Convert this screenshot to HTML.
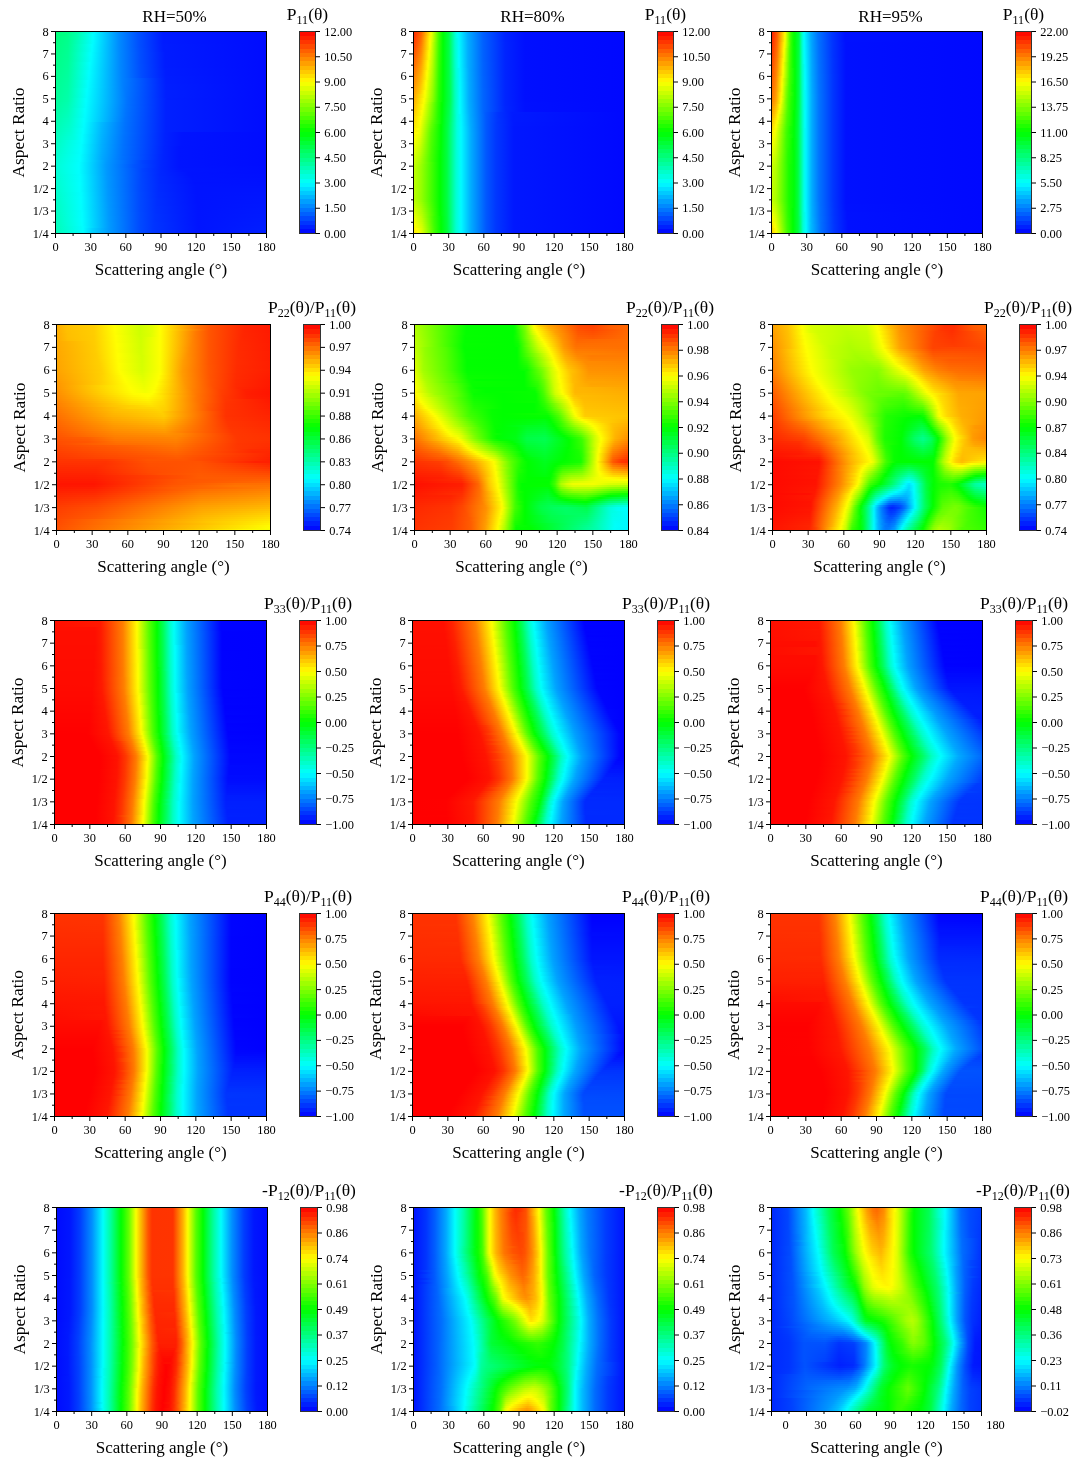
<!DOCTYPE html>
<html><head><meta charset="utf-8"><title>Scattering matrix contour plots</title>
<style>
html,body{margin:0;padding:0;background:#fff;}
body{width:1080px;height:1467px;position:relative;overflow:hidden;}
.hm{position:absolute;overflow:hidden;}
.hm i{display:block;}
.cb{position:absolute;}
svg{position:absolute;left:0;top:0;}
text{font-family:"Liberation Serif","DejaVu Serif",serif;fill:#000;}
line{stroke:#000;stroke-width:1;}
.fr{fill:none;stroke:#000;stroke-width:1;}
.cf{fill:none;stroke:#333;stroke-width:1;}
</style></head><body>
<div class="hm" style="left:56px;top:32px;width:210px;height:201px"><i style="height:2px;background:linear-gradient(90deg,#00ff7b 0px,#00ff8a 12px,#00ffad 22px,#00fbff 38px,#008bff 63px,#0051ff 82px,#001aff 107px,#000cff 210px)"></i><i style="height:2px;background:linear-gradient(90deg,#00ff7c 0px,#00ff82 9px,#00ffa7 20px,#0ff 37px,#008bff 63px,#0051ff 82px,#001aff 107px,#000cff 210px)"></i><i style="height:2px;background:linear-gradient(90deg,#00ff7d 0px,#00ff8c 12px,#00ffb0 22px,#00feff 37px,#008bff 63px,#0051ff 82px,#001bff 107px,#000cff 210px)"></i><i style="height:2px;background:linear-gradient(90deg,#00ff7e 0px,#00ff8d 12px,#00ffb1 22px,#00feff 37px,#008bff 63px,#0051ff 82px,#001bff 107px,#000cff 210px)"></i><i style="height:2px;background:linear-gradient(90deg,#00ff7f 0px,#00ff8e 12px,#00fdff 37px,#008bff 63px,#004fff 83px,#001bff 107px,#000cff 210px)"></i><i style="height:2px;background:linear-gradient(90deg,#00ff7f 0px,#00ff8f 12px,#00fcff 37px,#008bff 63px,#004fff 83px,#001bff 107px,#000cff 210px)"></i><i style="height:2px;background:linear-gradient(90deg,#00ff80 0px,#00ff90 12px,#0ff 36px,#008bff 63px,#004fff 83px,#001cff 107px,#000cff 210px)"></i><i style="height:2px;background:linear-gradient(90deg,#00ff81 0px,#00ff91 12px,#00feff 36px,#008bff 63px,#004fff 83px,#001cff 107px,#000cff 210px)"></i><i style="height:2px;background:linear-gradient(90deg,#00ff82 0px,#00ff92 12px,#00fdff 36px,#008bff 63px,#0050ff 83px,#001cff 107px,#000cff 210px)"></i><i style="height:2px;background:linear-gradient(90deg,#00ff83 0px,#00ff93 12px,#00fdff 36px,#008bff 63px,#0050ff 83px,#001bff 108px,#000cff 210px)"></i><i style="height:2px;background:linear-gradient(90deg,#00ff84 0px,#00ff94 12px,#00fffe 35px,#08f 64px,#004eff 84px,#001bff 109px,#000cff 210px)"></i><i style="height:2px;background:linear-gradient(90deg,#00ff85 0px,#00ff95 12px,#0ff 35px,#08f 64px,#004eff 84px,#001bff 109px,#000cff 210px)"></i><i style="height:2px;background:linear-gradient(90deg,#00ff86 0px,#00ff95 12px,#00feff 35px,#08f 64px,#004eff 84px,#001bff 109px,#000cff 210px)"></i><i style="height:2px;background:linear-gradient(90deg,#00ff87 0px,#00ff96 12px,#00fdff 35px,#08f 64px,#004eff 84px,#001bff 109px,#000cff 210px)"></i><i style="height:2px;background:linear-gradient(90deg,#0f8 0px,#00ff97 12px,#00fcff 35px,#08f 64px,#004eff 84px,#001cff 109px,#000cff 210px)"></i><i style="height:2px;background:linear-gradient(90deg,#00ff89 0px,#00ff98 12px,#0ff 34px,#08f 64px,#004eff 84px,#001cff 109px,#000cff 210px)"></i><i style="height:2px;background:linear-gradient(90deg,#00ff89 0px,#0f9 12px,#00feff 34px,#08f 64px,#004fff 84px,#001cff 109px,#000cff 210px)"></i><i style="height:2px;background:linear-gradient(90deg,#00ff8a 0px,#00ff9a 12px,#00fdff 34px,#08f 64px,#004fff 84px,#001cff 109px,#000cff 210px)"></i><i style="height:2px;background:linear-gradient(90deg,#00ff8b 0px,#00ff9b 12px,#00fcff 34px,#08f 64px,#004fff 84px,#001dff 109px,#000cff 210px)"></i><i style="height:2px;background:linear-gradient(90deg,#00ff8c 0px,#00ff9c 12px,#00fffe 33px,#0085ff 65px,#004dff 85px,#001cff 110px,#000cff 210px)"></i><i style="height:2px;background:linear-gradient(90deg,#00ff8d 0px,#00ff9d 12px,#0ff 33px,#0085ff 65px,#004dff 85px,#001cff 110px,#000cff 210px)"></i><i style="height:2px;background:linear-gradient(90deg,#00ff8e 0px,#00ff9e 12px,#00feff 33px,#0085ff 65px,#004bff 86px,#001cff 110px,#000cff 210px)"></i><i style="height:2px;background:linear-gradient(90deg,#00ff8f 0px,#00ff9f 12px,#00fdff 33px,#0082ff 66px,#004bff 86px,#001dff 110px,#000cff 210px)"></i><i style="height:2px;background:linear-gradient(90deg,#00ff90 0px,#00ffa0 12px,#00fcff 33px,#0082ff 66px,#001dff 110px,#000cff 210px)"></i><i style="height:2px;background:linear-gradient(90deg,#00ff91 0px,#00ffa1 12px,#0ff 32px,#0082ff 66px,#001dff 110px,#000cff 210px)"></i><i style="height:2px;background:linear-gradient(90deg,#00ff92 0px,#00ffa2 12px,#00feff 32px,#007fff 67px,#001dff 110px,#000cff 210px)"></i><i style="height:2px;background:linear-gradient(90deg,#00ff93 0px,#00ffa3 12px,#00fdff 32px,#007fff 67px,#001eff 110px,#000cff 210px)"></i><i style="height:2px;background:linear-gradient(90deg,#00ff94 0px,#00ffa4 12px,#00fdff 32px,#007cff 68px,#001eff 110px,#000cff 210px)"></i><i style="height:2px;background:linear-gradient(90deg,#00ff94 0px,#00ffa5 12px,#00fffe 31px,#007cff 68px,#001eff 110px,#000cff 210px)"></i><i style="height:2px;background:linear-gradient(90deg,#00ff95 0px,#00ffa6 12px,#0ff 31px,#007aff 69px,#001fff 110px,#000cff 210px)"></i><i style="height:2px;background:linear-gradient(90deg,#00ff96 0px,#00ffa7 12px,#00feff 31px,#07f 70px,#001fff 110px,#000cff 210px)"></i><i style="height:2px;background:linear-gradient(90deg,#00ff97 0px,#00ffa8 12px,#00fdff 31px,#07f 70px,#001fff 110px,#000cff 210px)"></i><i style="height:2px;background:linear-gradient(90deg,#00ff98 0px,#00ffa9 12px,#00fcff 31px,#0074ff 71px,#001fff 110px,#000cff 210px)"></i><i style="height:2px;background:linear-gradient(90deg,#0f9 0px,#0fa 12px,#00fffe 30px,#0071ff 72px,#001eff 111px,#000cff 210px)"></i><i style="height:2px;background:linear-gradient(90deg,#00ff9b 0px,#00ffac 12px,#0ff 30px,#0073ff 71px,#0020ff 110px,#000cff 210px)"></i><i style="height:2px;background:linear-gradient(90deg,#00ff9d 0px,#00ffaf 12px,#00feff 30px,#0073ff 71px,#0020ff 110px,#000cff 210px)"></i><i style="height:2px;background:linear-gradient(90deg,#00ff9e 0px,#00ffb1 12px,#00fdff 30px,#0072ff 71px,#0020ff 110px,#000cff 210px)"></i><i style="height:2px;background:linear-gradient(90deg,#00ffa0 0px,#00ffb3 12px,#00fcff 30px,#0075ff 70px,#0020ff 110px,#000cff 210px)"></i><i style="height:2px;background:linear-gradient(90deg,#00ffa2 0px,#00ffb5 12px,#00fffe 29px,#0074ff 70px,#0020ff 110px,#000cff 210px)"></i><i style="height:2px;background:linear-gradient(90deg,#00ffa4 0px,#00ffb7 12px,#0ff 29px,#0074ff 70px,#0020ff 110px,#000cff 210px)"></i><i style="height:2px;background:linear-gradient(90deg,#00ffa6 0px,#00ffb9 12px,#00feff 29px,#0073ff 70px,#0020ff 110px,#000cff 210px)"></i><i style="height:2px;background:linear-gradient(90deg,#00ffa8 0px,#0fb 12px,#00fdff 29px,#0073ff 70px,#0020ff 110px,#000cff 210px)"></i><i style="height:2px;background:linear-gradient(90deg,#00ffa9 0px,#00ffbd 12px,#00fcff 29px,#0072ff 70px,#0020ff 110px,#000cff 210px)"></i><i style="height:2px;background:linear-gradient(90deg,#00ffab 0px,#00ffc2 13px,#00fffe 28px,#0074ff 69px,#0020ff 110px,#000cff 210px)"></i><i style="height:2px;background:linear-gradient(90deg,#00ffad 0px,#00ffc4 13px,#0ff 28px,#0074ff 69px,#0020ff 110px,#000cff 210px)"></i><i style="height:2px;background:linear-gradient(90deg,#00ffaf 0px,#00ffc6 13px,#00feff 28px,#0bf 45px,#0073ff 69px,#0020ff 110px,#000cff 210px)"></i><i style="height:2px;background:linear-gradient(90deg,#00ffb1 0px,#00ffc8 13px,#00fdff 28px,#00b7ff 46px,#0073ff 69px,#0020ff 110px,#000cff 210px)"></i><i style="height:2px;background:linear-gradient(90deg,#00ffb3 0px,#00ffca 13px,#00fcff 28px,#00b6ff 46px,#0072ff 69px,#0020ff 110px,#000cff 210px)"></i><i style="height:2px;background:linear-gradient(90deg,#00ffb4 0px,#00ffcf 14px,#00fffe 27px,#00b5ff 46px,#0072ff 69px,#0020ff 110px,#000cff 210px)"></i><i style="height:2px;background:linear-gradient(90deg,#00ffb6 0px,#00ffd0 14px,#0ff 27px,#00b5ff 46px,#0071ff 69px,#0020ff 110px,#000cff 210px)"></i><i style="height:2px;background:linear-gradient(90deg,#00ffb8 0px,#00ffd5 15px,#00feff 27px,#00b4ff 46px,#0074ff 68px,#0021ff 109px,#0014ff 126px,#000cff 210px)"></i><i style="height:2px;background:linear-gradient(90deg,#00ffba 0px,#00ffd7 15px,#00fffd 26px,#00b3ff 46px,#0073ff 68px,#0021ff 109px,#0014ff 126px,#000cff 210px)"></i><i style="height:2px;background:linear-gradient(90deg,#00ffbc 0px,#00ffe0 18px,#00fffe 26px,#00b2ff 46px,#0072ff 68px,#0021ff 109px,#0014ff 126px,#000cff 210px)"></i><i style="height:2px;background:linear-gradient(90deg,#00ffbe 0px,#00ffe1 18px,#0ff 26px,#00b1ff 46px,#0072ff 68px,#0021ff 109px,#0014ff 126px,#000cff 210px)"></i><i style="height:2px;background:linear-gradient(90deg,#00ffbf 0px,#0ff 26px,#00b0ff 46px,#0071ff 68px,#0021ff 109px,#0014ff 126px,#000cff 210px)"></i><i style="height:2px;background:linear-gradient(90deg,#00ffc1 0px,#00feff 26px,#00afff 46px,#0071ff 68px,#0021ff 109px,#0014ff 126px,#000cff 210px)"></i><i style="height:2px;background:linear-gradient(90deg,#00ffc3 0px,#00fffd 25px,#00aeff 46px,#0070ff 68px,#0021ff 109px,#0014ff 126px,#000cff 210px)"></i><i style="height:2px;background:linear-gradient(90deg,#00ffc5 0px,#00fffe 25px,#00aeff 46px,#0073ff 67px,#02f 108px,#0014ff 123px,#000cff 210px)"></i><i style="height:2px;background:linear-gradient(90deg,#00ffc7 0px,#0ff 25px,#00adff 46px,#0072ff 67px,#02f 108px,#0014ff 123px,#000cff 210px)"></i><i style="height:2px;background:linear-gradient(90deg,#00ffc8 0px,#00feff 25px,#00acff 46px,#0071ff 67px,#02f 108px,#0014ff 123px,#000cff 210px)"></i><i style="height:2px;background:linear-gradient(90deg,#00ffca 0px,#00fdff 25px,#00abff 46px,#0071ff 67px,#02f 108px,#0014ff 123px,#000cff 210px)"></i><i style="height:2px;background:linear-gradient(90deg,#0fc 0px,#00fffd 24px,#0af 46px,#0070ff 67px,#0023ff 107px,#0014ff 123px,#000cff 210px)"></i><i style="height:2px;background:linear-gradient(90deg,#00ffce 0px,#00fffe 24px,#00a9ff 46px,#0073ff 66px,#0023ff 107px,#0014ff 123px,#000cff 210px)"></i><i style="height:2px;background:linear-gradient(90deg,#00ffd0 0px,#0ff 24px,#00a8ff 46px,#0072ff 66px,#0023ff 107px,#0014ff 123px,#000cff 210px)"></i><i style="height:2px;background:linear-gradient(90deg,#00ffd2 0px,#00feff 24px,#09f 51px,#0042ff 87px,#0024ff 106px,#0014ff 123px,#000cff 210px)"></i><i style="height:2px;background:linear-gradient(90deg,#00ffd3 0px,#00fffe 23px,#0098ff 51px,#0042ff 87px,#0024ff 106px,#0014ff 123px,#000cff 210px)"></i><i style="height:2px;background:linear-gradient(90deg,#00ffd5 0px,#0ff 23px,#009aff 50px,#0054ff 78px,#0025ff 105px,#0014ff 123px,#000cff 210px)"></i><i style="height:2px;background:linear-gradient(90deg,#00ffd6 0px,#0ff 23px,#009aff 50px,#0054ff 78px,#0025ff 105px,#0014ff 123px,#000dff 210px)"></i><i style="height:2px;background:linear-gradient(90deg,#00ffd5 0px,#0ff 23px,#0097ff 51px,#0041ff 87px,#0025ff 105px,#0015ff 123px,#000dff 210px)"></i><i style="height:2px;background:linear-gradient(90deg,#00ffd4 0px,#00fffe 23px,#0098ff 51px,#0041ff 87px,#0026ff 105px,#0014ff 127px,#000eff 210px)"></i><i style="height:2px;background:linear-gradient(90deg,#00ffd3 0px,#00fffe 23px,#0098ff 51px,#04f 86px,#0026ff 105px,#0013ff 132px,#000eff 210px)"></i><i style="height:2px;background:linear-gradient(90deg,#00ffd2 0px,#00fdff 24px,#0098ff 51px,#04f 86px,#0027ff 104px,#0013ff 133px,#000fff 210px)"></i><i style="height:2px;background:linear-gradient(90deg,#00ffd1 0px,#00feff 24px,#09f 51px,#04f 86px,#0028ff 104px,#0013ff 135px,#000fff 210px)"></i><i style="height:2px;background:linear-gradient(90deg,#00ffd0 0px,#00feff 24px,#09f 51px,#0046ff 85px,#0028ff 104px,#0013ff 137px,#0010ff 210px)"></i><i style="height:2px;background:linear-gradient(90deg,#00ffcf 0px,#00feff 24px,#0097ff 52px,#04f 86px,#0028ff 104px,#0013ff 138px,#0010ff 210px)"></i><i style="height:2px;background:linear-gradient(90deg,#00ffce 0px,#0ff 24px,#0097ff 52px,#04f 86px,#0028ff 104px,#0012ff 139px,#01f 210px)"></i><i style="height:2px;background:linear-gradient(90deg,#00ffce 0px,#0ff 24px,#0097ff 52px,#0046ff 85px,#002aff 103px,#0013ff 139px,#01f 210px)"></i><i style="height:2px;background:linear-gradient(90deg,#00ffcd 0px,#00fffe 24px,#0097ff 52px,#0046ff 85px,#002aff 103px,#0013ff 140px,#0012ff 210px)"></i><i style="height:2px;background:linear-gradient(90deg,#0fc 0px,#00fffe 24px,#0098ff 52px,#0046ff 85px,#002aff 103px,#0013ff 140px,#0013ff 210px)"></i><i style="height:2px;background:linear-gradient(90deg,#00ffcb 0px,#00fffe 24px,#0098ff 52px,#0046ff 85px,#002aff 103px,#0013ff 140px,#0013ff 210px)"></i><i style="height:2px;background:linear-gradient(90deg,#00ffca 0px,#00fdff 25px,#0098ff 52px,#0047ff 85px,#002cff 102px,#0013ff 140px,#0014ff 210px)"></i><i style="height:2px;background:linear-gradient(90deg,#00ffc9 0px,#00fdff 25px,#0098ff 52px,#0047ff 85px,#002cff 102px,#0013ff 141px,#0014ff 210px)"></i><i style="height:2px;background:linear-gradient(90deg,#00ffc8 0px,#00feff 25px,#09f 52px,#0047ff 85px,#002cff 102px,#0013ff 141px,#0015ff 210px)"></i><i style="height:2px;background:linear-gradient(90deg,#00ffc7 0px,#00feff 25px,#09f 52px,#0047ff 85px,#002dff 102px,#0013ff 141px,#0015ff 210px)"></i><i style="height:2px;background:linear-gradient(90deg,#00ffc6 0px,#0ff 25px,#09f 52px,#0049ff 84px,#002eff 101px,#0013ff 141px,#0016ff 210px)"></i><i style="height:2px;background:linear-gradient(90deg,#00ffc5 0px,#0ff 25px,#009aff 52px,#0049ff 84px,#002eff 101px,#0013ff 141px,#0016ff 210px)"></i><i style="height:2px;background:linear-gradient(90deg,#00ffc4 0px,#00fffe 25px,#0097ff 53px,#0049ff 84px,#002eff 101px,#0013ff 142px,#0017ff 210px)"></i><i style="height:2px;background:linear-gradient(90deg,#00ffc3 0px,#00fffe 25px,#0097ff 53px,#0049ff 84px,#0030ff 100px,#0013ff 142px,#0017ff 210px)"></i><i style="height:2px;background:linear-gradient(90deg,#00ffc3 0px,#00fffe 25px,#0098ff 53px,#0049ff 84px,#0030ff 100px,#0013ff 142px,#0018ff 210px)"></i><i style="height:2px;background:linear-gradient(90deg,#00ffc2 0px,#00fdff 26px,#0098ff 53px,#0049ff 84px,#0030ff 100px,#0014ff 142px,#0019ff 210px)"></i><i style="height:2px;background:linear-gradient(90deg,#00ffc1 0px,#00feff 26px,#0098ff 53px,#004aff 84px,#0030ff 100px,#0014ff 142px,#0019ff 210px)"></i><i style="height:2px;background:linear-gradient(90deg,#00ffc0 0px,#00feff 26px,#0098ff 53px,#004aff 84px,#0032ff 99px,#0014ff 142px,#001aff 210px)"></i><i style="height:2px;background:linear-gradient(90deg,#00ffbf 0px,#00feff 26px,#09f 53px,#004aff 84px,#0032ff 99px,#0014ff 142px,#001aff 210px)"></i><i style="height:2px;background:linear-gradient(90deg,#00ffbe 0px,#0ff 26px,#09f 53px,#004aff 84px,#0032ff 99px,#0014ff 142px,#001bff 210px)"></i><i style="height:2px;background:linear-gradient(90deg,#00ffbd 0px,#0ff 26px,#09f 53px,#004aff 84px,#0032ff 99px,#0014ff 142px,#001bff 210px)"></i><i style="height:2px;background:linear-gradient(90deg,#00ffbc 0px,#00fffe 26px,#009aff 53px,#004aff 84px,#0034ff 98px,#0014ff 142px,#001cff 210px)"></i><i style="height:2px;background:linear-gradient(90deg,#0fb 0px,#00fffe 26px,#009aff 53px,#004aff 84px,#0034ff 98px,#0014ff 142px,#001cff 210px)"></i><i style="height:2px;background:linear-gradient(90deg,#00ffba 0px,#00fdff 27px,#009aff 53px,#004aff 84px,#0034ff 98px,#0014ff 143px,#001dff 210px)"></i><i style="height:2px;background:linear-gradient(90deg,#00ffb9 0px,#00fdff 27px,#00d2ff 36px,#009aff 53px,#004aff 84px,#0034ff 98px,#0014ff 143px,#001eff 210px)"></i><i style="height:2px;background:linear-gradient(90deg,#00ffb9 0px,#00feff 27px,#00d2ff 36px,#009bff 53px,#004dff 83px,#0036ff 97px,#0015ff 143px,#001eff 210px)"></i><i style="height:1px;background:linear-gradient(90deg,#00ffb8 0px,#00feff 27px,#00d2ff 36px,#009bff 53px,#004dff 83px,#0036ff 97px,#0015ff 143px,#001eff 210px)"></i></div>
<div class="cb" style="left:300px;top:32px;width:15px;height:201px;background:linear-gradient(180deg,#ff0b00 0%,#ff0b00 2.1%,#ff2000 2.1%,#ff2000 4.2%,#ff3500 4.2%,#ff3500 6.2%,#ff4a00 6.2%,#ff4a00 8.3%,#ff6000 8.3%,#ff6000 10.4%,#ff7500 10.4%,#ff7500 12.5%,#ff8a00 12.5%,#ff8a00 14.6%,#ff9f00 14.6%,#ff9f00 16.7%,#ffb500 16.7%,#ffb500 18.8%,#ffca00 18.8%,#ffca00 20.8%,#ffdf00 20.8%,#ffdf00 22.9%,#fff400 22.9%,#fff400 25%,#f4ff00 25%,#f4ff00 27.1%,#dfff00 27.1%,#dfff00 29.2%,#caff00 29.2%,#caff00 31.2%,#b5ff00 31.2%,#b5ff00 33.3%,#9fff00 33.3%,#9fff00 35.4%,#8aff00 35.4%,#8aff00 37.5%,#75ff00 37.5%,#75ff00 39.6%,#60ff00 39.6%,#60ff00 41.7%,#4aff00 41.7%,#4aff00 43.8%,#35ff00 43.8%,#35ff00 45.8%,#20ff00 45.8%,#20ff00 47.9%,#0bff00 47.9%,#0bff00 50%,#00ff0b 50%,#00ff0b 52.1%,#00ff20 52.1%,#00ff20 54.2%,#00ff35 54.2%,#00ff35 56.2%,#00ff4a 56.2%,#00ff4a 58.3%,#00ff60 58.3%,#00ff60 60.4%,#00ff75 60.4%,#00ff75 62.5%,#00ff8a 62.5%,#00ff8a 64.6%,#00ff9f 64.6%,#00ff9f 66.7%,#00ffb5 66.7%,#00ffb5 68.8%,#00ffca 68.8%,#00ffca 70.8%,#00ffdf 70.8%,#00ffdf 72.9%,#00fff4 72.9%,#00fff4 75%,#00f4ff 75%,#00f4ff 77.1%,#00dfff 77.1%,#00dfff 79.2%,#00caff 79.2%,#00caff 81.2%,#00b5ff 81.2%,#00b5ff 83.3%,#009fff 83.3%,#009fff 85.4%,#008aff 85.4%,#008aff 87.5%,#0075ff 87.5%,#0075ff 89.6%,#0060ff 89.6%,#0060ff 91.7%,#004aff 91.7%,#004aff 93.8%,#0035ff 93.8%,#0035ff 95.8%,#0020ff 95.8%,#0020ff 97.9%,#000bff 97.9%,#000bff 100%)"></div>
<div class="hm" style="left:414px;top:32px;width:210px;height:201px"><i style="height:2px;background:linear-gradient(90deg,#ff2b00 0px,#ff6100 7px,#fbff00 17px,#40ff00 25px,#00ff03 29px,#00ff47 35px,#00ffd2 41px,#00fff2 43px,#00f7ff 45px,#00abff 54px,#0060ff 69px,#0023ff 91px,#000fff 111px,#0008ff 210px)"></i><i style="height:2px;background:linear-gradient(90deg,#ff2f00 0px,#ff6500 7px,#f9ff00 17px,#3fff00 25px,#00ff03 29px,#00ff47 35px,#00ffd1 41px,#00fff2 43px,#00f8ff 45px,#00acff 54px,#0060ff 69px,#0023ff 91px,#000fff 111px,#0008ff 210px)"></i><i style="height:2px;background:linear-gradient(90deg,#f30 0px,#ff6900 7px,#fff600 16px,#e2ff00 18px,#3eff00 25px,#00ff03 29px,#00ff47 35px,#00ffd0 41px,#00fff1 43px,#00f8ff 45px,#00acff 54px,#0060ff 69px,#0023ff 91px,#000fff 111px,#0008ff 210px)"></i><i style="height:2px;background:linear-gradient(90deg,#ff3700 0px,#ff6d00 7px,#fff900 16px,#dfff00 18px,#3dff00 25px,#00ff03 29px,#00ff47 35px,#00ffd0 41px,#00f9ff 45px,#00acff 54px,#0061ff 69px,#0023ff 91px,#000fff 111px,#0008ff 210px)"></i><i style="height:2px;background:linear-gradient(90deg,#ff3b00 0px,#ff7100 7px,#fffc00 16px,#c7ff00 19px,#3cff00 25px,#00ff03 29px,#00ff47 35px,#00ffcf 41px,#00f9ff 45px,#00acff 54px,#0061ff 69px,#0023ff 91px,#000fff 111px,#0008ff 210px)"></i><i style="height:2px;background:linear-gradient(90deg,#ff3f00 0px,#ff7400 7px,#fffe00 16px,#3cff00 25px,#00ff03 29px,#00ff47 35px,#00ffce 41px,#00faff 45px,#00adff 54px,#0061ff 69px,#0024ff 91px,#000fff 111px,#0008ff 210px)"></i><i style="height:2px;background:linear-gradient(90deg,#ff4300 0px,#ff7800 7px,#fdff00 16px,#3bff00 25px,#00ff04 29px,#00ff46 35px,#00ffcd 41px,#00faff 45px,#00adff 54px,#0061ff 69px,#0024ff 91px,#000fff 111px,#0008ff 210px)"></i><i style="height:2px;background:linear-gradient(90deg,#ff4600 0px,#ff7c00 7px,#faff00 16px,#3aff00 25px,#00ff04 29px,#00ff46 35px,#00ffcd 41px,#00fbff 45px,#00adff 54px,#0061ff 69px,#0024ff 91px,#000fff 111px,#0008ff 210px)"></i><i style="height:2px;background:linear-gradient(90deg,#ff4a00 0px,#ff8000 7px,#f7ff00 16px,#39ff00 25px,#00ff04 29px,#00ff46 35px,#0fc 41px,#00fbff 45px,#00adff 54px,#0061ff 69px,#0024ff 91px,#000fff 111px,#0008ff 210px)"></i><i style="height:2px;background:linear-gradient(90deg,#ff4e00 0px,#ff8400 7px,#fffa00 15px,#d1ff00 18px,#38ff00 25px,#00ff04 29px,#00ff46 35px,#00ffcb 41px,#00fcff 45px,#00aeff 54px,#0062ff 69px,#0024ff 91px,#000fff 111px,#0008ff 210px)"></i><i style="height:2px;background:linear-gradient(90deg,#ff5200 0px,#ff8700 7px,#fffd00 15px,#baff00 19px,#37ff00 25px,#00ff04 29px,#00ff46 35px,#00ffcb 41px,#00fcff 45px,#00aeff 54px,#0062ff 69px,#0024ff 91px,#000fff 111px,#0008ff 210px)"></i><i style="height:2px;background:linear-gradient(90deg,#ff5600 0px,#ff8b00 7px,#feff00 15px,#b8ff00 19px,#36ff00 25px,#00ff04 29px,#00ff46 35px,#00ffca 41px,#00fdff 45px,#00aeff 54px,#0062ff 69px,#0024ff 91px,#000fff 111px,#0008ff 210px)"></i><i style="height:2px;background:linear-gradient(90deg,#ff5a00 0px,#ff8f00 7px,#fbff00 15px,#b6ff00 19px,#35ff00 25px,#00ff04 29px,#00ff46 35px,#00ffc9 41px,#00fdff 45px,#00aeff 54px,#0062ff 69px,#0024ff 91px,#000fff 111px,#0008ff 210px)"></i><i style="height:2px;background:linear-gradient(90deg,#ff5e00 0px,#ff9300 7px,#f8ff00 15px,#b4ff00 19px,#34ff00 25px,#00ff04 29px,#00ff45 35px,#00ffc9 41px,#00feff 45px,#00aeff 54px,#0062ff 69px,#0024ff 91px,#000fff 111px,#0008ff 210px)"></i><i style="height:2px;background:linear-gradient(90deg,#ff6200 0px,#ff9700 7px,#fffa00 14px,#c4ff00 18px,#3f0 25px,#00ff05 29px,#00ff45 35px,#00ffc8 41px,#00feff 45px,#00afff 54px,#0062ff 69px,#0024ff 91px,#000fff 111px,#0008ff 210px)"></i><i style="height:2px;background:linear-gradient(90deg,#f60 0px,#ff9a00 7px,#fffd00 14px,#c2ff00 18px,#3f0 25px,#00ff05 29px,#00ff45 35px,#00ffc7 41px,#0ff 45px,#00afff 54px,#0063ff 69px,#0024ff 91px,#000fff 111px,#0008ff 210px)"></i><i style="height:2px;background:linear-gradient(90deg,#ff6a00 0px,#ff9e00 7px,#feff00 14px,#adff00 19px,#32ff00 25px,#00ff05 29px,#00ff45 35px,#00ffc6 41px,#00fffe 45px,#00afff 54px,#0063ff 69px,#0024ff 91px,#000fff 111px,#0008ff 210px)"></i><i style="height:2px;background:linear-gradient(90deg,#ff6e00 0px,#ffa200 7px,#fbff00 14px,#abff00 19px,#31ff00 25px,#00ff05 29px,#00ff45 35px,#00ffc6 41px,#00fffe 45px,#00afff 54px,#0063ff 69px,#0024ff 91px,#000fff 111px,#0008ff 210px)"></i><i style="height:2px;background:linear-gradient(90deg,#ff7200 0px,#ffa600 7px,#f8ff00 14px,#a8ff00 19px,#30ff00 25px,#00ff05 29px,#00ff45 35px,#00ffd6 42px,#00f7ff 46px,#00a9ff 55px,#0063ff 69px,#0024ff 91px,#000fff 111px,#0008ff 210px)"></i><i style="height:2px;background:linear-gradient(90deg,#ff7600 0px,#fa0 7px,#fffb00 13px,#b8ff00 18px,#2fff00 25px,#00ff05 29px,#00ff45 35px,#00ffd6 42px,#00f7ff 46px,#00a9ff 55px,#0063ff 69px,#0024ff 91px,#000fff 111px,#0008ff 210px)"></i><i style="height:2px;background:linear-gradient(90deg,#ff7a00 0px,#ffad00 7px,#fffe00 13px,#b6ff00 18px,#2eff00 25px,#00ff05 29px,#0f4 35px,#00ffd5 42px,#00f8ff 46px,#0af 55px,#0063ff 69px,#0024ff 91px,#000fff 111px,#0008ff 210px)"></i><i style="height:2px;background:linear-gradient(90deg,#ff7e00 0px,#ffb100 7px,#fdff00 13px,#a2ff00 19px,#2dff00 25px,#00ff05 29px,#0f4 35px,#00ffd4 42px,#00f8ff 46px,#0af 55px,#0063ff 69px,#0024ff 91px,#000fff 111px,#0008ff 210px)"></i><i style="height:2px;background:linear-gradient(90deg,#ff8200 0px,#ffb500 7px,#faff00 13px,#a0ff00 19px,#2cff00 25px,#00ff06 29px,#0f4 35px,#00ffd3 42px,#00f8ff 46px,#0af 55px,#0064ff 69px,#0024ff 91px,#000fff 111px,#0008ff 210px)"></i><i style="height:2px;background:linear-gradient(90deg,#ff8600 0px,#ffaf00 6px,#f7ff00 13px,#9dff00 19px,#2bff00 25px,#00ff06 29px,#0f4 35px,#00ffd3 42px,#00f9ff 46px,#0af 55px,#0064ff 69px,#0024ff 91px,#000fff 111px,#0008ff 210px)"></i><i style="height:2px;background:linear-gradient(90deg,#ff8a00 0px,#ffbc00 7px,#fffb00 12px,#acff00 18px,#2aff00 25px,#00ff06 29px,#00ff52 36px,#00ffc1 41px,#00f9ff 46px,#0af 55px,#0064ff 69px,#0025ff 91px,#000fff 111px,#0008ff 210px)"></i><i style="height:2px;background:linear-gradient(90deg,#ff8e00 0px,#ffc000 7px,#fffe00 12px,#9f0 19px,#2aff00 25px,#00ff06 29px,#00ff52 36px,#00ffc0 41px,#00faff 46px,#00abff 55px,#0064ff 69px,#0025ff 91px,#000fff 111px,#0008ff 210px)"></i><i style="height:2px;background:linear-gradient(90deg,#ff9200 0px,#fb0 6px,#fdff00 12px,#97ff00 19px,#29ff00 25px,#00ff06 29px,#00ff52 36px,#00ffbf 41px,#00faff 46px,#00abff 55px,#0064ff 69px,#0025ff 91px,#000fff 111px,#0008ff 210px)"></i><i style="height:2px;background:linear-gradient(90deg,#ff9600 0px,#ffbf00 6px,#faff00 12px,#94ff00 19px,#28ff00 25px,#00ff06 29px,#00ff51 36px,#00ffbf 41px,#00fbff 46px,#00abff 55px,#0064ff 69px,#0025ff 91px,#000fff 111px,#0008ff 210px)"></i><i style="height:2px;background:linear-gradient(90deg,#ff9a00 0px,#ffc300 6px,#f7ff00 12px,#92ff00 19px,#27ff00 25px,#00ff06 29px,#00ff51 36px,#00ffbe 41px,#00fbff 46px,#00abff 55px,#0065ff 69px,#0025ff 91px,#000fff 111px,#0008ff 210px)"></i><i style="height:2px;background:linear-gradient(90deg,#ff9e00 0px,#ffc700 6px,#fffd00 11px,#90ff00 19px,#26ff00 25px,#00ff07 29px,#00ff51 36px,#00ffbd 41px,#00fbff 46px,#00acff 55px,#0065ff 69px,#0025ff 91px,#000fff 111px,#0008ff 210px)"></i><i style="height:2px;background:linear-gradient(90deg,#ffa200 0px,#ffcb00 6px,#feff00 11px,#8eff00 19px,#25ff00 25px,#00ff07 29px,#00ff50 36px,#00ffbd 41px,#00fcff 46px,#00acff 55px,#0065ff 69px,#0025ff 91px,#000fff 111px,#0008ff 210px)"></i><i style="height:2px;background:linear-gradient(90deg,#ffa500 0px,#fbff00 11px,#8cff00 19px,#24ff00 25px,#00ff07 29px,#00ff50 36px,#00ffbc 41px,#00fcff 46px,#00acff 55px,#0065ff 69px,#0025ff 91px,#000fff 111px,#0008ff 210px)"></i><i style="height:2px;background:linear-gradient(90deg,#ffa900 0px,#f8ff00 11px,#89ff00 19px,#23ff00 25px,#00ff07 29px,#00ff50 36px,#0fb 41px,#00fdff 46px,#00acff 55px,#0065ff 69px,#0025ff 91px,#000fff 111px,#0008ff 210px)"></i><i style="height:2px;background:linear-gradient(90deg,#ffad00 0px,#fffc00 10px,#87ff00 19px,#2f0 25px,#00ff07 29px,#00ff4f 36px,#0fb 41px,#00fdff 46px,#00acff 55px,#0065ff 69px,#0025ff 91px,#000fff 111px,#0008ff 210px)"></i><i style="height:2px;background:linear-gradient(90deg,#ffb200 0px,#fdff00 10px,#83ff00 19px,#2fff00 24px,#00ff08 29px,#00ff51 36px,#0fb 41px,#00feff 46px,#00adff 55px,#06f 69px,#0025ff 91px,#000fff 111px,#0008ff 210px)"></i><i style="height:2px;background:linear-gradient(90deg,#ffb600 0px,#f9ff00 10px,#2dff00 24px,#01ff00 28px,#00ff53 36px,#0fb 41px,#00feff 46px,#00aeff 55px,#06f 69px,#0025ff 91px,#0010ff 111px,#0008ff 210px)"></i><i style="height:2px;background:linear-gradient(90deg,#ffba00 0px,#fffe00 9px,#2cff00 24px,#0f0 28px,#0f5 36px,#00ffbc 41px,#00feff 46px,#00afff 55px,#06f 69px,#0025ff 91px,#0010ff 111px,#0008ff 210px)"></i><i style="height:2px;background:linear-gradient(90deg,#ffbe00 0px,#fcff00 9px,#2aff00 24px,#00ff01 28px,#00ff57 36px,#00ffbc 41px,#0ff 46px,#00afff 55px,#06f 69px,#0026ff 91px,#0010ff 111px,#0008ff 210px)"></i><i style="height:2px;background:linear-gradient(90deg,#ffc300 0px,#f8ff00 9px,#29ff00 24px,#00ff02 28px,#00ff59 36px,#00ffbd 41px,#0ff 46px,#00b0ff 55px,#06f 69px,#0026ff 91px,#0010ff 111px,#0008ff 210px)"></i><i style="height:2px;background:linear-gradient(90deg,#ffc700 0px,#ff0 8px,#28ff00 24px,#00ff03 28px,#00ff4d 35px,#00ffce 42px,#00fffe 46px,#00b1ff 55px,#0061ff 70px,#0024ff 92px,#0010ff 111px,#0008ff 210px)"></i><i style="height:2px;background:linear-gradient(90deg,#ffcb00 0px,#fbff00 8px,#26ff00 24px,#00ff03 28px,#00ff4e 35px,#00ffce 42px,#00fffe 46px,#00b2ff 55px,#005cff 71px,#03f 84px,#001bff 98px,#0008ff 210px)"></i><i style="height:2px;background:linear-gradient(90deg,#ffd000 0px,#f7ff00 8px,#25ff00 24px,#00ff04 28px,#00ff50 35px,#0fd 43px,#00f7ff 47px,#00acff 56px,#0058ff 72px,#03f 84px,#001aff 99px,#0008ff 210px)"></i><i style="height:2px;background:linear-gradient(90deg,#ffd400 0px,#fdff00 7px,#24ff00 24px,#00ff05 28px,#00ff52 35px,#0fd 43px,#00f8ff 47px,#00adff 56px,#0058ff 72px,#03f 84px,#001aff 99px,#0008ff 210px)"></i><i style="height:2px;background:linear-gradient(90deg,#ffd800 0px,#f9ff00 7px,#2eff00 23px,#00ff06 28px,#00ff54 35px,#0fd 43px,#00f8ff 47px,#00aeff 56px,#0058ff 72px,#0036ff 83px,#001aff 99px,#0008ff 210px)"></i><i style="height:2px;background:linear-gradient(90deg,#ffdc00 0px,#ff0 6px,#6f0 18px,#00ff07 28px,#0f5 35px,#0fd 43px,#00f9ff 47px,#00aeff 56px,#0058ff 72px,#0036ff 83px,#0019ff 99px,#0008ff 210px)"></i><i style="height:2px;background:linear-gradient(90deg,#ffe100 0px,#fcff00 6px,#61ff00 18px,#00ff08 28px,#00ff49 34px,#00ffde 43px,#00faff 47px,#00afff 56px,#0058ff 72px,#0035ff 83px,#0018ff 100px,#0008ff 210px)"></i><i style="height:2px;background:linear-gradient(90deg,#ffe500 0px,#f8ff00 6px,#68ff00 17px,#01ff00 27px,#00ff4a 34px,#00ffde 43px,#00faff 47px,#00b0ff 56px,#0058ff 72px,#0038ff 82px,#0018ff 100px,#0008ff 210px)"></i><i style="height:2px;background:linear-gradient(90deg,#ffe900 0px,#f4ff00 6px,#64ff00 17px,#0f0 27px,#00ff4c 34px,#00ffde 43px,#00fbff 47px,#0af 57px,#0058ff 72px,#0038ff 82px,#0017ff 100px,#0008ff 210px)"></i><i style="height:2px;background:linear-gradient(90deg,#ffed00 0px,#ff0 4px,#f1ff00 6px,#5fff00 17px,#00ff01 27px,#00ff4d 34px,#00ffde 43px,#00fbff 47px,#00abff 57px,#0058ff 72px,#0038ff 82px,#0017ff 100px,#0008ff 210px)"></i><i style="height:2px;background:linear-gradient(90deg,#fff200 0px,#edff00 6px,#5bff00 17px,#00ff02 27px,#00ff41 33px,#00ffde 43px,#00fcff 47px,#00abff 57px,#0058ff 72px,#0037ff 82px,#0017ff 100px,#0008ff 210px)"></i><i style="height:2px;background:linear-gradient(90deg,#fff600 0px,#fdff00 3px,#e9ff00 6px,#57ff00 17px,#00ff03 27px,#00ff41 33px,#00ffdf 43px,#00fcff 47px,#00acff 57px,#0058ff 72px,#0037ff 82px,#0017ff 100px,#0008ff 210px)"></i><i style="height:2px;background:linear-gradient(90deg,#fffa00 0px,#e5ff00 6px,#56ff00 17px,#00ff03 27px,#00ff41 33px,#00ffdf 43px,#00fcff 47px,#00acff 57px,#0058ff 72px,#0037ff 82px,#0017ff 100px,#0008ff 210px)"></i><i style="height:2px;background:linear-gradient(90deg,#fffe00 0px,#e1ff00 6px,#54ff00 17px,#00ff03 27px,#00ff41 33px,#00ffdf 43px,#00fcff 47px,#00acff 57px,#0058ff 72px,#0037ff 82px,#0017ff 100px,#0008ff 210px)"></i><i style="height:2px;background:linear-gradient(90deg,#fbff00 0px,#dcff00 6px,#53ff00 17px,#00ff04 27px,#00ff41 33px,#00ffdf 43px,#00fcff 47px,#00acff 57px,#0058ff 72px,#0037ff 82px,#0017ff 100px,#0008ff 210px)"></i><i style="height:2px;background:linear-gradient(90deg,#f7ff00 0px,#d8ff00 6px,#52ff00 17px,#00ff04 27px,#00ff41 33px,#00ffdf 43px,#00fcff 47px,#00acff 57px,#0058ff 72px,#0037ff 82px,#0017ff 100px,#0008ff 210px)"></i><i style="height:2px;background:linear-gradient(90deg,#f3ff00 0px,#d4ff00 6px,#50ff00 17px,#00ff05 27px,#00ff41 33px,#00ffdf 43px,#00fcff 47px,#00acff 57px,#0058ff 72px,#0037ff 82px,#0017ff 100px,#0008ff 210px)"></i><i style="height:2px;background:linear-gradient(90deg,#efff00 0px,#cfff00 6px,#4fff00 17px,#00ff05 27px,#00ff41 33px,#00ffdf 43px,#00fcff 47px,#00acff 57px,#0058ff 72px,#0037ff 82px,#0017ff 100px,#0008ff 210px)"></i><i style="height:2px;background:linear-gradient(90deg,#eaff00 0px,#cbff00 6px,#4f0 18px,#00ff05 27px,#00ff41 33px,#00ffdf 43px,#00fcff 47px,#00acff 57px,#0058ff 72px,#0037ff 82px,#0017ff 100px,#0008ff 210px)"></i><i style="height:2px;background:linear-gradient(90deg,#e6ff00 0px,#c7ff00 6px,#43ff00 18px,#00ff06 27px,#00ff41 33px,#00ffdf 43px,#00fcff 47px,#00acff 57px,#0058ff 72px,#0037ff 82px,#0017ff 100px,#0008ff 210px)"></i><i style="height:2px;background:linear-gradient(90deg,#e2ff00 0px,#c2ff00 6px,#4bff00 17px,#02ff00 26px,#00ff41 33px,#00ffd1 42px,#00fcff 47px,#00acff 57px,#0058ff 72px,#0037ff 82px,#0017ff 100px,#0008ff 210px)"></i><i style="height:2px;background:linear-gradient(90deg,#deff00 0px,#beff00 6px,#4aff00 17px,#02ff00 26px,#00ff41 33px,#00ffd1 42px,#00fcff 47px,#00acff 57px,#0058ff 72px,#0037ff 82px,#0017ff 100px,#0008ff 210px)"></i><i style="height:2px;background:linear-gradient(90deg,#d9ff00 0px,#baff00 6px,#48ff00 17px,#01ff00 26px,#00ff41 33px,#00ffd1 42px,#00fcff 47px,#00acff 57px,#0058ff 72px,#0037ff 82px,#0017ff 100px,#0008ff 210px)"></i><i style="height:2px;background:linear-gradient(90deg,#d5ff00 0px,#b5ff00 6px,#47ff00 17px,#01ff00 26px,#00ff41 33px,#00ffd1 42px,#00fcff 47px,#00acff 57px,#0058ff 72px,#0037ff 82px,#0017ff 100px,#0008ff 210px)"></i><i style="height:2px;background:linear-gradient(90deg,#d1ff00 0px,#b1ff00 6px,#46ff00 17px,#0f0 26px,#00ff41 33px,#00ffd1 42px,#00fcff 47px,#00acff 57px,#0058ff 72px,#0037ff 82px,#0017ff 100px,#0008ff 210px)"></i><i style="height:2px;background:linear-gradient(90deg,#cf0 0px,#adff00 6px,#45ff00 17px,#0f0 26px,#00ff41 33px,#00ffd1 42px,#00fcff 47px,#00acff 57px,#0058ff 72px,#0037ff 82px,#0017ff 100px,#0008ff 210px)"></i><i style="height:2px;background:linear-gradient(90deg,#c8ff00 0px,#a9ff00 6px,#00ff01 26px,#00ff41 33px,#00ffd1 42px,#00fcff 47px,#00acff 57px,#0058ff 72px,#0037ff 82px,#0017ff 100px,#0008ff 210px)"></i><i style="height:2px;background:linear-gradient(90deg,#c4ff00 0px,#a4ff00 6px,#00ff01 26px,#00ff41 33px,#00ffd1 42px,#00fcff 47px,#00acff 57px,#0058ff 72px,#0037ff 82px,#0017ff 100px,#0008ff 210px)"></i><i style="height:2px;background:linear-gradient(90deg,#c1ff00 0px,#9bff00 7px,#00ff01 26px,#00ff41 33px,#00ffd1 42px,#00fcff 47px,#00acff 57px,#0058ff 72px,#0037ff 82px,#0017ff 100px,#0008ff 210px)"></i><i style="height:2px;background:linear-gradient(90deg,#c1ff00 0px,#9aff00 7px,#00ff01 26px,#00ff41 33px,#00ffd1 42px,#00fcff 47px,#00acff 57px,#0058ff 72px,#0037ff 82px,#0017ff 100px,#0008ff 210px)"></i><i style="height:4px;background:linear-gradient(90deg,#c0ff00 0px,#9aff00 7px,#00ff01 26px,#00ff41 33px,#00ffd1 42px,#00fcff 47px,#00acff 57px,#0058ff 72px,#0037ff 82px,#0017ff 100px,#0008ff 210px)"></i><i style="height:2px;background:linear-gradient(90deg,#bfff00 0px,#9aff00 7px,#00ff01 26px,#00ff41 33px,#00ffd1 42px,#00fcff 47px,#00acff 57px,#0058ff 72px,#0037ff 82px,#0017ff 100px,#0008ff 210px)"></i><i style="height:4px;background:linear-gradient(90deg,#beff00 0px,#9f0 7px,#00ff01 26px,#00ff41 33px,#00ffd1 42px,#00fcff 47px,#00acff 57px,#0058ff 72px,#0037ff 82px,#0017ff 100px,#0008ff 210px)"></i><i style="height:4px;background:linear-gradient(90deg,#bdff00 0px,#9f0 7px,#00ff01 26px,#00ff41 33px,#00ffd1 42px,#00fcff 47px,#00acff 57px,#0058ff 72px,#0037ff 82px,#0017ff 100px,#0008ff 210px)"></i><i style="height:2px;background:linear-gradient(90deg,#bcff00 0px,#98ff00 7px,#00ff01 26px,#00ff41 33px,#00ffd1 42px,#00fcff 47px,#00acff 57px,#0058ff 72px,#0037ff 82px,#0017ff 100px,#0008ff 210px)"></i><i style="height:4px;background:linear-gradient(90deg,#bf0 0px,#98ff00 7px,#00ff01 26px,#00ff41 33px,#00ffd1 42px,#00fcff 47px,#00acff 57px,#0058ff 72px,#0037ff 82px,#0017ff 100px,#0008ff 210px)"></i><i style="height:2px;background:linear-gradient(90deg,#baff00 0px,#98ff00 7px,#00ff01 26px,#00ff41 33px,#00ffd1 42px,#00fcff 47px,#00acff 57px,#0058ff 72px,#0037ff 82px,#0017ff 100px,#0008ff 210px)"></i><i style="height:2px;background:linear-gradient(90deg,#baff00 0px,#97ff00 7px,#00ff01 26px,#00ff41 33px,#00ffd1 42px,#00fcff 47px,#00acff 57px,#0058ff 72px,#0037ff 82px,#0017ff 100px,#0008ff 210px)"></i><i style="height:2px;background:linear-gradient(90deg,#b9ff00 0px,#97ff00 7px,#00ff01 26px,#00ff41 33px,#00ffd1 42px,#00fcff 47px,#00acff 57px,#0058ff 72px,#0037ff 82px,#0017ff 100px,#0008ff 210px)"></i><i style="height:4px;background:linear-gradient(90deg,#b8ff00 0px,#97ff00 7px,#00ff01 26px,#00ff41 33px,#00ffd1 42px,#00fcff 47px,#00acff 57px,#0058ff 72px,#0037ff 82px,#0017ff 100px,#0008ff 210px)"></i><i style="height:2px;background:linear-gradient(90deg,#bcff00 0px,#9aff00 7px,#00ff01 26px,#00ff41 33px,#00ffd1 42px,#00fcff 47px,#00acff 57px,#0058ff 72px,#0037ff 82px,#0017ff 100px,#0008ff 210px)"></i><i style="height:2px;background:linear-gradient(90deg,#c1ff00 0px,#a0ff00 7px,#00ff01 26px,#00ff40 33px,#00ffd1 42px,#00fcff 47px,#00acff 57px,#0058ff 72px,#0037ff 82px,#0017ff 100px,#0008ff 210px)"></i><i style="height:2px;background:linear-gradient(90deg,#c7ff00 0px,#a5ff00 7px,#0f0 26px,#00ff40 33px,#00ffd1 42px,#00fcff 47px,#00acff 57px,#0058ff 72px,#0037ff 82px,#0017ff 100px,#0008ff 210px)"></i><i style="height:2px;background:linear-gradient(90deg,#cf0 0px,#af0 7px,#0f0 26px,#00ff3f 33px,#00ffd1 42px,#00fcff 47px,#00acff 57px,#0058ff 72px,#0037ff 82px,#0017ff 100px,#0008ff 210px)"></i><i style="height:2px;background:linear-gradient(90deg,#d2ff00 0px,#afff00 7px,#01ff00 26px,#00ff3e 33px,#00ffd1 42px,#00fcff 47px,#00acff 57px,#0058ff 72px,#0037ff 82px,#0017ff 100px,#0008ff 210px)"></i><i style="height:2px;background:linear-gradient(90deg,#d7ff00 0px,#b4ff00 7px,#01ff00 26px,#00ff3e 33px,#00ffd1 42px,#00fcff 47px,#00acff 57px,#0058ff 72px,#0037ff 82px,#0017ff 100px,#0008ff 210px)"></i><i style="height:2px;background:linear-gradient(90deg,#df0 0px,#b0ff00 8px,#02ff00 26px,#00ff3d 33px,#00ffd1 42px,#00fcff 47px,#00acff 57px,#0058ff 72px,#0037ff 82px,#0017ff 100px,#0008ff 210px)"></i><i style="height:2px;background:linear-gradient(90deg,#e2ff00 0px,#b5ff00 8px,#02ff00 26px,#00ff3d 33px,#00ffd2 42px,#00fcff 47px,#00acff 57px,#0058ff 72px,#0037ff 82px,#0017ff 100px,#0008ff 210px)"></i><i style="height:2px;background:linear-gradient(90deg,#e8ff00 0px,#c3ff00 7px,#39ff00 20px,#00ff05 27px,#00ff3c 33px,#00ffd2 42px,#00fcff 47px,#00acff 57px,#0058ff 72px,#0037ff 82px,#0017ff 100px,#0008ff 210px)"></i><i style="height:2px;background:linear-gradient(90deg,#edff00 0px,#bfff00 8px,#3bff00 20px,#00ff05 27px,#00ff3b 33px,#00ffd2 42px,#00fcff 47px,#00acff 57px,#0058ff 72px,#0037ff 82px,#0017ff 100px,#0008ff 210px)"></i><i style="height:2px;background:linear-gradient(90deg,#f3ff00 0px,#c4ff00 8px,#3dff00 20px,#00ff04 27px,#00ff3b 33px,#00ffd2 42px,#00fcff 47px,#00acff 57px,#0058ff 72px,#0037ff 82px,#0017ff 100px,#0008ff 210px)"></i><i style="height:2px;background:linear-gradient(90deg,#f8ff00 0px,#c9ff00 8px,#3eff00 20px,#00ff04 27px,#00ff3a 33px,#00ffd2 42px,#00fcff 47px,#00acff 57px,#0058ff 72px,#0037ff 82px,#0017ff 100px,#0008ff 210px)"></i><i style="height:2px;background:linear-gradient(90deg,#fdff00 0px,#ceff00 8px,#40ff00 20px,#00ff03 27px,#00ff3a 33px,#00ffd2 42px,#00fcff 47px,#00acff 57px,#0058ff 72px,#0037ff 82px,#0017ff 100px,#0008ff 210px)"></i><i style="height:2px;background:linear-gradient(90deg,#fffb00 0px,#d3ff00 8px,#42ff00 20px,#00ff03 27px,#00ff39 33px,#00ffd2 42px,#00fcff 47px,#00acff 57px,#0058ff 72px,#0037ff 82px,#0017ff 100px,#0008ff 210px)"></i><i style="height:2px;background:linear-gradient(90deg,#fff600 0px,#fcff00 3px,#d8ff00 8px,#38ff00 21px,#00ff02 27px,#00ff38 33px,#00ffd2 42px,#00fcff 47px,#00acff 57px,#0058ff 72px,#0037ff 82px,#0017ff 100px,#0008ff 210px)"></i><i style="height:2px;background:linear-gradient(90deg,#fff000 0px,#fcff00 4px,#e6ff00 7px,#39ff00 21px,#00ff02 27px,#00ff38 33px,#00ffd2 42px,#00fcff 47px,#00acff 57px,#0058ff 72px,#0037ff 82px,#0017ff 100px,#0008ff 210px)"></i><i style="height:1px;background:linear-gradient(90deg,#ffec00 0px,#fffe00 4px,#eaff00 7px,#3aff00 21px,#00ff01 27px,#00ff37 33px,#00ffd2 42px,#00fcff 47px,#00acff 57px,#0058ff 72px,#0037ff 82px,#0017ff 100px,#0008ff 210px)"></i></div>
<div class="cb" style="left:658px;top:32px;width:15px;height:201px;background:linear-gradient(180deg,#ff0b00 0%,#ff0b00 2.1%,#ff2000 2.1%,#ff2000 4.2%,#ff3500 4.2%,#ff3500 6.2%,#ff4a00 6.2%,#ff4a00 8.3%,#ff6000 8.3%,#ff6000 10.4%,#ff7500 10.4%,#ff7500 12.5%,#ff8a00 12.5%,#ff8a00 14.6%,#ff9f00 14.6%,#ff9f00 16.7%,#ffb500 16.7%,#ffb500 18.8%,#ffca00 18.8%,#ffca00 20.8%,#ffdf00 20.8%,#ffdf00 22.9%,#fff400 22.9%,#fff400 25%,#f4ff00 25%,#f4ff00 27.1%,#dfff00 27.1%,#dfff00 29.2%,#caff00 29.2%,#caff00 31.2%,#b5ff00 31.2%,#b5ff00 33.3%,#9fff00 33.3%,#9fff00 35.4%,#8aff00 35.4%,#8aff00 37.5%,#75ff00 37.5%,#75ff00 39.6%,#60ff00 39.6%,#60ff00 41.7%,#4aff00 41.7%,#4aff00 43.8%,#35ff00 43.8%,#35ff00 45.8%,#20ff00 45.8%,#20ff00 47.9%,#0bff00 47.9%,#0bff00 50%,#00ff0b 50%,#00ff0b 52.1%,#00ff20 52.1%,#00ff20 54.2%,#00ff35 54.2%,#00ff35 56.2%,#00ff4a 56.2%,#00ff4a 58.3%,#00ff60 58.3%,#00ff60 60.4%,#00ff75 60.4%,#00ff75 62.5%,#00ff8a 62.5%,#00ff8a 64.6%,#00ff9f 64.6%,#00ff9f 66.7%,#00ffb5 66.7%,#00ffb5 68.8%,#00ffca 68.8%,#00ffca 70.8%,#00ffdf 70.8%,#00ffdf 72.9%,#00fff4 72.9%,#00fff4 75%,#00f4ff 75%,#00f4ff 77.1%,#00dfff 77.1%,#00dfff 79.2%,#00caff 79.2%,#00caff 81.2%,#00b5ff 81.2%,#00b5ff 83.3%,#009fff 83.3%,#009fff 85.4%,#008aff 85.4%,#008aff 87.5%,#0075ff 87.5%,#0075ff 89.6%,#0060ff 89.6%,#0060ff 91.7%,#004aff 91.7%,#004aff 93.8%,#0035ff 93.8%,#0035ff 95.8%,#0020ff 95.8%,#0020ff 97.9%,#000bff 97.9%,#000bff 100%)"></div>
<div class="hm" style="left:772px;top:32px;width:210px;height:201px"><i style="height:2px;background:linear-gradient(90deg,#ff2000 0px,#ff5800 5px,#fffb00 13px,#35ff00 19px,#03ff00 22px,#00ff0b 23px,#00ff42 27px,#00ffa6 29px,#00fffe 32px,#0af 39px,#0074ff 46px,#0036ff 60px,#01f 73px,#0008ff 210px)"></i><i style="height:2px;background:linear-gradient(90deg,#ff2300 0px,#ff5b00 5px,#fffe00 13px,#4eff00 18px,#12ff00 21px,#00ff0b 23px,#00ff42 27px,#00ffca 30px,#00fffd 32px,#00f1ff 33px,#0af 39px,#0074ff 46px,#0036ff 60px,#01f 73px,#0008ff 210px)"></i><i style="height:2px;background:linear-gradient(90deg,#ff2500 0px,#ff5d00 5px,#fcff00 13px,#4dff00 18px,#1f0 21px,#00ff0b 23px,#00ff42 27px,#00ffca 30px,#00fffd 32px,#00f1ff 33px,#00abff 39px,#0074ff 46px,#0036ff 60px,#01f 73px,#0008ff 210px)"></i><i style="height:2px;background:linear-gradient(90deg,#ff2800 0px,#ff6000 5px,#f9ff00 13px,#4cff00 18px,#1f0 21px,#00ff0a 23px,#00ff43 27px,#00ffc9 30px,#00fffc 32px,#00f2ff 33px,#00abff 39px,#0075ff 46px,#0036ff 60px,#01f 73px,#0008ff 210px)"></i><i style="height:2px;background:linear-gradient(90deg,#ff2b00 0px,#ff6300 5px,#f6ff00 13px,#4bff00 18px,#1f0 21px,#00ff0a 23px,#00ff43 27px,#00ffc8 30px,#00fffb 32px,#00f2ff 33px,#00abff 39px,#0075ff 46px,#0036ff 60px,#01f 73px,#0008ff 210px)"></i><i style="height:2px;background:linear-gradient(90deg,#ff2e00 0px,#ff6500 5px,#fff200 12px,#f2ff00 13px,#3f0 19px,#03ff00 22px,#00ff0a 23px,#00ff43 27px,#00ffc8 30px,#00fffb 32px,#00f3ff 33px,#00a2ff 40px,#006fff 47px,#03f 61px,#0010ff 74px,#0008ff 210px)"></i><i style="height:2px;background:linear-gradient(90deg,#ff3000 0px,#ff6800 5px,#fff500 12px,#efff00 13px,#32ff00 19px,#03ff00 22px,#00ff0a 23px,#0f4 27px,#00ffc7 30px,#00fffa 32px,#00f4ff 33px,#00a2ff 40px,#0070ff 47px,#03f 61px,#0010ff 74px,#0008ff 210px)"></i><i style="height:2px;background:linear-gradient(90deg,#f30 0px,#ff6b00 5px,#fff800 12px,#ecff00 13px,#49ff00 18px,#1f0 21px,#00ff0a 23px,#0f4 27px,#00ffc6 30px,#00fff9 32px,#00f4ff 33px,#00a3ff 40px,#0070ff 47px,#03f 61px,#0010ff 74px,#0008ff 210px)"></i><i style="height:2px;background:linear-gradient(90deg,#ff3600 0px,#ff6d00 5px,#fffb00 12px,#48ff00 18px,#1f0 21px,#00ff0a 23px,#0f4 27px,#00ffc5 30px,#00fff8 32px,#00f5ff 33px,#00a3ff 40px,#0070ff 47px,#03f 61px,#0010ff 74px,#0008ff 210px)"></i><i style="height:2px;background:linear-gradient(90deg,#ff3900 0px,#ff7000 5px,#ff0 12px,#47ff00 18px,#1f0 21px,#00ff0a 23px,#0f4 27px,#00ffc5 30px,#00fff8 32px,#00f5ff 33px,#00a3ff 40px,#0070ff 47px,#03f 61px,#0010ff 74px,#0008ff 210px)"></i><i style="height:2px;background:linear-gradient(90deg,#ff3b00 0px,#ff7300 5px,#fcff00 12px,#46ff00 18px,#1f0 21px,#00ff09 23px,#00ff45 27px,#00ffc4 30px,#00fff7 32px,#00f6ff 33px,#00a4ff 40px,#0070ff 47px,#03f 61px,#0010ff 74px,#0008ff 210px)"></i><i style="height:2px;background:linear-gradient(90deg,#ff3e00 0px,#ff7500 5px,#f9ff00 12px,#45ff00 18px,#1f0 21px,#00ff09 23px,#00ff45 27px,#00ffc3 30px,#00fff6 32px,#00f6ff 33px,#00a4ff 40px,#0071ff 47px,#03f 61px,#0010ff 74px,#0008ff 210px)"></i><i style="height:2px;background:linear-gradient(90deg,#ff4100 0px,#ff7800 5px,#f6ff00 12px,#4f0 18px,#1f0 21px,#00ff09 23px,#00ff45 27px,#00ffc3 30px,#00fff6 32px,#00f7ff 33px,#00a4ff 40px,#0071ff 47px,#03f 61px,#0010ff 74px,#0008ff 210px)"></i><i style="height:2px;background:linear-gradient(90deg,#f40 0px,#ff7b00 5px,#fff300 11px,#f3ff00 12px,#4f0 18px,#1f0 21px,#00ff09 23px,#00ff46 27px,#00ffc2 30px,#00fff5 32px,#00f8ff 33px,#00a5ff 40px,#0071ff 47px,#0034ff 61px,#0010ff 74px,#0008ff 210px)"></i><i style="height:2px;background:linear-gradient(90deg,#ff4600 0px,#ff7d00 5px,#fff500 11px,#f0ff00 12px,#43ff00 18px,#1f0 21px,#00ff09 23px,#00ff46 27px,#00ffc1 30px,#00fff4 32px,#00f8ff 33px,#00a5ff 40px,#0071ff 47px,#0034ff 61px,#0010ff 74px,#0008ff 210px)"></i><i style="height:2px;background:linear-gradient(90deg,#ff4900 0px,#ff8000 5px,#fff800 11px,#42ff00 18px,#1f0 21px,#00ff09 23px,#00ff46 27px,#00ffc1 30px,#00fff4 32px,#00f9ff 33px,#00a5ff 40px,#0071ff 47px,#0034ff 61px,#0010ff 74px,#0008ff 210px)"></i><i style="height:2px;background:linear-gradient(90deg,#ff4c00 0px,#ff8300 5px,#fffb00 11px,#41ff00 18px,#1f0 21px,#00ff08 23px,#00ff47 27px,#00ffc0 30px,#00f9ff 33px,#00a6ff 40px,#0072ff 47px,#0034ff 61px,#0010ff 74px,#0008ff 210px)"></i><i style="height:2px;background:linear-gradient(90deg,#ff4f00 0px,#ff8500 5px,#fffe00 11px,#40ff00 18px,#10ff00 21px,#00ff08 23px,#00ff47 27px,#00ffbf 30px,#00faff 33px,#00a6ff 40px,#0072ff 47px,#0034ff 61px,#0010ff 74px,#0008ff 210px)"></i><i style="height:2px;background:linear-gradient(90deg,#ff5100 0px,#f80 5px,#fdff00 11px,#3fff00 18px,#00ff08 23px,#00ff47 27px,#00ffbf 30px,#00fbff 33px,#00a6ff 40px,#0072ff 47px,#0034ff 61px,#0010ff 74px,#0008ff 210px)"></i><i style="height:2px;background:linear-gradient(90deg,#ff5400 0px,#ff8b00 5px,#fbff00 11px,#3eff00 18px,#00ff08 23px,#00ff47 27px,#00ffbe 30px,#00fbff 33px,#00a7ff 40px,#0072ff 47px,#0034ff 61px,#0010ff 74px,#0008ff 210px)"></i><i style="height:2px;background:linear-gradient(90deg,#ff5700 0px,#ff7e00 4px,#f8ff00 11px,#3dff00 18px,#00ff08 23px,#00ff48 27px,#00ffbd 30px,#00fcff 33px,#00a7ff 40px,#0072ff 47px,#0034ff 61px,#0010ff 74px,#0008ff 210px)"></i><i style="height:2px;background:linear-gradient(90deg,#ff5a00 0px,#ff8000 4px,#f5ff00 11px,#3dff00 18px,#00ff08 23px,#00ff48 27px,#00ffbd 30px,#00fcff 33px,#00a7ff 40px,#0073ff 47px,#0035ff 61px,#0010ff 74px,#0008ff 210px)"></i><i style="height:2px;background:linear-gradient(90deg,#ff5c00 0px,#ff8300 4px,#fff500 10px,#f2ff00 11px,#3cff00 18px,#00ff08 23px,#00ff48 27px,#00ffbc 30px,#00fdff 33px,#00a8ff 40px,#0073ff 47px,#0035ff 61px,#0010ff 74px,#0008ff 210px)"></i><i style="height:2px;background:linear-gradient(90deg,#ff5f00 0px,#ff8600 4px,#fff800 10px,#3bff00 18px,#00ff07 23px,#00ff49 27px,#0fb 30px,#00fdff 33px,#00a8ff 40px,#0073ff 47px,#0035ff 61px,#0010ff 74px,#0008ff 210px)"></i><i style="height:2px;background:linear-gradient(90deg,#ff6200 0px,#f80 4px,#fffa00 10px,#3aff00 18px,#00ff07 23px,#00ff49 27px,#0fb 30px,#00feff 33px,#00a8ff 40px,#0073ff 47px,#0035ff 61px,#0010ff 74px,#0008ff 210px)"></i><i style="height:2px;background:linear-gradient(90deg,#ff6400 0px,#ff8b00 4px,#fffd00 10px,#39ff00 18px,#00ff07 23px,#00ff49 27px,#00ffba 30px,#0ff 33px,#00a9ff 40px,#0073ff 47px,#0035ff 61px,#0010ff 74px,#0008ff 210px)"></i><i style="height:2px;background:linear-gradient(90deg,#ff6700 0px,#ff8d00 4px,#feff00 10px,#4cff00 17px,#1bff00 20px,#00ff07 23px,#00ff4a 27px,#00ffb9 30px,#0ff 33px,#00a9ff 40px,#0074ff 47px,#0035ff 61px,#0010ff 74px,#0008ff 210px)"></i><i style="height:2px;background:linear-gradient(90deg,#ff6a00 0px,#ff9000 4px,#fcff00 10px,#8dff00 14px,#4aff00 17px,#1bff00 20px,#00ff07 23px,#00ff4a 27px,#00ffb9 30px,#00fffe 33px,#00a9ff 40px,#0074ff 47px,#0035ff 61px,#0010ff 74px,#0008ff 210px)"></i><i style="height:2px;background:linear-gradient(90deg,#ff6d00 0px,#ff9300 4px,#f9ff00 10px,#8aff00 14px,#49ff00 17px,#1bff00 20px,#00ff07 23px,#00ff4a 27px,#00ffb8 30px,#00fffe 33px,#0af 40px,#0074ff 47px,#0035ff 61px,#0010ff 74px,#0008ff 210px)"></i><i style="height:2px;background:linear-gradient(90deg,#ff6f00 0px,#ff9500 4px,#f6ff00 10px,#87ff00 14px,#47ff00 17px,#1aff00 20px,#00ff06 23px,#00ff4a 27px,#00ffb7 30px,#00ffea 32px,#00f1ff 34px,#0af 40px,#0074ff 47px,#0036ff 61px,#0010ff 74px,#0008ff 210px)"></i><i style="height:2px;background:linear-gradient(90deg,#ff7200 0px,#ff9800 4px,#fff500 9px,#f4ff00 10px,#84ff00 14px,#46ff00 17px,#00ff06 23px,#00ff4b 27px,#00ffb7 30px,#00ffe9 32px,#00f2ff 34px,#0af 40px,#0074ff 47px,#0036ff 61px,#0010ff 74px,#0008ff 210px)"></i><i style="height:2px;background:linear-gradient(90deg,#ff7500 0px,#ff9a00 4px,#fff800 9px,#d9ff00 11px,#81ff00 14px,#4f0 17px,#00ff06 23px,#00ff4b 27px,#00ffb6 30px,#00ffe9 32px,#00f2ff 34px,#00abff 40px,#0075ff 47px,#0036ff 61px,#0010ff 74px,#0008ff 210px)"></i><i style="height:2px;background:linear-gradient(90deg,#ff7800 0px,#ff9d00 4px,#fffa00 9px,#5f0 16px,#25ff00 19px,#00ff06 23px,#00ff4b 27px,#00ffb5 30px,#00ffe8 32px,#00f3ff 34px,#00abff 40px,#0075ff 47px,#0036ff 61px,#0010ff 74px,#0008ff 210px)"></i><i style="height:2px;background:linear-gradient(90deg,#ff7a00 0px,#ffa000 4px,#fffd00 9px,#d3ff00 11px,#7aff00 14px,#52ff00 16px,#24ff00 19px,#00ff06 23px,#00ff4c 27px,#00ffb5 30px,#00ffe7 32px,#00f3ff 34px,#00abff 40px,#0075ff 47px,#0036ff 61px,#0010ff 74px,#0008ff 210px)"></i><i style="height:2px;background:linear-gradient(90deg,#ff8100 0px,#ffa700 4px,#fbff00 9px,#7f0 14px,#50ff00 16px,#23ff00 19px,#00ff06 23px,#00ff4c 27px,#00ffb5 30px,#00ffe7 32px,#00f3ff 34px,#00abff 40px,#0075ff 47px,#0036ff 61px,#0010ff 74px,#0008ff 210px)"></i><i style="height:2px;background:linear-gradient(90deg,#f80 0px,#ffae00 4px,#f4ff00 9px,#74ff00 14px,#4eff00 16px,#2f0 19px,#00ff07 23px,#00ff4d 27px,#00ffb5 30px,#00ffe7 32px,#00f3ff 34px,#00abff 40px,#0075ff 47px,#0036ff 61px,#0010ff 74px,#0008ff 210px)"></i><i style="height:2px;background:linear-gradient(90deg,#ff8e00 0px,#ffb500 4px,#fffd00 8px,#4cff00 16px,#21ff00 19px,#00ff08 23px,#00ff4d 27px,#00ffb4 30px,#00ffe7 32px,#00f3ff 34px,#00abff 40px,#0075ff 47px,#0036ff 61px,#0010ff 74px,#0008ff 210px)"></i><i style="height:2px;background:linear-gradient(90deg,#ff9500 0px,#ffbc00 4px,#fbff00 8px,#4aff00 16px,#20ff00 19px,#00ff08 23px,#00ff4e 27px,#00ffb4 30px,#00ffe7 32px,#00f3ff 34px,#00abff 40px,#0075ff 47px,#0036ff 61px,#0010ff 74px,#0008ff 210px)"></i><i style="height:2px;background:linear-gradient(90deg,#ff9c00 0px,#ffb600 3px,#f4ff00 8px,#48ff00 16px,#1fff00 19px,#00ff09 23px,#00ff4f 27px,#00ffb4 30px,#00ffe7 32px,#00f3ff 34px,#00abff 40px,#0075ff 47px,#0036ff 61px,#0010ff 74px,#0008ff 210px)"></i><i style="height:2px;background:linear-gradient(90deg,#ffa300 0px,#ffca00 4px,#fffe00 7px,#56ff00 15px,#01ff00 22px,#00ff39 26px,#00ffcf 31px,#00fffb 33px,#00f3ff 34px,#00abff 40px,#0075ff 47px,#0036ff 61px,#0010ff 74px,#0008ff 210px)"></i><i style="height:2px;background:linear-gradient(90deg,#ffa900 0px,#ffc400 3px,#f9ff00 7px,#53ff00 15px,#0f0 22px,#00ff3a 26px,#00ffcf 31px,#00fffb 33px,#00f3ff 34px,#00abff 40px,#0075ff 47px,#0036ff 61px,#0010ff 74px,#0008ff 210px)"></i><i style="height:2px;background:linear-gradient(90deg,#ffb000 0px,#ffcb00 3px,#fffa00 6px,#51ff00 15px,#0f0 22px,#00ff3a 26px,#00ffcf 31px,#00fffb 33px,#00f3ff 34px,#00abff 40px,#0075ff 47px,#0036ff 61px,#0010ff 74px,#0008ff 210px)"></i><i style="height:2px;background:linear-gradient(90deg,#ffb700 0px,#ffd100 3px,#fdff00 6px,#4eff00 15px,#00ff01 22px,#00ff3b 26px,#00ffcf 31px,#00fffb 33px,#00f3ff 34px,#00abff 40px,#0075ff 47px,#0036ff 61px,#0010ff 74px,#0008ff 210px)"></i><i style="height:2px;background:linear-gradient(90deg,#ffbd00 0px,#f7ff00 6px,#4cff00 15px,#00ff02 22px,#00ff3c 26px,#00ffcf 31px,#00fffb 33px,#00f3ff 34px,#00abff 40px,#0075ff 47px,#0036ff 61px,#0010ff 74px,#0008ff 210px)"></i><i style="height:2px;background:linear-gradient(90deg,#ffc400 0px,#fffd00 5px,#49ff00 15px,#00ff02 22px,#00ff3c 26px,#00ffcf 31px,#00fffb 33px,#00f3ff 34px,#00abff 40px,#0075ff 47px,#0036ff 61px,#0010ff 74px,#0008ff 210px)"></i><i style="height:2px;background:linear-gradient(90deg,#ffcb00 0px,#faff00 5px,#46ff00 15px,#00ff03 22px,#00ff3d 26px,#00ffcf 31px,#00fffb 33px,#00f3ff 34px,#00abff 40px,#0075ff 47px,#0036ff 61px,#0010ff 74px,#0008ff 210px)"></i><i style="height:2px;background:linear-gradient(90deg,#ffd100 0px,#fffb00 4px,#4f0 15px,#00ff04 22px,#00ff3d 26px,#00ffcf 31px,#00fffb 33px,#00f3ff 34px,#00abff 40px,#0075ff 47px,#0036ff 61px,#0010ff 74px,#0008ff 210px)"></i><i style="height:2px;background:linear-gradient(90deg,#ffd800 0px,#fcff00 4px,#4fff00 14px,#1eff00 18px,#00ff05 22px,#00ff3e 26px,#00ffcf 31px,#00fffb 33px,#00f3ff 34px,#00abff 40px,#0075ff 47px,#0036ff 61px,#0010ff 74px,#0008ff 210px)"></i><i style="height:2px;background:linear-gradient(90deg,#ffdf00 0px,#f5ff00 4px,#4cff00 14px,#1cff00 18px,#00ff05 22px,#00ff3f 26px,#00ffe7 32px,#00f3ff 34px,#00abff 40px,#0075ff 47px,#0036ff 61px,#0010ff 74px,#0008ff 210px)"></i><i style="height:2px;background:linear-gradient(90deg,#ffe600 0px,#fcff00 3px,#49ff00 14px,#1bff00 18px,#00ff06 22px,#00ff3f 26px,#00ffe7 32px,#00f3ff 34px,#00abff 40px,#0075ff 47px,#0036ff 61px,#0010ff 74px,#0008ff 210px)"></i><i style="height:2px;background:linear-gradient(90deg,#ffec00 0px,#f6ff00 3px,#46ff00 14px,#1aff00 18px,#00ff07 22px,#00ff40 26px,#00ffe7 32px,#00f3ff 34px,#00abff 40px,#0075ff 47px,#0036ff 61px,#0010ff 74px,#0008ff 210px)"></i><i style="height:2px;background:linear-gradient(90deg,#fff000 0px,#f3ff00 3px,#39ff00 15px,#00ff07 22px,#00ff40 26px,#00ffe7 32px,#00f3ff 34px,#00abff 40px,#0075ff 47px,#0036ff 61px,#0010ff 74px,#0008ff 210px)"></i><i style="height:2px;background:linear-gradient(90deg,#fff400 0px,#efff00 3px,#38ff00 15px,#00ff07 22px,#00ff40 26px,#00ffe7 32px,#00f3ff 34px,#00abff 40px,#0075ff 47px,#0036ff 61px,#0010ff 74px,#0008ff 210px)"></i><i style="height:2px;background:linear-gradient(90deg,#fff800 0px,#dfff00 4px,#43ff00 14px,#01ff00 21px,#00ff1d 24px,#00ff40 26px,#00ffe7 32px,#00f3ff 34px,#00abff 40px,#0075ff 47px,#0036ff 61px,#0010ff 74px,#0008ff 210px)"></i><i style="height:2px;background:linear-gradient(90deg,#fffd00 0px,#dbff00 4px,#42ff00 14px,#01ff00 21px,#00ff1d 24px,#00ff40 26px,#00ffe7 32px,#00f3ff 34px,#00abff 40px,#0075ff 47px,#0036ff 61px,#0010ff 74px,#0008ff 210px)"></i><i style="height:2px;background:linear-gradient(90deg,#fdff00 0px,#d8ff00 4px,#42ff00 14px,#01ff00 21px,#00ff1d 24px,#00ff40 26px,#00ffe7 32px,#00f3ff 34px,#00abff 40px,#0075ff 47px,#0036ff 61px,#0010ff 74px,#0008ff 210px)"></i><i style="height:2px;background:linear-gradient(90deg,#f9ff00 0px,#d5ff00 4px,#41ff00 14px,#0f0 21px,#00ff1d 24px,#00ff40 26px,#00ffe7 32px,#00f3ff 34px,#00abff 40px,#0075ff 47px,#0036ff 61px,#0010ff 74px,#0008ff 210px)"></i><i style="height:2px;background:linear-gradient(90deg,#f4ff00 0px,#d2ff00 4px,#40ff00 14px,#0f0 21px,#00ff1d 24px,#00ff40 26px,#00ffe7 32px,#00f3ff 34px,#00abff 40px,#0075ff 47px,#0036ff 61px,#0010ff 74px,#0008ff 210px)"></i><i style="height:2px;background:linear-gradient(90deg,#f0ff00 0px,#cfff00 4px,#3f0 15px,#0f0 21px,#00ff1d 24px,#00ff40 26px,#00ffe7 32px,#00f3ff 34px,#00abff 40px,#0075ff 47px,#0036ff 61px,#0010ff 74px,#0008ff 210px)"></i><i style="height:2px;background:linear-gradient(90deg,#ecff00 0px,#cbff00 4px,#28ff00 16px,#00ff08 22px,#00ff40 26px,#00ffe7 32px,#00f3ff 34px,#00abff 40px,#0075ff 47px,#0036ff 61px,#0010ff 74px,#0008ff 210px)"></i><i style="height:2px;background:linear-gradient(90deg,#e8ff00 0px,#c8ff00 4px,#27ff00 16px,#00ff08 22px,#00ff40 26px,#00ffe7 32px,#00f3ff 34px,#00abff 40px,#0075ff 47px,#0036ff 61px,#0010ff 74px,#0008ff 210px)"></i><i style="height:2px;background:linear-gradient(90deg,#e3ff00 0px,#c5ff00 4px,#26ff00 16px,#00ff08 22px,#00ff40 26px,#00ffe7 32px,#00f3ff 34px,#00abff 40px,#0075ff 47px,#0036ff 61px,#0010ff 74px,#0008ff 210px)"></i><i style="height:2px;background:linear-gradient(90deg,#dfff00 0px,#c2ff00 4px,#25ff00 16px,#00ff08 22px,#00ff40 26px,#00ffe7 32px,#00f3ff 34px,#00abff 40px,#0075ff 47px,#0036ff 61px,#0010ff 74px,#0008ff 210px)"></i><i style="height:2px;background:linear-gradient(90deg,#dbff00 0px,#beff00 4px,#25ff00 16px,#00ff08 22px,#00ff3f 26px,#00ffe7 32px,#00f3ff 34px,#00abff 40px,#0075ff 47px,#0036ff 61px,#0010ff 74px,#0008ff 210px)"></i><i style="height:2px;background:linear-gradient(90deg,#d7ff00 0px,#bf0 4px,#24ff00 16px,#00ff08 22px,#00ff3f 26px,#00ffe7 32px,#00f3ff 34px,#00abff 40px,#0075ff 47px,#0036ff 61px,#0010ff 74px,#0008ff 210px)"></i><i style="height:2px;background:linear-gradient(90deg,#d2ff00 0px,#b8ff00 4px,#23ff00 16px,#00ff09 22px,#00ff3f 26px,#00ffe7 32px,#00f3ff 34px,#00abff 40px,#0075ff 47px,#0036ff 61px,#0010ff 74px,#0008ff 210px)"></i><i style="height:2px;background:linear-gradient(90deg,#ceff00 0px,#b5ff00 4px,#19ff00 17px,#00ff09 22px,#00ff3f 26px,#00ffe7 32px,#00f3ff 34px,#00abff 40px,#0075ff 47px,#0036ff 61px,#0010ff 74px,#0008ff 210px)"></i><i style="height:2px;background:linear-gradient(90deg,#cf0 0px,#b3ff00 4px,#19ff00 17px,#00ff09 22px,#00ff3f 26px,#00ffe7 32px,#00f3ff 34px,#00abff 40px,#0075ff 47px,#0036ff 61px,#0010ff 74px,#0008ff 210px)"></i><i style="height:2px;background:linear-gradient(90deg,#cbff00 0px,#b2ff00 4px,#19ff00 17px,#00ff09 22px,#00ff3f 26px,#00ffe7 32px,#00f3ff 34px,#00abff 40px,#0075ff 47px,#0036ff 61px,#0010ff 74px,#0008ff 210px)"></i><i style="height:2px;background:linear-gradient(90deg,#caff00 0px,#b2ff00 4px,#19ff00 17px,#00ff09 22px,#00ff3f 26px,#00ffe7 32px,#00f3ff 34px,#00abff 40px,#0075ff 47px,#0036ff 61px,#0010ff 74px,#0008ff 210px)"></i><i style="height:2px;background:linear-gradient(90deg,#caff00 0px,#b1ff00 4px,#19ff00 17px,#00ff09 22px,#00ff3f 26px,#00ffe7 32px,#00f3ff 34px,#00abff 40px,#0075ff 47px,#0036ff 61px,#0010ff 74px,#0008ff 210px)"></i><i style="height:4px;background:linear-gradient(90deg,#c9ff00 0px,#b0ff00 4px,#19ff00 17px,#00ff09 22px,#00ff3f 26px,#00ffe7 32px,#00f3ff 34px,#00abff 40px,#0075ff 47px,#0036ff 61px,#0010ff 74px,#0008ff 210px)"></i><i style="height:2px;background:linear-gradient(90deg,#c8ff00 0px,#afff00 4px,#19ff00 17px,#00ff09 22px,#00ff3f 26px,#00ffe7 32px,#00f3ff 34px,#00abff 40px,#0075ff 47px,#0036ff 61px,#0010ff 74px,#0008ff 210px)"></i><i style="height:2px;background:linear-gradient(90deg,#c7ff00 0px,#afff00 4px,#19ff00 17px,#00ff09 22px,#00ff3f 26px,#00ffe7 32px,#00f3ff 34px,#00abff 40px,#0075ff 47px,#0036ff 61px,#0010ff 74px,#0008ff 210px)"></i><i style="height:2px;background:linear-gradient(90deg,#c7ff00 0px,#aeff00 4px,#19ff00 17px,#00ff09 22px,#00ff3f 26px,#00ffe7 32px,#00f3ff 34px,#00abff 40px,#0075ff 47px,#0036ff 61px,#0010ff 74px,#0008ff 210px)"></i><i style="height:4px;background:linear-gradient(90deg,#c6ff00 0px,#adff00 4px,#19ff00 17px,#00ff09 22px,#00ff3f 26px,#00ffe7 32px,#00f3ff 34px,#00abff 40px,#0075ff 47px,#0036ff 61px,#0010ff 74px,#0008ff 210px)"></i><i style="height:2px;background:linear-gradient(90deg,#c5ff00 0px,#acff00 4px,#19ff00 17px,#00ff09 22px,#00ff3f 26px,#00ffe7 32px,#00f3ff 34px,#00abff 40px,#0075ff 47px,#0036ff 61px,#0010ff 74px,#0008ff 210px)"></i><i style="height:2px;background:linear-gradient(90deg,#c4ff00 0px,#acff00 4px,#19ff00 17px,#00ff09 22px,#00ff3f 26px,#00ffe7 32px,#00f3ff 34px,#00abff 40px,#0075ff 47px,#0036ff 61px,#0010ff 74px,#0008ff 210px)"></i><i style="height:2px;background:linear-gradient(90deg,#c4ff00 0px,#abff00 4px,#19ff00 17px,#00ff09 22px,#00ff3f 26px,#00ffe7 32px,#00f3ff 34px,#00abff 40px,#0075ff 47px,#0036ff 61px,#0010ff 74px,#0008ff 210px)"></i><i style="height:4px;background:linear-gradient(90deg,#c3ff00 0px,#af0 4px,#19ff00 17px,#00ff09 22px,#00ff3f 26px,#00ffe7 32px,#00f3ff 34px,#00abff 40px,#0075ff 47px,#0036ff 61px,#0010ff 74px,#0008ff 210px)"></i><i style="height:2px;background:linear-gradient(90deg,#c2ff00 0px,#a9ff00 4px,#19ff00 17px,#00ff09 22px,#00ff3f 26px,#00ffe7 32px,#00f3ff 34px,#00abff 40px,#0075ff 47px,#0036ff 61px,#0010ff 74px,#0008ff 210px)"></i><i style="height:2px;background:linear-gradient(90deg,#c7ff00 0px,#adff00 4px,#1aff00 17px,#00ff09 22px,#00ff3f 26px,#00ffcf 31px,#00fffb 33px,#00f4ff 34px,#00acff 40px,#0075ff 47px,#0036ff 61px,#0010ff 74px,#0008ff 210px)"></i><i style="height:2px;background:linear-gradient(90deg,#ceff00 0px,#b2ff00 4px,#1bff00 17px,#00ff09 22px,#00ff3f 26px,#00ffd0 31px,#00fffa 33px,#00f4ff 34px,#00acff 40px,#0070ff 48px,#03f 62px,#0010ff 74px,#0008ff 210px)"></i><i style="height:2px;background:linear-gradient(90deg,#d4ff00 0px,#b8ff00 4px,#1cff00 17px,#00ff09 22px,#00ff3e 26px,#00ffd0 31px,#00fffa 33px,#00f5ff 34px,#00acff 40px,#0070ff 48px,#03f 62px,#01f 74px,#0008ff 210px)"></i><i style="height:2px;background:linear-gradient(90deg,#dbff00 0px,#bdff00 4px,#1dff00 17px,#00ff09 22px,#00ff3e 26px,#00ffd0 31px,#00fff9 33px,#00f5ff 34px,#00adff 40px,#0071ff 48px,#03f 62px,#01f 74px,#0008ff 210px)"></i><i style="height:2px;background:linear-gradient(90deg,#e2ff00 0px,#c2ff00 4px,#28ff00 16px,#00ff01 21px,#00ff3e 26px,#00ffd1 31px,#00fff9 33px,#00f6ff 34px,#00adff 40px,#0071ff 48px,#0034ff 62px,#01f 74px,#0008ff 210px)"></i><i style="height:2px;background:linear-gradient(90deg,#e8ff00 0px,#c7ff00 4px,#2aff00 16px,#00ff01 21px,#00ff3d 26px,#00ffd1 31px,#00fff9 33px,#00f6ff 34px,#00aeff 40px,#0072ff 48px,#0034ff 62px,#0010ff 75px,#0008ff 210px)"></i><i style="height:2px;background:linear-gradient(90deg,#efff00 0px,#cdff00 4px,#2bff00 16px,#00ff01 21px,#00ff3d 26px,#00ffd1 31px,#00f7ff 34px,#00aeff 40px,#0072ff 48px,#0034ff 62px,#01f 75px,#0008ff 210px)"></i><i style="height:2px;background:linear-gradient(90deg,#f6ff00 0px,#d2ff00 4px,#2cff00 16px,#00ff01 21px,#00ff3c 26px,#00ffd1 31px,#00f8ff 34px,#00aeff 40px,#0072ff 48px,#0034ff 62px,#01f 75px,#0008ff 210px)"></i><i style="height:2px;background:linear-gradient(90deg,#fcff00 0px,#d7ff00 4px,#2dff00 16px,#00ff01 21px,#00ff3c 26px,#00ff6e 28px,#00ffd2 31px,#00f8ff 34px,#00afff 40px,#0073ff 48px,#0035ff 62px,#01f 75px,#0008ff 210px)"></i><i style="height:2px;background:linear-gradient(90deg,#fffb00 0px,#df0 4px,#3bff00 15px,#00ff01 21px,#00ff3c 26px,#00ff6e 28px,#00ffd2 31px,#00f9ff 34px,#00b9ff 39px,#0073ff 48px,#0035ff 62px,#01f 75px,#0008ff 210px)"></i><i style="height:2px;background:linear-gradient(90deg,#fff400 0px,#e2ff00 4px,#3dff00 15px,#00ff01 21px,#00ff3b 26px,#00ff6d 28px,#00ffd2 31px,#00f9ff 34px,#00b9ff 39px,#0074ff 48px,#0035ff 62px,#0010ff 76px,#0008ff 210px)"></i><i style="height:2px;background:linear-gradient(90deg,#ffed00 0px,#f4ff00 3px,#3eff00 15px,#00ff01 21px,#00ff3b 26px,#00ff6d 28px,#00ffd3 31px,#00faff 34px,#00b0ff 40px,#006eff 49px,#0035ff 62px,#0010ff 76px,#0008ff 210px)"></i><i style="height:2px;background:linear-gradient(90deg,#ffe700 0px,#f9ff00 3px,#40ff00 15px,#0f0 21px,#00ff3a 26px,#00ff6c 28px,#00ffd3 31px,#00faff 34px,#00baff 39px,#006fff 49px,#0036ff 62px,#0010ff 76px,#0008ff 210px)"></i><i style="height:2px;background:linear-gradient(90deg,#ffe000 0px,#ff0 3px,#41ff00 15px,#0f0 21px,#00ff3a 26px,#00ff6b 28px,#00ffd3 31px,#00fbff 34px,#00baff 39px,#006fff 49px,#0036ff 62px,#0010ff 76px,#0008ff 210px)"></i><i style="height:2px;background:linear-gradient(90deg,#ffd900 0px,#f7ff00 4px,#42ff00 15px,#0f0 21px,#00ff39 26px,#00ff8a 29px,#00ffd3 31px,#00fcff 34px,#00baff 39px,#006fff 49px,#0036ff 62px,#0010ff 76px,#0008ff 210px)"></i><i style="height:2px;background:linear-gradient(90deg,#ffd300 0px,#fcff00 4px,#4f0 15px,#0f0 21px,#00ff39 26px,#00ff89 29px,#00ffd4 31px,#00fcff 34px,#0bf 39px,#0070ff 49px,#0036ff 62px,#0010ff 76px,#0008ff 210px)"></i><i style="height:1px;background:linear-gradient(90deg,#ffce00 0px,#fffe00 4px,#45ff00 15px,#0f0 21px,#00ff39 26px,#0f8 29px,#00ffd4 31px,#00fdff 34px,#0bf 39px,#0070ff 49px,#0036ff 62px,#0010ff 76px,#0008ff 210px)"></i></div>
<div class="cb" style="left:1016px;top:32px;width:15px;height:201px;background:linear-gradient(180deg,#ff0b00 0%,#ff0b00 2.1%,#ff2000 2.1%,#ff2000 4.2%,#ff3500 4.2%,#ff3500 6.2%,#ff4a00 6.2%,#ff4a00 8.3%,#ff6000 8.3%,#ff6000 10.4%,#ff7500 10.4%,#ff7500 12.5%,#ff8a00 12.5%,#ff8a00 14.6%,#ff9f00 14.6%,#ff9f00 16.7%,#ffb500 16.7%,#ffb500 18.8%,#ffca00 18.8%,#ffca00 20.8%,#ffdf00 20.8%,#ffdf00 22.9%,#fff400 22.9%,#fff400 25%,#f4ff00 25%,#f4ff00 27.1%,#dfff00 27.1%,#dfff00 29.2%,#caff00 29.2%,#caff00 31.2%,#b5ff00 31.2%,#b5ff00 33.3%,#9fff00 33.3%,#9fff00 35.4%,#8aff00 35.4%,#8aff00 37.5%,#75ff00 37.5%,#75ff00 39.6%,#60ff00 39.6%,#60ff00 41.7%,#4aff00 41.7%,#4aff00 43.8%,#35ff00 43.8%,#35ff00 45.8%,#20ff00 45.8%,#20ff00 47.9%,#0bff00 47.9%,#0bff00 50%,#00ff0b 50%,#00ff0b 52.1%,#00ff20 52.1%,#00ff20 54.2%,#00ff35 54.2%,#00ff35 56.2%,#00ff4a 56.2%,#00ff4a 58.3%,#00ff60 58.3%,#00ff60 60.4%,#00ff75 60.4%,#00ff75 62.5%,#00ff8a 62.5%,#00ff8a 64.6%,#00ff9f 64.6%,#00ff9f 66.7%,#00ffb5 66.7%,#00ffb5 68.8%,#00ffca 68.8%,#00ffca 70.8%,#00ffdf 70.8%,#00ffdf 72.9%,#00fff4 72.9%,#00fff4 75%,#00f4ff 75%,#00f4ff 77.1%,#00dfff 77.1%,#00dfff 79.2%,#00caff 79.2%,#00caff 81.2%,#00b5ff 81.2%,#00b5ff 83.3%,#009fff 83.3%,#009fff 85.4%,#008aff 85.4%,#008aff 87.5%,#0075ff 87.5%,#0075ff 89.6%,#0060ff 89.6%,#0060ff 91.7%,#004aff 91.7%,#004aff 93.8%,#0035ff 93.8%,#0035ff 95.8%,#0020ff 95.8%,#0020ff 97.9%,#000bff 97.9%,#000bff 100%)"></div>
<div class="hm" style="left:57px;top:325px;width:213px;height:205px"><i style="height:2px;background:linear-gradient(90deg,#ffad00 0px,#ffc100 10px,#ffce00 37px,#fffe00 57px,#cf0 83px,#e1ff00 95px,#ff0 103px,#f70 140px,#ff5300 153px,#ff2400 188px,#ff1a00 213px)"></i><i style="height:2px;background:linear-gradient(90deg,#ffad00 0px,#ffc000 10px,#ffcd00 37px,#ff0 58px,#cdff00 83px,#e2ff00 95px,#ff0 103px,#ff7600 140px,#ff5300 153px,#ff2400 188px,#ff1a00 213px)"></i><i style="height:2px;background:linear-gradient(90deg,#ffac00 0px,#ffc000 10px,#ffcd00 37px,#ff0 58px,#cdff00 83px,#e2ff00 95px,#ff0 103px,#f50 152px,#ff2500 187px,#ff1a00 213px)"></i><i style="height:2px;background:linear-gradient(90deg,#ffac00 0px,#ffbf00 10px,#ffcd00 37px,#fffe00 58px,#ceff00 83px,#e2ff00 95px,#ff0 103px,#ff7900 139px,#f50 152px,#ff2500 187px,#ff1a00 213px)"></i><i style="height:2px;background:linear-gradient(90deg,#ffab00 0px,#ffbf00 11px,#ffcd00 37px,#fffd00 58px,#ceff00 83px,#df0 93px,#ff0 103px,#ff7900 139px,#f50 152px,#ff2600 186px,#ff1b00 213px)"></i><i style="height:2px;background:linear-gradient(90deg,#ffab00 0px,#ffbf00 11px,#fc0 37px,#ff0 59px,#cfff00 83px,#df0 93px,#feff00 103px,#ff7c00 138px,#f50 152px,#ff2600 186px,#ff1b00 213px)"></i><i style="height:2px;background:linear-gradient(90deg,#fa0 0px,#ffbe00 11px,#fc0 37px,#fffe00 59px,#cfff00 84px,#feff00 103px,#ff7c00 138px,#f50 152px,#ff2700 185px,#ff1b00 213px)"></i><i style="height:2px;background:linear-gradient(90deg,#fa0 0px,#ffbd00 11px,#fc0 37px,#fffe00 59px,#d0ff00 84px,#feff00 103px,#ff7f00 137px,#f50 152px,#ff2800 184px,#ff1b00 213px)"></i><i style="height:2px;background:linear-gradient(90deg,#fa0 0px,#ffcd00 38px,#fffd00 59px,#d0ff00 84px,#feff00 103px,#ff8200 136px,#f50 152px,#ff2900 183px,#ff1b00 213px)"></i><i style="height:2px;background:linear-gradient(90deg,#ffa900 0px,#ffcd00 38px,#ff0 60px,#d1ff00 84px,#feff00 103px,#ff8500 135px,#f50 152px,#ff2900 183px,#ff1c00 213px)"></i><i style="height:2px;background:linear-gradient(90deg,#ffa900 0px,#fc0 38px,#ff0 60px,#d1ff00 84px,#feff00 103px,#f80 134px,#f50 152px,#ff2a00 182px,#ff1c00 213px)"></i><i style="height:2px;background:linear-gradient(90deg,#ffa800 0px,#fc0 38px,#fffe00 60px,#d1ff00 84px,#feff00 103px,#ff8a00 133px,#f50 152px,#ff2a00 182px,#ff1c00 213px)"></i><i style="height:2px;background:linear-gradient(90deg,#ffa800 0px,#fc0 38px,#fffd00 60px,#d2ff00 84px,#feff00 103px,#ff8a00 133px,#f50 152px,#ff2a00 182px,#ff1c00 213px)"></i><i style="height:2px;background:linear-gradient(90deg,#ffa700 0px,#ffcd00 39px,#fffd00 60px,#d2ff00 84px,#fdff00 103px,#ff8d00 132px,#f50 152px,#ff2b00 181px,#ff1d00 213px)"></i><i style="height:2px;background:linear-gradient(90deg,#ffa700 0px,#fc0 39px,#ff0 61px,#d3ff00 84px,#fdff00 103px,#ff8f00 131px,#f50 152px,#ff2b00 181px,#ff1d00 213px)"></i><i style="height:2px;background:linear-gradient(90deg,#ffa600 0px,#ffcd00 40px,#ff0 61px,#d3ff00 85px,#fdff00 103px,#ff9200 130px,#f50 152px,#ff2b00 181px,#ff1d00 213px)"></i><i style="height:2px;background:linear-gradient(90deg,#ffa600 0px,#ffcd00 40px,#fffe00 61px,#d4ff00 85px,#fdff00 103px,#ff9800 128px,#f50 152px,#ff2b00 181px,#ff1d00 213px)"></i><i style="height:2px;background:linear-gradient(90deg,#ffa600 0px,#ffce00 41px,#fffd00 61px,#d4ff00 85px,#fdff00 103px,#ff9a00 127px,#f50 152px,#ff2c00 180px,#ff1d00 213px)"></i><i style="height:2px;background:linear-gradient(90deg,#ffa500 0px,#ffcf00 42px,#fffd00 61px,#d4ff00 85px,#fdff00 103px,#ff9d00 126px,#f50 152px,#ff2c00 180px,#ff1e00 213px)"></i><i style="height:2px;background:linear-gradient(90deg,#ffa500 0px,#ffd000 43px,#ff0 62px,#d5ff00 85px,#fdff00 103px,#ff9c00 126px,#f50 152px,#ff2c00 180px,#ff1e00 213px)"></i><i style="height:2px;background:linear-gradient(90deg,#ffa400 0px,#ffcf00 43px,#fffe00 62px,#d5ff00 85px,#fcff00 103px,#ff9b00 126px,#ff5600 152px,#ff2b00 180px,#ff1e00 213px)"></i><i style="height:2px;background:linear-gradient(90deg,#ffa400 0px,#ffd000 44px,#fffe00 62px,#d6ff00 85px,#fcff00 103px,#ff9a00 126px,#ff5600 152px,#ff2b00 180px,#ff1e00 213px)"></i><i style="height:2px;background:linear-gradient(90deg,#ffa300 0px,#ffcf00 44px,#fffd00 62px,#d6ff00 85px,#fcff00 103px,#f90 126px,#ff5600 152px,#ff2b00 180px,#ff1f00 213px)"></i><i style="height:2px;background:linear-gradient(90deg,#ffa200 0px,#ffd100 45px,#fffe00 63px,#d8ff00 85px,#fdff00 103px,#ff9c00 125px,#ff5600 152px,#ff2b00 180px,#ff1e00 213px)"></i><i style="height:2px;background:linear-gradient(90deg,#ffa000 0px,#ffd000 45px,#fffe00 64px,#dbff00 85px,#ff0 103px,#ff9d00 125px,#ff5600 152px,#ff2b00 179px,#ff1d00 213px)"></i><i style="height:2px;background:linear-gradient(90deg,#ff9e00 0px,#ffcf00 44px,#feff00 66px,#deff00 86px,#feff00 102px,#ff9a00 126px,#ff5400 153px,#ff2a00 180px,#ff1c00 213px)"></i><i style="height:2px;background:linear-gradient(90deg,#ff9d00 0px,#ffcf00 44px,#ff0 67px,#e1ff00 86px,#ff0 102px,#ff9b00 126px,#ff5400 153px,#ff2b00 179px,#ff1b00 213px)"></i><i style="height:2px;background:linear-gradient(90deg,#ff9b00 0px,#ffcf00 44px,#ff0 68px,#e3ff00 86px,#feff00 101px,#ff9800 127px,#f50 153px,#ff2a00 179px,#ff1a00 213px)"></i><i style="height:2px;background:linear-gradient(90deg,#f90 0px,#ffce00 44px,#ff0 69px,#e6ff00 86px,#fdff00 100px,#ff9600 128px,#ff5300 154px,#ff2a00 179px,#ff1900 213px)"></i><i style="height:2px;background:linear-gradient(90deg,#ff9700 0px,#ffcd00 43px,#fffe00 70px,#e9ff00 87px,#ff0 100px,#ff9600 128px,#ff5300 154px,#ff2900 179px,#ff1900 213px)"></i><i style="height:2px;background:linear-gradient(90deg,#ff9500 0px,#feff00 72px,#ebff00 87px,#feff00 99px,#ff9100 130px,#ff5100 155px,#ff2900 179px,#ff1800 213px)"></i><i style="height:2px;background:linear-gradient(90deg,#ff9400 0px,#ff0 73px,#ef0 87px,#feff00 98px,#ff8b00 132px,#ff4b00 158px,#ff2600 181px,#ff1700 213px)"></i><i style="height:2px;background:linear-gradient(90deg,#ff9200 0px,#ff0 74px,#f1ff00 88px,#fdff00 97px,#ff8000 136px,#ff4100 163px,#ff2000 187px,#ff1600 213px)"></i><i style="height:2px;background:linear-gradient(90deg,#ff9000 0px,#fffe00 75px,#f3ff00 88px,#ff0 97px,#ff7e00 137px,#ff3f00 164px,#ff1e00 189px,#ff1500 213px)"></i><i style="height:2px;background:linear-gradient(90deg,#ff8e00 0px,#fffd00 77px,#feff00 95px,#ff7800 139px,#ff3d00 165px,#ff1d00 190px,#ff1500 213px)"></i><i style="height:2px;background:linear-gradient(90deg,#ff8b00 0px,#fff600 76px,#ff0 92px,#ffe700 104px,#ff7300 141px,#ff3a00 166px,#ff1e00 190px,#ff1600 213px)"></i><i style="height:2px;background:linear-gradient(90deg,#ff8900 0px,#ffef00 75px,#fffa00 91px,#ffe500 104px,#ff7800 139px,#ff3800 167px,#ff1f00 190px,#ff1800 213px)"></i><i style="height:2px;background:linear-gradient(90deg,#ff8600 0px,#ffea00 75px,#fff400 91px,#ffdf00 105px,#ff7500 140px,#ff3600 168px,#ff1900 213px)"></i><i style="height:2px;background:linear-gradient(90deg,#ff8300 0px,#ffe300 74px,#ffed00 92px,#ffd800 107px,#ff7300 141px,#ff3400 169px,#ff1a00 213px)"></i><i style="height:2px;background:linear-gradient(90deg,#ff8000 0px,#fd0 74px,#ffe700 93px,#ffd700 107px,#ff6300 147px,#f30 169px,#ff1c00 213px)"></i><i style="height:2px;background:linear-gradient(90deg,#ff7e00 0px,#ffc400 55px,#ffe100 95px,#ffd300 108px,#ff5e00 149px,#f30 169px,#ff1d00 213px)"></i><i style="height:2px;background:linear-gradient(90deg,#ff7b00 0px,#ffd000 72px,#ffd900 100px,#ffcf00 109px,#ff5800 151px,#f30 169px,#ff1e00 213px)"></i><i style="height:2px;background:linear-gradient(90deg,#ff7800 0px,#ffbf00 58px,#ffd500 102px,#ffce00 109px,#f50 152px,#ff3200 169px,#ff2000 213px)"></i><i style="height:2px;background:linear-gradient(90deg,#ff7600 0px,#fb0 58px,#ffd100 104px,#ff3200 169px,#ff2100 213px)"></i><i style="height:2px;background:linear-gradient(90deg,#ff7300 0px,#ffb600 57px,#ffce00 106px,#ff3200 169px,#f20 213px)"></i><i style="height:2px;background:linear-gradient(90deg,#ff7000 0px,#ffb100 55px,#fc0 107px,#ff3100 169px,#ff2400 213px)"></i><i style="height:2px;background:linear-gradient(90deg,#ff6e00 0px,#ffac00 56px,#ffc600 107px,#f30 169px,#ff2500 213px)"></i><i style="height:2px;background:linear-gradient(90deg,#ff6b00 0px,#ffa800 56px,#ffbf00 107px,#f30 170px,#ff2600 213px)"></i><i style="height:2px;background:linear-gradient(90deg,#ff6800 0px,#ffa300 57px,#ffb900 107px,#ff3500 170px,#ff2800 213px)"></i><i style="height:2px;background:linear-gradient(90deg,#f60 0px,#ff9e00 57px,#ffb300 107px,#ff3500 171px,#ff2900 213px)"></i><i style="height:2px;background:linear-gradient(90deg,#ff6300 0px,#f90 57px,#ffac00 107px,#ff3500 172px,#ff2a00 213px)"></i><i style="height:2px;background:linear-gradient(90deg,#ff6000 0px,#ff9500 57px,#ffa600 107px,#ff3600 173px,#ff2c00 213px)"></i><i style="height:2px;background:linear-gradient(90deg,#ff5e00 0px,#ff9000 57px,#ff9f00 108px,#ff3700 174px,#ff2d00 213px)"></i><i style="height:2px;background:linear-gradient(90deg,#ff5b00 0px,#ff8b00 58px,#f90 108px,#ff3700 175px,#ff2e00 213px)"></i><i style="height:2px;background:linear-gradient(90deg,#ff5800 0px,#ff8600 58px,#ff9200 109px,#f80 124px,#ff3700 177px,#ff3000 213px)"></i><i style="height:2px;background:linear-gradient(90deg,#f50 0px,#ff8100 58px,#ff8c00 111px,#ff8500 124px,#ff3700 179px,#ff3100 213px)"></i><i style="height:2px;background:linear-gradient(90deg,#ff5300 0px,#ff5f00 31px,#ff7c00 58px,#ff8600 119px,#ff3700 180px,#ff3200 213px)"></i><i style="height:2px;background:linear-gradient(90deg,#ff5000 0px,#ff5b00 31px,#f70 58px,#ff8200 119px,#ff3700 181px,#ff3200 213px)"></i><i style="height:2px;background:linear-gradient(90deg,#ff4d00 0px,#ff5700 31px,#ff7100 59px,#ff7e00 119px,#ff3700 181px,#ff3000 213px)"></i><i style="height:2px;background:linear-gradient(90deg,#ff4b00 0px,#ff6c00 59px,#ff7900 119px,#ff3600 181px,#ff2e00 213px)"></i><i style="height:2px;background:linear-gradient(90deg,#ff4800 0px,#ff7500 119px,#ff3700 180px,#ff2d00 213px)"></i><i style="height:2px;background:linear-gradient(90deg,#ff4500 0px,#ff7000 119px,#ff3700 180px,#ff2b00 213px)"></i><i style="height:2px;background:linear-gradient(90deg,#ff4300 0px,#ff6c00 119px,#ff2c00 194px,#ff2900 213px)"></i><i style="height:2px;background:linear-gradient(90deg,#ff4000 0px,#ff6700 120px,#ff2900 196px,#ff2700 213px)"></i><i style="height:2px;background:linear-gradient(90deg,#ff3d00 0px,#ff6300 120px,#ff2500 213px)"></i><i style="height:2px;background:linear-gradient(90deg,#ff3b00 0px,#ff5e00 120px,#ff2400 213px)"></i><i style="height:2px;background:linear-gradient(90deg,#ff3800 0px,#ff5a00 121px,#f20 213px)"></i><i style="height:2px;background:linear-gradient(90deg,#ff3500 0px,#ff3800 49px,#ff5400 91px,#f50 127px,#ff2000 213px)"></i><i style="height:2px;background:linear-gradient(90deg,#f30 0px,#f30 49px,#ff5100 91px,#ff5200 142px,#ff2000 199px,#ff2000 213px)"></i><i style="height:2px;background:linear-gradient(90deg,#ff3000 0px,#ff3100 48px,#ff4f00 92px,#ff5300 142px,#ff2700 213px)"></i><i style="height:2px;background:linear-gradient(90deg,#ff2d00 0px,#ff2e00 43px,#ff4e00 92px,#ff5400 142px,#ff2e00 213px)"></i><i style="height:2px;background:linear-gradient(90deg,#ff2a00 0px,#ff2b00 40px,#ff4c00 92px,#f50 142px,#ff3500 213px)"></i><i style="height:2px;background:linear-gradient(90deg,#ff2800 0px,#ff2800 39px,#ff4b00 93px,#ff5600 142px,#ff3c00 213px)"></i><i style="height:2px;background:linear-gradient(90deg,#ff2500 0px,#ff2600 39px,#ff4a00 93px,#ff5700 142px,#f40 213px)"></i><i style="height:2px;background:linear-gradient(90deg,#f20 0px,#ff2300 38px,#ff4e00 103px,#ff5900 142px,#ff4b00 213px)"></i><i style="height:2px;background:linear-gradient(90deg,#ff2000 0px,#ff2000 38px,#ff5a00 142px,#ff5200 213px)"></i><i style="height:2px;background:linear-gradient(90deg,#ff1d00 0px,#ff1e00 38px,#ff5b00 142px,#ff5900 213px)"></i><i style="height:2px;background:linear-gradient(90deg,#ff1a00 0px,#ff1b00 38px,#ff5600 123px,#ff6000 213px)"></i><i style="height:2px;background:linear-gradient(90deg,#ff1800 0px,#ff1800 38px,#f50 121px,#ff6700 213px)"></i><i style="height:2px;background:linear-gradient(90deg,#ff1500 0px,#ff1500 37px,#ff5300 115px,#ff6e00 179px,#ff6f00 213px)"></i><i style="height:2px;background:linear-gradient(90deg,#ff1700 0px,#ff1800 37px,#ff5700 115px,#ff7400 178px,#ff7500 213px)"></i><i style="height:2px;background:linear-gradient(90deg,#ff1b00 0px,#ff1d00 37px,#ff5c00 115px,#ff7b00 213px)"></i><i style="height:2px;background:linear-gradient(90deg,#ff1e00 0px,#ff2300 38px,#ff6f00 144px,#ff8200 213px)"></i><i style="height:2px;background:linear-gradient(90deg,#f20 0px,#ff2700 38px,#ff7500 144px,#f80 213px)"></i><i style="height:2px;background:linear-gradient(90deg,#ff2600 0px,#ff2c00 38px,#ff7b00 144px,#ff8e00 213px)"></i><i style="height:2px;background:linear-gradient(90deg,#ff2900 0px,#ff3100 38px,#ff8100 144px,#ff9400 213px)"></i><i style="height:2px;background:linear-gradient(90deg,#ff2d00 0px,#ff3600 38px,#ff8600 144px,#ff9b00 213px)"></i><i style="height:2px;background:linear-gradient(90deg,#ff3000 0px,#ff3b00 38px,#ff8c00 144px,#ffa100 213px)"></i><i style="height:2px;background:linear-gradient(90deg,#ff3400 0px,#ff3f00 38px,#ff9200 144px,#ffa700 213px)"></i><i style="height:2px;background:linear-gradient(90deg,#ff3700 0px,#ff4500 39px,#ff9800 144px,#ffad00 213px)"></i><i style="height:2px;background:linear-gradient(90deg,#ff3b00 0px,#ff4a00 40px,#ff9e00 144px,#ffb400 213px)"></i><i style="height:2px;background:linear-gradient(90deg,#ff3e00 0px,#ff5000 42px,#ffa300 144px,#ffba00 213px)"></i><i style="height:2px;background:linear-gradient(90deg,#ff4000 0px,#ff5200 41px,#ffa800 145px,#ffc200 213px)"></i><i style="height:2px;background:linear-gradient(90deg,#ff4100 0px,#f50 41px,#ffac00 145px,#ffc900 213px)"></i><i style="height:2px;background:linear-gradient(90deg,#ff4300 0px,#ff5700 40px,#ffb100 146px,#ffd000 213px)"></i><i style="height:2px;background:linear-gradient(90deg,#ff4500 0px,#ff5900 39px,#ffb600 146px,#ffd700 213px)"></i><i style="height:2px;background:linear-gradient(90deg,#ff4700 0px,#ff5b00 38px,#fb0 147px,#ffde00 213px)"></i><i style="height:2px;background:linear-gradient(90deg,#ff4900 0px,#ffc000 148px,#ffe500 213px)"></i><i style="height:2px;background:linear-gradient(90deg,#ff4a00 0px,#ffc500 149px,#ffed00 213px)"></i><i style="height:2px;background:linear-gradient(90deg,#ff4c00 0px,#fff400 213px)"></i><i style="height:2px;background:linear-gradient(90deg,#ff4e00 0px,#fffb00 213px)"></i><i style="height:2px;background:linear-gradient(90deg,#ff5000 0px,#fcff00 213px)"></i><i style="height:1px;background:linear-gradient(90deg,#ff5100 0px,#fff900 189px,#f7ff00 213px)"></i></div>
<div class="cb" style="left:304px;top:325px;width:16px;height:205px;background:linear-gradient(180deg,#ff0b00 0%,#ff0b00 2.1%,#ff2000 2.1%,#ff2000 4.2%,#ff3500 4.2%,#ff3500 6.2%,#ff4a00 6.2%,#ff4a00 8.3%,#ff6000 8.3%,#ff6000 10.4%,#ff7500 10.4%,#ff7500 12.5%,#ff8a00 12.5%,#ff8a00 14.6%,#ff9f00 14.6%,#ff9f00 16.7%,#ffb500 16.7%,#ffb500 18.8%,#ffca00 18.8%,#ffca00 20.8%,#ffdf00 20.8%,#ffdf00 22.9%,#fff400 22.9%,#fff400 25%,#f4ff00 25%,#f4ff00 27.1%,#dfff00 27.1%,#dfff00 29.2%,#caff00 29.2%,#caff00 31.2%,#b5ff00 31.2%,#b5ff00 33.3%,#9fff00 33.3%,#9fff00 35.4%,#8aff00 35.4%,#8aff00 37.5%,#75ff00 37.5%,#75ff00 39.6%,#60ff00 39.6%,#60ff00 41.7%,#4aff00 41.7%,#4aff00 43.8%,#35ff00 43.8%,#35ff00 45.8%,#20ff00 45.8%,#20ff00 47.9%,#0bff00 47.9%,#0bff00 50%,#00ff0b 50%,#00ff0b 52.1%,#00ff20 52.1%,#00ff20 54.2%,#00ff35 54.2%,#00ff35 56.2%,#00ff4a 56.2%,#00ff4a 58.3%,#00ff60 58.3%,#00ff60 60.4%,#00ff75 60.4%,#00ff75 62.5%,#00ff8a 62.5%,#00ff8a 64.6%,#00ff9f 64.6%,#00ff9f 66.7%,#00ffb5 66.7%,#00ffb5 68.8%,#00ffca 68.8%,#00ffca 70.8%,#00ffdf 70.8%,#00ffdf 72.9%,#00fff4 72.9%,#00fff4 75%,#00f4ff 75%,#00f4ff 77.1%,#00dfff 77.1%,#00dfff 79.2%,#00caff 79.2%,#00caff 81.2%,#00b5ff 81.2%,#00b5ff 83.3%,#009fff 83.3%,#009fff 85.4%,#008aff 85.4%,#008aff 87.5%,#0075ff 87.5%,#0075ff 89.6%,#0060ff 89.6%,#0060ff 91.7%,#004aff 91.7%,#004aff 93.8%,#0035ff 93.8%,#0035ff 95.8%,#0020ff 95.8%,#0020ff 97.9%,#000bff 97.9%,#000bff 100%)"></div>
<div class="hm" style="left:415px;top:325px;width:213px;height:205px"><i style="height:2px;background:linear-gradient(90deg,#aeff00 0px,#03ff00 52px,#0f0 98px,#0bff00 100px,#43ff00 104px,#84ff00 111px,#fffd00 119px,#ffd500 124px,#ffa900 133px,#ff4a00 164px,#ff4000 178px,#ff5c00 195px,#f60 213px)"></i><i style="height:2px;background:linear-gradient(90deg,#b0ff00 0px,#03ff00 52px,#0f0 98px,#0aff00 100px,#3eff00 104px,#74ff00 110px,#ecff00 118px,#fffd00 120px,#ffad00 134px,#ff4d00 164px,#f40 178px,#ff5e00 195px,#ff6700 213px)"></i><i style="height:2px;background:linear-gradient(90deg,#b2ff00 0px,#04ff00 51px,#0f0 98px,#09ff00 100px,#71ff00 110px,#e3ff00 118px,#fffe00 121px,#ffac00 136px,#ff5200 163px,#ff4800 178px,#ff6800 213px)"></i><i style="height:2px;background:linear-gradient(90deg,#b4ff00 0px,#04ff00 51px,#0f0 98px,#08ff00 100px,#6dff00 110px,#d9ff00 118px,#ff0 122px,#ffa100 140px,#ff5600 163px,#ff4d00 178px,#ff6900 213px)"></i><i style="height:2px;background:linear-gradient(90deg,#b5ff00 0px,#04ff00 51px,#0f0 98px,#0fff00 101px,#6aff00 110px,#cfff00 118px,#ff0 123px,#ffa300 141px,#ff5900 163px,#ff5100 178px,#ff6a00 213px)"></i><i style="height:2px;background:linear-gradient(90deg,#b7ff00 0px,#05ff00 50px,#0f0 98px,#1fff00 103px,#fdff00 124px,#ff9700 145px,#ff5d00 163px,#ff5600 178px,#ff6b00 213px)"></i><i style="height:2px;background:linear-gradient(90deg,#b9ff00 0px,#04ff00 50px,#0f0 98px,#1bff00 103px,#daff00 121px,#fffc00 126px,#ff9300 147px,#ff6200 162px,#ff5a00 178px,#ff6c00 213px)"></i><i style="height:2px;background:linear-gradient(90deg,#bf0 0px,#04ff00 50px,#0f0 98px,#16ff00 103px,#daff00 122px,#ff0 127px,#ff9200 148px,#ff6500 162px,#ff6d00 213px)"></i><i style="height:2px;background:linear-gradient(90deg,#bdff00 0px,#03ff00 50px,#0f0 98px,#1f0 103px,#dbff00 123px,#fffc00 129px,#ff9500 148px,#ff6800 162px,#ff6e00 213px)"></i><i style="height:2px;background:linear-gradient(90deg,#beff00 0px,#05ff00 49px,#0f0 98px,#0cff00 103px,#d2ff00 123px,#ff0 130px,#ff9300 149px,#ff6d00 161px,#ff6f00 213px)"></i><i style="height:2px;background:linear-gradient(90deg,#c0ff00 0px,#04ff00 49px,#0f0 99px,#0fff00 104px,#54ff00 110px,#d2ff00 124px,#fdff00 131px,#ff9600 149px,#ff7000 161px,#ff6f00 213px)"></i><i style="height:2px;background:linear-gradient(90deg,#c2ff00 0px,#91ff00 10px,#51ff00 31px,#03ff00 49px,#0f0 102px,#c9ff00 124px,#fffd00 133px,#ff9a00 149px,#ff7400 161px,#ff7000 213px)"></i><i style="height:2px;background:linear-gradient(90deg,#c5ff00 0px,#92ff00 10px,#52ff00 31px,#02ff00 50px,#0f0 102px,#c0ff00 124px,#fffd00 134px,#ffa000 149px,#ff7a00 161px,#ff7300 213px)"></i><i style="height:2px;background:linear-gradient(90deg,#c7ff00 0px,#93ff00 10px,#53ff00 31px,#03ff00 50px,#0f0 102px,#b7ff00 124px,#fffd00 135px,#ffa600 149px,#ff7f00 161px,#ff7600 213px)"></i><i style="height:2px;background:linear-gradient(90deg,#caff00 0px,#94ff00 10px,#53ff00 31px,#02ff00 51px,#0f0 102px,#fffd00 136px,#ffa700 150px,#ff8300 162px,#ff7900 213px)"></i><i style="height:2px;background:linear-gradient(90deg,#cdff00 0px,#95ff00 10px,#54ff00 31px,#02ff00 51px,#0f0 102px,#fffc00 137px,#ffad00 150px,#f80 162px,#ff7b00 176px,#ff7b00 213px)"></i><i style="height:2px;background:linear-gradient(90deg,#d0ff00 0px,#9aff00 9px,#5f0 31px,#03ff00 51px,#0f0 102px,#41ff00 113px,#fffb00 138px,#ffb300 150px,#ff8c00 163px,#ff7e00 176px,#ff7e00 213px)"></i><i style="height:2px;background:linear-gradient(90deg,#d2ff00 0px,#9bff00 9px,#56ff00 31px,#01ff00 52px,#0f0 102px,#3f0 112px,#fffa00 139px,#ffb400 151px,#ff9200 163px,#ff8100 176px,#ff8100 213px)"></i><i style="height:2px;background:linear-gradient(90deg,#d5ff00 0px,#9cff00 9px,#57ff00 31px,#01ff00 52px,#0f0 102px,#2bff00 112px,#fdff00 139px,#ffb600 152px,#ff8b00 170px,#ff8300 213px)"></i><i style="height:2px;background:linear-gradient(90deg,#d8ff00 0px,#9dff00 9px,#57ff00 31px,#01ff00 52px,#0f0 102px,#24ff00 112px,#feff00 140px,#ffb800 153px,#ff8b00 172px,#ff8600 213px)"></i><i style="height:2px;background:linear-gradient(90deg,#daff00 0px,#a2ff00 8px,#58ff00 31px,#01ff00 52px,#0f0 102px,#1cff00 112px,#ff0 141px,#ffbe00 153px,#ff8d00 173px,#ff8900 213px)"></i><i style="height:2px;background:linear-gradient(90deg,#df0 0px,#a3ff00 8px,#5dff00 30px,#02ff00 52px,#0f0 102px,#15ff00 112px,#90ff00 129px,#ff0 142px,#ffc300 153px,#ff9000 173px,#ff8b00 213px)"></i><i style="height:2px;background:linear-gradient(90deg,#e0ff00 0px,#a3ff00 8px,#5dff00 30px,#02ff00 52px,#0f0 103px,#0dff00 112px,#7fff00 128px,#cdff00 136px,#fffe00 143px,#ffc600 154px,#ff9100 174px,#ff8e00 213px)"></i><i style="height:2px;background:linear-gradient(90deg,#e3ff00 0px,#a7ff00 8px,#5f0 33px,#04ff00 52px,#0f0 109px,#71ff00 127px,#d1ff00 137px,#fffb00 144px,#ffc500 155px,#ff9400 174px,#ff9100 213px)"></i><i style="height:2px;background:linear-gradient(90deg,#e7ff00 0px,#a7ff00 9px,#51ff00 35px,#05ff00 53px,#0f0 109px,#64ff00 126px,#ceff00 137px,#fffd00 144px,#ffbe00 157px,#ff9700 174px,#ff9300 213px)"></i><i style="height:2px;background:linear-gradient(90deg,#eaff00 0px,#abff00 9px,#49ff00 38px,#08ff00 53px,#0f0 109px,#57ff00 125px,#cbff00 137px,#ff0 144px,#fb0 158px,#ff9b00 173px,#ff9600 213px)"></i><i style="height:2px;background:linear-gradient(90deg,#ef0 0px,#afff00 9px,#45ff00 40px,#0aff00 53px,#0f0 109px,#51ff00 125px,#c8ff00 137px,#fdff00 144px,#fb0 158px,#ff9e00 173px,#f90 213px)"></i><i style="height:2px;background:linear-gradient(90deg,#f1ff00 0px,#afff00 10px,#49ff00 40px,#0bff00 54px,#0f0 62px,#0f0 109px,#4f0 124px,#6cff00 129px,#ceff00 138px,#fffe00 145px,#fb0 158px,#ffa200 172px,#ff9b00 213px)"></i><i style="height:2px;background:linear-gradient(90deg,#f5ff00 0px,#afff00 11px,#08ff00 56px,#0f0 109px,#37ff00 123px,#67ff00 129px,#cbff00 138px,#feff00 145px,#ffbc00 158px,#ffa600 171px,#ff9e00 213px)"></i><i style="height:2px;background:linear-gradient(90deg,#f8ff00 0px,#afff00 12px,#4cff00 41px,#07ff00 57px,#0f0 109px,#31ff00 123px,#62ff00 129px,#d2ff00 139px,#fffc00 146px,#ffb700 160px,#ffa400 176px,#ffa100 213px)"></i><i style="height:2px;background:linear-gradient(90deg,#fcff00 0px,#b2ff00 12px,#50ff00 41px,#06ff00 58px,#0f0 109px,#2bff00 123px,#5dff00 129px,#cfff00 139px,#fffe00 146px,#ffb700 160px,#ffa700 176px,#ffa400 213px)"></i><i style="height:2px;background:linear-gradient(90deg,#fffe00 0px,#b2ff00 13px,#50ff00 42px,#10ff00 55px,#01ff00 61px,#0f0 71px,#0f0 110px,#13ff00 120px,#4dff00 128px,#d6ff00 140px,#feff00 146px,#ffb700 160px,#ffa600 213px)"></i><i style="height:2px;background:linear-gradient(90deg,#fffb00 0px,#b1ff00 14px,#53ff00 42px,#0eff00 56px,#0f0 71px,#0f0 110px,#0dff00 120px,#48ff00 128px,#d4ff00 140px,#fffd00 147px,#ffb700 160px,#ffa900 213px)"></i><i style="height:2px;background:linear-gradient(90deg,#fff700 0px,#b0ff00 15px,#57ff00 42px,#0cff00 57px,#0f0 71px,#07ff00 120px,#43ff00 128px,#d1ff00 140px,#feff00 147px,#ffb700 160px,#ffac00 213px)"></i><i style="height:2px;background:linear-gradient(90deg,#fff300 0px,#fdff00 2px,#a1ff00 20px,#57ff00 43px,#07ff00 59px,#0f0 88px,#07ff00 121px,#47ff00 129px,#cbff00 140px,#fdff00 148px,#ffba00 160px,#ffae00 213px)"></i><i style="height:2px;background:linear-gradient(90deg,#ffec00 0px,#fcff00 3px,#beff00 15px,#5eff00 42px,#0bff00 59px,#0f0 88px,#06ff00 121px,#41ff00 129px,#c6ff00 141px,#fffc00 151px,#ffc700 158px,#ffbd00 163px,#ffb000 213px)"></i><i style="height:2px;background:linear-gradient(90deg,#ffe600 0px,#fcff00 4px,#0fff00 59px,#0f0 88px,#06ff00 121px,#3aff00 129px,#b7ff00 141px,#feff00 152px,#ffcb00 159px,#fb0 167px,#ffb200 213px)"></i><i style="height:2px;background:linear-gradient(90deg,#ffe000 0px,#fdff00 5px,#13ff00 59px,#0f0 88px,#05ff00 121px,#34ff00 129px,#a9ff00 141px,#fff900 154px,#ffd200 159px,#ffbc00 169px,#ffb300 213px)"></i><i style="height:2px;background:linear-gradient(90deg,#ffda00 0px,#ff0 6px,#17ff00 59px,#0f0 88px,#08ff00 122px,#2eff00 129px,#9bff00 141px,#fffa00 155px,#ffd600 160px,#ffbe00 169px,#ffb500 213px)"></i><i style="height:2px;background:linear-gradient(90deg,#ffd300 0px,#fdff00 8px,#1bff00 59px,#0f0 88px,#0f0 119px,#0aff00 123px,#2eff00 130px,#fff900 156px,#ffdc00 160px,#ffc000 169px,#ffb700 213px)"></i><i style="height:2px;background:linear-gradient(90deg,#ffcd00 0px,#fcff00 10px,#1fff00 59px,#0f0 88px,#0f0 119px,#0cff00 124px,#2dff00 131px,#fff900 157px,#ffdf00 161px,#ffc100 170px,#ffb900 213px)"></i><i style="height:2px;background:linear-gradient(90deg,#ffc700 0px,#fffe00 11px,#23ff00 59px,#0f0 88px,#0f0 119px,#16ff00 128px,#48ff00 136px,#fff900 158px,#ffc300 170px,#fb0 213px)"></i><i style="height:2px;background:linear-gradient(90deg,#ffc100 0px,#fdff00 14px,#2eff00 57px,#05ff00 77px,#0f0 88px,#0f0 119px,#17ff00 130px,#80ff00 145px,#fdff00 158px,#ffc600 170px,#ffbc00 213px)"></i><i style="height:2px;background:linear-gradient(90deg,#ffba00 0px,#feff00 16px,#35ff00 56px,#06ff00 77px,#0f0 88px,#0f0 119px,#12ff00 131px,#6aff00 144px,#feff00 159px,#ffc800 170px,#ffbe00 213px)"></i><i style="height:2px;background:linear-gradient(90deg,#ffb400 0px,#ff0 18px,#3dff00 55px,#06ff00 77px,#0f0 88px,#0dff00 132px,#5cff00 144px,#ff0 160px,#ffca00 170px,#ffc000 213px)"></i><i style="height:2px;background:linear-gradient(90deg,#ffae00 0px,#ff0 20px,#48ff00 53px,#07ff00 77px,#0f0 88px,#06ff00 133px,#4eff00 144px,#fffe00 161px,#fc0 170px,#ffc200 213px)"></i><i style="height:2px;background:linear-gradient(90deg,#ffa800 0px,#fdff00 22px,#46ff00 56px,#06ff00 78px,#00ff01 88px,#02ff00 134px,#43ff00 144px,#dcff00 159px,#fffc00 164px,#ffe100 169px,#ffd300 178px,#ffbe00 213px)"></i><i style="height:2px;background:linear-gradient(90deg,#ffa300 0px,#fffe00 23px,#4aff00 57px,#07ff00 78px,#00ff01 88px,#00ff0e 130px,#0f0 135px,#3aff00 144px,#c9ff00 159px,#fffe00 167px,#ffd200 184px,#ffb900 213px)"></i><i style="height:2px;background:linear-gradient(90deg,#ff9e00 0px,#fdff00 25px,#46ff00 60px,#06ff00 79px,#00ff02 88px,#00ff15 130px,#00ff02 136px,#37ff00 145px,#beff00 160px,#feff00 171px,#ffd300 187px,#ffb500 213px)"></i><i style="height:2px;background:linear-gradient(90deg,#ff9800 0px,#fffe00 26px,#40ff00 63px,#07ff00 79px,#00ff03 88px,#00ff1c 130px,#02ff00 138px,#34ff00 146px,#af0 160px,#feff00 175px,#ffc200 197px,#ffb000 213px)"></i><i style="height:2px;background:linear-gradient(90deg,#ff9300 0px,#feff00 28px,#3eff00 65px,#05ff00 80px,#00ff03 88px,#00ff1f 112px,#00ff23 130px,#0f0 139px,#96ff00 160px,#ff0 178px,#ffc000 198px,#ffac00 213px)"></i><i style="height:2px;background:linear-gradient(90deg,#ff8d00 0px,#fffd00 29px,#b7ff00 45px,#36ff00 68px,#06ff00 80px,#00ff04 88px,#00ff0b 101px,#00ff25 112px,#00ff2b 130px,#02ff00 141px,#ff0 180px,#ffbc00 199px,#ffa700 213px)"></i><i style="height:2px;background:linear-gradient(90deg,#f80 0px,#fc0 20px,#ff0 31px,#c3ff00 45px,#73ff00 57px,#16ff00 76px,#01ff00 82px,#00ff04 88px,#00ff0d 101px,#00ff2b 112px,#00ff32 130px,#00ff02 142px,#92ff00 166px,#fcff00 181px,#fb0 199px,#ffa300 213px)"></i><i style="height:2px;background:linear-gradient(90deg,#ff8300 0px,#ffc800 21px,#feff00 33px,#cfff00 45px,#75ff00 58px,#13ff00 77px,#01ff00 82px,#00ff05 88px,#00ff0f 101px,#00ff31 112px,#00ff39 130px,#00ff02 144px,#7dff00 166px,#fffe00 183px,#ffb700 200px,#ff9e00 213px)"></i><i style="height:2px;background:linear-gradient(90deg,#ff7d00 0px,#ffc100 21px,#feff00 35px,#dcff00 45px,#7dff00 58px,#10ff00 78px,#00ff06 88px,#0f1 101px,#00ff38 112px,#00ff40 130px,#00ff02 146px,#68ff00 166px,#ff0 184px,#ffb600 200px,#ff9a00 213px)"></i><i style="height:2px;background:linear-gradient(90deg,#ff7800 0px,#ffbd00 22px,#fffa00 36px,#f3ff00 42px,#dcff00 47px,#72ff00 61px,#16ff00 77px,#02ff00 82px,#00ff06 88px,#00ff13 101px,#00ff3e 112px,#00ff47 130px,#0f0 149px,#53ff00 166px,#feff00 185px,#ffb400 200px,#ff9500 213px)"></i><i style="height:2px;background:linear-gradient(90deg,#ff7300 0px,#fcff00 43px,#7fff00 60px,#18ff00 77px,#02ff00 82px,#00ff07 88px,#00ff14 101px,#0f4 112px,#00ff4e 130px,#00ff01 152px,#3eff00 166px,#d0ff00 180px,#ff0 186px,#ffb300 200px,#ff9100 213px)"></i><i style="height:2px;background:linear-gradient(90deg,#ff6d00 0px,#fffd00 45px,#94ff00 59px,#1fff00 78px,#06ff00 85px,#00ff06 94px,#00ff15 102px,#00ff43 112px,#00ff4f 130px,#01ff00 154px,#3bff00 167px,#cdff00 180px,#feff00 186px,#ffad00 200px,#ff8a00 213px)"></i><i style="height:2px;background:linear-gradient(90deg,#ff6800 0px,#ffa500 23px,#fffc00 47px,#a0ff00 60px,#2fff00 79px,#00ff01 97px,#00ff3d 112px,#00ff4b 130px,#01ff00 154px,#39ff00 167px,#ceff00 180px,#fffc00 186px,#ffa400 200px,#ff8100 213px)"></i><i style="height:2px;background:linear-gradient(90deg,#ff6200 0px,#ff9d00 24px,#ffdf00 44px,#fffc00 49px,#3fff00 80px,#0f0 100px,#00ff37 112px,#00ff46 130px,#02ff00 154px,#36ff00 167px,#c5ff00 179px,#feff00 185px,#ffa000 199px,#ff7800 213px)"></i><i style="height:2px;background:linear-gradient(90deg,#ff5d00 0px,#ff9500 25px,#ffd200 44px,#fffc00 51px,#3aff00 85px,#00ff05 103px,#00ff30 112px,#00ff42 130px,#02ff00 154px,#3f0 167px,#c6ff00 179px,#fffd00 185px,#ff9700 199px,#ff6f00 213px)"></i><i style="height:2px;background:linear-gradient(90deg,#ff5800 0px,#ff8d00 26px,#ffc900 45px,#fffb00 53px,#41ff00 87px,#00ff04 104px,#00ff2a 112px,#00ff3d 130px,#0f0 153px,#30ff00 167px,#fbff00 184px,#ff9300 198px,#f60 213px)"></i><i style="height:2px;background:linear-gradient(90deg,#ff5200 0px,#ff7d00 24px,#ffb500 43px,#fffd00 56px,#4aff00 88px,#00ff03 105px,#00ff24 112px,#00ff39 130px,#00ff02 152px,#1aff00 163px,#2eff00 167px,#feff00 184px,#ff8a00 198px,#ff5d00 213px)"></i><i style="height:2px;background:linear-gradient(90deg,#ff4d00 0px,#ff7200 24px,#ffa800 43px,#fdff00 60px,#94ff00 80px,#4eff00 90px,#00ff08 107px,#00ff21 114px,#00ff34 130px,#00ff01 152px,#1bff00 164px,#2bff00 167px,#beff00 178px,#fffe00 184px,#ff8100 198px,#ff5400 213px)"></i><i style="height:2px;background:linear-gradient(90deg,#ff4800 0px,#ff6700 24px,#ff9c00 43px,#fffe00 63px,#afff00 79px,#61ff00 89px,#00ff02 107px,#00ff1d 115px,#00ff30 130px,#00ff01 151px,#19ff00 164px,#28ff00 167px,#f9ff00 183px,#ff7800 198px,#ff4b00 213px)"></i><i style="height:2px;background:linear-gradient(90deg,#ff4200 0px,#ff6a00 30px,#f90 46px,#feff00 67px,#beff00 80px,#68ff00 90px,#00ff01 108px,#00ff1e 118px,#00ff2b 130px,#0f0 151px,#1aff00 165px,#32ff00 168px,#fbff00 183px,#ff6f00 198px,#ff4200 213px)"></i><i style="height:2px;background:linear-gradient(90deg,#ff3d00 0px,#ff6000 31px,#ff9000 47px,#feff00 71px,#d3ff00 80px,#60ff00 93px,#00ff04 110px,#00ff27 130px,#0f0 150px,#1bff00 166px,#fdff00 183px,#f60 198px,#ff3900 213px)"></i><i style="height:2px;background:linear-gradient(90deg,#ff3700 0px,#ff5600 32px,#ff8d00 50px,#fdff00 76px,#e0ff00 81px,#94ff00 88px,#5cff00 95px,#00ff01 111px,#0f2 130px,#0f0 149px,#18ff00 166px,#fffe00 183px,#ff5e00 198px,#ff3c00 206px,#ff3000 213px)"></i><i style="height:2px;background:linear-gradient(90deg,#ff3200 0px,#ff3d00 24px,#ff4d00 33px,#ff9200 55px,#fffd00 79px,#5dff00 96px,#16ff00 107px,#00ff02 113px,#00ff1e 130px,#0f0 146px,#19ff00 166px,#f6ff00 182px,#ff5900 198px,#ff3800 206px,#ff2d00 213px)"></i><i style="height:2px;background:linear-gradient(90deg,#ff2f00 0px,#ff3a00 25px,#ff5f00 42px,#ff9e00 60px,#fffb00 79px,#5f0 97px,#19ff00 106px,#00ff01 113px,#00ff1b 130px,#0f0 142px,#2cff00 166px,#fffe00 183px,#ff6c00 198px,#f40 213px)"></i><i style="height:2px;background:linear-gradient(90deg,#ff2c00 0px,#ff3700 26px,#ff5d00 44px,#ff9600 60px,#ff0 80px,#9cff00 89px,#4eff00 98px,#17ff00 106px,#00ff01 113px,#00ff19 130px,#00ff01 140px,#25ff00 148px,#40ff00 166px,#feff00 183px,#ff7e00 198px,#ff5b00 213px)"></i><i style="height:2px;background:linear-gradient(90deg,#ff2900 0px,#f30 26px,#f50 44px,#ff9400 61px,#fffd00 80px,#46ff00 99px,#14ff00 106px,#00ff01 113px,#00ff16 130px,#00ff03 138px,#36ff00 148px,#54ff00 166px,#fcff00 183px,#ff9100 198px,#ff7300 213px)"></i><i style="height:2px;background:linear-gradient(90deg,#ff2600 0px,#ff2f00 26px,#ff5000 45px,#ff8c00 61px,#fffb00 80px,#7aff00 93px,#25ff00 103px,#00ff01 113px,#00ff13 130px,#02ff00 138px,#47ff00 148px,#6cff00 167px,#fbff00 183px,#ffa400 198px,#ff8a00 213px)"></i><i style="height:2px;background:linear-gradient(90deg,#ff2300 0px,#ff2a00 26px,#ff4800 45px,#ff8a00 62px,#feff00 81px,#85ff00 92px,#23ff00 103px,#00ff01 113px,#0f1 130px,#01ff00 137px,#58ff00 148px,#7fff00 167px,#feff00 184px,#ffb600 198px,#ffa100 213px)"></i><i style="height:2px;background:linear-gradient(90deg,#ff2000 0px,#ff2600 26px,#ff4300 46px,#ff8300 62px,#fffe00 81px,#7cff00 93px,#19ff00 104px,#00ff01 113px,#00ff0e 130px,#00ff01 136px,#64ff00 147px,#82ff00 155px,#92ff00 167px,#ff0 185px,#ffc900 198px,#ffb800 213px)"></i><i style="height:2px;background:linear-gradient(90deg,#ff1d00 0px,#ff2300 27px,#ff3b00 46px,#ff7b00 62px,#fffc00 81px,#16ff00 104px,#00ff01 113px,#00ff0b 130px,#03ff00 136px,#23ff00 140px,#6eff00 146px,#7fff00 149px,#9f0 156px,#a5ff00 167px,#fbff00 185px,#ffdc00 198px,#ffd000 213px)"></i><i style="height:2px;background:linear-gradient(90deg,#ff1900 0px,#ff1f00 27px,#f30 46px,#ff7a00 63px,#ffd100 74px,#fdff00 82px,#74ff00 94px,#14ff00 104px,#0f0 113px,#0f0 135px,#2bff00 140px,#7dff00 146px,#96ff00 150px,#afff00 157px,#b8ff00 167px,#f0ff00 181px,#fffe00 191px,#ffe700 213px)"></i><i style="height:2px;background:linear-gradient(90deg,#ff1600 0px,#ff2b00 46px,#ff7300 63px,#ffce00 74px,#fffe00 82px,#1f0 104px,#0f0 113px,#03ff00 135px,#32ff00 140px,#8dff00 146px,#c1ff00 156px,#cbff00 167px,#f2ff00 182px,#fffe00 213px)"></i><i style="height:2px;background:linear-gradient(90deg,#ff1300 0px,#ff2600 47px,#ff6b00 63px,#ffcb00 74px,#fffc00 82px,#0fff00 104px,#0f0 113px,#01ff00 134px,#39ff00 140px,#9dff00 146px,#d8ff00 157px,#f1ff00 180px,#e8ff00 213px)"></i><i style="height:2px;background:linear-gradient(90deg,#ff1000 0px,#ff1e00 47px,#ff6400 63px,#ffc800 74px,#fdff00 83px,#16ff00 103px,#0f0 107px,#03ff00 134px,#40ff00 140px,#adff00 146px,#d8ff00 152px,#efff00 158px,#f4ff00 179px,#dbff00 194px,#d1ff00 213px)"></i><i style="height:2px;background:linear-gradient(90deg,#f10 0px,#ff1f00 47px,#ff6a00 64px,#ffc500 74px,#fffe00 83px,#17ff00 103px,#01ff00 107px,#04ff00 135px,#37ff00 140px,#9dff00 146px,#c6ff00 152px,#df0 158px,#df0 178px,#baff00 194px,#adff00 213px)"></i><i style="height:2px;background:linear-gradient(90deg,#ff1300 0px,#ff2300 47px,#ff6b00 64px,#ffc100 74px,#fffb00 83px,#19ff00 103px,#04ff00 106px,#0f0 110px,#00ff0d 132px,#02ff00 136px,#28ff00 140px,#85ff00 146px,#afff00 153px,#c1ff00 159px,#bfff00 177px,#93ff00 195px,#84ff00 213px)"></i><i style="height:2px;background:linear-gradient(90deg,#ff1600 0px,#ff2600 47px,#ff7100 65px,#ffbe00 74px,#feff00 84px,#1aff00 103px,#06ff00 106px,#0f0 110px,#00ff15 133px,#0f0 137px,#26ff00 141px,#6cff00 146px,#a3ff00 159px,#a5ff00 174px,#6dff00 195px,#5cff00 213px)"></i><i style="height:2px;background:linear-gradient(90deg,#ff1800 0px,#ff2a00 47px,#ff7200 65px,#fffd00 84px,#1cff00 103px,#0f0 110px,#00ff1c 133px,#00ff03 138px,#5fff00 148px,#83ff00 157px,#8bff00 166px,#84ff00 176px,#43ff00 197px,#34ff00 213px)"></i><i style="height:2px;background:linear-gradient(90deg,#ff1a00 0px,#ff2e00 47px,#ff7300 65px,#fbff00 85px,#27ff00 102px,#0eff00 105px,#0f0 110px,#00ff24 133px,#00ff02 140px,#3cff00 146px,#56ff00 152px,#70ff00 170px,#5aff00 180px,#21ff00 195px,#0bff00 213px)"></i><i style="height:2px;background:linear-gradient(90deg,#ff1c00 0px,#ff2300 36px,#ff3100 47px,#ff7300 65px,#ff0 85px,#29ff00 102px,#10ff00 105px,#0f0 110px,#00ff2c 133px,#0f0 142px,#23ff00 146px,#40ff00 154px,#54ff00 170px,#4f0 177px,#0f0 193px,#00ff1d 213px)"></i><i style="height:2px;background:linear-gradient(90deg,#ff1e00 0px,#ff2600 36px,#ff3500 47px,#ff7900 66px,#f9ff00 86px,#34ff00 101px,#12ff00 105px,#0f0 110px,#0f3 133px,#00ff1f 140px,#05ff00 145px,#2bff00 157px,#39ff00 170px,#0f0 185px,#0f3 198px,#00ff45 213px)"></i><i style="height:2px;background:linear-gradient(90deg,#ff2100 0px,#ff2900 36px,#ff3900 47px,#ff7a00 66px,#feff00 86px,#36ff00 101px,#14ff00 105px,#0f0 110px,#00ff3b 133px,#00ff01 151px,#1dff00 170px,#02ff00 178px,#00ff51 195px,#00ff6d 213px)"></i><i style="height:2px;background:linear-gradient(90deg,#ff2300 0px,#ff2c00 36px,#ff3c00 47px,#ff7f00 67px,#f8ff00 87px,#37ff00 101px,#0f0 110px,#00ff34 125px,#00ff43 134px,#00ff0c 159px,#00ff01 172px,#00ff74 194px,#00ff96 213px)"></i><i style="height:2px;background:linear-gradient(90deg,#ff2500 0px,#ff2f00 36px,#ff4000 47px,#ff8300 68px,#fdff00 87px,#43ff00 100px,#1fff00 104px,#0f0 110px,#00ff3a 125px,#00ff4b 134px,#00ff1b 171px,#0f9 194px,#00ffb2 202px,#00ffbe 213px)"></i><i style="height:2px;background:linear-gradient(90deg,#ff2700 0px,#ff3200 36px,#f40 47px,#ff8c00 70px,#fffc00 87px,#4f0 100px,#0f0 110px,#00ff40 125px,#0f5 136px,#00ff54 151px,#00ff37 171px,#00ffbf 194px,#00ffda 202px,#00ffe6 213px)"></i><i style="height:2px;background:linear-gradient(90deg,#ff2900 0px,#ff3400 36px,#ff4800 48px,#ff8f00 71px,#fffb00 87px,#ebff00 89px,#43ff00 100px,#0f0 110px,#00ff45 126px,#00ff5e 139px,#00ff65 151px,#00ff4d 172px,#00ffd7 194px,#00fff2 202px,#0ff 213px)"></i><i style="height:2px;background:linear-gradient(90deg,#ff2a00 0px,#ff3500 36px,#ff4b00 49px,#ff9100 71px,#feff00 87px,#3eff00 100px,#0f0 110px,#00ff45 127px,#00ff5b 139px,#00ff64 151px,#00ff54 172px,#0fd 195px,#00fff6 203px,#00feff 213px)"></i><i style="height:2px;background:linear-gradient(90deg,#ff2b00 0px,#ff3500 36px,#ff4e00 50px,#ff9300 71px,#fffb00 86px,#e1ff00 89px,#39ff00 100px,#0f0 110px,#00ff41 127px,#00ff56 138px,#00ff63 151px,#00ff5b 172px,#00ffe2 196px,#00fdff 213px)"></i><i style="height:2px;background:linear-gradient(90deg,#ff2c00 0px,#ff3700 37px,#ff5300 52px,#ff9500 71px,#feff00 86px,#dcff00 89px,#34ff00 100px,#0f0 110px,#00ff3d 127px,#00ff52 137px,#00ff62 151px,#00ff63 172px,#00ffe8 197px,#00fcff 213px)"></i><i style="height:2px;background:linear-gradient(90deg,#ff2d00 0px,#ff3800 37px,#ff5300 52px,#ff9200 70px,#fffa00 85px,#d7ff00 89px,#2fff00 100px,#0f0 110px,#00ff4d 136px,#00ff6a 172px,#00ffe9 197px,#00fbff 213px)"></i><i style="height:2px;background:linear-gradient(90deg,#ff2e00 0px,#ff3900 37px,#ff5a00 55px,#ff9800 71px,#fffe00 85px,#d2ff00 89px,#2aff00 100px,#0f0 110px,#00ff48 135px,#00ff72 172px,#0fe 198px,#00faff 213px)"></i><i style="height:2px;background:linear-gradient(90deg,#ff2f00 0px,#ff3a00 37px,#ff5800 54px,#ff9500 70px,#fff900 84px,#cdff00 89px,#25ff00 100px,#0f0 110px,#00ff42 134px,#00ff79 172px,#00fff0 198px,#00f9ff 213px)"></i><i style="height:2px;background:linear-gradient(90deg,#ff2f00 0px,#ff3b00 37px,#ff5d00 56px,#ff9c00 71px,#fffc00 84px,#c8ff00 89px,#1fff00 100px,#0f0 110px,#00ff3b 132px,#00ff80 172px,#00fff5 199px,#00f8ff 213px)"></i><i style="height:2px;background:linear-gradient(90deg,#ff3000 0px,#ff3b00 37px,#ff5d00 56px,#ff9e00 71px,#feff00 84px,#b6ff00 90px,#1aff00 100px,#0f0 110px,#00ff8a 173px,#00fff9 200px,#00f7ff 213px)"></i><i style="height:2px;background:linear-gradient(90deg,#ff3100 0px,#ff3c00 37px,#ff5d00 56px,#ff9a00 70px,#fffa00 83px,#beff00 89px,#0cff00 101px,#00ff05 115px,#0f9 176px,#00fffa 200px,#00f7ff 213px)"></i><i style="height:2px;background:linear-gradient(90deg,#ff3200 0px,#ff3d00 37px,#ff5d00 56px,#ff9b00 70px,#fffd00 83px,#acff00 90px,#07ff00 101px,#00ff03 116px,#00ffad 181px,#00fff9 199px,#00f6ff 213px)"></i><i style="height:1px;background:linear-gradient(90deg,#f30 0px,#ff3e00 37px,#ff5d00 56px,#ff9700 69px,#feff00 83px,#9bff00 91px,#03ff00 101px,#00ff02 117px,#00ffb6 183px,#00fffa 199px,#00f5ff 213px)"></i></div>
<div class="cb" style="left:662px;top:325px;width:16px;height:205px;background:linear-gradient(180deg,#ff0b00 0%,#ff0b00 2.1%,#ff2000 2.1%,#ff2000 4.2%,#ff3500 4.2%,#ff3500 6.2%,#ff4a00 6.2%,#ff4a00 8.3%,#ff6000 8.3%,#ff6000 10.4%,#ff7500 10.4%,#ff7500 12.5%,#ff8a00 12.5%,#ff8a00 14.6%,#ff9f00 14.6%,#ff9f00 16.7%,#ffb500 16.7%,#ffb500 18.8%,#ffca00 18.8%,#ffca00 20.8%,#ffdf00 20.8%,#ffdf00 22.9%,#fff400 22.9%,#fff400 25%,#f4ff00 25%,#f4ff00 27.1%,#dfff00 27.1%,#dfff00 29.2%,#caff00 29.2%,#caff00 31.2%,#b5ff00 31.2%,#b5ff00 33.3%,#9fff00 33.3%,#9fff00 35.4%,#8aff00 35.4%,#8aff00 37.5%,#75ff00 37.5%,#75ff00 39.6%,#60ff00 39.6%,#60ff00 41.7%,#4aff00 41.7%,#4aff00 43.8%,#35ff00 43.8%,#35ff00 45.8%,#20ff00 45.8%,#20ff00 47.9%,#0bff00 47.9%,#0bff00 50%,#00ff0b 50%,#00ff0b 52.1%,#00ff20 52.1%,#00ff20 54.2%,#00ff35 54.2%,#00ff35 56.2%,#00ff4a 56.2%,#00ff4a 58.3%,#00ff60 58.3%,#00ff60 60.4%,#00ff75 60.4%,#00ff75 62.5%,#00ff8a 62.5%,#00ff8a 64.6%,#00ff9f 64.6%,#00ff9f 66.7%,#00ffb5 66.7%,#00ffb5 68.8%,#00ffca 68.8%,#00ffca 70.8%,#00ffdf 70.8%,#00ffdf 72.9%,#00fff4 72.9%,#00fff4 75%,#00f4ff 75%,#00f4ff 77.1%,#00dfff 77.1%,#00dfff 79.2%,#00caff 79.2%,#00caff 81.2%,#00b5ff 81.2%,#00b5ff 83.3%,#009fff 83.3%,#009fff 85.4%,#008aff 85.4%,#008aff 87.5%,#0075ff 87.5%,#0075ff 89.6%,#0060ff 89.6%,#0060ff 91.7%,#004aff 91.7%,#004aff 93.8%,#0035ff 93.8%,#0035ff 95.8%,#0020ff 95.8%,#0020ff 97.9%,#000bff 97.9%,#000bff 100%)"></div>
<div class="hm" style="left:773px;top:325px;width:213px;height:205px"><i style="height:2px;background:linear-gradient(90deg,#ffa200 0px,#ffc300 15px,#fdff00 29px,#d7ff00 38px,#c1ff00 67px,#cf0 93px,#fdff00 104px,#ffc200 115px,#ff8f00 128px,#ff2e00 172px,#ff2c00 181px,#ff5900 200px,#ff6500 213px)"></i><i style="height:2px;background:linear-gradient(90deg,#ffa100 0px,#ffc200 15px,#ff0 29px,#d6ff00 40px,#c0ff00 70px,#caff00 93px,#ff0 105px,#ffc600 115px,#ff9000 128px,#ff3100 171px,#ff2e00 181px,#ff5700 200px,#ff6200 213px)"></i><i style="height:2px;background:linear-gradient(90deg,#ff9f00 0px,#ffc100 15px,#fcff00 30px,#e1ff00 36px,#d2ff00 44px,#beff00 72px,#caff00 94px,#fcff00 105px,#ff9200 128px,#ff3600 168px,#ff2e00 180px,#ff5600 200px,#ff5f00 213px)"></i><i style="height:2px;background:linear-gradient(90deg,#ff9d00 0px,#ffc000 15px,#fdff00 30px,#e0ff00 37px,#d1ff00 45px,#bcff00 74px,#c7ff00 94px,#ff0 106px,#ff9600 127px,#ff3e00 163px,#ff2f00 179px,#ff5d00 213px)"></i><i style="height:2px;background:linear-gradient(90deg,#ff9b00 0px,#ffc200 16px,#ff0 30px,#d3ff00 45px,#bf0 74px,#c5ff00 94px,#fcff00 106px,#ff9800 127px,#ff4000 162px,#ff3100 179px,#ff5a00 213px)"></i><i style="height:2px;background:linear-gradient(90deg,#f90 0px,#ffbe00 15px,#fcff00 31px,#d1ff00 47px,#b9ff00 75px,#c5ff00 95px,#ff0 107px,#f90 127px,#ff4000 162px,#f30 179px,#ff5700 213px)"></i><i style="height:2px;background:linear-gradient(90deg,#ff9800 0px,#ffc000 16px,#feff00 31px,#d2ff00 47px,#b7ff00 75px,#c3ff00 95px,#fcff00 107px,#ff9b00 127px,#ff4100 161px,#ff3500 179px,#f50 213px)"></i><i style="height:2px;background:linear-gradient(90deg,#ff9600 0px,#ffbf00 16px,#fcff00 32px,#d0ff00 49px,#b5ff00 76px,#c1ff00 95px,#feff00 108px,#ff9c00 127px,#ff4100 161px,#ff3700 180px,#ff5200 213px)"></i><i style="height:2px;background:linear-gradient(90deg,#ff9400 0px,#ffbe00 16px,#fdff00 32px,#d0ff00 49px,#b3ff00 76px,#bfff00 95px,#fbff00 108px,#ff9e00 127px,#ff4100 161px,#ff3800 180px,#ff4f00 213px)"></i><i style="height:2px;background:linear-gradient(90deg,#ff9200 0px,#ffc000 17px,#ff0 32px,#ceff00 51px,#b1ff00 76px,#beff00 96px,#fdff00 109px,#ff9f00 127px,#ff4300 160px,#ff3a00 180px,#ff4c00 213px)"></i><i style="height:2px;background:linear-gradient(90deg,#ff9000 0px,#ffbc00 16px,#feff00 33px,#c5ff00 56px,#afff00 77px,#bcff00 96px,#ff0 110px,#ffa100 127px,#ff4300 160px,#ff3c00 182px,#ff4a00 213px)"></i><i style="height:2px;background:linear-gradient(90deg,#ff8f00 0px,#ffbe00 17px,#fffe00 33px,#c4ff00 57px,#adff00 77px,#b9ff00 96px,#fbff00 110px,#ffa300 127px,#ff4300 160px,#ff4800 213px)"></i><i style="height:2px;background:linear-gradient(90deg,#ff8d00 0px,#feff00 34px,#c2ff00 58px,#abff00 79px,#b7ff00 97px,#feff00 112px,#ffad00 127px,#ff4900 160px,#ff4a00 213px)"></i><i style="height:2px;background:linear-gradient(90deg,#ff8c00 0px,#ff0 34px,#c1ff00 59px,#a9ff00 81px,#b2ff00 97px,#fbff00 113px,#ffb700 127px,#ff5000 160px,#ff4d00 213px)"></i><i style="height:2px;background:linear-gradient(90deg,#ff8b00 0px,#feff00 35px,#c1ff00 59px,#a6ff00 82px,#b0ff00 98px,#fdff00 115px,#ffc100 127px,#ff5600 160px,#ff5000 213px)"></i><i style="height:2px;background:linear-gradient(90deg,#ff8900 0px,#ff0 35px,#c4ff00 58px,#a3ff00 83px,#adff00 99px,#ff0 117px,#ffd700 124px,#ff8600 145px,#ff5a00 161px,#ff5200 213px)"></i><i style="height:2px;background:linear-gradient(90deg,#f80 0px,#fdff00 36px,#c0ff00 60px,#a0ff00 85px,#adff00 101px,#fcff00 118px,#ff8600 147px,#ff6100 161px,#f50 213px)"></i><i style="height:2px;background:linear-gradient(90deg,#ff8700 0px,#ff0 36px,#acff00 71px,#9dff00 89px,#b1ff00 105px,#feff00 120px,#ff8a00 148px,#ff6700 161px,#ff5900 177px,#ff5800 213px)"></i><i style="height:2px;background:linear-gradient(90deg,#ff8500 0px,#fdff00 37px,#a5ff00 74px,#9f0 91px,#a8ff00 105px,#faff00 121px,#ff8d00 149px,#ff6b00 162px,#ff5d00 178px,#ff5b00 213px)"></i><i style="height:2px;background:linear-gradient(90deg,#ff8400 0px,#ff0 37px,#a2ff00 75px,#95ff00 94px,#a3ff00 106px,#fbff00 123px,#ff9000 150px,#ff7100 162px,#ff6200 177px,#ff5d00 213px)"></i><i style="height:2px;background:linear-gradient(90deg,#ff8300 0px,#fdff00 38px,#9dff00 77px,#91ff00 95px,#9bff00 106px,#feff00 126px,#ff9700 150px,#ff7600 163px,#f60 177px,#ff6000 213px)"></i><i style="height:2px;background:linear-gradient(90deg,#ff8100 0px,#ff0 38px,#9f0 78px,#8cff00 97px,#92ff00 106px,#feff00 129px,#ff9e00 150px,#ff7c00 163px,#ff6b00 177px,#ff6300 213px)"></i><i style="height:2px;background:linear-gradient(90deg,#ff8000 0px,#fdff00 39px,#95ff00 79px,#87ff00 101px,#8dff00 107px,#fcff00 131px,#ffa000 151px,#ff8000 164px,#ff6f00 177px,#ff6500 213px)"></i><i style="height:2px;background:linear-gradient(90deg,#ff7d00 0px,#fffe00 39px,#94ff00 80px,#83ff00 104px,#fcff00 134px,#fa0 151px,#ff8600 165px,#ff7100 183px,#ff6a00 213px)"></i><i style="height:2px;background:linear-gradient(90deg,#ff7a00 0px,#fffe00 40px,#95ff00 80px,#80ff00 104px,#f9ff00 136px,#ffb000 152px,#ff8c00 166px,#ff7500 186px,#ff6f00 213px)"></i><i style="height:2px;background:linear-gradient(90deg,#f70 0px,#fffe00 41px,#95ff00 81px,#7eff00 104px,#d7ff00 132px,#feff00 139px,#ffb600 153px,#ff9200 167px,#ff7a00 186px,#ff7500 213px)"></i><i style="height:2px;background:linear-gradient(90deg,#ff7400 0px,#fcff00 43px,#94ff00 82px,#7bff00 104px,#c6ff00 131px,#fffc00 142px,#ffc000 153px,#ff9800 168px,#ff7e00 187px,#ff7a00 213px)"></i><i style="height:2px;background:linear-gradient(90deg,#ff7100 0px,#fdff00 44px,#91ff00 84px,#79ff00 105px,#bf0 132px,#fffc00 144px,#ffc200 155px,#ff9e00 169px,#ff8300 187px,#ff7f00 213px)"></i><i style="height:2px;background:linear-gradient(90deg,#ff6e00 0px,#feff00 45px,#8fff00 85px,#76ff00 105px,#adff00 132px,#fffb00 146px,#ffbd00 159px,#ff9300 179px,#ff8500 213px)"></i><i style="height:2px;background:linear-gradient(90deg,#ff6a00 0px,#ff0 46px,#8dff00 86px,#74ff00 105px,#a0ff00 132px,#feff00 147px,#ffc300 160px,#ff9400 182px,#ff8a00 213px)"></i><i style="height:2px;background:linear-gradient(90deg,#ff6700 0px,#feff00 48px,#8dff00 86px,#71ff00 105px,#92ff00 132px,#fffe00 149px,#ffcb00 160px,#ff9800 183px,#ff8f00 213px)"></i><i style="height:2px;background:linear-gradient(90deg,#ff6400 0px,#ff0 49px,#8aff00 87px,#6eff00 106px,#84ff00 132px,#fffd00 151px,#ffd000 161px,#ff9b00 184px,#ff9500 213px)"></i><i style="height:2px;background:linear-gradient(90deg,#ff6100 0px,#feff00 51px,#caff00 70px,#8aff00 87px,#6bff00 107px,#76ff00 132px,#fffc00 153px,#ffd600 162px,#ff9f00 185px,#ff9a00 213px)"></i><i style="height:2px;background:linear-gradient(90deg,#ff5e00 0px,#fffe00 52px,#7eff00 92px,#69ff00 105px,#64ff00 125px,#72ff00 134px,#feff00 154px,#ffde00 162px,#ffa400 185px,#ffa000 213px)"></i><i style="height:2px;background:linear-gradient(90deg,#ff5b00 0px,#feff00 54px,#7f0 95px,#59ff00 130px,#6bff00 135px,#fdff00 156px,#ffa600 186px,#ffa300 213px)"></i><i style="height:2px;background:linear-gradient(90deg,#ff5800 0px,#ff0 55px,#71ff00 98px,#52ff00 130px,#68ff00 136px,#fffe00 159px,#ffde00 166px,#ffa700 186px,#ffa200 213px)"></i><i style="height:2px;background:linear-gradient(90deg,#ff5600 0px,#fffe00 56px,#d4ff00 72px,#6dff00 100px,#52ff00 115px,#4bff00 130px,#79ff00 141px,#fffe00 161px,#ffdf00 167px,#ffa900 186px,#ffa100 213px)"></i><i style="height:2px;background:linear-gradient(90deg,#ff5300 0px,#feff00 58px,#d6ff00 73px,#67ff00 102px,#4cff00 115px,#43ff00 130px,#4fff00 135px,#93ff00 148px,#fdff00 162px,#ffde00 168px,#fa0 186px,#ffa000 213px)"></i><i style="height:2px;background:linear-gradient(90deg,#ff5000 0px,#ff0 59px,#dbff00 73px,#5dff00 105px,#45ff00 116px,#3cff00 130px,#46ff00 135px,#86ff00 149px,#fdff00 163px,#ffde00 169px,#ffab00 186px,#ff9f00 213px)"></i><i style="height:2px;background:linear-gradient(90deg,#ff4d00 0px,#feff00 61px,#df0 74px,#4fff00 109px,#34ff00 131px,#74ff00 149px,#ff0 164px,#ffdc00 170px,#ffac00 186px,#ff9e00 213px)"></i><i style="height:2px;background:linear-gradient(90deg,#ff4b00 0px,#feff00 63px,#dbff00 76px,#48ff00 110px,#2dff00 131px,#67ff00 150px,#fffb00 165px,#ffd700 172px,#ffad00 186px,#ff9e00 213px)"></i><i style="height:2px;background:linear-gradient(90deg,#ff4800 0px,#feff00 65px,#dcff00 77px,#40ff00 111px,#26ff00 131px,#54ff00 150px,#feff00 165px,#ffd900 172px,#ffaf00 186px,#ff9d00 213px)"></i><i style="height:2px;background:linear-gradient(90deg,#ff4500 0px,#feff00 67px,#d9ff00 79px,#37ff00 112px,#1eff00 131px,#41ff00 150px,#fffb00 166px,#ffd300 174px,#ffae00 187px,#ff9c00 213px)"></i><i style="height:2px;background:linear-gradient(90deg,#ff4300 0px,#ffe600 56px,#ff0 69px,#d6ff00 81px,#32ff00 112px,#16ff00 132px,#2fff00 150px,#59ff00 154px,#ff0 166px,#ffd900 173px,#ffaf00 187px,#ff9b00 213px)"></i><i style="height:2px;background:linear-gradient(90deg,#ff4000 0px,#ffe200 56px,#ff0 71px,#c7ff00 85px,#6fff00 99px,#29ff00 113px,#0eff00 135px,#1cff00 150px,#8eff00 159px,#efff00 165px,#fffa00 167px,#ffd300 175px,#ffae00 188px,#ff9a00 213px)"></i><i style="height:2px;background:linear-gradient(90deg,#ff3d00 0px,#ffdf00 56px,#fffe00 73px,#c7ff00 86px,#6fff00 99px,#20ff00 114px,#01ff00 147px,#1cff00 152px,#81ff00 159px,#eaff00 165px,#fffe00 167px,#ffd800 174px,#ffaf00 188px,#f90 213px)"></i><i style="height:2px;background:linear-gradient(90deg,#ff3c00 0px,#ffd700 56px,#ff0 75px,#c7ff00 87px,#2f0 113px,#00ff01 135px,#00ff0b 148px,#03ff00 151px,#6fff00 159px,#d6ff00 165px,#fcff00 169px,#ffb000 189px,#ff9700 213px)"></i><i style="height:2px;background:linear-gradient(90deg,#ff3a00 0px,#fffd00 76px,#c7ff00 88px,#25ff00 112px,#00ff01 133px,#00ff18 148px,#00ff01 152px,#5cff00 159px,#ceff00 166px,#fffe00 172px,#ffb300 189px,#ff9600 213px)"></i><i style="height:2px;background:linear-gradient(90deg,#ff3800 0px,#ff8500 34px,#feff00 78px,#bf0 91px,#24ff00 112px,#00ff02 132px,#00ff24 148px,#00ff05 153px,#49ff00 159px,#b8ff00 166px,#fffe00 174px,#ffd000 182px,#ffb300 190px,#ff9400 213px)"></i><i style="height:2px;background:linear-gradient(90deg,#ff3600 0px,#ff7b00 33px,#ff0 79px,#b5ff00 93px,#23ff00 112px,#00ff02 131px,#00ff30 148px,#00ff27 151px,#03ff00 155px,#a3ff00 166px,#fffc00 176px,#ffd000 183px,#ffb300 191px,#ff9200 213px)"></i><i style="height:2px;background:linear-gradient(90deg,#ff3400 0px,#ff7100 32px,#ff0 80px,#afff00 95px,#2f0 112px,#0f0 130px,#00ff3c 149px,#00ff2d 152px,#00ff01 156px,#8eff00 166px,#ff0 177px,#ffd600 183px,#ffb600 191px,#f90 202px,#ff9000 213px)"></i><i style="height:2px;background:linear-gradient(90deg,#f30 0px,#ff6a00 32px,#fffe00 81px,#b6ff00 95px,#5dff00 104px,#21ff00 112px,#00ff02 130px,#00ff49 149px,#00ff3c 152px,#04ff00 158px,#85ff00 167px,#fdff00 178px,#ffd600 184px,#ffb200 193px,#ff9800 202px,#ff8e00 213px)"></i><i style="height:2px;background:linear-gradient(90deg,#ff3100 0px,#ff6000 31px,#ffcf00 70px,#fffe00 82px,#bdff00 95px,#5fff00 104px,#20ff00 112px,#00ff03 130px,#0f5 149px,#00ff42 153px,#00ff03 159px,#b3ff00 172px,#feff00 179px,#ffd000 186px,#ffa200 198px,#ff8d00 213px)"></i><i style="height:2px;background:linear-gradient(90deg,#ff2f00 0px,#ff5900 31px,#ffc600 69px,#fffd00 83px,#c5ff00 95px,#61ff00 104px,#1fff00 112px,#00ff01 129px,#0f4 141px,#00ff62 149px,#00ff52 153px,#04ff00 161px,#b2ff00 173px,#ff0 180px,#ffcf00 187px,#ff9f00 199px,#ff8b00 213px)"></i><i style="height:2px;background:linear-gradient(90deg,#ff2d00 0px,#ff5100 31px,#ffbc00 68px,#fffd00 84px,#cf0 95px,#63ff00 104px,#1eff00 112px,#00ff02 129px,#00ff52 142px,#00ff6e 150px,#00ff50 155px,#00ff02 162px,#b2ff00 174px,#fffc00 181px,#ffd300 187px,#ff9b00 200px,#ff8900 213px)"></i><i style="height:2px;background:linear-gradient(90deg,#ff2b00 0px,#ff4a00 31px,#ffac00 65px,#feff00 86px,#d3ff00 95px,#65ff00 104px,#1dff00 112px,#00ff03 129px,#00ff5c 142px,#00ff7c 150px,#00ff58 156px,#07ff00 164px,#a5ff00 174px,#fbff00 181px,#ff9b00 200px,#ff8700 213px)"></i><i style="height:2px;background:linear-gradient(90deg,#ff2a00 0px,#ff4300 31px,#ff9f00 63px,#fffe00 87px,#d2ff00 96px,#67ff00 104px,#1cff00 112px,#0f0 128px,#00ff65 142px,#00ff89 150px,#00ff59 158px,#0f0 165px,#98ff00 174px,#ff0 182px,#ff9a00 200px,#ff8500 213px)"></i><i style="height:2px;background:linear-gradient(90deg,#ff2700 0px,#ff3f00 32px,#ff9600 62px,#fffe00 88px,#d8ff00 96px,#6cff00 104px,#1eff00 112px,#00ff01 128px,#00ff64 142px,#0f8 150px,#00ff5c 158px,#00ff05 165px,#a5ff00 175px,#ff0 182px,#ffd500 188px,#ff9d00 200px,#ff8a00 213px)"></i><i style="height:2px;background:linear-gradient(90deg,#ff2500 0px,#ff3000 26px,#ff5900 45px,#fffe00 89px,#dcff00 96px,#73ff00 104px,#2f0 112px,#0f0 128px,#00ff5b 142px,#00ff7b 150px,#00ff54 158px,#04ff00 165px,#abff00 175px,#fffb00 182px,#ffd200 188px,#ffa300 200px,#ff9300 213px)"></i><i style="height:2px;background:linear-gradient(90deg,#f20 0px,#ff2c00 26px,#ff5200 45px,#fffe00 90px,#e1ff00 96px,#7aff00 104px,#26ff00 112px,#0f0 128px,#00ff52 142px,#00ff6f 150px,#0f4 159px,#00ff03 164px,#a4ff00 174px,#fdff00 181px,#ffc000 192px,#ffa300 202px,#ff9b00 213px)"></i><i style="height:2px;background:linear-gradient(90deg,#ff1f00 0px,#ff2800 26px,#ff4d00 46px,#fffe00 91px,#dcff00 97px,#2bff00 112px,#0eff00 119px,#0f0 128px,#00ff48 142px,#00ff62 150px,#00ff3c 159px,#00ff0c 163px,#05ff00 164px,#abff00 174px,#fffd00 181px,#ffc300 191px,#fa0 202px,#ffa400 213px)"></i><i style="height:2px;background:linear-gradient(90deg,#ff1d00 0px,#ff2500 26px,#ff4500 46px,#fffe00 92px,#d8ff00 98px,#4eff00 109px,#28ff00 113px,#0cff00 120px,#0f0 128px,#00ff56 150px,#00ff34 159px,#00ff04 163px,#a3ff00 173px,#fbff00 180px,#ffc400 190px,#ffad00 213px)"></i><i style="height:2px;background:linear-gradient(90deg,#ff1a00 0px,#ff2100 26px,#ff3d00 46px,#ff0 93px,#deff00 98px,#2cff00 113px,#09ff00 121px,#0f0 128px,#00ff49 150px,#00ff2d 159px,#03ff00 163px,#af0 173px,#fffe00 180px,#ffc200 190px,#ffb600 213px)"></i><i style="height:2px;background:linear-gradient(90deg,#ff1700 0px,#ff1d00 26px,#ff3600 46px,#ff0 94px,#d9ff00 99px,#30ff00 113px,#09ff00 121px,#0f0 128px,#00ff3d 150px,#00ff25 159px,#00ff08 162px,#b2ff00 173px,#fbff00 179px,#ffc000 190px,#ffbf00 213px)"></i><i style="height:2px;background:linear-gradient(90deg,#ff1400 0px,#ff1a00 26px,#ff2e00 46px,#feff00 95px,#e0ff00 99px,#34ff00 113px,#09ff00 121px,#0f0 128px,#00ff30 150px,#00ff19 160px,#00ff01 162px,#af0 172px,#fffe00 179px,#ffd600 184px,#ffbf00 190px,#ffc800 213px)"></i><i style="height:2px;background:linear-gradient(90deg,#ff1200 0px,#ff2700 46px,#ffb600 77px,#fdff00 96px,#dcff00 100px,#38ff00 113px,#08ff00 121px,#0f0 128px,#00ff24 150px,#00ff0a 161px,#06ff00 162px,#c0ff00 173px,#fff900 179px,#ffbe00 189px,#ffd100 213px)"></i><i style="height:2px;background:linear-gradient(90deg,#ff0f00 0px,#ff1f00 46px,#ffb300 77px,#fffc00 96px,#e3ff00 100px,#3bff00 113px,#08ff00 121px,#0f0 128px,#00ff17 150px,#00ff03 161px,#abff00 171px,#fffe00 178px,#ffd500 183px,#ffbc00 189px,#ffda00 213px)"></i><i style="height:2px;background:linear-gradient(90deg,#ff0c00 0px,#ff1700 46px,#ffb000 77px,#fffd00 97px,#deff00 101px,#37ff00 114px,#08ff00 121px,#0f0 128px,#00ff0a 150px,#03ff00 161px,#53ff00 165px,#b3ff00 171px,#fff800 178px,#ffd100 183px,#ffba00 189px,#ffe300 213px)"></i><i style="height:2px;background:linear-gradient(90deg,#ff0a00 0px,#f10 46px,#ffa900 76px,#fdff00 98px,#e2ff00 101px,#41ff00 113px,#00ff01 123px,#0f0 160px,#18ff00 162px,#59ff00 165px,#a9ff00 170px,#fdff00 177px,#ffd200 183px,#ffbd00 189px,#fd0 199px,#fff200 213px)"></i><i style="height:2px;background:linear-gradient(90deg,#ff0a00 0px,#ff1200 46px,#fffd00 94px,#dbff00 100px,#41ff00 112px,#0f0 120px,#0f1 124px,#00ff1d 136px,#0f0 160px,#af0 171px,#fffd00 180px,#fd0 189px,#feff00 198px,#e2ff00 213px)"></i><i style="height:2px;background:linear-gradient(90deg,#ff0a00 0px,#ff1400 46px,#feff00 92px,#caff00 100px,#36ff00 112px,#00ff05 119px,#00ff1f 124px,#00ff36 136px,#0f0 160px,#b2ff00 173px,#ebff00 180px,#ff0 186px,#ff0 190px,#ceff00 201px,#b8ff00 213px)"></i><i style="height:2px;background:linear-gradient(90deg,#ff0a00 0px,#ff1500 46px,#ffd400 84px,#ff0 90px,#b8ff00 100px,#2bff00 112px,#00ff01 117px,#00ff29 123px,#00ff4f 136px,#00ff01 160px,#a2ff00 173px,#cfff00 179px,#dfff00 184px,#e1ff00 189px,#a3ff00 202px,#8eff00 213px)"></i><i style="height:2px;background:linear-gradient(90deg,#ff0a00 0px,#ff1300 45px,#ffcd00 82px,#feff00 89px,#a6ff00 100px,#20ff00 112px,#00ff03 116px,#00ff37 123px,#00ff68 136px,#00ff01 160px,#89ff00 172px,#b4ff00 178px,#c4ff00 183px,#c1ff00 189px,#7bff00 202px,#64ff00 213px)"></i><i style="height:2px;background:linear-gradient(90deg,#ff0a00 0px,#ff1400 45px,#ff8300 68px,#ffd500 83px,#fffe00 88px,#00ff06 115px,#0f4 123px,#00ff82 136px,#00ff76 140px,#00ff1e 153px,#00ff01 160px,#7aff00 172px,#af0 182px,#a1ff00 189px,#54ff00 202px,#3aff00 213px)"></i><i style="height:2px;background:linear-gradient(90deg,#ff0a00 0px,#ff1500 45px,#ff8400 68px,#fffa00 87px,#0f0 113px,#00ff51 123px,#00ff9b 136px,#00ff8d 140px,#00ff23 153px,#00ff02 160px,#6bff00 172px,#91ff00 181px,#86ff00 188px,#2cff00 202px,#10ff00 213px)"></i><i style="height:2px;background:linear-gradient(90deg,#ff0a00 0px,#ff1300 44px,#ff8500 68px,#ffd500 82px,#feff00 87px,#93ff00 96px,#00ff01 112px,#0f6 124px,#00ffb4 136px,#00ffa4 140px,#00ff29 153px,#00ff02 160px,#56ff00 171px,#79ff00 180px,#61ff00 189px,#00ff01 203px,#00ff1a 213px)"></i><i style="height:2px;background:linear-gradient(90deg,#ff0a00 0px,#ff1400 44px,#ff8500 68px,#fff900 86px,#78ff00 97px,#08ff00 110px,#00ffc0 133px,#00ffcd 136px,#00ffb2 141px,#00ff26 154px,#04ff00 161px,#48ff00 171px,#62ff00 180px,#48ff00 188px,#0f0 197px,#00ff29 203px,#0f4 213px)"></i><i style="height:2px;background:linear-gradient(90deg,#ff0a00 0px,#f10 43px,#ff8600 68px,#ffcd00 80px,#fffe00 86px,#6f0 97px,#07ff00 109px,#00ffd7 133px,#00ffe6 136px,#00ffc8 141px,#00ff2b 154px,#04ff00 161px,#3f0 169px,#4dff00 179px,#2eff00 187px,#00ff02 193px,#00ff51 203px,#00ff6e 213px)"></i><i style="height:2px;background:linear-gradient(90deg,#ff0a00 0px,#ff1200 43px,#ff8100 67px,#fff800 85px,#fbff00 86px,#5f0 97px,#04ff00 108px,#00ff5f 119px,#00ffef 133px,#0ff 136px,#00ffde 141px,#00ff2f 154px,#03ff00 161px,#1eff00 166px,#38ff00 178px,#2dff00 182px,#02ff00 189px,#00ff74 202px,#0f9 213px)"></i><i style="height:2px;background:linear-gradient(90deg,#ff0a00 0px,#ff1200 43px,#f80 68px,#ffc300 78px,#fffc00 85px,#43ff00 97px,#00ff01 107px,#00ff6a 119px,#00f8ff 133px,#00e6ff 136px,#0ff 140px,#00ffbf 145px,#00ff40 153px,#00ff03 160px,#17ff00 166px,#23ff00 177px,#0f0 185px,#00ff9b 202px,#00ffc3 213px)"></i><i style="height:2px;background:linear-gradient(90deg,#ff0a00 0px,#ff1400 43px,#ff8700 67px,#ffc500 77px,#feff00 84px,#2fff00 97px,#00ff02 103px,#00ff86 119px,#0ff 131px,#0df 136px,#00fffa 141px,#00ff42 153px,#00ff03 160px,#18ff00 166px,#24ff00 177px,#03ff00 185px,#00ff96 202px,#00ffbd 213px)"></i><i style="height:2px;background:linear-gradient(90deg,#ff0a00 0px,#ff1600 43px,#ff8d00 67px,#ffc700 76px,#fffe00 82px,#d2ff00 86px,#38ff00 95px,#03ff00 99px,#00faff 130px,#00d7ff 136px,#00fffc 141px,#0f4 153px,#00ff18 157px,#04ff00 161px,#21ff00 168px,#2cff00 178px,#0f0 187px,#00ff83 202px,#00ffa9 213px)"></i><i style="height:2px;background:linear-gradient(90deg,#ff0a00 0px,#ff1600 42px,#ff8d00 66px,#ffc800 75px,#fff900 80px,#bfff00 86px,#05ff00 97px,#00ffaf 116px,#00fcff 127px,#00d1ff 135px,#00fffe 141px,#00ff45 153px,#00ff19 157px,#05ff00 161px,#26ff00 168px,#34ff00 178px,#05ff00 188px,#00ff70 202px,#00ff95 213px)"></i><i style="height:2px;background:linear-gradient(90deg,#ff0a00 0px,#ff1800 42px,#ff9300 66px,#ffd100 75px,#fffb00 79px,#acff00 86px,#00ff01 96px,#00ff58 103px,#00ffd1 116px,#00fdff 123px,#00c9ff 134px,#00d4ff 137px,#00feff 141px,#00ff54 152px,#00ff01 160px,#2bff00 168px,#3bff00 178px,#29ff00 184px,#01ff00 190px,#00ff5e 202px,#00ff82 213px)"></i><i style="height:2px;background:linear-gradient(90deg,#ff0a00 0px,#ff0f00 36px,#ff1a00 42px,#ff9800 66px,#fffb00 78px,#9f0 86px,#0fff00 94px,#00ff03 95px,#00ff75 103px,#00fcff 118px,#00c0ff 133px,#00d0ff 137px,#00fcff 141px,#00ffcb 145px,#00ff48 153px,#00ff01 160px,#34ff00 169px,#43ff00 178px,#34ff00 184px,#05ff00 191px,#00ff4b 202px,#00ff6e 213px)"></i><i style="height:2px;background:linear-gradient(90deg,#ff0a00 0px,#ff1900 41px,#ff9800 65px,#fff900 77px,#86ff00 86px,#0dff00 93px,#00ff05 94px,#00ff91 103px,#00fcff 114px,#00cdff 121px,#00b5ff 132px,#00c3ff 136px,#00faff 141px,#00ffcd 145px,#00ff49 153px,#0f0 160px,#3aff00 169px,#4aff00 178px,#3aff00 185px,#00ff05 194px,#00ff3d 203px,#00ff5a 213px)"></i><i style="height:2px;background:linear-gradient(90deg,#ff0a00 0px,#ff1800 40px,#ff9d00 65px,#fff600 76px,#fbff00 77px,#73ff00 86px,#0cff00 92px,#00ff06 93px,#00ffae 103px,#00f8ff 111px,#00b9ff 118px,#00a3ff 127px,#00b0ff 134px,#00f8ff 141px,#00ffcf 145px,#00ff4a 153px,#0f0 160px,#3fff00 169px,#52ff00 179px,#41ff00 186px,#00ff03 196px,#00ff2a 203px,#00ff46 213px)"></i><i style="height:2px;background:linear-gradient(90deg,#ff0a00 0px,#ff1600 39px,#ffa300 65px,#ff0 76px,#0aff00 91px,#00ff07 92px,#00ffcb 103px,#00f7ff 108px,#009dff 117px,#008cff 126px,#00a7ff 134px,#00fffb 142px,#00ff59 152px,#01ff00 160px,#45ff00 169px,#5aff00 179px,#4cff00 186px,#01ff00 198px,#0f3 213px)"></i><i style="height:2px;background:linear-gradient(90deg,#ff0a00 0px,#ff1300 38px,#ffa200 64px,#fffd00 75px,#08ff00 90px,#00ff2b 93px,#00ffd7 102px,#00fbff 105px,#0083ff 116px,#0072ff 122px,#07f 127px,#008fff 132px,#00fffd 142px,#00ff5b 152px,#01ff00 160px,#4bff00 169px,#62ff00 180px,#58ff00 186px,#0f0 202px,#00ff1f 213px)"></i><i style="height:2px;background:linear-gradient(90deg,#ff0a00 0px,#ff1400 38px,#ffa800 64px,#fffb00 74px,#dcff00 77px,#06ff00 89px,#00ff3e 93px,#00faff 103px,#0061ff 116px,#0053ff 120px,#005cff 126px,#0082ff 132px,#0ff 142px,#00ff5c 152px,#02ff00 160px,#56ff00 170px,#6bff00 181px,#63ff00 186px,#0fff00 203px,#00ff0b 213px)"></i><i style="height:2px;background:linear-gradient(90deg,#ff0a00 0px,#ff1400 38px,#ffad00 64px,#fbff00 74px,#d1ff00 77px,#6aff00 82px,#04ff00 88px,#00ff64 94px,#00fff9 101px,#00a2ff 107px,#003fff 116px,#03f 120px,#0051ff 128px,#0081ff 133px,#00fdff 142px,#00ff5e 152px,#02ff00 160px,#5cff00 170px,#74ff00 182px,#6fff00 186px,#29ff00 201px,#08ff00 213px)"></i><i style="height:2px;background:linear-gradient(90deg,#ff0b00 0px,#ff1600 38px,#ffb200 64px,#feff00 73px,#d9ff00 76px,#5dff00 82px,#00ff07 88px,#00ff5d 93px,#00f5ff 101px,#0090ff 107px,#002dff 116px,#0023ff 119px,#003cff 126px,#0075ff 132px,#00fffc 142px,#00ff68 151px,#00ff03 159px,#62ff00 170px,#7aff00 182px,#15ff00 213px)"></i><i style="height:2px;background:linear-gradient(90deg,#ff0b00 0px,#ff1800 38px,#ffb600 64px,#fffb00 72px,#d0ff00 76px,#69ff00 81px,#09ff00 87px,#00ff4a 92px,#00f5ff 101px,#0bf 104px,#007aff 109px,#002fff 117px,#0035ff 122px,#0070ff 130px,#00f7ff 140px,#00ffd1 144px,#00ff5c 151px,#00ff01 158px,#65ff00 169px,#7aff00 179px,#76ff00 185px,#48ff00 195px,#18ff00 213px)"></i><i style="height:2px;background:linear-gradient(90deg,#ff0c00 0px,#ff1600 37px,#ffb300 63px,#fdff00 72px,#c7ff00 76px,#63ff00 81px,#09ff00 87px,#00ff4a 92px,#00f6ff 101px,#00bdff 104px,#007cff 109px,#04f 115px,#0035ff 118px,#0040ff 122px,#0063ff 127px,#00fff6 140px,#0f0 157px,#67ff00 168px,#7cff00 177px,#75ff00 185px,#48ff00 195px,#1bff00 213px)"></i><i style="height:2px;background:linear-gradient(90deg,#ff0d00 0px,#ff1800 37px,#ffb100 62px,#fffb00 71px,#dfff00 74px,#5cff00 81px,#08ff00 87px,#00ff4a 92px,#00f7ff 101px,#00beff 104px,#007fff 109px,#004aff 115px,#003eff 118px,#004bff 122px,#0073ff 127px,#0ff 138px,#00ffb3 144px,#0f0 156px,#64ff00 166px,#7fff00 176px,#76ff00 184px,#48ff00 195px,#1eff00 213px)"></i><i style="height:2px;background:linear-gradient(90deg,#ff0e00 0px,#ff1a00 37px,#ffb400 62px,#feff00 71px,#d8ff00 74px,#5f0 81px,#00ff06 88px,#00ff5d 93px,#00f7ff 101px,#00bfff 104px,#0081ff 109px,#0048ff 117px,#0051ff 121px,#006fff 125px,#00fffb 137px,#00ff97 145px,#0f0 155px,#69ff00 165px,#83ff00 173px,#7aff00 182px,#47ff00 195px,#20ff00 213px)"></i><i style="height:2px;background:linear-gradient(90deg,#ff0f00 0px,#ff1c00 37px,#ffb100 61px,#f9ff00 71px,#d1ff00 74px,#4eff00 81px,#00ff06 88px,#00ff5d 93px,#00f8ff 101px,#00b2ff 105px,#007aff 110px,#0056ff 115px,#0053ff 119px,#007dff 125px,#00f9ff 135px,#00ff95 144px,#00ff01 154px,#6dff00 164px,#8f0 171px,#83ff00 179px,#47ff00 195px,#23ff00 213px)"></i><i style="height:2px;background:linear-gradient(90deg,#ff1000 0px,#ff1e00 37px,#ffae00 60px,#feff00 70px,#caff00 74px,#5f0 80px,#07ff00 87px,#00ff37 91px,#00f8ff 101px,#00a8ff 106px,#06f 113px,#0059ff 117px,#006dff 122px,#00feff 134px,#00ff7a 145px,#00ff03 153px,#0cff00 154px,#79ff00 164px,#8eff00 171px,#85ff00 179px,#42ff00 197px,#26ff00 213px)"></i><i style="height:2px;background:linear-gradient(90deg,#f10 0px,#ff2000 37px,#ffb100 60px,#fffb00 69px,#d5ff00 73px,#4dff00 80px,#07ff00 87px,#00ff36 91px,#00f9ff 101px,#00a9ff 106px,#006aff 113px,#0061ff 117px,#0078ff 122px,#00fffb 133px,#09ff00 153px,#7dff00 163px,#95ff00 170px,#8bff00 178px,#47ff00 195px,#28ff00 213px)"></i><i style="height:2px;background:linear-gradient(90deg,#ff1200 0px,#f20 37px,#ffad00 59px,#feff00 69px,#d0ff00 73px,#52ff00 79px,#06ff00 87px,#00ff36 91px,#00faff 101px,#00c4ff 104px,#008bff 109px,#0069ff 116px,#0083ff 122px,#00f9ff 131px,#06ff00 152px,#80ff00 162px,#9cff00 169px,#91ff00 177px,#49ff00 194px,#2bff00 213px)"></i><i style="height:2px;background:linear-gradient(90deg,#ff1300 0px,#ff2400 37px,#ffb000 59px,#fffb00 68px,#caff00 73px,#49ff00 79px,#06ff00 87px,#00ff23 90px,#00faff 101px,#00b8ff 105px,#07f 112px,#0070ff 116px,#0086ff 121px,#00fdff 130px,#03ff00 151px,#83ff00 161px,#a4ff00 167px,#94ff00 177px,#4bff00 193px,#2eff00 213px)"></i><i style="height:2px;background:linear-gradient(90deg,#ff1400 0px,#ff2300 36px,#f40 43px,#feff00 68px,#c4ff00 73px,#3fff00 79px,#05ff00 87px,#00ff23 90px,#00fbff 101px,#00baff 105px,#0087ff 110px,#07f 113px,#007bff 117px,#009aff 122px,#00fffe 129px,#0fa 135px,#0f0 150px,#85ff00 160px,#adff00 166px,#9cff00 176px,#54ff00 189px,#30ff00 213px)"></i><i style="height:1px;background:linear-gradient(90deg,#ff1400 0px,#ff2400 36px,#ff4600 43px,#fffa00 67px,#c0ff00 73px,#38ff00 79px,#05ff00 87px,#0f2 90px,#00fbff 101px,#00c8ff 104px,#0092ff 109px,#007dff 112px,#007aff 115px,#00a2ff 122px,#00feff 128px,#00ff9c 135px,#09ff00 150px,#8fff00 160px,#b5ff00 166px,#9fff00 176px,#53ff00 189px,#32ff00 213px)"></i></div>
<div class="cb" style="left:1020px;top:325px;width:16px;height:205px;background:linear-gradient(180deg,#ff0b00 0%,#ff0b00 2.1%,#ff2000 2.1%,#ff2000 4.2%,#ff3500 4.2%,#ff3500 6.2%,#ff4a00 6.2%,#ff4a00 8.3%,#ff6000 8.3%,#ff6000 10.4%,#ff7500 10.4%,#ff7500 12.5%,#ff8a00 12.5%,#ff8a00 14.6%,#ff9f00 14.6%,#ff9f00 16.7%,#ffb500 16.7%,#ffb500 18.8%,#ffca00 18.8%,#ffca00 20.8%,#ffdf00 20.8%,#ffdf00 22.9%,#fff400 22.9%,#fff400 25%,#f4ff00 25%,#f4ff00 27.1%,#dfff00 27.1%,#dfff00 29.2%,#caff00 29.2%,#caff00 31.2%,#b5ff00 31.2%,#b5ff00 33.3%,#9fff00 33.3%,#9fff00 35.4%,#8aff00 35.4%,#8aff00 37.5%,#75ff00 37.5%,#75ff00 39.6%,#60ff00 39.6%,#60ff00 41.7%,#4aff00 41.7%,#4aff00 43.8%,#35ff00 43.8%,#35ff00 45.8%,#20ff00 45.8%,#20ff00 47.9%,#0bff00 47.9%,#0bff00 50%,#00ff0b 50%,#00ff0b 52.1%,#00ff20 52.1%,#00ff20 54.2%,#00ff35 54.2%,#00ff35 56.2%,#00ff4a 56.2%,#00ff4a 58.3%,#00ff60 58.3%,#00ff60 60.4%,#00ff75 60.4%,#00ff75 62.5%,#00ff8a 62.5%,#00ff8a 64.6%,#00ff9f 64.6%,#00ff9f 66.7%,#00ffb5 66.7%,#00ffb5 68.8%,#00ffca 68.8%,#00ffca 70.8%,#00ffdf 70.8%,#00ffdf 72.9%,#00fff4 72.9%,#00fff4 75%,#00f4ff 75%,#00f4ff 77.1%,#00dfff 77.1%,#00dfff 79.2%,#00caff 79.2%,#00caff 81.2%,#00b5ff 81.2%,#00b5ff 83.3%,#009fff 83.3%,#009fff 85.4%,#008aff 85.4%,#008aff 87.5%,#0075ff 87.5%,#0075ff 89.6%,#0060ff 89.6%,#0060ff 91.7%,#004aff 91.7%,#004aff 93.8%,#0035ff 93.8%,#0035ff 95.8%,#0020ff 95.8%,#0020ff 97.9%,#000bff 97.9%,#000bff 100%)"></div>
<div class="hm" style="left:55px;top:621px;width:211px;height:203px"><i style="height:2px;background:linear-gradient(90deg,#ff0f00 0px,#ff1800 45px,#ff7f00 68px,#fffe00 82px,#57ff00 94px,#0f0 102px,#00ff65 109px,#00ffbf 114px,#00fff9 119px,#00a0ff 132px,#0003ff 166px,#00f 211px)"></i><i style="height:2px;background:linear-gradient(90deg,#ff0f00 0px,#ff1800 45px,#ff7f00 68px,#fffe00 82px,#58ff00 94px,#0f0 102px,#00ff65 109px,#00ffbe 114px,#00fff9 119px,#00a0ff 132px,#0003ff 166px,#00f 211px)"></i><i style="height:2px;background:linear-gradient(90deg,#ff0f00 0px,#ff1800 45px,#ff7f00 68px,#fffd00 82px,#58ff00 94px,#01ff00 102px,#00ff64 109px,#0fc 115px,#00fff9 119px,#00a0ff 132px,#0003ff 166px,#00f 211px)"></i><i style="height:2px;background:linear-gradient(90deg,#ff0f00 0px,#ff0f00 40px,#ff1a00 46px,#ff7f00 68px,#fffd00 82px,#59ff00 94px,#01ff00 102px,#00ff64 109px,#0fc 115px,#00fff8 119px,#00a0ff 132px,#0003ff 166px,#00f 211px)"></i><i style="height:2px;background:linear-gradient(90deg,#ff0f00 0px,#ff0f00 40px,#ff1a00 46px,#ff7f00 68px,#fffd00 82px,#59ff00 94px,#01ff00 102px,#00ff63 109px,#0fc 115px,#00fff8 119px,#00a0ff 132px,#0003ff 166px,#00f 211px)"></i><i style="height:2px;background:linear-gradient(90deg,#ff0e00 0px,#ff0e00 40px,#ff1a00 46px,#ff7e00 68px,#fffc00 82px,#59ff00 94px,#02ff00 102px,#00ff53 108px,#00ffcb 115px,#00fff8 119px,#00a0ff 132px,#0001ff 167px,#00f 211px)"></i><i style="height:2px;background:linear-gradient(90deg,#ff0e00 0px,#ff0e00 40px,#ff1a00 46px,#ff7e00 68px,#fffc00 82px,#5aff00 94px,#02ff00 102px,#00ff53 108px,#00ffcb 115px,#00fff7 119px,#00a1ff 132px,#0001ff 167px,#00f 211px)"></i><i style="height:2px;background:linear-gradient(90deg,#ff0e00 0px,#ff0e00 40px,#ff1a00 46px,#ff7e00 68px,#fffc00 82px,#5aff00 94px,#02ff00 102px,#00ff52 108px,#00ffca 115px,#00fff7 119px,#00a1ff 132px,#0001ff 167px,#00f 211px)"></i><i style="height:2px;background:linear-gradient(90deg,#ff0e00 0px,#ff0e00 40px,#ff1a00 46px,#ff7e00 68px,#fffb00 82px,#4eff00 95px,#03ff00 102px,#00ff51 108px,#00ffca 115px,#00fff7 119px,#00a1ff 132px,#0001ff 167px,#00f 211px)"></i><i style="height:2px;background:linear-gradient(90deg,#ff0e00 0px,#ff0e00 40px,#ff1a00 46px,#ff7d00 68px,#fffb00 82px,#4fff00 95px,#03ff00 102px,#00ff51 108px,#00ffc9 115px,#00fff6 119px,#00a1ff 132px,#0001ff 167px,#00f 211px)"></i><i style="height:2px;background:linear-gradient(90deg,#ff0e00 0px,#ff0e00 40px,#ff1a00 46px,#ff7d00 68px,#fffb00 82px,#4fff00 95px,#03ff00 102px,#00ff50 108px,#00ffc9 115px,#00fff6 119px,#00a1ff 132px,#0001ff 167px,#00f 211px)"></i><i style="height:2px;background:linear-gradient(90deg,#ff0e00 0px,#ff0e00 40px,#ff1900 46px,#ff7d00 68px,#fffa00 82px,#4fff00 95px,#04ff00 102px,#00ff50 108px,#00ffc8 115px,#00fff6 119px,#00a2ff 132px,#0001ff 167px,#00f 211px)"></i><i style="height:2px;background:linear-gradient(90deg,#ff0d00 0px,#ff0d00 40px,#ff1900 46px,#ff7d00 68px,#fffa00 82px,#50ff00 95px,#04ff00 102px,#00ff4f 108px,#00ffc8 115px,#0ff 120px,#00a2ff 132px,#0001ff 167px,#00f 211px)"></i><i style="height:2px;background:linear-gradient(90deg,#ff0d00 0px,#ff0d00 40px,#ff1900 46px,#ff7d00 68px,#fff900 82px,#50ff00 95px,#04ff00 102px,#00ff4f 108px,#00ffc7 115px,#0ff 120px,#00a2ff 132px,#0001ff 167px,#00f 211px)"></i><i style="height:2px;background:linear-gradient(90deg,#ff0d00 0px,#ff0d00 40px,#ff1900 46px,#ff7c00 68px,#fff900 82px,#edff00 84px,#51ff00 95px,#05ff00 102px,#00ff4e 108px,#00ffc7 115px,#00fffe 120px,#00a2ff 132px,#0001ff 167px,#00f 211px)"></i><i style="height:2px;background:linear-gradient(90deg,#ff0d00 0px,#ff0d00 39px,#ff1900 46px,#ff7c00 68px,#fff900 82px,#ef0 84px,#51ff00 95px,#05ff00 102px,#00ff4e 108px,#00ffc6 115px,#00fffe 120px,#00a2ff 132px,#0002ff 167px,#00f 211px)"></i><i style="height:2px;background:linear-gradient(90deg,#ff0d00 0px,#ff0d00 39px,#ff1900 46px,#ff7c00 68px,#fff800 82px,#ef0 84px,#52ff00 95px,#05ff00 102px,#00ff4d 108px,#00ffc6 115px,#00fffe 120px,#00a2ff 132px,#0002ff 167px,#00f 211px)"></i><i style="height:2px;background:linear-gradient(90deg,#ff0d00 0px,#ff0d00 39px,#ff1900 46px,#ff7c00 68px,#fff800 82px,#efff00 84px,#52ff00 95px,#06ff00 102px,#00ff4d 108px,#00ffc5 115px,#00fffd 120px,#00a3ff 132px,#0002ff 167px,#00f 211px)"></i><i style="height:2px;background:linear-gradient(90deg,#ff0d00 0px,#ff0d00 39px,#ff1900 46px,#ff7c00 68px,#fff800 82px,#efff00 84px,#53ff00 95px,#06ff00 102px,#00ff4c 108px,#00ffc5 115px,#00fffd 120px,#00a3ff 132px,#0002ff 167px,#00f 211px)"></i><i style="height:2px;background:linear-gradient(90deg,#ff0c00 0px,#ff0c00 39px,#ff1900 46px,#ff7b00 68px,#fff700 82px,#f0ff00 84px,#53ff00 95px,#06ff00 102px,#00ff4c 108px,#00ffc4 115px,#00fffd 120px,#00a3ff 132px,#0002ff 167px,#00f 211px)"></i><i style="height:2px;background:linear-gradient(90deg,#ff0c00 0px,#ff0c00 39px,#ff1900 46px,#ff7b00 68px,#fff700 82px,#f0ff00 84px,#53ff00 95px,#07ff00 102px,#00ff3c 107px,#00ffc4 115px,#00fffc 120px,#00a3ff 132px,#0002ff 167px,#00f 211px)"></i><i style="height:2px;background:linear-gradient(90deg,#ff0c00 0px,#ff0c00 39px,#ff1800 46px,#ff7b00 68px,#fdff00 83px,#61ff00 94px,#07ff00 102px,#00ff3c 107px,#00ffc3 115px,#00fffc 120px,#00a3ff 132px,#0002ff 167px,#00f 211px)"></i><i style="height:2px;background:linear-gradient(90deg,#ff0c00 0px,#ff0c00 39px,#ff1800 46px,#ff7b00 68px,#fdff00 83px,#61ff00 94px,#07ff00 102px,#00ff3b 107px,#00ffc3 115px,#00fffc 120px,#00a4ff 132px,#0002ff 167px,#00f 211px)"></i><i style="height:2px;background:linear-gradient(90deg,#ff0c00 0px,#ff0c00 39px,#ff1800 46px,#ff7a00 68px,#feff00 83px,#62ff00 94px,#08ff00 102px,#00ff03 103px,#00ff3a 107px,#00ffc2 115px,#00fffb 120px,#00a4ff 132px,#0002ff 167px,#00f 211px)"></i><i style="height:2px;background:linear-gradient(90deg,#ff0c00 0px,#ff0c00 38px,#ff1800 46px,#ff7a00 68px,#feff00 83px,#62ff00 94px,#08ff00 102px,#00ff1d 105px,#00ffc2 115px,#00fffb 120px,#00a4ff 132px,#0002ff 167px,#00f 211px)"></i><i style="height:2px;background:linear-gradient(90deg,#ff0b00 0px,#ff0b00 38px,#ff1800 46px,#ff7a00 68px,#feff00 83px,#56ff00 95px,#00ff02 103px,#00ff68 110px,#00ffc1 115px,#00fffb 120px,#00a4ff 132px,#0003ff 167px,#00f 211px)"></i><i style="height:2px;background:linear-gradient(90deg,#ff0b00 0px,#ff0b00 38px,#ff1800 46px,#ff7a00 68px,#ff0 83px,#56ff00 95px,#00ff01 103px,#00ff67 110px,#00ffc0 115px,#00fffa 120px,#00a4ff 132px,#0003ff 167px,#00f 211px)"></i><i style="height:2px;background:linear-gradient(90deg,#ff0b00 0px,#ff0b00 38px,#ff1800 46px,#ff7a00 68px,#ff0 83px,#56ff00 95px,#00ff01 103px,#0f6 110px,#00ffc0 115px,#00fffa 120px,#00a5ff 132px,#0003ff 167px,#00f 211px)"></i><i style="height:2px;background:linear-gradient(90deg,#ff0b00 0px,#ff0b00 38px,#ff1800 46px,#ff8000 69px,#ff0 83px,#57ff00 95px,#0f0 103px,#0f6 110px,#00ffbf 115px,#00fffa 120px,#00a5ff 132px,#0003ff 167px,#00f 211px)"></i><i style="height:2px;background:linear-gradient(90deg,#ff0b00 0px,#ff0b00 38px,#ff1800 46px,#ff7f00 69px,#fffe00 83px,#57ff00 95px,#0f0 103px,#00ff65 110px,#00ffbf 115px,#00fff9 120px,#00a0ff 133px,#0003ff 167px,#00f 211px)"></i><i style="height:2px;background:linear-gradient(90deg,#ff0b00 0px,#ff0b00 38px,#ff1b00 47px,#ff7f00 69px,#fffe00 83px,#58ff00 95px,#0f0 103px,#00ff65 110px,#00ffbe 115px,#00fff9 120px,#00a0ff 133px,#0003ff 167px,#00f 211px)"></i><i style="height:2px;background:linear-gradient(90deg,#ff0b00 0px,#ff0b00 38px,#ff1a00 47px,#ff7f00 69px,#fffd00 83px,#58ff00 95px,#01ff00 103px,#00ff64 110px,#0fc 116px,#00fff9 120px,#00a0ff 133px,#0003ff 167px,#00f 211px)"></i><i style="height:2px;background:linear-gradient(90deg,#ff0a00 0px,#ff0b00 38px,#ff1a00 47px,#ff7f00 69px,#fffd00 83px,#59ff00 95px,#01ff00 103px,#00ff64 110px,#0fc 116px,#00fff8 120px,#00a0ff 133px,#0003ff 167px,#00f 211px)"></i><i style="height:2px;background:linear-gradient(90deg,#ff0a00 0px,#ff0a00 37px,#ff1a00 47px,#ff7f00 69px,#fffd00 83px,#59ff00 95px,#01ff00 103px,#00ff63 110px,#00ffcb 116px,#00fff8 120px,#00a0ff 133px,#0003ff 167px,#00f 211px)"></i><i style="height:2px;background:linear-gradient(90deg,#ff0a00 0px,#ff0a00 37px,#ff1900 47px,#ff7d00 69px,#fffb00 83px,#5aff00 95px,#02ff00 103px,#00ff53 109px,#00ffcb 116px,#00fff7 120px,#00a1ff 133px,#0001ff 168px,#00f 211px)"></i><i style="height:2px;background:linear-gradient(90deg,#ff0900 0px,#ff0900 37px,#ff1800 47px,#ff7c00 69px,#fffa00 83px,#4fff00 96px,#02ff00 103px,#00ff52 109px,#00ffc9 116px,#00fff6 120px,#00a2ff 133px,#0002ff 168px,#00f 211px)"></i><i style="height:2px;background:linear-gradient(90deg,#ff0900 0px,#ff0900 37px,#ff1700 47px,#ff7b00 69px,#fff800 83px,#ef0 85px,#50ff00 96px,#03ff00 103px,#00ff51 109px,#00ffc8 116px,#0ff 121px,#00a2ff 133px,#0002ff 168px,#00f 211px)"></i><i style="height:2px;background:linear-gradient(90deg,#ff0900 0px,#ff0900 37px,#ff1900 48px,#ff7f00 70px,#fdff00 84px,#5eff00 95px,#03ff00 103px,#00ff50 109px,#00ffc7 116px,#00fffe 121px,#00a3ff 133px,#0003ff 168px,#00f 211px)"></i><i style="height:2px;background:linear-gradient(90deg,#ff0800 0px,#ff0800 37px,#ff1800 48px,#ff7e00 70px,#ff0 84px,#5fff00 95px,#04ff00 103px,#00ff4e 109px,#00ffc5 116px,#00fffd 121px,#00a4ff 133px,#0001ff 169px,#00f 211px)"></i><i style="height:2px;background:linear-gradient(90deg,#ff0800 0px,#ff0800 37px,#ff1700 48px,#ff7c00 70px,#fffe00 84px,#53ff00 96px,#04ff00 103px,#00ff4d 109px,#00ffc4 116px,#00fffc 121px,#00a5ff 133px,#0002ff 169px,#00f 211px)"></i><i style="height:2px;background:linear-gradient(90deg,#ff0700 0px,#ff0700 36px,#ff1900 49px,#ff7b00 70px,#fffc00 84px,#54ff00 96px,#05ff00 103px,#00ff4c 109px,#00ffc3 116px,#00fffb 121px,#00a0ff 134px,#0002ff 169px,#00f 211px)"></i><i style="height:2px;background:linear-gradient(90deg,#ff0700 0px,#ff0700 36px,#ff1800 49px,#ff7a00 70px,#fffa00 84px,#56ff00 96px,#05ff00 103px,#00ff4b 109px,#00ffc2 116px,#00fffa 121px,#00a1ff 134px,#0003ff 169px,#00f 211px)"></i><i style="height:2px;background:linear-gradient(90deg,#ff0600 0px,#ff0600 36px,#ff1700 49px,#ff7e00 71px,#fff900 84px,#edff00 86px,#57ff00 96px,#06ff00 103px,#00ff4a 109px,#00ffce 117px,#00fff9 121px,#00a1ff 134px,#0001ff 170px,#00f 211px)"></i><i style="height:2px;background:linear-gradient(90deg,#ff0600 0px,#ff0600 36px,#ff1600 49px,#ff7d00 71px,#fff700 84px,#efff00 86px,#4bff00 97px,#07ff00 103px,#00ff49 109px,#00ffcd 117px,#00fff8 121px,#00a2ff 134px,#0001ff 170px,#00f 211px)"></i><i style="height:2px;background:linear-gradient(90deg,#ff0500 0px,#ff0600 36px,#ff1800 50px,#ff7b00 71px,#feff00 85px,#59ff00 96px,#07ff00 103px,#00ff48 109px,#0fc 117px,#00fff7 121px,#00a3ff 134px,#0002ff 170px,#00f 211px)"></i><i style="height:2px;background:linear-gradient(90deg,#ff0500 0px,#ff0500 35px,#ff1700 50px,#ff7a00 71px,#fffe00 85px,#5bff00 96px,#08ff00 103px,#00ff1d 106px,#00ffcb 117px,#00fff6 121px,#00a4ff 134px,#0003ff 170px,#00f 211px)"></i><i style="height:2px;background:linear-gradient(90deg,#ff0400 0px,#ff0400 35px,#ff1600 50px,#ff7f00 72px,#fffd00 85px,#5cff00 96px,#08ff00 103px,#00ff38 108px,#00ffca 117px,#00fffe 122px,#00a4ff 134px,#0004ff 170px,#00f 211px)"></i><i style="height:2px;background:linear-gradient(90deg,#ff0400 0px,#ff0400 35px,#ff1800 51px,#ff7d00 72px,#fffb00 85px,#50ff00 97px,#00ff02 104px,#00ff63 111px,#00ffc8 117px,#00fffe 122px,#00a0ff 135px,#0001ff 171px,#00f 211px)"></i><i style="height:2px;background:linear-gradient(90deg,#ff0400 0px,#ff0400 35px,#ff1700 51px,#ff7c00 72px,#fff900 85px,#51ff00 97px,#00ff01 104px,#00ff62 111px,#00ffc7 117px,#00fffd 122px,#00a1ff 135px,#0002ff 171px,#00f 211px)"></i><i style="height:2px;background:linear-gradient(90deg,#ff0300 0px,#ff0300 34px,#ff1600 51px,#ff7a00 72px,#fff700 85px,#edff00 87px,#52ff00 97px,#0f0 104px,#00ff61 111px,#00ffc6 117px,#00fffc 122px,#00a1ff 135px,#0003ff 171px,#00f 211px)"></i><i style="height:2px;background:linear-gradient(90deg,#ff0300 0px,#ff0300 34px,#ff1800 52px,#ff8000 73px,#fdff00 86px,#53ff00 97px,#0f0 104px,#00ff60 111px,#00ffc5 117px,#00fffb 122px,#00a2ff 135px,#0004ff 171px,#00f 211px)"></i><i style="height:2px;background:linear-gradient(90deg,#ff0200 0px,#ff0200 34px,#ff1700 52px,#ff7e00 73px,#ff0 86px,#5f0 97px,#01ff00 104px,#00ff5f 111px,#00ffc3 117px,#00fffa 122px,#00a3ff 135px,#0001ff 172px,#00f 211px)"></i><i style="height:2px;background:linear-gradient(90deg,#ff0200 0px,#ff0200 34px,#ff1600 52px,#ff7c00 73px,#fffd00 86px,#56ff00 97px,#01ff00 104px,#00ff5e 111px,#00ffc2 117px,#00fff9 122px,#00a3ff 135px,#0002ff 172px,#00f 211px)"></i><i style="height:2px;background:linear-gradient(90deg,#ff0100 0px,#ff0100 33px,#ff1500 52px,#ff7b00 73px,#fffc00 86px,#57ff00 97px,#02ff00 104px,#00ff5d 111px,#00ffc1 117px,#00fff8 122px,#00a4ff 135px,#0003ff 172px,#00f 211px)"></i><i style="height:2px;background:linear-gradient(90deg,#ff0100 0px,#ff0100 33px,#ff1700 53px,#ff7900 73px,#fffa00 86px,#59ff00 97px,#02ff00 104px,#00ff5c 111px,#00ffbf 117px,#00fff7 122px,#00a0ff 136px,#0003ff 172px,#00f 211px)"></i><i style="height:2px;background:linear-gradient(90deg,#f00 0px,#ff0100 33px,#ff1600 53px,#ff7f00 74px,#fff800 86px,#ebff00 88px,#4cff00 98px,#03ff00 104px,#00ff5b 111px,#0fc 118px,#00fff6 122px,#00a1ff 136px,#0001ff 173px,#00f 211px)"></i><i style="height:2px;background:linear-gradient(90deg,#f00 0px,#f00 32px,#ff1700 54px,#ff7d00 74px,#fdff00 87px,#4dff00 98px,#00ff08 105px,#00ffcb 118px,#00fffe 123px,#00a1ff 136px,#0002ff 173px,#00f 211px)"></i><i style="height:2px;background:linear-gradient(90deg,#f00 0px,#f00 34px,#ff1500 54px,#ff7800 74px,#f6ff00 88px,#53ff00 98px,#00ff04 105px,#00ff63 112px,#00ffc6 118px,#00faff 124px,#00a3ff 136px,#0003ff 173px,#0001ff 211px)"></i><i style="height:2px;background:linear-gradient(90deg,#f00 0px,#f00 35px,#ff1500 55px,#ff7a00 75px,#fdff00 88px,#59ff00 98px,#0f0 105px,#00ff5f 112px,#00ffc2 118px,#00fdff 124px,#00a4ff 136px,#0004ff 173px,#0001ff 211px)"></i><i style="height:2px;background:linear-gradient(90deg,#f00 0px,#f00 36px,#ff1500 56px,#ff7c00 76px,#f6ff00 89px,#50ff00 99px,#00ff09 106px,#00ffcb 119px,#0ff 124px,#00a1ff 137px,#0002ff 174px,#0001ff 211px)"></i><i style="height:2px;background:linear-gradient(90deg,#f00 0px,#f00 37px,#ff1500 57px,#ff3600 65px,#ff7f00 77px,#fdff00 89px,#56ff00 99px,#00ff05 106px,#00ff64 113px,#00ffc7 119px,#00f9ff 125px,#00a3ff 137px,#0003ff 174px,#0002ff 211px)"></i><i style="height:2px;background:linear-gradient(90deg,#f00 0px,#f00 38px,#ff1300 57px,#ff3700 66px,#ff7a00 77px,#f7ff00 90px,#5cff00 99px,#00ff01 106px,#00ff60 113px,#00ffc3 119px,#00fcff 125px,#00a4ff 137px,#0004ff 174px,#0002ff 211px)"></i><i style="height:2px;background:linear-gradient(90deg,#f00 0px,#f00 39px,#ff1300 58px,#ff3800 67px,#ff7c00 78px,#feff00 90px,#43ff00 101px,#00ff09 107px,#0fc 120px,#0ff 125px,#00a1ff 138px,#0005ff 174px,#0003ff 211px)"></i><i style="height:2px;background:linear-gradient(90deg,#f00 0px,#f00 40px,#ff1300 59px,#ff3400 67px,#f70 78px,#f7ff00 91px,#49ff00 101px,#00ff06 107px,#00ff65 114px,#00ffc8 120px,#00f9ff 126px,#00a2ff 138px,#0006ff 174px,#0003ff 211px)"></i><i style="height:2px;background:linear-gradient(90deg,#f00 0px,#f00 42px,#ff1300 60px,#ff3500 68px,#ff7a00 79px,#feff00 91px,#4fff00 101px,#00ff02 107px,#00ff61 114px,#00ffc4 120px,#00fbff 126px,#00a4ff 138px,#0004ff 175px,#0004ff 211px)"></i><i style="height:2px;background:linear-gradient(90deg,#f00 0px,#f00 43px,#ff1400 61px,#ff3600 69px,#ff7c00 80px,#f7ff00 92px,#5f0 101px,#02ff00 107px,#00ff5c 114px,#00ffcd 121px,#00feff 126px,#00a5ff 138px,#0004ff 175px,#0004ff 211px)"></i><i style="height:2px;background:linear-gradient(90deg,#f00 0px,#f00 44px,#ff1400 62px,#ff3700 70px,#ff7f00 81px,#ff0 92px,#4bff00 102px,#00ff06 108px,#00ffc9 121px,#00fffd 126px,#00a2ff 139px,#0006ff 175px,#0005ff 211px)"></i><i style="height:2px;background:linear-gradient(90deg,#f00 0px,#f00 45px,#f10 62px,#ff3800 71px,#ff7a00 81px,#f8ff00 93px,#52ff00 102px,#00ff03 108px,#00ff62 115px,#00ffc5 121px,#00fbff 127px,#00a3ff 139px,#0007ff 175px,#0005ff 211px)"></i><i style="height:2px;background:linear-gradient(90deg,#f00 0px,#f00 45px,#ff1400 63px,#ff3800 71px,#ff7900 81px,#f8ff00 93px,#51ff00 102px,#00ff03 108px,#00ff62 115px,#00ffc5 121px,#00fbff 127px,#00a3ff 139px,#0007ff 175px,#0005ff 211px)"></i><i style="height:2px;background:linear-gradient(90deg,#f00 0px,#f00 45px,#f10 62px,#ff3800 71px,#ff7a00 81px,#f6ff00 93px,#50ff00 102px,#00ff04 108px,#00ff64 115px,#00ffc7 121px,#00faff 127px,#00a3ff 139px,#0006ff 175px,#0006ff 211px)"></i><i style="height:2px;background:linear-gradient(90deg,#f00 0px,#f00 45px,#ff1200 62px,#ff3900 71px,#ff7b00 81px,#fffb00 92px,#f4ff00 93px,#4eff00 102px,#00ff05 108px,#00ff65 115px,#00ffc8 121px,#00f9ff 127px,#00a2ff 139px,#0006ff 175px,#0006ff 211px)"></i><i style="height:2px;background:linear-gradient(90deg,#f00 0px,#f00 45px,#ff1200 62px,#ff3400 70px,#ff7c00 81px,#fffc00 92px,#f3ff00 93px,#4cff00 102px,#00ff07 108px,#00ffc9 121px,#00fffd 126px,#00a2ff 139px,#0007ff 175px,#0007ff 211px)"></i><i style="height:2px;background:linear-gradient(90deg,#f00 0px,#f00 45px,#ff1200 62px,#ff3500 70px,#ff7d00 81px,#fffe00 92px,#f1ff00 93px,#4bff00 102px,#00ff08 108px,#00ffcb 121px,#00fffe 126px,#00a1ff 139px,#000aff 174px,#0007ff 211px)"></i><i style="height:2px;background:linear-gradient(90deg,#f00 0px,#f00 45px,#ff1200 62px,#ff3500 70px,#ff7d00 81px,#ff0 92px,#49ff00 102px,#03ff00 107px,#00ff09 108px,#0fc 121px,#0ff 126px,#00a1ff 139px,#0009ff 174px,#0008ff 211px)"></i><i style="height:2px;background:linear-gradient(90deg,#f00 0px,#f00 44px,#ff1300 62px,#ff3600 70px,#ff7e00 81px,#fdff00 92px,#58ff00 101px,#02ff00 107px,#00ff5d 114px,#00ffcd 121px,#00feff 126px,#00a5ff 138px,#0009ff 174px,#0008ff 211px)"></i><i style="height:2px;background:linear-gradient(90deg,#f00 0px,#f00 44px,#ff1300 62px,#ff3600 70px,#f70 80px,#fcff00 92px,#56ff00 101px,#0f0 107px,#00ff5e 114px,#00ffc1 120px,#00fdff 126px,#00a5ff 138px,#0009ff 174px,#0009ff 211px)"></i><i style="height:2px;background:linear-gradient(90deg,#f00 0px,#f00 44px,#ff1300 62px,#ff3700 70px,#ff7800 80px,#faff00 92px,#54ff00 101px,#00ff01 107px,#00ff60 114px,#00ffc3 120px,#00fcff 126px,#00a4ff 138px,#0009ff 174px,#0009ff 211px)"></i><i style="height:2px;background:linear-gradient(90deg,#f00 0px,#f00 44px,#ff1400 62px,#ff3700 70px,#ff7900 80px,#f9ff00 92px,#52ff00 101px,#00ff02 107px,#00ff61 114px,#00ffc4 120px,#00fbff 126px,#00a4ff 138px,#000cff 173px,#000aff 211px)"></i><i style="height:2px;background:linear-gradient(90deg,#f00 0px,#f00 44px,#ff1400 62px,#ff3800 70px,#ff7a00 80px,#f7ff00 92px,#51ff00 101px,#00ff03 107px,#00ff63 114px,#00ffc6 120px,#00faff 126px,#00a3ff 138px,#000bff 173px,#000aff 211px)"></i><i style="height:2px;background:linear-gradient(90deg,#f00 0px,#f00 44px,#ff1200 61px,#ff3900 70px,#ff7b00 80px,#fffb00 91px,#f4ff00 92px,#4eff00 101px,#00ff05 107px,#00ff65 114px,#00ffc7 120px,#00f9ff 126px,#00a3ff 138px,#000cff 173px,#000bff 211px)"></i><i style="height:2px;background:linear-gradient(90deg,#f00 0px,#f00 44px,#ff1200 61px,#ff3500 69px,#ff7d00 80px,#fffd00 91px,#f1ff00 92px,#4bff00 101px,#00ff08 107px,#00ffc9 120px,#00f8ff 126px,#00a3ff 138px,#000dff 173px,#000dff 211px)"></i><i style="height:2px;background:linear-gradient(90deg,#f00 0px,#f00 43px,#ff1300 61px,#ff3600 69px,#ff7e00 80px,#feff00 91px,#58ff00 100px,#02ff00 106px,#00ff5b 113px,#00ffcb 120px,#00fffe 125px,#00a2ff 138px,#000fff 173px,#000fff 211px)"></i><i style="height:2px;background:linear-gradient(90deg,#f00 0px,#f00 43px,#ff1300 61px,#ff3700 69px,#ff7800 79px,#faff00 91px,#54ff00 100px,#00ff01 106px,#00ff5e 113px,#00ffcd 120px,#00fffe 125px,#00a2ff 138px,#0013ff 172px,#01f 211px)"></i><i style="height:2px;background:linear-gradient(90deg,#f00 0px,#f00 43px,#ff1400 61px,#ff3800 69px,#ff7a00 79px,#f7ff00 91px,#51ff00 100px,#00ff03 106px,#00ff60 113px,#00ffc1 119px,#0ff 125px,#00a2ff 138px,#0014ff 172px,#0012ff 211px)"></i><i style="height:2px;background:linear-gradient(90deg,#f00 0px,#f00 43px,#ff1200 60px,#ff3900 69px,#ff7b00 79px,#fffb00 90px,#f4ff00 91px,#4dff00 100px,#00ff06 106px,#00ff62 113px,#00ffc3 119px,#00feff 125px,#00a2ff 138px,#0015ff 172px,#0014ff 211px)"></i><i style="height:2px;background:linear-gradient(90deg,#f00 0px,#f00 43px,#ff1200 60px,#ff3500 68px,#ff7d00 79px,#fffe00 90px,#f0ff00 91px,#4aff00 100px,#00ff08 106px,#00ffc5 119px,#00fdff 125px,#00a2ff 138px,#0016ff 172px,#0016ff 211px)"></i><i style="height:2px;background:linear-gradient(90deg,#f00 0px,#f00 42px,#ff1300 60px,#ff3600 68px,#ff7f00 79px,#fdff00 90px,#57ff00 99px,#01ff00 105px,#00ff67 113px,#00ffc7 119px,#00fcff 125px,#00a2ff 138px,#0018ff 172px,#0018ff 211px)"></i><i style="height:2px;background:linear-gradient(90deg,#f00 0px,#f00 42px,#ff1300 60px,#ff3700 68px,#ff7800 78px,#faff00 90px,#54ff00 99px,#00ff01 105px,#00ff6a 113px,#00ffc8 119px,#00fbff 125px,#00a1ff 138px,#001cff 171px,#001aff 211px)"></i><i style="height:2px;background:linear-gradient(90deg,#f00 0px,#f00 42px,#ff1400 60px,#ff3800 68px,#ff7a00 78px,#f7ff00 90px,#50ff00 99px,#00ff04 105px,#00ff5e 112px,#00ffca 119px,#00faff 125px,#00a1ff 138px,#001dff 171px,#001bff 211px)"></i><i style="height:2px;background:linear-gradient(90deg,#f00 0px,#f00 42px,#ff1200 59px,#ff3400 67px,#ff7c00 78px,#fffc00 89px,#f3ff00 90px,#4dff00 99px,#00ff06 105px,#0fc 119px,#00f9ff 125px,#00a1ff 138px,#001dff 171px,#001dff 211px)"></i><i style="height:2px;background:linear-gradient(90deg,#f00 0px,#f00 42px,#ff1200 59px,#ff3500 67px,#ff7d00 78px,#fffe00 89px,#f0ff00 90px,#4aff00 99px,#00ff08 105px,#00ff62 112px,#00ffc0 118px,#00fffd 124px,#00a1ff 138px,#001fff 171px,#001fff 211px)"></i><i style="height:2px;background:linear-gradient(90deg,#f00 0px,#f00 42px,#ff1300 59px,#ff3500 67px,#ff7e00 78px,#feff00 89px,#48ff00 99px,#02ff00 104px,#00ff09 105px,#00ffc0 118px,#00fffd 124px,#00a1ff 138px,#001fff 171px,#001fff 211px)"></i><i style="height:2px;background:linear-gradient(90deg,#f00 0px,#f00 41px,#ff1300 59px,#ff3600 67px,#ff7f00 78px,#fdff00 89px,#57ff00 98px,#01ff00 104px,#00ff64 112px,#00ffc1 118px,#00fffd 124px,#00a2ff 138px,#0020ff 171px,#001fff 211px)"></i><i style="height:2px;background:linear-gradient(90deg,#f00 0px,#f00 41px,#ff1300 59px,#ff3700 67px,#ff7800 77px,#fbff00 89px,#5f0 98px,#0f0 104px,#00ff65 112px,#00ffc1 118px,#00fffd 124px,#00a2ff 138px,#0021ff 171px,#001fff 211px)"></i><i style="height:2px;background:linear-gradient(90deg,#f00 0px,#f00 41px,#ff1300 59px,#ff3700 67px,#ff7800 77px,#faff00 89px,#53ff00 98px,#00ff01 104px,#0f6 112px,#00ffc2 118px,#00fffd 124px,#00a2ff 138px,#001fff 172px,#001fff 211px)"></i><i style="height:2px;background:linear-gradient(90deg,#f00 0px,#f00 41px,#ff1400 59px,#ff3800 67px,#ff7900 77px,#f8ff00 89px,#52ff00 98px,#00ff02 104px,#0f6 112px,#00ffc2 118px,#00fffd 124px,#00a3ff 138px,#001fff 172px,#001fff 211px)"></i><i style="height:2px;background:linear-gradient(90deg,#f00 0px,#f00 41px,#ff1400 59px,#ff3800 67px,#ff7a00 77px,#f6ff00 89px,#50ff00 98px,#00ff04 104px,#00ff67 112px,#00ffc3 118px,#00fffd 124px,#00a3ff 138px,#0020ff 172px,#001fff 211px)"></i><i style="height:2px;background:linear-gradient(90deg,#f00 0px,#f00 41px,#ff1400 59px,#ff7b00 77px,#fffa00 88px,#f5ff00 89px,#4eff00 98px,#00ff05 104px,#00ff68 112px,#00ffc3 118px,#00fffd 124px,#00a3ff 138px,#0021ff 172px,#001fff 211px)"></i><i style="height:2px;background:linear-gradient(90deg,#f00 0px,#f00 41px,#ff1200 58px,#ff3400 66px,#ff7c00 77px,#fffc00 88px,#f3ff00 89px,#4dff00 98px,#00ff06 104px,#00ff69 112px,#00ffc3 118px,#00fffd 124px,#00a4ff 138px,#001fff 173px,#001fff 211px)"></i><i style="height:2px;background:linear-gradient(90deg,#f00 0px,#f00 41px,#ff1200 58px,#ff3400 66px,#ff7c00 77px,#fffd00 88px,#f1ff00 89px,#4bff00 98px,#00ff07 104px,#00ff6a 112px,#00ffc4 118px,#00fffd 124px,#00a4ff 138px,#001fff 173px,#001fff 211px)"></i><i style="height:2px;background:linear-gradient(90deg,#f00 0px,#f00 41px,#ff1200 58px,#ff3500 66px,#ff7600 76px,#ff0 88px,#efff00 89px,#49ff00 98px,#03ff00 103px,#00ff08 104px,#00ffc4 118px,#00fffd 124px,#00a4ff 138px,#001fff 173px,#001fff 211px)"></i><i style="height:1px;background:linear-gradient(90deg,#f00 0px,#f00 41px,#ff1300 58px,#ff3500 66px,#ff7e00 77px,#feff00 88px,#48ff00 98px,#02ff00 103px,#00ff09 104px,#00ffc5 118px,#00fffd 124px,#00a5ff 138px,#0020ff 173px,#001fff 211px)"></i></div>
<div class="cb" style="left:300px;top:621px;width:16px;height:203px;background:linear-gradient(180deg,#ff0b00 0%,#ff0b00 2.1%,#ff2000 2.1%,#ff2000 4.2%,#ff3500 4.2%,#ff3500 6.2%,#ff4a00 6.2%,#ff4a00 8.3%,#ff6000 8.3%,#ff6000 10.4%,#ff7500 10.4%,#ff7500 12.5%,#ff8a00 12.5%,#ff8a00 14.6%,#ff9f00 14.6%,#ff9f00 16.7%,#ffb500 16.7%,#ffb500 18.8%,#ffca00 18.8%,#ffca00 20.8%,#ffdf00 20.8%,#ffdf00 22.9%,#fff400 22.9%,#fff400 25%,#f4ff00 25%,#f4ff00 27.1%,#dfff00 27.1%,#dfff00 29.2%,#caff00 29.2%,#caff00 31.2%,#b5ff00 31.2%,#b5ff00 33.3%,#9fff00 33.3%,#9fff00 35.4%,#8aff00 35.4%,#8aff00 37.5%,#75ff00 37.5%,#75ff00 39.6%,#60ff00 39.6%,#60ff00 41.7%,#4aff00 41.7%,#4aff00 43.8%,#35ff00 43.8%,#35ff00 45.8%,#20ff00 45.8%,#20ff00 47.9%,#0bff00 47.9%,#0bff00 50%,#00ff0b 50%,#00ff0b 52.1%,#00ff20 52.1%,#00ff20 54.2%,#00ff35 54.2%,#00ff35 56.2%,#00ff4a 56.2%,#00ff4a 58.3%,#00ff60 58.3%,#00ff60 60.4%,#00ff75 60.4%,#00ff75 62.5%,#00ff8a 62.5%,#00ff8a 64.6%,#00ff9f 64.6%,#00ff9f 66.7%,#00ffb5 66.7%,#00ffb5 68.8%,#00ffca 68.8%,#00ffca 70.8%,#00ffdf 70.8%,#00ffdf 72.9%,#00fff4 72.9%,#00fff4 75%,#00f4ff 75%,#00f4ff 77.1%,#00dfff 77.1%,#00dfff 79.2%,#00caff 79.2%,#00caff 81.2%,#00b5ff 81.2%,#00b5ff 83.3%,#009fff 83.3%,#009fff 85.4%,#008aff 85.4%,#008aff 87.5%,#0075ff 87.5%,#0075ff 89.6%,#0060ff 89.6%,#0060ff 91.7%,#004aff 91.7%,#004aff 93.8%,#0035ff 93.8%,#0035ff 95.8%,#0020ff 95.8%,#0020ff 97.9%,#000bff 97.9%,#000bff 100%)"></div>
<div class="hm" style="left:413px;top:621px;width:211px;height:203px"><i style="height:2px;background:linear-gradient(90deg,#ff0f00 0px,#ff0f00 30px,#f20 39px,#ff7f00 62px,#fff900 78px,#f1ff00 80px,#54ff00 93px,#01ff00 102px,#00ff5d 109px,#00ffc0 115px,#00fff7 120px,#00a0ff 134px,#0001ff 171px,#00f 211px)"></i><i style="height:2px;background:linear-gradient(90deg,#ff0f00 0px,#ff0f00 31px,#ff2400 40px,#ff7d00 62px,#feff00 79px,#56ff00 93px,#02ff00 102px,#00ff5a 109px,#00ffcb 116px,#00fffe 121px,#00a2ff 134px,#0003ff 171px,#00f 211px)"></i><i style="height:2px;background:linear-gradient(90deg,#ff0f00 0px,#ff0f00 31px,#ff2300 40px,#ff8100 63px,#fffe00 79px,#58ff00 93px,#03ff00 102px,#00ff58 109px,#00ffc8 116px,#00fffc 121px,#00a3ff 134px,#0001ff 172px,#00f 211px)"></i><i style="height:2px;background:linear-gradient(90deg,#ff0f00 0px,#ff0f00 31px,#f20 40px,#ff7f00 63px,#fffb00 79px,#5aff00 93px,#05ff00 102px,#00ff47 108px,#00ffc5 116px,#00fffa 121px,#00a4ff 134px,#0002ff 172px,#00f 211px)"></i><i style="height:2px;background:linear-gradient(90deg,#ff0f00 0px,#ff0f00 31px,#ff2100 40px,#ff7e00 63px,#fff900 79px,#52ff00 94px,#06ff00 102px,#0f4 108px,#00ffc2 116px,#00fff8 121px,#00a1ff 135px,#0003ff 172px,#00f 211px)"></i><i style="height:2px;background:linear-gradient(90deg,#ff0e00 0px,#ff0f00 32px,#ff2000 40px,#ff7c00 63px,#feff00 80px,#54ff00 94px,#00ff01 103px,#00ff5d 110px,#0fc 117px,#00fffe 122px,#00a2ff 135px,#0002ff 173px,#00f 211px)"></i><i style="height:2px;background:linear-gradient(90deg,#ff0e00 0px,#ff0e00 32px,#f20 41px,#ff8000 64px,#fffe00 80px,#56ff00 94px,#01ff00 103px,#00ff5b 110px,#00ffca 117px,#00fffc 122px,#00a4ff 135px,#0003ff 173px,#00f 211px)"></i><i style="height:2px;background:linear-gradient(90deg,#ff0e00 0px,#ff0e00 32px,#ff2100 41px,#ff7f00 64px,#fffc00 80px,#58ff00 94px,#02ff00 103px,#00ff58 110px,#00ffc7 117px,#00fffa 122px,#00a0ff 136px,#0001ff 174px,#00f 211px)"></i><i style="height:2px;background:linear-gradient(90deg,#ff0e00 0px,#ff0e00 32px,#ff2000 41px,#ff7d00 64px,#fff900 80px,#4fff00 95px,#04ff00 103px,#0f5 110px,#00ffc4 117px,#00fff8 122px,#00a2ff 136px,#0003ff 174px,#00f 211px)"></i><i style="height:2px;background:linear-gradient(90deg,#ff0e00 0px,#ff0e00 33px,#ff1f00 41px,#ff7b00 64px,#fdff00 81px,#5dff00 94px,#05ff00 103px,#0f4 109px,#00ffce 118px,#0ff 123px,#00a3ff 136px,#0004ff 174px,#00f 211px)"></i><i style="height:2px;background:linear-gradient(90deg,#ff0e00 0px,#ff0e00 33px,#ff2000 42px,#ff7f00 65px,#fffe00 81px,#5fff00 94px,#07ff00 103px,#00ff42 109px,#00ffcb 118px,#00fffc 123px,#00a5ff 136px,#0002ff 175px,#00f 211px)"></i><i style="height:2px;background:linear-gradient(90deg,#ff0e00 0px,#ff0e00 33px,#ff1f00 42px,#ff7e00 65px,#fffc00 81px,#56ff00 95px,#0f0 104px,#00ff69 112px,#00ffc8 118px,#00fffa 123px,#00a1ff 137px,#0003ff 175px,#00f 211px)"></i><i style="height:2px;background:linear-gradient(90deg,#ff0d00 0px,#ff0d00 33px,#ff1e00 42px,#ff7c00 65px,#fffa00 81px,#4dff00 96px,#01ff00 104px,#0f6 112px,#00ffc5 118px,#00fff8 123px,#00a2ff 137px,#0002ff 176px,#00f 211px)"></i><i style="height:2px;background:linear-gradient(90deg,#ff0d00 0px,#ff0e00 34px,#ff1d00 42px,#ff8000 66px,#fdff00 82px,#5aff00 95px,#03ff00 104px,#0f5 111px,#00ffc2 118px,#0ff 124px,#00a4ff 137px,#0003ff 176px,#00f 211px)"></i><i style="height:2px;background:linear-gradient(90deg,#ff0d00 0px,#ff0d00 34px,#ff1f00 43px,#ff7e00 66px,#fffe00 82px,#5dff00 95px,#04ff00 104px,#00ff53 111px,#0fc 119px,#00fffd 124px,#00a0ff 138px,#0004ff 176px,#00f 211px)"></i><i style="height:2px;background:linear-gradient(90deg,#ff0d00 0px,#ff0d00 34px,#ff1e00 43px,#ff7d00 66px,#fffc00 82px,#54ff00 96px,#06ff00 104px,#00ff42 110px,#00ffc9 119px,#00fffb 124px,#00a2ff 138px,#0003ff 177px,#00f 211px)"></i><i style="height:2px;background:linear-gradient(90deg,#ff0d00 0px,#ff0d00 34px,#ff1d00 43px,#ff7b00 66px,#fffa00 82px,#4bff00 97px,#00ff02 105px,#00ff69 113px,#00ffc7 119px,#00fff9 124px,#00a3ff 138px,#0004ff 177px,#00f 211px)"></i><i style="height:2px;background:linear-gradient(90deg,#ff0d00 0px,#ff0d00 34px,#ff1c00 43px,#ff7f00 67px,#fdff00 83px,#58ff00 96px,#0f0 105px,#0f6 113px,#00ffc4 119px,#00fff7 124px,#00a0ff 139px,#0002ff 178px,#00f 211px)"></i><i style="height:2px;background:linear-gradient(90deg,#ff0d00 0px,#ff0d00 35px,#ff1e00 44px,#ff7d00 67px,#ff0 83px,#5bff00 96px,#02ff00 105px,#00ff63 113px,#00ffc1 119px,#00fffd 125px,#00a1ff 139px,#0003ff 178px,#00f 211px)"></i><i style="height:2px;background:linear-gradient(90deg,#ff0c00 0px,#ff0c00 35px,#ff1d00 44px,#ff7c00 67px,#fffc00 83px,#51ff00 97px,#03ff00 105px,#00ff53 112px,#00ffcb 120px,#00fffb 125px,#00a3ff 139px,#0002ff 179px,#00f 211px)"></i><i style="height:2px;background:linear-gradient(90deg,#ff0c00 0px,#ff0c00 35px,#ff1c00 44px,#ff8000 68px,#fffa00 83px,#54ff00 97px,#05ff00 105px,#00ff50 112px,#00ffc8 120px,#00fff9 125px,#00a4ff 139px,#0003ff 179px,#00f 211px)"></i><i style="height:2px;background:linear-gradient(90deg,#ff0c00 0px,#ff0c00 35px,#ff1b00 44px,#ff7e00 68px,#fff800 83px,#f1ff00 85px,#4bff00 98px,#06ff00 105px,#00ff40 111px,#00ffc5 120px,#00fff7 125px,#00a1ff 140px,#0004ff 179px,#00f 211px)"></i><i style="height:2px;background:linear-gradient(90deg,#ff0c00 0px,#ff0c00 36px,#ff1c00 45px,#ff7c00 68px,#ff0 84px,#58ff00 97px,#00ff01 106px,#0f6 114px,#00ffc2 120px,#00fffd 126px,#00a2ff 140px,#0002ff 180px,#00f 211px)"></i><i style="height:2px;background:linear-gradient(90deg,#ff0c00 0px,#ff0c00 36px,#ff1b00 45px,#ff7b00 68px,#fffd00 84px,#5bff00 97px,#0f0 106px,#00ff63 114px,#0fc 121px,#00fffb 126px,#00a3ff 140px,#0004ff 180px,#00f 211px)"></i><i style="height:2px;background:linear-gradient(90deg,#ff0c00 0px,#ff0c00 36px,#ff1a00 45px,#ff7f00 69px,#fffa00 84px,#51ff00 98px,#02ff00 106px,#00ff60 114px,#00ffc9 121px,#00fff9 126px,#00a0ff 141px,#0002ff 181px,#00f 211px)"></i><i style="height:2px;background:linear-gradient(90deg,#ff0b00 0px,#ff0b00 36px,#ff1900 45px,#ff7d00 69px,#fff800 84px,#f1ff00 86px,#54ff00 98px,#03ff00 106px,#00ff50 113px,#00ffc7 121px,#00fff7 126px,#00a1ff 141px,#0003ff 181px,#00f 211px)"></i><i style="height:2px;background:linear-gradient(90deg,#ff0b00 0px,#ff0c00 37px,#ff1b00 46px,#ff7b00 69px,#ff0 85px,#62ff00 97px,#05ff00 106px,#00ff4e 113px,#00ffc4 121px,#00fffe 127px,#00a3ff 141px,#0005ff 181px,#00f 211px)"></i><i style="height:2px;background:linear-gradient(90deg,#ff0b00 0px,#ff0b00 37px,#ff1a00 46px,#ff7f00 70px,#fffd00 85px,#58ff00 98px,#07ff00 106px,#00ff3e 112px,#00ffcd 122px,#00fffc 127px,#00a4ff 141px,#0003ff 182px,#00f 211px)"></i><i style="height:2px;background:linear-gradient(90deg,#ff0b00 0px,#ff0b00 37px,#ff1900 46px,#ff7e00 70px,#fffb00 85px,#4fff00 99px,#00ff01 107px,#00ff63 115px,#00ffcb 122px,#00fffa 127px,#00a1ff 142px,#0004ff 182px,#00f 211px)"></i><i style="height:2px;background:linear-gradient(90deg,#ff0b00 0px,#ff0b00 37px,#ff1b00 47px,#ff7c00 70px,#fff800 85px,#f0ff00 87px,#51ff00 99px,#01ff00 107px,#00ff60 115px,#00ffc8 122px,#00fff8 127px,#00a2ff 142px,#0002ff 183px,#00f 211px)"></i><i style="height:2px;background:linear-gradient(90deg,#ff0b00 0px,#ff0b00 37px,#ff1a00 47px,#ff7a00 70px,#feff00 86px,#60ff00 98px,#02ff00 107px,#00ff5e 115px,#00ffc5 122px,#00fffe 128px,#00a3ff 142px,#0004ff 183px,#00f 211px)"></i><i style="height:2px;background:linear-gradient(90deg,#ff0b00 0px,#ff0b00 38px,#ff1900 47px,#ff7e00 71px,#fffd00 86px,#56ff00 99px,#04ff00 107px,#00ff4e 114px,#00ffc2 122px,#00fffc 128px,#00a5ff 142px,#0005ff 183px,#00f 211px)"></i><i style="height:2px;background:linear-gradient(90deg,#ff0a00 0px,#ff0a00 38px,#ff1a00 48px,#ff7d00 71px,#fffb00 86px,#59ff00 99px,#05ff00 107px,#00ff4c 114px,#0fc 123px,#00fffa 128px,#00a2ff 143px,#0003ff 184px,#00f 211px)"></i><i style="height:2px;background:linear-gradient(90deg,#ff0a00 0px,#ff0a00 38px,#ff1900 48px,#ff7b00 71px,#fff800 86px,#f0ff00 88px,#4fff00 100px,#07ff00 107px,#00ff49 114px,#00ffc9 123px,#00fff8 128px,#00a3ff 143px,#0004ff 184px,#00f 211px)"></i><i style="height:2px;background:linear-gradient(90deg,#ff0a00 0px,#ff0a00 39px,#ff1a00 49px,#ff7d00 72px,#fffd00 87px,#5f0 100px,#02ff00 108px,#00ff5c 116px,#00ffc3 123px,#00fffc 129px,#00a1ff 144px,#0004ff 185px,#00f 211px)"></i><i style="height:2px;background:linear-gradient(90deg,#ff0900 0px,#ff0900 39px,#ff1a00 50px,#ff7e00 73px,#ff0 88px,#5dff00 100px,#00ff01 109px,#00ff61 117px,#00ffc6 124px,#00fffe 130px,#00a5ff 144px,#0004ff 186px,#00f 211px)"></i><i style="height:2px;background:linear-gradient(90deg,#ff0900 0px,#ff0900 39px,#ff1800 50px,#ff7a00 73px,#fff800 88px,#f0ff00 90px,#4dff00 102px,#05ff00 109px,#00ff4c 116px,#00ffca 125px,#00fff8 130px,#00a4ff 145px,#0004ff 187px,#00f 211px)"></i><i style="height:2px;background:linear-gradient(90deg,#ff0900 0px,#ff0900 40px,#ff1800 51px,#ff7b00 74px,#fffb00 89px,#5f0 102px,#01ff00 110px,#00ff5d 118px,#00ffc2 125px,#00fffa 131px,#00a3ff 146px,#0004ff 188px,#00f 211px)"></i><i style="height:2px;background:linear-gradient(90deg,#ff0800 0px,#ff0800 40px,#ff1800 52px,#ff7c00 75px,#fffe00 90px,#5dff00 102px,#07ff00 110px,#00ff48 117px,#00ffc5 126px,#00fffc 132px,#00a2ff 147px,#0004ff 189px,#00f 211px)"></i><i style="height:2px;background:linear-gradient(90deg,#ff0800 0px,#ff0800 40px,#ff1900 53px,#ff7d00 76px,#feff00 91px,#59ff00 103px,#03ff00 111px,#00ff59 119px,#00ffc9 127px,#00fffe 133px,#00a1ff 148px,#0004ff 190px,#00f 211px)"></i><i style="height:2px;background:linear-gradient(90deg,#ff0700 0px,#ff0700 41px,#ff1600 53px,#ff7e00 77px,#fff900 91px,#ef0 93px,#5f0 104px,#0f0 112px,#00ff6a 121px,#00ffc0 127px,#00fff9 133px,#00a0ff 149px,#0004ff 191px,#00f 211px)"></i><i style="height:2px;background:linear-gradient(90deg,#ff0700 0px,#ff0700 41px,#ff1600 54px,#ff7900 77px,#fffc00 92px,#51ff00 105px,#06ff00 112px,#00ff48 119px,#00ffc4 128px,#00fffb 134px,#00a4ff 149px,#0004ff 192px,#00f 211px)"></i><i style="height:2px;background:linear-gradient(90deg,#ff0600 0px,#ff0600 41px,#ff1600 55px,#ff7b00 78px,#fffe00 93px,#59ff00 105px,#02ff00 113px,#00ff59 121px,#00ffc8 129px,#00fffd 135px,#00a3ff 150px,#0004ff 193px,#00f 211px)"></i><i style="height:2px;background:linear-gradient(90deg,#ff0600 0px,#ff0600 42px,#ff1700 56px,#ff7c00 79px,#fff700 93px,#f0ff00 95px,#49ff00 107px,#00ff01 114px,#00ff6a 123px,#00ffbf 129px,#00fff7 135px,#00a2ff 151px,#0004ff 194px,#00f 211px)"></i><i style="height:2px;background:linear-gradient(90deg,#ff0500 0px,#ff0500 42px,#ff1700 57px,#ff7d00 80px,#fffa00 94px,#51ff00 107px,#05ff00 114px,#0f5 122px,#00ffc3 130px,#00fffa 136px,#00a1ff 152px,#0007ff 194px,#00f 211px)"></i><i style="height:2px;background:linear-gradient(90deg,#ff0500 0px,#ff0500 42px,#ff1700 58px,#ff7e00 81px,#fffc00 95px,#59ff00 107px,#01ff00 115px,#00ff65 124px,#00ffc7 131px,#00fffc 137px,#00a5ff 152px,#0007ff 195px,#00f 211px)"></i><i style="height:2px;background:linear-gradient(90deg,#ff0400 0px,#ff0500 43px,#ff1500 58px,#ff7900 81px,#ff0 96px,#62ff00 107px,#07ff00 115px,#00ff45 122px,#00ffca 132px,#00fffe 138px,#00a4ff 153px,#0007ff 196px,#00f 211px)"></i><i style="height:2px;background:linear-gradient(90deg,#ff0400 0px,#ff0400 43px,#ff1500 59px,#ff7a00 82px,#fff800 96px,#efff00 98px,#50ff00 109px,#03ff00 116px,#0f5 124px,#00ffc2 132px,#00fff8 138px,#00a3ff 154px,#0007ff 197px,#00f 211px)"></i><i style="height:2px;background:linear-gradient(90deg,#ff0400 0px,#ff0400 43px,#ff1500 60px,#ff7c00 83px,#fffb00 97px,#4cff00 110px,#0f0 117px,#00ff65 126px,#00ffc6 133px,#00fffa 139px,#00a2ff 155px,#0007ff 198px,#00f 211px)"></i><i style="height:2px;background:linear-gradient(90deg,#ff0300 0px,#ff0300 44px,#ff1500 61px,#ff7d00 84px,#fffd00 98px,#5f0 110px,#06ff00 117px,#00ff51 125px,#00ffc9 134px,#00fffc 140px,#09f 158px,#0004ff 200px,#00f 211px)"></i><i style="height:2px;background:linear-gradient(90deg,#ff0300 0px,#ff0300 44px,#ff1500 62px,#ff7e00 85px,#feff00 99px,#5dff00 110px,#02ff00 118px,#0f5 126px,#0fc 135px,#00fffe 141px,#009cff 158px,#0004ff 201px,#00f 211px)"></i><i style="height:2px;background:linear-gradient(90deg,#ff0200 0px,#ff0200 44px,#ff1600 63px,#ff7900 85px,#fff900 99px,#edff00 101px,#4cff00 112px,#00ff01 119px,#0f6 128px,#00ffc5 135px,#00fff9 141px,#009cff 159px,#0004ff 202px,#00f 211px)"></i><i style="height:2px;background:linear-gradient(90deg,#ff0200 0px,#ff0200 44px,#ff1300 63px,#ff3700 73px,#ff7a00 86px,#fffb00 100px,#5f0 112px,#05ff00 119px,#00ff52 127px,#00ffc8 136px,#00fffb 142px,#009bff 160px,#0004ff 203px,#00f 211px)"></i><i style="height:2px;background:linear-gradient(90deg,#ff0100 0px,#ff0100 44px,#ff1300 64px,#ff3700 74px,#ff7c00 87px,#fffe00 101px,#5dff00 112px,#01ff00 120px,#00ff62 129px,#00ffcb 137px,#00fffd 143px,#009eff 160px,#0004ff 204px,#00f 211px)"></i><i style="height:2px;background:linear-gradient(90deg,#ff0100 0px,#ff0100 45px,#ff1400 65px,#ff3800 75px,#ff7d00 88px,#fff600 101px,#fcff00 102px,#59ff00 113px,#07ff00 120px,#00ff4e 128px,#00ffc4 137px,#00fff8 143px,#009dff 161px,#0004ff 205px,#00f 211px)"></i><i style="height:2px;background:linear-gradient(90deg,#f00 0px,#ff0100 45px,#ff1400 66px,#ff3800 76px,#ff7e00 89px,#fff900 102px,#54ff00 114px,#04ff00 121px,#00ff52 129px,#00ffc7 138px,#00fffa 144px,#00a0ff 161px,#0004ff 206px,#00f 211px)"></i><i style="height:2px;background:linear-gradient(90deg,#f00 0px,#f00 45px,#ff1400 67px,#ff7900 89px,#f6ff00 104px,#5eff00 114px,#0f0 122px,#00ff61 131px,#00ffca 139px,#00fbff 146px,#009fff 162px,#0007ff 206px,#00f 211px)"></i><i style="height:2px;background:linear-gradient(90deg,#f00 0px,#f00 45px,#ff1300 67px,#ff3600 77px,#ff7a00 90px,#fffd00 104px,#f5ff00 105px,#5fff00 115px,#02ff00 123px,#00ff61 132px,#00ffcb 140px,#00fffd 146px,#00a2ff 162px,#0007ff 206px,#00f 211px)"></i><i style="height:2px;background:linear-gradient(90deg,#f00 0px,#f00 45px,#ff1400 68px,#ff3800 78px,#ff7c00 91px,#fffe00 105px,#f4ff00 106px,#52ff00 117px,#00ff07 125px,#00ff61 133px,#00ffc0 140px,#00fffe 147px,#00a0ff 163px,#0007ff 206px,#00f 211px)"></i><i style="height:2px;background:linear-gradient(90deg,#f00 0px,#f00 46px,#ff1500 69px,#ff7d00 92px,#fffe00 106px,#f4ff00 107px,#53ff00 118px,#00ff05 126px,#00ff60 134px,#00ffc1 141px,#0ff 148px,#009fff 164px,#0007ff 206px,#00f 211px)"></i><i style="height:2px;background:linear-gradient(90deg,#f00 0px,#f00 46px,#ff1400 69px,#ff3600 79px,#ff7800 92px,#ff0 107px,#f3ff00 108px,#54ff00 119px,#00ff04 127px,#00ff60 135px,#00ffc2 142px,#00fdff 149px,#00a1ff 164px,#0007ff 206px,#00f 211px)"></i><i style="height:2px;background:linear-gradient(90deg,#f00 0px,#f00 46px,#ff1500 70px,#ff7a00 93px,#feff00 108px,#5f0 120px,#00ff03 128px,#00ff60 136px,#00ffc3 143px,#00fcff 150px,#00a0ff 165px,#0007ff 206px,#00f 211px)"></i><i style="height:2px;background:linear-gradient(90deg,#f00 0px,#f00 47px,#ff1400 70px,#ff3500 80px,#ff7b00 94px,#feff00 109px,#5f0 121px,#00ff01 129px,#00ff5f 137px,#00ffc4 144px,#00fbff 151px,#009eff 166px,#0007ff 206px,#00f 211px)"></i><i style="height:2px;background:linear-gradient(90deg,#f00 0px,#f00 47px,#ff1500 71px,#ff3700 81px,#ff7c00 95px,#fdff00 110px,#56ff00 122px,#0f0 130px,#00ff5f 138px,#00ffc5 145px,#00fffd 151px,#00a1ff 166px,#0007ff 206px,#00f 211px)"></i><i style="height:2px;background:linear-gradient(90deg,#f00 0px,#f00 47px,#ff1300 71px,#ff3800 82px,#ff7e00 96px,#fcff00 111px,#57ff00 123px,#02ff00 131px,#00ff5f 139px,#00ffc6 146px,#00fffe 152px,#009fff 167px,#0004ff 207px,#00f 211px)"></i><i style="height:2px;background:linear-gradient(90deg,#f00 0px,#f00 48px,#ff1500 72px,#ff7900 96px,#fcff00 112px,#4cff00 125px,#00ff07 133px,#00ffc7 147px,#00feff 153px,#00a2ff 167px,#0004ff 207px,#00f 211px)"></i><i style="height:2px;background:linear-gradient(90deg,#f00 0px,#f00 48px,#ff1300 72px,#ff3700 83px,#ff7a00 97px,#fbff00 113px,#4cff00 126px,#00ff06 134px,#00ffc8 148px,#00fdff 154px,#00a0ff 168px,#0004ff 207px,#00f 211px)"></i><i style="height:2px;background:linear-gradient(90deg,#f00 0px,#f00 48px,#ff1400 73px,#ff3900 84px,#ff7b00 98px,#faff00 114px,#59ff00 126px,#00ff04 135px,#00ff5e 142px,#00ffc9 149px,#00fcff 155px,#009eff 169px,#0004ff 207px,#00f 211px)"></i><i style="height:2px;background:linear-gradient(90deg,#f00 0px,#f00 49px,#ff1300 73px,#ff3700 84px,#ff7a00 98px,#fcff00 114px,#4eff00 127px,#00ff04 135px,#00ffcb 149px,#00faff 155px,#009dff 169px,#0005ff 206px,#0002ff 211px)"></i><i style="height:2px;background:linear-gradient(90deg,#f00 0px,#f00 49px,#ff1500 74px,#ff7900 98px,#fcff00 114px,#4cff00 127px,#00ff07 135px,#00ff63 142px,#00ffc2 148px,#0ff 154px,#009fff 168px,#0005ff 205px,#0005ff 211px)"></i><i style="height:2px;background:linear-gradient(90deg,#f00 0px,#f00 50px,#ff1400 74px,#ff3900 85px,#ff7e00 99px,#fcff00 114px,#57ff00 126px,#02ff00 134px,#00ff58 141px,#00ffc7 148px,#00fbff 154px,#009cff 168px,#0009ff 203px,#0008ff 211px)"></i><i style="height:2px;background:linear-gradient(90deg,#f00 0px,#f00 51px,#ff1300 74px,#ff3800 85px,#ff7d00 99px,#fcff00 114px,#5f0 126px,#0f0 134px,#00ff5c 141px,#0fc 148px,#00fffe 153px,#009aff 168px,#000aff 202px,#000aff 211px)"></i><i style="height:2px;background:linear-gradient(90deg,#f00 0px,#f00 51px,#ff1400 75px,#ff3600 85px,#ff7c00 99px,#fcff00 114px,#54ff00 126px,#00ff02 134px,#00ff61 141px,#00ffc3 147px,#00fdff 153px,#00a5ff 165px,#000fff 200px,#000dff 211px)"></i><i style="height:2px;background:linear-gradient(90deg,#f00 0px,#f00 52px,#ff1300 75px,#ff3500 85px,#ff7b00 99px,#fcff00 114px,#52ff00 126px,#00ff05 134px,#00ff65 141px,#00ffc8 147px,#00fffc 152px,#00a2ff 165px,#0010ff 199px,#0010ff 211px)"></i><i style="height:2px;background:linear-gradient(90deg,#f00 0px,#f00 52px,#ff1200 75px,#ff3800 86px,#ff7a00 99px,#fcff00 114px,#51ff00 126px,#00ff08 134px,#00ffcd 147px,#00feff 152px,#00a4ff 164px,#0015ff 197px,#0013ff 211px)"></i><i style="height:2px;background:linear-gradient(90deg,#f00 0px,#f00 53px,#ff1400 76px,#ff3700 86px,#ff7900 99px,#fcff00 114px,#5cff00 125px,#02ff00 133px,#00ff5e 140px,#00ffc4 146px,#00faff 152px,#00a2ff 164px,#0016ff 196px,#0015ff 211px)"></i><i style="height:2px;background:linear-gradient(90deg,#f00 0px,#f00 54px,#ff1300 76px,#ff3600 86px,#ff7800 99px,#fcff00 114px,#5aff00 125px,#0f0 133px,#00ff63 140px,#00ffc9 146px,#00fffe 151px,#00a4ff 163px,#001bff 194px,#0018ff 211px)"></i><i style="height:2px;background:linear-gradient(90deg,#f00 0px,#f00 54px,#ff1200 76px,#ff3400 86px,#ff7800 99px,#fcff00 114px,#59ff00 125px,#00ff03 133px,#00ffce 146px,#00fcff 151px,#00a1ff 163px,#001cff 193px,#001bff 211px)"></i><i style="height:2px;background:linear-gradient(90deg,#f00 0px,#f00 55px,#ff1300 77px,#ff3700 87px,#ff7d00 100px,#fcff00 114px,#57ff00 125px,#00ff06 133px,#00ff6c 140px,#00ffc5 145px,#00fffd 150px,#00a3ff 162px,#0021ff 191px,#001dff 211px)"></i><i style="height:2px;background:linear-gradient(90deg,#f00 0px,#f00 54px,#ff1300 76px,#ff3600 86px,#ff7a00 99px,#fffd00 113px,#f5ff00 114px,#5fff00 124px,#02ff00 132px,#00ff54 138px,#00ffcd 145px,#00fbff 150px,#00a4ff 161px,#0020ff 190px,#001fff 211px)"></i><i style="height:2px;background:linear-gradient(90deg,#f00 0px,#f00 52px,#ff1200 74px,#ff3800 85px,#ff7c00 98px,#f6ff00 113px,#5f0 124px,#00ff05 132px,#00ffc9 144px,#00fdff 149px,#00a4ff 160px,#0021ff 188px,#0020ff 211px)"></i><i style="height:2px;background:linear-gradient(90deg,#f00 0px,#f00 50px,#ff1400 73px,#ff3600 83px,#ff7d00 97px,#f7ff00 112px,#5aff00 123px,#01ff00 131px,#00ff58 137px,#00ffc5 143px,#00feff 148px,#00a4ff 159px,#0024ff 186px,#0021ff 211px)"></i><i style="height:2px;background:linear-gradient(90deg,#f00 0px,#f00 47px,#ff1300 71px,#ff3900 82px,#ff7900 95px,#f8ff00 111px,#51ff00 123px,#00ff05 131px,#00ff63 137px,#00ffc1 142px,#00fffe 147px,#00a4ff 158px,#02f 185px,#02f 211px)"></i><i style="height:2px;background:linear-gradient(90deg,#f00 0px,#f00 45px,#ff1500 70px,#ff7a00 94px,#f9ff00 110px,#5f0 122px,#01ff00 130px,#00ff5c 136px,#00ffcd 142px,#00fffc 146px,#00a3ff 157px,#0023ff 183px,#0023ff 211px)"></i><i style="height:2px;background:linear-gradient(90deg,#f00 0px,#f00 43px,#ff1400 68px,#ff3900 79px,#ff7c00 93px,#faff00 109px,#59ff00 121px,#00ff06 130px,#00ffc9 141px,#00f9ff 146px,#00a3ff 156px,#0025ff 181px,#0024ff 211px)"></i><i style="height:2px;background:linear-gradient(90deg,#f00 0px,#f00 41px,#ff1600 67px,#ff7d00 92px,#fbff00 108px,#5cff00 120px,#0f0 129px,#00ff61 135px,#00ffc5 140px,#00fbff 145px,#00a3ff 155px,#0028ff 179px,#0025ff 211px)"></i><i style="height:2px;background:linear-gradient(90deg,#f00 0px,#f00 39px,#ff1600 65px,#ff7900 90px,#fbff00 107px,#54ff00 120px,#00ff07 129px,#00ff6d 135px,#00ffc0 139px,#00fcff 144px,#00a3ff 154px,#0025ff 178px,#0025ff 211px)"></i><i style="height:2px;background:linear-gradient(90deg,#f00 0px,#f00 37px,#ff1700 64px,#ff7a00 89px,#fcff00 106px,#58ff00 119px,#0f0 128px,#0f6 134px,#00ffcd 139px,#00feff 143px,#00a2ff 153px,#0027ff 176px,#0026ff 211px)"></i><i style="height:2px;background:linear-gradient(90deg,#f00 0px,#f00 34px,#ff1700 62px,#ff7b00 88px,#fdff00 105px,#50ff00 119px,#00ff08 128px,#00ffc9 138px,#00fffe 142px,#00a2ff 152px,#002aff 174px,#0027ff 211px)"></i><i style="height:2px;background:linear-gradient(90deg,#f00 0px,#ff0100 34px,#ff1800 61px,#ff7d00 87px,#fdff00 104px,#54ff00 118px,#0f0 127px,#00ff6c 133px,#00ffc4 137px,#00f6ff 142px,#00a2ff 151px,#0028ff 173px,#0028ff 211px)"></i><i style="height:2px;background:linear-gradient(90deg,#f00 0px,#ff0100 33px,#ff1900 60px,#ff7c00 86px,#f6ff00 104px,#4dff00 118px,#00ff09 127px,#00ffcf 137px,#00faff 141px,#00a3ff 150px,#0029ff 172px,#0029ff 211px)"></i><i style="height:2px;background:linear-gradient(90deg,#f00 0px,#ff0100 33px,#ff1900 60px,#ff7d00 86px,#fdff00 103px,#53ff00 117px,#00ff01 126px,#00ff59 131px,#00ffc4 136px,#00f6ff 141px,#00a2ff 150px,#0029ff 172px,#0029ff 211px)"></i><i style="height:2px;background:linear-gradient(90deg,#f00 0px,#ff0100 33px,#ff1800 60px,#ff7e00 86px,#faff00 103px,#4eff00 117px,#00ff09 126px,#00ffcb 136px,#00feff 140px,#00a1ff 150px,#0029ff 172px,#0029ff 211px)"></i><i style="height:2px;background:linear-gradient(90deg,#f00 0px,#ff0100 33px,#ff1800 60px,#ff7a00 85px,#f6ff00 103px,#5f0 116px,#00ff02 125px,#00ff6a 131px,#00ffc0 135px,#00fbff 140px,#00a6ff 149px,#0029ff 172px,#0029ff 211px)"></i><i style="height:2px;background:linear-gradient(90deg,#f00 0px,#ff0100 33px,#ff1800 60px,#ff7b00 85px,#fdff00 102px,#50ff00 116px,#00ff0a 125px,#00ffc6 135px,#00f7ff 140px,#00a5ff 149px,#002aff 172px,#0029ff 211px)"></i><i style="height:2px;background:linear-gradient(90deg,#f00 0px,#f00 33px,#ff1800 60px,#ff7b00 85px,#faff00 102px,#56ff00 115px,#00ff02 124px,#00ff67 130px,#0fc 135px,#0ff 139px,#00a4ff 149px,#002bff 172px,#0029ff 211px)"></i><i style="height:2px;background:linear-gradient(90deg,#f00 0px,#f00 33px,#ff1800 60px,#ff7c00 85px,#f7ff00 102px,#51ff00 115px,#00ff0a 124px,#00ffc2 134px,#00fcff 139px,#00a3ff 149px,#002bff 172px,#0029ff 211px)"></i><i style="height:2px;background:linear-gradient(90deg,#f00 0px,#ff0100 34px,#ff1700 60px,#ff7d00 85px,#feff00 101px,#57ff00 114px,#00ff03 123px,#00ff65 129px,#00ffc8 134px,#00f8ff 139px,#00a2ff 149px,#0029ff 173px,#0029ff 211px)"></i><i style="height:2px;background:linear-gradient(90deg,#f00 0px,#f00 34px,#ff1700 60px,#ff7e00 85px,#fbff00 101px,#52ff00 114px,#03ff00 122px,#00ff0a 123px,#00ffbe 133px,#00fffe 138px,#00a1ff 149px,#0029ff 173px,#0029ff 211px)"></i><i style="height:2px;background:linear-gradient(90deg,#f00 0px,#f00 34px,#ff1700 60px,#ff7900 84px,#f7ff00 101px,#59ff00 113px,#00ff03 122px,#00ff63 128px,#00ffc4 133px,#00fdff 138px,#00a6ff 148px,#0029ff 173px,#0029ff 211px)"></i><i style="height:2px;background:linear-gradient(90deg,#f00 0px,#f00 34px,#ff1700 60px,#ff7a00 84px,#feff00 100px,#60ff00 112px,#02ff00 121px,#00ff59 127px,#00ffca 133px,#00f9ff 138px,#00a5ff 148px,#0029ff 173px,#0029ff 211px)"></i><i style="height:1px;background:linear-gradient(90deg,#f00 0px,#f00 34px,#ff1700 60px,#ff7b00 84px,#fcff00 100px,#5cff00 112px,#00ff02 121px,#00ff5f 127px,#00ffbe 132px,#00fffd 137px,#00a4ff 148px,#002aff 173px,#0029ff 211px)"></i></div>
<div class="cb" style="left:658px;top:621px;width:16px;height:203px;background:linear-gradient(180deg,#ff0b00 0%,#ff0b00 2.1%,#ff2000 2.1%,#ff2000 4.2%,#ff3500 4.2%,#ff3500 6.2%,#ff4a00 6.2%,#ff4a00 8.3%,#ff6000 8.3%,#ff6000 10.4%,#ff7500 10.4%,#ff7500 12.5%,#ff8a00 12.5%,#ff8a00 14.6%,#ff9f00 14.6%,#ff9f00 16.7%,#ffb500 16.7%,#ffb500 18.8%,#ffca00 18.8%,#ffca00 20.8%,#ffdf00 20.8%,#ffdf00 22.9%,#fff400 22.9%,#fff400 25%,#f4ff00 25%,#f4ff00 27.1%,#dfff00 27.1%,#dfff00 29.2%,#caff00 29.2%,#caff00 31.2%,#b5ff00 31.2%,#b5ff00 33.3%,#9fff00 33.3%,#9fff00 35.4%,#8aff00 35.4%,#8aff00 37.5%,#75ff00 37.5%,#75ff00 39.6%,#60ff00 39.6%,#60ff00 41.7%,#4aff00 41.7%,#4aff00 43.8%,#35ff00 43.8%,#35ff00 45.8%,#20ff00 45.8%,#20ff00 47.9%,#0bff00 47.9%,#0bff00 50%,#00ff0b 50%,#00ff0b 52.1%,#00ff20 52.1%,#00ff20 54.2%,#00ff35 54.2%,#00ff35 56.2%,#00ff4a 56.2%,#00ff4a 58.3%,#00ff60 58.3%,#00ff60 60.4%,#00ff75 60.4%,#00ff75 62.5%,#00ff8a 62.5%,#00ff8a 64.6%,#00ff9f 64.6%,#00ff9f 66.7%,#00ffb5 66.7%,#00ffb5 68.8%,#00ffca 68.8%,#00ffca 70.8%,#00ffdf 70.8%,#00ffdf 72.9%,#00fff4 72.9%,#00fff4 75%,#00f4ff 75%,#00f4ff 77.1%,#00dfff 77.1%,#00dfff 79.2%,#00caff 79.2%,#00caff 81.2%,#00b5ff 81.2%,#00b5ff 83.3%,#009fff 83.3%,#009fff 85.4%,#008aff 85.4%,#008aff 87.5%,#0075ff 87.5%,#0075ff 89.6%,#0060ff 89.6%,#0060ff 91.7%,#004aff 91.7%,#004aff 93.8%,#0035ff 93.8%,#0035ff 95.8%,#0020ff 95.8%,#0020ff 97.9%,#000bff 97.9%,#000bff 100%)"></div>
<div class="hm" style="left:771px;top:621px;width:211px;height:203px"><i style="height:2px;background:linear-gradient(90deg,#ff0f00 0px,#ff1700 48px,#ff7f00 70px,#fffc00 83px,#51ff00 95px,#01ff00 102px,#00ff64 109px,#0fc 115px,#00fff8 119px,#00a0ff 132px,#0003ff 166px,#00f 211px)"></i><i style="height:2px;background:linear-gradient(90deg,#ff0f00 0px,#ff1600 48px,#ff7e00 70px,#fffa00 83px,#53ff00 95px,#02ff00 102px,#00ff52 108px,#00ffca 115px,#00fff6 119px,#00a1ff 132px,#0001ff 167px,#00f 211px)"></i><i style="height:2px;background:linear-gradient(90deg,#ff0f00 0px,#ff1600 48px,#ff7d00 70px,#fff800 83px,#edff00 85px,#5f0 95px,#04ff00 102px,#00ff4f 108px,#00ffc7 115px,#00fffe 120px,#00a3ff 132px,#0002ff 167px,#00f 211px)"></i><i style="height:2px;background:linear-gradient(90deg,#ff0f00 0px,#ff1500 48px,#ff7c00 70px,#fff600 83px,#fcff00 84px,#57ff00 95px,#05ff00 102px,#00ff4d 108px,#00ffc4 115px,#00fffc 120px,#00a4ff 132px,#0004ff 167px,#00f 211px)"></i><i style="height:2px;background:linear-gradient(90deg,#ff0e00 0px,#ff1800 49px,#ff7b00 70px,#feff00 84px,#59ff00 95px,#07ff00 102px,#00ff3b 107px,#00ffcf 116px,#00fffa 120px,#00a0ff 133px,#0002ff 168px,#00f 211px)"></i><i style="height:2px;background:linear-gradient(90deg,#ff0e00 0px,#ff1700 49px,#ff7a00 70px,#fffe00 84px,#4eff00 96px,#00ff02 103px,#0f6 110px,#00ffbe 115px,#00fff8 120px,#00a1ff 133px,#0003ff 168px,#00f 211px)"></i><i style="height:2px;background:linear-gradient(90deg,#ff0e00 0px,#ff1700 49px,#ff7900 70px,#fffc00 84px,#50ff00 96px,#0f0 103px,#00ff63 110px,#00ffca 116px,#00fff6 120px,#00a2ff 133px,#0001ff 169px,#00f 211px)"></i><i style="height:2px;background:linear-gradient(90deg,#ff0e00 0px,#ff1600 49px,#ff7e00 71px,#fffb00 84px,#52ff00 96px,#02ff00 103px,#00ff61 110px,#00ffc8 116px,#00fffe 121px,#00a4ff 133px,#0002ff 169px,#00f 211px)"></i><i style="height:2px;background:linear-gradient(90deg,#ff0d00 0px,#ff1600 49px,#ff7d00 71px,#fff900 84px,#ecff00 86px,#54ff00 96px,#03ff00 103px,#00ff4f 109px,#00ffc5 116px,#00fffc 121px,#00a0ff 134px,#0003ff 169px,#00f 211px)"></i><i style="height:2px;background:linear-gradient(90deg,#ff0d00 0px,#ff1500 49px,#ff7c00 71px,#fff700 84px,#ef0 86px,#49ff00 97px,#05ff00 103px,#00ff4c 109px,#00ffc2 116px,#00fffa 121px,#00a1ff 134px,#0001ff 170px,#00f 211px)"></i><i style="height:2px;background:linear-gradient(90deg,#ff0d00 0px,#ff0d00 44px,#ff1800 50px,#ff7b00 71px,#fdff00 85px,#58ff00 96px,#06ff00 103px,#00ff4a 109px,#00ffcd 117px,#00fff8 121px,#00a2ff 134px,#0002ff 170px,#00f 211px)"></i><i style="height:2px;background:linear-gradient(90deg,#ff0d00 0px,#ff0d00 44px,#ff1700 50px,#ff7a00 71px,#ff0 85px,#5bff00 96px,#08ff00 103px,#00ff1d 106px,#00ffcb 117px,#00fff6 121px,#00a4ff 134px,#0003ff 170px,#00f 211px)"></i><i style="height:2px;background:linear-gradient(90deg,#ff0c00 0px,#ff0c00 44px,#ff1700 50px,#ff7900 71px,#fffd00 85px,#4fff00 97px,#00ff01 104px,#00ff63 111px,#00ffc8 117px,#00fffd 122px,#00a0ff 135px,#0001ff 171px,#00f 211px)"></i><i style="height:2px;background:linear-gradient(90deg,#ff0c00 0px,#ff1600 50px,#ff7f00 72px,#fffb00 85px,#51ff00 97px,#01ff00 104px,#00ff60 111px,#00ffc5 117px,#00fffc 122px,#00a1ff 135px,#0002ff 171px,#00f 211px)"></i><i style="height:2px;background:linear-gradient(90deg,#ff0c00 0px,#ff1600 50px,#ff7e00 72px,#fffa00 85px,#53ff00 97px,#02ff00 104px,#00ff5d 111px,#00ffc3 117px,#00fffa 122px,#00a2ff 135px,#0003ff 171px,#00f 211px)"></i><i style="height:2px;background:linear-gradient(90deg,#ff0c00 0px,#ff1600 50px,#ff7d00 72px,#fff800 85px,#edff00 87px,#56ff00 97px,#04ff00 104px,#00ff4c 110px,#00ffcd 118px,#00fff8 122px,#00a3ff 135px,#0001ff 172px,#00f 211px)"></i><i style="height:2px;background:linear-gradient(90deg,#ff0c00 0px,#ff1500 50px,#ff7c00 72px,#fdff00 86px,#58ff00 97px,#06ff00 104px,#00ff49 110px,#00ffcb 118px,#0ff 123px,#00a5ff 135px,#0002ff 172px,#00f 211px)"></i><i style="height:2px;background:linear-gradient(90deg,#ff0b00 0px,#ff0b00 44px,#ff1800 51px,#ff7b00 72px,#feff00 86px,#5aff00 97px,#07ff00 104px,#00ff47 110px,#00ffc8 118px,#00fffd 123px,#00a1ff 136px,#0003ff 172px,#00f 211px)"></i><i style="height:2px;background:linear-gradient(90deg,#ff0b00 0px,#ff0b00 44px,#ff1700 51px,#ff7a00 72px,#fffe00 86px,#4eff00 98px,#00ff02 105px,#00ff62 112px,#00ffc6 118px,#00fffb 123px,#00a2ff 136px,#0001ff 173px,#00f 211px)"></i><i style="height:2px;background:linear-gradient(90deg,#ff0b00 0px,#ff0b00 44px,#ff1700 51px,#ff7f00 73px,#fffc00 86px,#50ff00 98px,#0f0 105px,#00ff5f 112px,#00ffc3 118px,#00fff9 123px,#00a3ff 136px,#0002ff 173px,#00f 211px)"></i><i style="height:2px;background:linear-gradient(90deg,#ff0b00 0px,#ff0b00 44px,#ff1600 51px,#ff7e00 73px,#fffa00 86px,#53ff00 98px,#02ff00 105px,#00ff5d 112px,#00ffc0 118px,#00fff7 123px,#00a0ff 137px,#0003ff 173px,#00f 211px)"></i><i style="height:2px;background:linear-gradient(90deg,#ff0a00 0px,#ff0b00 44px,#ff1600 51px,#ff7d00 73px,#fff900 86px,#ecff00 88px,#5f0 98px,#03ff00 105px,#00ff5a 112px,#00ffcb 119px,#0ff 124px,#00a1ff 137px,#0001ff 174px,#00f 211px)"></i><i style="height:2px;background:linear-gradient(90deg,#ff0a00 0px,#ff0a00 43px,#ff1500 51px,#ff7c00 73px,#fff700 86px,#efff00 88px,#4aff00 99px,#05ff00 105px,#00ff49 111px,#00ffc9 119px,#00fffd 124px,#00a2ff 137px,#0002ff 174px,#00f 211px)"></i><i style="height:2px;background:linear-gradient(90deg,#ff0900 0px,#ff0900 43px,#ff1700 52px,#ff7f00 74px,#fffb00 87px,#52ff00 99px,#02ff00 106px,#00ff5c 113px,#00ffbf 119px,#00fff6 124px,#00a0ff 138px,#0005ff 174px,#0002ff 211px)"></i><i style="height:2px;background:linear-gradient(90deg,#ff0800 0px,#ff0800 42px,#ff1600 52px,#ff7c00 74px,#ff0 88px,#5bff00 99px,#00ff01 107px,#00ff60 114px,#00ffc3 120px,#00fff9 125px,#00a4ff 138px,#0004ff 175px,#0004ff 211px)"></i><i style="height:2px;background:linear-gradient(90deg,#ff0800 0px,#ff0800 42px,#ff1700 53px,#ff7f00 75px,#fff900 88px,#edff00 90px,#57ff00 100px,#06ff00 107px,#00ff47 113px,#00ffc7 121px,#00fffb 126px,#00a3ff 139px,#0006ff 175px,#0005ff 211px)"></i><i style="height:2px;background:linear-gradient(90deg,#ff0700 0px,#ff0700 41px,#ff1600 53px,#ff7b00 75px,#fffd00 89px,#f5ff00 90px,#53ff00 101px,#00ff08 109px,#00ffca 122px,#00fffe 127px,#00a1ff 140px,#000aff 175px,#0007ff 211px)"></i><i style="height:2px;background:linear-gradient(90deg,#ff0600 0px,#ff0600 40px,#ff1800 54px,#ff7e00 76px,#fdff00 90px,#5cff00 101px,#01ff00 109px,#00ff5d 116px,#00ffc0 122px,#00feff 128px,#00a5ff 140px,#0009ff 176px,#0009ff 211px)"></i><i style="height:2px;background:linear-gradient(90deg,#ff0500 0px,#ff0500 39px,#ff1700 54px,#ff7a00 76px,#f9ff00 91px,#58ff00 102px,#00ff02 110px,#00ff61 117px,#00ffc4 123px,#00fbff 129px,#00a4ff 141px,#000cff 176px,#000bff 211px)"></i><i style="height:2px;background:linear-gradient(90deg,#ff0400 0px,#ff0400 38px,#ff1500 54px,#ff7d00 77px,#fffe00 91px,#f4ff00 92px,#54ff00 103px,#00ff05 111px,#00ff65 118px,#00ffc8 124px,#00f9ff 130px,#00a2ff 142px,#000dff 177px,#000dff 211px)"></i><i style="height:2px;background:linear-gradient(90deg,#ff0300 0px,#ff0300 37px,#ff1700 55px,#ff7a00 77px,#fcff00 92px,#50ff00 104px,#00ff09 112px,#0fc 125px,#0ff 130px,#00a1ff 143px,#000eff 177px,#000eff 211px)"></i><i style="height:2px;background:linear-gradient(90deg,#ff0200 0px,#ff0200 35px,#ff1600 55px,#ff7d00 78px,#f7ff00 93px,#59ff00 104px,#0f0 112px,#00ff5e 119px,#00ffc2 125px,#00fdff 131px,#00a5ff 143px,#0012ff 177px,#0010ff 211px)"></i><i style="height:2px;background:linear-gradient(90deg,#ff0100 0px,#ff0100 34px,#ff1700 56px,#ff7900 78px,#feff00 93px,#5f0 105px,#00ff03 113px,#00ff62 120px,#00ffc6 126px,#00faff 132px,#00a3ff 144px,#0012ff 178px,#0012ff 211px)"></i><i style="height:2px;background:linear-gradient(90deg,#f00 0px,#ff0100 33px,#ff1600 56px,#ff7c00 79px,#faff00 94px,#51ff00 106px,#00ff07 114px,#00ffc9 127px,#00fffd 132px,#00a2ff 145px,#0015ff 178px,#0014ff 211px)"></i><i style="height:2px;background:linear-gradient(90deg,#f00 0px,#f00 33px,#ff1700 57px,#ff7e00 80px,#f6ff00 95px,#5aff00 106px,#02ff00 114px,#00ff5a 121px,#00ffca 128px,#00fffd 133px,#00a3ff 146px,#0015ff 180px,#0015ff 211px)"></i><i style="height:2px;background:linear-gradient(90deg,#f00 0px,#f00 33px,#ff1800 58px,#ff7a00 80px,#ff0 95px,#56ff00 107px,#00ff01 115px,#00ff5c 122px,#00ffca 129px,#00f9ff 135px,#00a0ff 148px,#0016ff 182px,#0016ff 211px)"></i><i style="height:2px;background:linear-gradient(90deg,#f00 0px,#f00 34px,#ff1600 58px,#ff7b00 81px,#fcff00 96px,#53ff00 108px,#00ff04 116px,#00ff5e 123px,#00ffc9 130px,#00fbff 136px,#00a2ff 149px,#001aff 183px,#0017ff 211px)"></i><i style="height:2px;background:linear-gradient(90deg,#f00 0px,#f00 35px,#ff1700 59px,#ff7d00 82px,#f9ff00 97px,#4fff00 109px,#00ff07 117px,#00ffc9 131px,#00fcff 137px,#00a4ff 150px,#001aff 185px,#0018ff 211px)"></i><i style="height:2px;background:linear-gradient(90deg,#f00 0px,#f00 35px,#ff1500 59px,#ff7900 82px,#fffd00 97px,#f5ff00 98px,#59ff00 109px,#01ff00 117px,#00ff61 125px,#00ffc9 132px,#00fdff 138px,#00a1ff 152px,#001bff 187px,#0019ff 211px)"></i><i style="height:2px;background:linear-gradient(90deg,#f00 0px,#f00 36px,#ff1500 60px,#ff7a00 83px,#feff00 98px,#5f0 110px,#00ff02 118px,#00ff62 126px,#00ffc8 133px,#0ff 139px,#00a3ff 153px,#001bff 189px,#001aff 211px)"></i><i style="height:2px;background:linear-gradient(90deg,#f00 0px,#f00 37px,#ff1600 61px,#ff7c00 84px,#fbff00 99px,#52ff00 111px,#00ff05 119px,#00ff64 127px,#00ffc8 134px,#00fffe 140px,#00a5ff 154px,#001cff 191px,#001aff 211px)"></i><i style="height:2px;background:linear-gradient(90deg,#f00 0px,#f00 38px,#ff1400 61px,#ff3700 71px,#ff7e00 85px,#f8ff00 100px,#4eff00 112px,#00ff07 120px,#00ffc8 135px,#00fffd 141px,#00a3ff 156px,#001cff 193px,#001bff 211px)"></i><i style="height:2px;background:linear-gradient(90deg,#f00 0px,#f00 38px,#ff1500 62px,#ff7900 85px,#fffe00 100px,#f4ff00 101px,#57ff00 112px,#0f0 120px,#00ff67 129px,#00ffc8 136px,#00faff 143px,#00a4ff 157px,#001dff 195px,#001cff 211px)"></i><i style="height:2px;background:linear-gradient(90deg,#f00 0px,#f00 39px,#ff1600 63px,#ff7b00 86px,#fdff00 101px,#54ff00 113px,#00ff03 121px,#00ff68 130px,#00ffc7 137px,#00fbff 144px,#00a2ff 159px,#001dff 197px,#001dff 211px)"></i><i style="height:2px;background:linear-gradient(90deg,#f00 0px,#f00 40px,#ff1400 63px,#ff3600 73px,#ff7c00 87px,#faff00 102px,#51ff00 114px,#00ff05 122px,#00ff69 131px,#00ffc7 138px,#00fcff 145px,#00a4ff 160px,#0042ff 188px,#001eff 199px,#001eff 211px)"></i><i style="height:2px;background:linear-gradient(90deg,#f00 0px,#f00 40px,#ff1500 64px,#ff7800 87px,#f6ff00 103px,#5aff00 114px,#02ff00 122px,#00ff5e 131px,#00ffc7 139px,#00feff 146px,#009aff 164px,#001eff 201px,#001eff 211px)"></i><i style="height:2px;background:linear-gradient(90deg,#f00 0px,#f00 41px,#ff1600 65px,#ff7a00 88px,#ff0 103px,#57ff00 115px,#01ff00 123px,#00ff5f 132px,#00ffc6 140px,#0ff 147px,#009bff 165px,#001dff 203px,#001dff 211px)"></i><i style="height:2px;background:linear-gradient(90deg,#f00 0px,#f00 41px,#ff1500 65px,#ff3700 75px,#ff7c00 89px,#fcff00 104px,#5f0 116px,#00ff01 124px,#00ff5f 133px,#00ffc6 141px,#00fffe 148px,#009dff 166px,#001dff 205px,#001cff 211px)"></i><i style="height:2px;background:linear-gradient(90deg,#f00 0px,#f00 42px,#ff1600 66px,#ff7900 89px,#f9ff00 105px,#52ff00 117px,#00ff03 125px,#00ff60 134px,#00ffc5 142px,#00fffd 149px,#009eff 167px,#001dff 207px,#001cff 211px)"></i><i style="height:2px;background:linear-gradient(90deg,#f00 0px,#f00 42px,#ff1500 66px,#ff7b00 90px,#f6ff00 106px,#50ff00 118px,#00ff04 126px,#00ff61 135px,#00ffc4 143px,#00fffc 150px,#00a3ff 167px,#001bff 211px)"></i><i style="height:2px;background:linear-gradient(90deg,#f00 0px,#f00 42px,#ff1600 67px,#ff7d00 91px,#feff00 106px,#4dff00 119px,#00ff06 127px,#00ff61 136px,#00ffc4 144px,#00fcff 152px,#00a4ff 168px,#001cff 211px)"></i><i style="height:2px;background:linear-gradient(90deg,#f00 0px,#f00 43px,#ff1400 67px,#ff7900 91px,#fbff00 107px,#57ff00 119px,#02ff00 127px,#00ff62 137px,#00ffc3 145px,#00fdff 153px,#00a2ff 170px,#02f 211px)"></i><i style="height:2px;background:linear-gradient(90deg,#f00 0px,#f00 43px,#ff1600 68px,#ff7b00 92px,#f8ff00 108px,#61ff00 119px,#0f0 128px,#00ff62 138px,#00ffc3 146px,#00feff 154px,#00a3ff 171px,#0027ff 211px)"></i><i style="height:2px;background:linear-gradient(90deg,#f00 0px,#f00 43px,#ff1400 68px,#ff3900 79px,#ff7d00 93px,#fffe00 108px,#f5ff00 109px,#5eff00 120px,#00ff01 129px,#00ff63 139px,#00ffc2 147px,#0ff 155px,#00a4ff 172px,#002cff 211px)"></i><i style="height:2px;background:linear-gradient(90deg,#f00 0px,#f00 44px,#ff1500 69px,#ff7900 93px,#fdff00 109px,#4fff00 122px,#00ff02 130px,#00ff63 140px,#00ffc2 148px,#00fffe 156px,#00a6ff 173px,#0032ff 211px)"></i><i style="height:2px;background:linear-gradient(90deg,#f00 0px,#f00 44px,#ff1400 69px,#ff3800 80px,#ff7b00 94px,#faff00 110px,#4dff00 123px,#00ff04 131px,#00ff64 141px,#00ffc1 149px,#00fffe 157px,#00a3ff 175px,#0037ff 211px)"></i><i style="height:2px;background:linear-gradient(90deg,#f00 0px,#f00 45px,#ff1500 70px,#ff7d00 95px,#f7ff00 111px,#4aff00 124px,#00ff05 132px,#00ffcb 151px,#00fffd 158px,#00a4ff 176px,#003cff 211px)"></i><i style="height:2px;background:linear-gradient(90deg,#f00 0px,#f00 45px,#ff1400 70px,#ff3800 81px,#ff7a00 95px,#ff0 111px,#60ff00 123px,#02ff00 132px,#00ff5b 142px,#00ffcb 152px,#00fffc 159px,#00a5ff 177px,#0040ff 211px)"></i><i style="height:2px;background:linear-gradient(90deg,#f00 0px,#f00 46px,#ff1500 71px,#ff7b00 96px,#fcff00 112px,#5dff00 124px,#0f0 133px,#0f6 144px,#00ffc1 152px,#00fffc 160px,#00a6ff 178px,#04f 211px)"></i><i style="height:2px;background:linear-gradient(90deg,#f00 0px,#f00 46px,#ff1400 71px,#ff3700 82px,#ff7e00 97px,#f9ff00 113px,#5bff00 125px,#00ff01 134px,#00ff67 145px,#00ffc2 153px,#00fffc 161px,#00a6ff 179px,#0048ff 211px)"></i><i style="height:2px;background:linear-gradient(90deg,#f00 0px,#f00 46px,#ff1500 72px,#ff7a00 97px,#f6ff00 114px,#58ff00 126px,#00ff02 135px,#00ff68 146px,#00ffc2 154px,#00fffc 162px,#00a7ff 180px,#004cff 211px)"></i><i style="height:2px;background:linear-gradient(90deg,#f00 0px,#f00 47px,#ff1400 72px,#ff3600 83px,#ff7c00 98px,#feff00 114px,#56ff00 127px,#00ff04 136px,#00ffcb 156px,#00fcff 164px,#00a8ff 181px,#0050ff 211px)"></i><i style="height:2px;background:linear-gradient(90deg,#f00 0px,#f00 47px,#ff1500 73px,#ff3800 84px,#ff7e00 99px,#fbff00 115px,#53ff00 128px,#00ff05 137px,#00ffcb 157px,#00fdff 165px,#00a8ff 182px,#0054ff 211px)"></i><i style="height:2px;background:linear-gradient(90deg,#f00 0px,#f00 47px,#ff1400 73px,#ff3600 84px,#ff7a00 99px,#f8ff00 116px,#5cff00 128px,#02ff00 137px,#00ff60 148px,#0fc 158px,#00fdff 166px,#00a5ff 184px,#0059ff 211px)"></i><i style="height:2px;background:linear-gradient(90deg,#f00 0px,#f00 48px,#ff1500 74px,#ff3700 85px,#ff7c00 100px,#fffe00 116px,#f5ff00 117px,#5aff00 129px,#0f0 138px,#00ff61 149px,#00ffc3 158px,#00fdff 167px,#00a6ff 185px,#005dff 211px)"></i><i style="height:2px;background:linear-gradient(90deg,#f00 0px,#f00 48px,#ff1400 74px,#ff3500 85px,#ff7900 100px,#fdff00 117px,#57ff00 130px,#00ff01 139px,#00ff62 150px,#00ffc3 159px,#00fdff 168px,#00a7ff 186px,#0061ff 211px)"></i><i style="height:2px;background:linear-gradient(90deg,#f00 0px,#f00 49px,#ff1500 75px,#ff7a00 101px,#faff00 118px,#5f0 131px,#00ff02 140px,#00ff63 151px,#00ffc3 160px,#00feff 169px,#00a7ff 187px,#0065ff 211px)"></i><i style="height:2px;background:linear-gradient(90deg,#f00 0px,#f00 49px,#ff1300 75px,#ff3800 87px,#ff7c00 102px,#f7ff00 119px,#53ff00 132px,#00ff04 141px,#00ff64 152px,#00ffc4 161px,#00feff 170px,#00a8ff 188px,#0069ff 211px)"></i><i style="height:2px;background:linear-gradient(90deg,#f00 0px,#f00 49px,#ff1400 75px,#ff7900 101px,#feff00 118px,#59ff00 131px,#01ff00 140px,#00ff5f 151px,#00ffc8 161px,#00fffe 169px,#00a9ff 187px,#0067ff 211px)"></i><i style="height:2px;background:linear-gradient(90deg,#f00 0px,#f00 49px,#ff1500 75px,#ff7c00 101px,#f7ff00 118px,#51ff00 131px,#00ff05 140px,#00ff67 151px,#00ffc7 160px,#00fffd 168px,#00a9ff 186px,#0063ff 211px)"></i><i style="height:2px;background:linear-gradient(90deg,#f00 0px,#f00 48px,#ff1400 74px,#ff3600 85px,#ff7900 100px,#fbff00 117px,#5f0 130px,#00ff03 139px,#00ff65 150px,#00ffc6 159px,#00fffd 167px,#00a8ff 185px,#005fff 211px)"></i><i style="height:2px;background:linear-gradient(90deg,#f00 0px,#f00 48px,#ff1500 74px,#ff3700 85px,#ff7c00 100px,#ff0 116px,#58ff00 129px,#00ff01 138px,#00ff63 149px,#00ffc5 158px,#00fffd 166px,#00a8ff 184px,#005bff 211px)"></i><i style="height:2px;background:linear-gradient(90deg,#f00 0px,#f00 48px,#ff1300 73px,#ff3500 84px,#ff7a00 99px,#f8ff00 116px,#5cff00 128px,#01ff00 137px,#00ff61 148px,#00ffc4 157px,#00fffc 165px,#00a8ff 183px,#0057ff 211px)"></i><i style="height:2px;background:linear-gradient(90deg,#f00 0px,#f00 47px,#ff1400 73px,#ff3700 84px,#ff7d00 99px,#fdff00 115px,#54ff00 128px,#00ff05 137px,#00ff69 148px,#00ffc3 156px,#00fffc 164px,#00a8ff 182px,#0053ff 211px)"></i><i style="height:2px;background:linear-gradient(90deg,#f00 0px,#f00 47px,#ff1500 73px,#ff7a00 98px,#f6ff00 115px,#58ff00 127px,#00ff02 136px,#00ff68 147px,#00ffcb 156px,#00fcff 164px,#00a7ff 181px,#0050ff 211px)"></i><i style="height:2px;background:linear-gradient(90deg,#f00 0px,#f00 47px,#ff1400 72px,#ff3700 83px,#ff7d00 98px,#faff00 114px,#5bff00 126px,#0f0 135px,#0f6 146px,#00ffca 155px,#00fdff 163px,#00a7ff 180px,#004cff 211px)"></i><i style="height:2px;background:linear-gradient(90deg,#f00 0px,#f00 47px,#ff1500 72px,#ff7b00 97px,#feff00 113px,#5fff00 125px,#02ff00 134px,#00ff5a 144px,#00ffc9 154px,#00fdff 162px,#00a7ff 179px,#0048ff 211px)"></i><i style="height:2px;background:linear-gradient(90deg,#f00 0px,#f00 46px,#ff1400 71px,#ff3700 82px,#ff7800 96px,#f7ff00 113px,#57ff00 125px,#00ff04 134px,#00ff62 144px,#00ffc8 153px,#00feff 161px,#00a7ff 178px,#04f 211px)"></i><i style="height:2px;background:linear-gradient(90deg,#f00 0px,#f00 46px,#ff1500 71px,#ff7b00 96px,#fbff00 112px,#5bff00 124px,#00ff02 133px,#00ff60 143px,#00ffc6 152px,#00feff 160px,#00a6ff 177px,#0040ff 211px)"></i><i style="height:2px;background:linear-gradient(90deg,#f00 0px,#f00 45px,#ff1400 70px,#ff3700 81px,#ff7900 95px,#ff0 111px,#5eff00 123px,#0f0 132px,#00ff5e 142px,#00ffc6 151px,#00fdff 159px,#00a5ff 176px,#003dff 211px)"></i><i style="height:2px;background:linear-gradient(90deg,#f00 0px,#f00 45px,#ff1500 70px,#ff7d00 95px,#f7ff00 111px,#4aff00 124px,#00ff06 132px,#00ff68 142px,#00ffc7 150px,#00fffc 157px,#00a3ff 175px,#003cff 211px)"></i><i style="height:2px;background:linear-gradient(90deg,#f00 0px,#f00 44px,#ff1500 69px,#ff7c00 94px,#faff00 110px,#59ff00 122px,#00ff04 131px,#00ff68 141px,#00ffc8 149px,#00fffd 156px,#00a1ff 174px,#003cff 206px,#003bff 211px)"></i><i style="height:2px;background:linear-gradient(90deg,#f00 0px,#f00 43px,#ff1400 68px,#ff3800 79px,#ff7a00 93px,#fdff00 109px,#5cff00 121px,#00ff01 130px,#00ff67 140px,#00ffc9 148px,#0ff 155px,#009fff 173px,#003bff 204px,#003aff 211px)"></i><i style="height:2px;background:linear-gradient(90deg,#f00 0px,#f00 43px,#ff1600 68px,#ff7900 92px,#ff0 108px,#f4ff00 109px,#5fff00 120px,#01ff00 129px,#00ff5b 138px,#00ffca 147px,#00fdff 154px,#009cff 172px,#003bff 202px,#0039ff 211px)"></i><i style="height:2px;background:linear-gradient(90deg,#f00 0px,#f00 42px,#ff1500 67px,#ff7d00 92px,#f8ff00 108px,#4bff00 121px,#00ff06 129px,#00ffcb 146px,#00fbff 153px,#009aff 171px,#003aff 200px,#0038ff 211px)"></i><i style="height:2px;background:linear-gradient(90deg,#f00 0px,#f00 41px,#ff1400 66px,#ff3900 77px,#ff7b00 91px,#fbff00 107px,#5aff00 119px,#00ff03 128px,#00ff65 137px,#00ffc2 144px,#00fffd 151px,#00a7ff 166px,#0043ff 195px,#0037ff 211px)"></i><i style="height:2px;background:linear-gradient(90deg,#f00 0px,#f00 40px,#ff1600 66px,#ff7a00 90px,#feff00 106px,#5dff00 118px,#0f0 127px,#00ff64 136px,#00ffc3 143px,#0ff 150px,#00a5ff 165px,#0038ff 196px,#0036ff 211px)"></i><i style="height:2px;background:linear-gradient(90deg,#f00 0px,#f00 40px,#ff1500 65px,#ff7800 89px,#fffe00 105px,#f5ff00 106px,#61ff00 117px,#02ff00 126px,#00ff57 134px,#00ffc4 142px,#00fdff 149px,#00a7ff 163px,#0037ff 194px,#0035ff 211px)"></i><i style="height:2px;background:linear-gradient(90deg,#f00 0px,#f00 39px,#ff1500 64px,#ff7c00 89px,#f9ff00 105px,#58ff00 117px,#00ff05 126px,#00ff62 134px,#00ffc5 141px,#00fbff 148px,#00a4ff 162px,#0036ff 192px,#0035ff 211px)"></i><i style="height:2px;background:linear-gradient(90deg,#f00 0px,#f00 38px,#ff1700 64px,#ff7b00 88px,#fcff00 104px,#5bff00 116px,#00ff02 125px,#00ff61 133px,#00ffc6 140px,#00fffd 146px,#00a6ff 160px,#0035ff 190px,#0034ff 211px)"></i><i style="height:2px;background:linear-gradient(90deg,#f00 0px,#f00 38px,#ff1600 63px,#ff7900 87px,#fffe00 103px,#f5ff00 104px,#60ff00 115px,#01ff00 124px,#00ff5e 132px,#00ffc5 139px,#00fffd 145px,#00a5ff 159px,#0036ff 188px,#03f 211px)"></i><i style="height:2px;background:linear-gradient(90deg,#f00 0px,#f00 37px,#ff1600 63px,#ff7a00 87px,#fcff00 103px,#5cff00 115px,#00ff02 124px,#00ff63 132px,#00ffc9 139px,#00feff 145px,#00a2ff 159px,#03f 188px,#03f 211px)"></i><i style="height:2px;background:linear-gradient(90deg,#f00 0px,#f00 37px,#ff1700 63px,#ff7c00 87px,#f9ff00 103px,#58ff00 115px,#00ff05 124px,#00ffce 139px,#00faff 145px,#00a5ff 158px,#0035ff 187px,#03f 211px)"></i><i style="height:2px;background:linear-gradient(90deg,#f00 0px,#f00 37px,#ff1500 62px,#ff7800 86px,#fffe00 102px,#f5ff00 103px,#61ff00 114px,#02ff00 123px,#00ff5f 131px,#00ffc7 138px,#0ff 144px,#00a2ff 158px,#0036ff 186px,#03f 211px)"></i><i style="height:2px;background:linear-gradient(90deg,#f00 0px,#f00 36px,#ff1600 62px,#ff7a00 86px,#fdff00 102px,#5dff00 114px,#00ff01 123px,#00ff64 131px,#00ffcb 138px,#00fcff 144px,#00a5ff 157px,#0034ff 186px,#03f 211px)"></i><i style="height:2px;background:linear-gradient(90deg,#f00 0px,#f00 36px,#ff1700 62px,#ff7c00 86px,#faff00 102px,#59ff00 114px,#00ff04 123px,#00ff68 131px,#00ffc4 137px,#00fffe 143px,#00a3ff 157px,#0035ff 185px,#03f 211px)"></i><i style="height:2px;background:linear-gradient(90deg,#f00 0px,#f00 36px,#ff1500 61px,#ff7e00 86px,#f6ff00 102px,#49ff00 115px,#00ff08 123px,#00ffc9 137px,#00fdff 143px,#00a5ff 156px,#03f 185px,#03f 211px)"></i><i style="height:2px;background:linear-gradient(90deg,#f00 0px,#f00 36px,#ff1600 61px,#ff7a00 85px,#feff00 101px,#5eff00 113px,#0f0 122px,#00ff64 130px,#00ffc1 136px,#00fffc 142px,#00a3ff 156px,#0034ff 184px,#03f 211px)"></i><i style="height:2px;background:linear-gradient(90deg,#f00 0px,#f00 35px,#ff1700 61px,#ff7b00 85px,#faff00 101px,#5aff00 113px,#00ff04 122px,#00ff69 130px,#00ffc6 136px,#00feff 142px,#00a5ff 155px,#0036ff 183px,#03f 211px)"></i><i style="height:2px;background:linear-gradient(90deg,#f00 0px,#f00 35px,#ff1800 61px,#ff7d00 85px,#f7ff00 101px,#4aff00 114px,#00ff07 122px,#00ffca 136px,#00fbff 142px,#00a3ff 155px,#03f 183px,#03f 211px)"></i><i style="height:2px;background:linear-gradient(90deg,#f00 0px,#f00 35px,#ff1600 60px,#ff7900 84px,#feff00 100px,#5eff00 112px,#0f0 121px,#00ff65 129px,#00ffc3 135px,#00fffe 141px,#00a5ff 154px,#0035ff 182px,#03f 211px)"></i><i style="height:1px;background:linear-gradient(90deg,#f00 0px,#f00 34px,#ff1700 60px,#ff7b00 84px,#fcff00 100px,#5bff00 112px,#00ff02 121px,#00ff69 129px,#00ffc6 135px,#00fdff 141px,#00a4ff 154px,#03f 182px,#03f 211px)"></i></div>
<div class="cb" style="left:1016px;top:621px;width:16px;height:203px;background:linear-gradient(180deg,#ff0b00 0%,#ff0b00 2.1%,#ff2000 2.1%,#ff2000 4.2%,#ff3500 4.2%,#ff3500 6.2%,#ff4a00 6.2%,#ff4a00 8.3%,#ff6000 8.3%,#ff6000 10.4%,#ff7500 10.4%,#ff7500 12.5%,#ff8a00 12.5%,#ff8a00 14.6%,#ff9f00 14.6%,#ff9f00 16.7%,#ffb500 16.7%,#ffb500 18.8%,#ffca00 18.8%,#ffca00 20.8%,#ffdf00 20.8%,#ffdf00 22.9%,#fff400 22.9%,#fff400 25%,#f4ff00 25%,#f4ff00 27.1%,#dfff00 27.1%,#dfff00 29.2%,#caff00 29.2%,#caff00 31.2%,#b5ff00 31.2%,#b5ff00 33.3%,#9fff00 33.3%,#9fff00 35.4%,#8aff00 35.4%,#8aff00 37.5%,#75ff00 37.5%,#75ff00 39.6%,#60ff00 39.6%,#60ff00 41.7%,#4aff00 41.7%,#4aff00 43.8%,#35ff00 43.8%,#35ff00 45.8%,#20ff00 45.8%,#20ff00 47.9%,#0bff00 47.9%,#0bff00 50%,#00ff0b 50%,#00ff0b 52.1%,#00ff20 52.1%,#00ff20 54.2%,#00ff35 54.2%,#00ff35 56.2%,#00ff4a 56.2%,#00ff4a 58.3%,#00ff60 58.3%,#00ff60 60.4%,#00ff75 60.4%,#00ff75 62.5%,#00ff8a 62.5%,#00ff8a 64.6%,#00ff9f 64.6%,#00ff9f 66.7%,#00ffb5 66.7%,#00ffb5 68.8%,#00ffca 68.8%,#00ffca 70.8%,#00ffdf 70.8%,#00ffdf 72.9%,#00fff4 72.9%,#00fff4 75%,#00f4ff 75%,#00f4ff 77.1%,#00dfff 77.1%,#00dfff 79.2%,#00caff 79.2%,#00caff 81.2%,#00b5ff 81.2%,#00b5ff 83.3%,#009fff 83.3%,#009fff 85.4%,#008aff 85.4%,#008aff 87.5%,#0075ff 87.5%,#0075ff 89.6%,#0060ff 89.6%,#0060ff 91.7%,#004aff 91.7%,#004aff 93.8%,#0035ff 93.8%,#0035ff 95.8%,#0020ff 95.8%,#0020ff 97.9%,#000bff 97.9%,#000bff 100%)"></div>
<div class="hm" style="left:55px;top:914px;width:211px;height:202px"><i style="height:2px;background:linear-gradient(90deg,#f30 0px,#ff3400 48px,#ff8100 64px,#fff900 78px,#efff00 80px,#4eff00 92px,#06ff00 99px,#00ff4a 106px,#00ffca 115px,#00fff9 120px,#00a2ff 135px,#0004ff 176px,#00f 211px)"></i><i style="height:2px;background:linear-gradient(90deg,#ff3200 0px,#ff3400 48px,#ff8000 64px,#fff800 78px,#f1ff00 80px,#4fff00 92px,#07ff00 99px,#00ff49 106px,#00ffc9 115px,#00fff8 120px,#00a3ff 135px,#0004ff 176px,#00f 211px)"></i><i style="height:2px;background:linear-gradient(90deg,#ff3100 0px,#f30 48px,#ff7f00 64px,#feff00 79px,#5dff00 91px,#00ff01 100px,#00ff62 108px,#00ffc8 115px,#00fff8 120px,#00a3ff 135px,#0004ff 176px,#00f 211px)"></i><i style="height:2px;background:linear-gradient(90deg,#ff3100 0px,#ff3200 48px,#ff7e00 64px,#ff0 79px,#5eff00 91px,#0f0 100px,#00ff61 108px,#00ffc8 115px,#0ff 121px,#00a3ff 135px,#0004ff 176px,#00f 211px)"></i><i style="height:2px;background:linear-gradient(90deg,#ff3000 0px,#ff3200 48px,#ff8400 65px,#fffd00 79px,#54ff00 92px,#01ff00 100px,#00ff60 108px,#00ffc7 115px,#0ff 121px,#00a3ff 135px,#0004ff 176px,#00f 211px)"></i><i style="height:2px;background:linear-gradient(90deg,#ff3000 0px,#ff3100 48px,#ff8300 65px,#fffc00 79px,#5f0 92px,#02ff00 100px,#00ff5e 108px,#00ffc6 115px,#00fffe 121px,#00a3ff 135px,#0004ff 176px,#00f 211px)"></i><i style="height:2px;background:linear-gradient(90deg,#ff2f00 0px,#ff3000 48px,#ff8100 65px,#fffb00 79px,#57ff00 92px,#03ff00 100px,#00ff5d 108px,#00ffc5 115px,#00fffd 121px,#00a4ff 135px,#0004ff 176px,#00f 211px)"></i><i style="height:2px;background:linear-gradient(90deg,#ff2e00 0px,#ff3000 48px,#ff8000 65px,#fff900 79px,#4cff00 93px,#04ff00 100px,#00ff4f 107px,#00ffc4 115px,#00fffd 121px,#00a4ff 135px,#0004ff 176px,#00f 211px)"></i><i style="height:2px;background:linear-gradient(90deg,#ff2e00 0px,#ff2f00 48px,#ff7f00 65px,#fff800 79px,#f0ff00 81px,#4dff00 93px,#05ff00 100px,#00ff4e 107px,#00ffc3 115px,#00fffc 121px,#00a4ff 135px,#0004ff 176px,#00f 211px)"></i><i style="height:2px;background:linear-gradient(90deg,#ff2d00 0px,#ff2e00 48px,#ff7e00 65px,#feff00 80px,#5bff00 92px,#06ff00 100px,#00ff4c 107px,#00ffce 116px,#00fffc 121px,#00a4ff 135px,#0004ff 176px,#00f 211px)"></i><i style="height:2px;background:linear-gradient(90deg,#ff2d00 0px,#ff2d00 48px,#ff7d00 65px,#ff0 80px,#5cff00 92px,#07ff00 100px,#00ff3e 106px,#00ffcd 116px,#00fffb 121px,#00a5ff 135px,#0004ff 176px,#00f 211px)"></i><i style="height:2px;background:linear-gradient(90deg,#ff2c00 0px,#ff2d00 48px,#ff8300 66px,#fffe00 80px,#52ff00 93px,#00ff02 101px,#00ff64 109px,#00ffbf 115px,#00fffb 121px,#00a0ff 136px,#0003ff 176px,#00f 211px)"></i><i style="height:2px;background:linear-gradient(90deg,#ff2b00 0px,#ff2c00 48px,#ff8200 66px,#fffc00 80px,#53ff00 93px,#00ff01 101px,#00ff63 109px,#00ffcb 116px,#00fffa 121px,#00a0ff 136px,#0003ff 176px,#00f 211px)"></i><i style="height:2px;background:linear-gradient(90deg,#ff2b00 0px,#ff2b00 48px,#ff8000 66px,#fffb00 80px,#54ff00 93px,#0f0 101px,#00ff62 109px,#00ffca 116px,#00fff9 121px,#00a1ff 136px,#0003ff 176px,#00f 211px)"></i><i style="height:2px;background:linear-gradient(90deg,#ff2a00 0px,#ff2b00 48px,#ff7f00 66px,#fff900 80px,#56ff00 93px,#01ff00 101px,#00ff61 109px,#00ffc9 116px,#00fff9 121px,#00a1ff 136px,#0003ff 176px,#00f 211px)"></i><i style="height:2px;background:linear-gradient(90deg,#ff2a00 0px,#ff2a00 48px,#ff7e00 66px,#fff800 80px,#f0ff00 82px,#4bff00 94px,#02ff00 101px,#00ff5f 109px,#00ffc8 116px,#00fff8 121px,#00a1ff 136px,#0003ff 176px,#00f 211px)"></i><i style="height:2px;background:linear-gradient(90deg,#ff2900 0px,#ff2900 48px,#ff7d00 66px,#fdff00 81px,#59ff00 93px,#03ff00 101px,#00ff51 108px,#00ffc7 116px,#00fff8 121px,#00a1ff 136px,#0003ff 176px,#00f 211px)"></i><i style="height:2px;background:linear-gradient(90deg,#ff2800 0px,#ff2800 48px,#ff7c00 66px,#ff0 81px,#5aff00 93px,#04ff00 101px,#00ff50 108px,#00ffc6 116px,#00fff7 121px,#00a1ff 136px,#0003ff 176px,#00f 211px)"></i><i style="height:2px;background:linear-gradient(90deg,#ff2800 0px,#ff2800 48px,#ff8200 67px,#fffe00 81px,#5cff00 93px,#05ff00 101px,#00ff4e 108px,#00ffc5 116px,#0ff 122px,#00a2ff 136px,#0003ff 176px,#00f 211px)"></i><i style="height:2px;background:linear-gradient(90deg,#ff2700 0px,#ff2700 48px,#ff8100 67px,#fffc00 81px,#5dff00 93px,#06ff00 101px,#00ff4d 108px,#00ffc4 116px,#00fffe 122px,#00a2ff 136px,#0003ff 176px,#00f 211px)"></i><i style="height:2px;background:linear-gradient(90deg,#ff2700 0px,#ff2700 48px,#ff7f00 67px,#fffb00 81px,#52ff00 94px,#07ff00 101px,#00ff3f 107px,#00ffc3 116px,#00fffe 122px,#00a2ff 136px,#0003ff 176px,#00f 211px)"></i><i style="height:2px;background:linear-gradient(90deg,#ff2600 0px,#ff2600 48px,#ff7e00 67px,#fff900 81px,#54ff00 94px,#00ff01 102px,#0f6 110px,#00ffc2 116px,#00fffd 122px,#00a2ff 136px,#0003ff 176px,#00f 211px)"></i><i style="height:2px;background:linear-gradient(90deg,#ff2500 0px,#ff2500 48px,#ff7d00 67px,#fff800 81px,#efff00 83px,#49ff00 95px,#0f0 102px,#00ff64 110px,#00ffc1 116px,#00fffc 122px,#00a2ff 136px,#0003ff 176px,#00f 211px)"></i><i style="height:2px;background:linear-gradient(90deg,#ff2500 0px,#ff2500 48px,#ff7c00 67px,#fdff00 82px,#57ff00 94px,#01ff00 102px,#00ff63 110px,#00ffc0 116px,#00fffc 122px,#00a3ff 136px,#0003ff 176px,#00f 211px)"></i><i style="height:2px;background:linear-gradient(90deg,#ff2400 0px,#ff2400 48px,#ff8200 68px,#feff00 82px,#58ff00 94px,#02ff00 102px,#00ff54 109px,#00ffcb 117px,#00fffb 122px,#00a3ff 136px,#0003ff 176px,#00f 211px)"></i><i style="height:2px;background:linear-gradient(90deg,#ff2400 0px,#ff2400 48px,#ff8100 68px,#fffe00 82px,#5aff00 94px,#03ff00 102px,#00ff53 109px,#00ffcb 117px,#00fffb 122px,#00a3ff 136px,#0003ff 176px,#00f 211px)"></i><i style="height:2px;background:linear-gradient(90deg,#ff2300 0px,#ff2300 48px,#ff8000 68px,#fffd00 82px,#5bff00 94px,#04ff00 102px,#00ff52 109px,#00ffca 117px,#00fffa 122px,#00a3ff 136px,#0003ff 176px,#00f 211px)"></i><i style="height:2px;background:linear-gradient(90deg,#f20 0px,#f20 48px,#ff7f00 68px,#fffb00 82px,#50ff00 95px,#05ff00 102px,#00ff51 109px,#00ffc9 117px,#00fff9 122px,#00a4ff 136px,#0002ff 176px,#00f 211px)"></i><i style="height:2px;background:linear-gradient(90deg,#f20 0px,#ff2400 49px,#ff7d00 68px,#fffa00 82px,#52ff00 95px,#06ff00 102px,#00ff4f 109px,#00ffc8 117px,#00fff9 122px,#00a4ff 136px,#0002ff 176px,#00f 211px)"></i><i style="height:2px;background:linear-gradient(90deg,#ff2100 0px,#ff2400 49px,#ff7c00 68px,#fff800 82px,#efff00 84px,#53ff00 95px,#07ff00 102px,#00ff41 108px,#00ffc7 117px,#00fff8 122px,#00a4ff 136px,#0002ff 176px,#00f 211px)"></i><i style="height:2px;background:linear-gradient(90deg,#ff2100 0px,#ff2300 49px,#ff7b00 68px,#fdff00 83px,#54ff00 95px,#00ff02 103px,#00ff68 111px,#00ffc6 117px,#00fff8 122px,#00a0ff 137px,#0002ff 176px,#00f 211px)"></i><i style="height:2px;background:linear-gradient(90deg,#ff2000 0px,#f20 49px,#ff8100 69px,#feff00 83px,#56ff00 95px,#00ff01 103px,#00ff67 111px,#00ffc5 117px,#00fff7 122px,#00a0ff 137px,#0002ff 176px,#00f 211px)"></i><i style="height:2px;background:linear-gradient(90deg,#ff1f00 0px,#ff2100 49px,#ff8000 69px,#fffe00 83px,#57ff00 95px,#0f0 103px,#0f6 111px,#00ffc4 117px,#0ff 123px,#00a5ff 136px,#0002ff 176px,#00f 211px)"></i><i style="height:2px;background:linear-gradient(90deg,#ff1f00 0px,#ff2100 49px,#ff7f00 69px,#fffd00 83px,#59ff00 95px,#01ff00 103px,#00ff64 111px,#00ffc2 117px,#00fffe 123px,#00a5ff 136px,#0002ff 176px,#00f 211px)"></i><i style="height:2px;background:linear-gradient(90deg,#ff1e00 0px,#ff2000 49px,#ff7d00 69px,#fffb00 83px,#4eff00 96px,#03ff00 103px,#0f5 110px,#00ffcd 118px,#00fffd 123px,#00a1ff 137px,#0002ff 176px,#00f 211px)"></i><i style="height:2px;background:linear-gradient(90deg,#ff1d00 0px,#ff1f00 49px,#ff7c00 69px,#fff900 83px,#ef0 85px,#51ff00 96px,#04ff00 103px,#00ff52 110px,#00ffcb 118px,#00fffc 123px,#00a2ff 137px,#0003ff 176px,#00f 211px)"></i><i style="height:2px;background:linear-gradient(90deg,#ff1c00 0px,#ff1e00 49px,#ff8000 70px,#fdff00 84px,#60ff00 95px,#06ff00 103px,#00ff43 109px,#00ffc9 118px,#00fffa 123px,#00a2ff 137px,#0003ff 176px,#00f 211px)"></i><i style="height:2px;background:linear-gradient(90deg,#ff1b00 0px,#ff1d00 49px,#ff7f00 70px,#ff0 84px,#62ff00 95px,#07ff00 103px,#00ff41 109px,#00ffc7 118px,#00fff9 123px,#00a3ff 137px,#0004ff 176px,#00f 211px)"></i><i style="height:2px;background:linear-gradient(90deg,#ff1a00 0px,#ff1c00 49px,#ff7d00 70px,#fffc00 84px,#57ff00 96px,#00ff01 104px,#00ff68 112px,#00ffc5 118px,#00fff8 123px,#00a4ff 137px,#0004ff 176px,#00f 211px)"></i><i style="height:2px;background:linear-gradient(90deg,#ff1900 0px,#ff1b00 49px,#ff7c00 70px,#fffa00 84px,#4dff00 97px,#01ff00 104px,#00ff65 112px,#00ffc3 118px,#0ff 124px,#00a5ff 137px,#0002ff 177px,#00f 211px)"></i><i style="height:2px;background:linear-gradient(90deg,#ff1800 0px,#ff1a00 49px,#ff7a00 70px,#fff800 84px,#ef0 86px,#4fff00 97px,#02ff00 104px,#0f5 111px,#00ffc1 118px,#00fffe 124px,#00a1ff 138px,#0002ff 177px,#00f 211px)"></i><i style="height:2px;background:linear-gradient(90deg,#ff1700 0px,#ff1900 49px,#ff7f00 71px,#fdff00 85px,#5eff00 96px,#04ff00 104px,#00ff53 111px,#0fc 119px,#00fffc 124px,#00a1ff 138px,#0003ff 177px,#00f 211px)"></i><i style="height:2px;background:linear-gradient(90deg,#ff1700 0px,#ff1800 49px,#ff7d00 71px,#fffe00 85px,#61ff00 96px,#05ff00 104px,#00ff51 111px,#00ffca 119px,#00fffb 124px,#00a2ff 138px,#0003ff 177px,#00f 211px)"></i><i style="height:2px;background:linear-gradient(90deg,#ff1600 0px,#ff1700 49px,#ff7c00 71px,#fffc00 85px,#56ff00 97px,#07ff00 104px,#00ff42 110px,#00ffc8 119px,#00fffa 124px,#00a3ff 138px,#0004ff 177px,#00f 211px)"></i><i style="height:2px;background:linear-gradient(90deg,#ff1500 0px,#ff1600 49px,#ff7a00 71px,#fffa00 85px,#4bff00 98px,#00ff02 105px,#00ff68 113px,#00ffc6 119px,#00fff8 124px,#00a4ff 138px,#0004ff 177px,#00f 211px)"></i><i style="height:2px;background:linear-gradient(90deg,#ff1400 0px,#ff1600 49px,#ff7900 71px,#fff700 85px,#efff00 87px,#4eff00 98px,#0f0 105px,#0f6 113px,#00ffc4 119px,#00fff7 124px,#00a0ff 139px,#0002ff 178px,#00f 211px)"></i><i style="height:2px;background:linear-gradient(90deg,#ff1300 0px,#ff1700 50px,#ff7d00 72px,#feff00 86px,#5dff00 97px,#02ff00 105px,#00ff64 113px,#00ffc2 119px,#00fffe 125px,#00a0ff 139px,#0002ff 178px,#00f 211px)"></i><i style="height:2px;background:linear-gradient(90deg,#ff1200 0px,#ff1700 50px,#ff7c00 72px,#fffe00 86px,#52ff00 98px,#03ff00 105px,#00ff54 112px,#00ffcd 120px,#00fffd 125px,#00a1ff 139px,#0003ff 178px,#00f 211px)"></i><i style="height:2px;background:linear-gradient(90deg,#f10 0px,#ff1600 50px,#ff7a00 72px,#fffb00 86px,#5f0 98px,#05ff00 105px,#00ff52 112px,#00ffcb 120px,#00fffc 125px,#00a2ff 139px,#0003ff 178px,#00f 211px)"></i><i style="height:2px;background:linear-gradient(90deg,#ff1000 0px,#ff1500 50px,#ff7900 72px,#fff900 86px,#ecff00 88px,#57ff00 98px,#06ff00 105px,#00ff42 111px,#00ffc9 120px,#00fffa 125px,#00a2ff 139px,#0003ff 178px,#00f 211px)"></i><i style="height:2px;background:linear-gradient(90deg,#ff0f00 0px,#ff1700 51px,#ff7d00 73px,#fff700 86px,#fcff00 87px,#59ff00 98px,#08ff00 105px,#00ff40 111px,#00ffc7 120px,#00fff9 125px,#00a3ff 139px,#0004ff 178px,#00f 211px)"></i><i style="height:2px;background:linear-gradient(90deg,#ff0e00 0px,#ff1600 51px,#ff7c00 73px,#feff00 87px,#5cff00 98px,#00ff01 106px,#00ff67 114px,#00ffc5 120px,#00fff7 125px,#00a4ff 139px,#0005ff 178px,#00f 211px)"></i><i style="height:2px;background:linear-gradient(90deg,#ff0d00 0px,#ff1500 51px,#ff7a00 73px,#fffd00 87px,#51ff00 99px,#01ff00 106px,#00ff65 114px,#00ffc3 120px,#0ff 126px,#00a5ff 139px,#0002ff 179px,#00f 211px)"></i><i style="height:2px;background:linear-gradient(90deg,#ff0d00 0px,#ff0d00 46px,#ff1700 52px,#ff7f00 74px,#fffb00 87px,#53ff00 99px,#03ff00 106px,#0f5 113px,#00ffc1 120px,#00fffd 126px,#00a1ff 140px,#0002ff 179px,#00f 211px)"></i><i style="height:2px;background:linear-gradient(90deg,#ff0c00 0px,#ff0c00 46px,#ff1600 52px,#ff7e00 74px,#fff900 87px,#ecff00 89px,#5f0 99px,#04ff00 106px,#00ff53 113px,#0fc 121px,#00fffc 126px,#00a1ff 140px,#0003ff 179px,#00f 211px)"></i><i style="height:2px;background:linear-gradient(90deg,#ff0b00 0px,#ff0b00 45px,#ff1500 52px,#ff7c00 74px,#fff600 87px,#fdff00 88px,#58ff00 99px,#06ff00 106px,#00ff51 113px,#00ffca 121px,#00fffb 126px,#00a2ff 140px,#0003ff 179px,#00f 211px)"></i><i style="height:2px;background:linear-gradient(90deg,#ff0a00 0px,#ff0a00 45px,#ff1700 53px,#ff7a00 74px,#ff0 88px,#5bff00 99px,#08ff00 106px,#00ff41 112px,#00ffc8 121px,#00fff9 126px,#00a3ff 140px,#0004ff 179px,#00f 211px)"></i><i style="height:2px;background:linear-gradient(90deg,#ff0900 0px,#ff0900 44px,#ff1600 53px,#ff7e00 75px,#fffb00 88px,#50ff00 100px,#0f0 107px,#00ff67 115px,#00ffc5 121px,#00fff7 126px,#00a4ff 140px,#0005ff 179px,#00f 211px)"></i><i style="height:2px;background:linear-gradient(90deg,#ff0800 0px,#ff0800 43px,#ff1400 53px,#ff3500 62px,#ff7b00 75px,#fff800 88px,#edff00 90px,#54ff00 100px,#02ff00 107px,#00ff64 115px,#00ffc2 121px,#00fffe 127px,#00a0ff 141px,#0002ff 180px,#00f 211px)"></i><i style="height:2px;background:linear-gradient(90deg,#ff0700 0px,#ff0700 43px,#ff1600 54px,#ff7900 75px,#ff0 89px,#57ff00 100px,#04ff00 107px,#00ff53 114px,#0fc 122px,#00fffc 127px,#00a1ff 141px,#0003ff 180px,#00f 211px)"></i><i style="height:2px;background:linear-gradient(90deg,#ff0600 0px,#ff0600 42px,#ff1400 54px,#ff3600 63px,#ff7d00 76px,#fffc00 89px,#5bff00 100px,#06ff00 107px,#00ff50 114px,#00ffca 122px,#00fffb 127px,#00a2ff 141px,#0003ff 180px,#00f 211px)"></i><i style="height:2px;background:linear-gradient(90deg,#ff0500 0px,#ff0500 42px,#ff1500 55px,#ff7a00 76px,#fff800 89px,#ecff00 91px,#50ff00 101px,#08ff00 107px,#00ff40 113px,#00ffc7 122px,#00fff9 127px,#00a3ff 141px,#0004ff 180px,#00f 211px)"></i><i style="height:2px;background:linear-gradient(90deg,#ff0400 0px,#ff0400 41px,#ff1400 55px,#ff3600 64px,#ff7e00 77px,#feff00 90px,#54ff00 101px,#0f0 108px,#0f6 116px,#00ffc4 122px,#00fff7 127px,#00a4ff 141px,#0005ff 180px,#00f 211px)"></i><i style="height:2px;background:linear-gradient(90deg,#ff0300 0px,#ff0300 40px,#ff1500 56px,#ff7c00 77px,#fffc00 90px,#57ff00 101px,#02ff00 108px,#00ff56 115px,#00ffc1 122px,#00fffe 128px,#00a1ff 142px,#0002ff 181px,#00f 211px)"></i><i style="height:2px;background:linear-gradient(90deg,#ff0300 0px,#ff0300 40px,#ff1400 56px,#ff7900 77px,#fff900 90px,#ebff00 92px,#4dff00 102px,#04ff00 108px,#00ff53 115px,#0fc 123px,#00fffc 128px,#00a1ff 142px,#0003ff 181px,#00f 211px)"></i><i style="height:2px;background:linear-gradient(90deg,#ff0200 0px,#ff0200 39px,#ff1500 57px,#ff7d00 78px,#fdff00 91px,#5eff00 101px,#07ff00 108px,#00ff42 114px,#00ffc9 123px,#00fffa 128px,#00a2ff 142px,#0003ff 181px,#00f 211px)"></i><i style="height:2px;background:linear-gradient(90deg,#ff0100 0px,#ff0100 38px,#ff1400 57px,#ff3700 66px,#ff7b00 78px,#fffd00 91px,#54ff00 102px,#00ff02 109px,#00ff69 117px,#00ffc6 123px,#00fff8 128px,#00a3ff 142px,#0004ff 181px,#00f 211px)"></i><i style="height:2px;background:linear-gradient(90deg,#f00 0px,#f00 37px,#ff1500 58px,#ff7800 78px,#f8ff00 92px,#57ff00 102px,#0f0 109px,#0f6 117px,#00ffc4 123px,#0ff 129px,#00a4ff 142px,#0005ff 181px,#00f 211px)"></i><i style="height:2px;background:linear-gradient(90deg,#f00 0px,#f00 37px,#ff1500 58px,#ff7800 78px,#f8ff00 92px,#56ff00 102px,#00ff01 109px,#00ff67 117px,#00ffc5 123px,#0ff 129px,#00a5ff 142px,#0006ff 181px,#0003ff 211px)"></i><i style="height:2px;background:linear-gradient(90deg,#f00 0px,#f00 38px,#ff1400 58px,#ff3800 67px,#ff7e00 79px,#f7ff00 92px,#5f0 102px,#00ff02 109px,#00ff68 117px,#00ffc5 123px,#0ff 129px,#00a5ff 142px,#0007ff 181px,#0006ff 211px)"></i><i style="height:2px;background:linear-gradient(90deg,#f00 0px,#f00 38px,#ff1400 58px,#ff3700 67px,#ff7e00 79px,#f7ff00 92px,#54ff00 102px,#00ff04 109px,#00ff69 117px,#00ffc5 123px,#0ff 129px,#00a1ff 143px,#0009ff 181px,#0009ff 211px)"></i><i style="height:2px;background:linear-gradient(90deg,#f00 0px,#f00 38px,#ff1300 58px,#ff3700 67px,#ff7d00 79px,#f7ff00 92px,#53ff00 102px,#00ff05 109px,#00ff6a 117px,#00ffc6 123px,#0ff 129px,#00a1ff 143px,#000eff 180px,#000bff 211px)"></i><i style="height:2px;background:linear-gradient(90deg,#f00 0px,#f00 39px,#ff1500 59px,#ff7c00 79px,#f7ff00 92px,#52ff00 102px,#00ff06 109px,#00ff6b 117px,#00ffc6 123px,#0ff 129px,#00a1ff 143px,#000fff 180px,#000eff 211px)"></i><i style="height:2px;background:linear-gradient(90deg,#f00 0px,#f00 39px,#ff1500 59px,#ff7c00 79px,#f7ff00 92px,#51ff00 102px,#00ff07 109px,#00ffc7 123px,#0ff 129px,#00a2ff 143px,#01f 180px,#01f 211px)"></i><i style="height:2px;background:linear-gradient(90deg,#f00 0px,#f00 39px,#ff1400 59px,#ff3a00 68px,#ff7b00 79px,#f7ff00 92px,#50ff00 102px,#00ff08 109px,#00ffc7 123px,#0ff 129px,#00a2ff 143px,#0014ff 180px,#0014ff 211px)"></i><i style="height:2px;background:linear-gradient(90deg,#f00 0px,#f00 39px,#ff1400 59px,#ff3900 68px,#ff7b00 79px,#f7ff00 92px,#5eff00 101px,#02ff00 108px,#00ff60 116px,#00ffc7 123px,#0ff 129px,#00a2ff 143px,#0018ff 179px,#0016ff 211px)"></i><i style="height:2px;background:linear-gradient(90deg,#f00 0px,#f00 40px,#ff1300 59px,#ff3800 68px,#ff7a00 79px,#f7ff00 92px,#5dff00 101px,#01ff00 108px,#00ff61 116px,#00ffc8 123px,#0ff 129px,#00a3ff 143px,#0019ff 179px,#0019ff 211px)"></i><i style="height:2px;background:linear-gradient(90deg,#f00 0px,#f00 40px,#ff1300 59px,#ff3700 68px,#ff7a00 79px,#f7ff00 92px,#5cff00 101px,#0f0 108px,#00ff61 116px,#00ffc8 123px,#0ff 129px,#00a3ff 143px,#001eff 178px,#001cff 211px)"></i><i style="height:2px;background:linear-gradient(90deg,#f00 0px,#f00 40px,#ff1500 60px,#ff7900 79px,#f7ff00 92px,#5bff00 101px,#00ff02 108px,#00ff62 116px,#00ffc8 123px,#0ff 129px,#00a3ff 143px,#001fff 178px,#001eff 211px)"></i><i style="height:2px;background:linear-gradient(90deg,#f00 0px,#f00 40px,#ff1300 59px,#ff3800 68px,#ff7b00 79px,#fffc00 91px,#f4ff00 92px,#59ff00 101px,#00ff03 108px,#00ff64 116px,#00ffca 123px,#00feff 129px,#00a3ff 143px,#02f 177px,#0020ff 211px)"></i><i style="height:2px;background:linear-gradient(90deg,#f00 0px,#f00 39px,#ff1400 59px,#ff3a00 68px,#ff7d00 79px,#ff0 91px,#f1ff00 92px,#57ff00 101px,#00ff04 108px,#00ff65 116px,#00ffcb 123px,#00fdff 129px,#00a2ff 143px,#02f 177px,#02f 211px)"></i><i style="height:2px;background:linear-gradient(90deg,#f00 0px,#f00 39px,#ff1500 59px,#ff3700 67px,#ff7f00 79px,#fdff00 91px,#5f0 101px,#00ff05 108px,#0fc 123px,#00fcff 129px,#00a2ff 143px,#0025ff 176px,#0024ff 211px)"></i><i style="height:2px;background:linear-gradient(90deg,#f00 0px,#f00 38px,#ff1400 58px,#ff3900 67px,#ff7a00 78px,#faff00 91px,#52ff00 101px,#00ff06 108px,#00ffcd 123px,#00fbff 129px,#00a1ff 143px,#0026ff 176px,#0026ff 211px)"></i><i style="height:2px;background:linear-gradient(90deg,#f00 0px,#f00 38px,#ff1500 58px,#ff7c00 78px,#f7ff00 91px,#50ff00 101px,#00ff07 108px,#00ff69 116px,#00ffc2 122px,#00faff 129px,#00a6ff 142px,#0028ff 175px,#0028ff 211px)"></i><i style="height:2px;background:linear-gradient(90deg,#f00 0px,#f00 37px,#ff1300 57px,#ff3700 66px,#f70 77px,#fffd00 90px,#f4ff00 91px,#4eff00 101px,#00ff08 108px,#00ffc4 122px,#00faff 129px,#00a5ff 142px,#002bff 174px,#0029ff 211px)"></i><i style="height:2px;background:linear-gradient(90deg,#f00 0px,#f00 37px,#ff1400 57px,#ff7900 77px,#ff0 90px,#5bff00 100px,#01ff00 107px,#00ff5f 115px,#00ffc5 122px,#00fffd 128px,#00a5ff 142px,#002bff 174px,#002bff 211px)"></i><i style="height:2px;background:linear-gradient(90deg,#f00 0px,#f00 36px,#ff1600 57px,#ff7b00 77px,#fcff00 90px,#59ff00 100px,#0f0 107px,#00ff60 115px,#00ffc6 122px,#00fffe 128px,#00a4ff 142px,#002eff 173px,#002dff 211px)"></i><i style="height:2px;background:linear-gradient(90deg,#f00 0px,#f00 36px,#ff1400 56px,#ff3700 65px,#ff7d00 77px,#f9ff00 90px,#56ff00 100px,#00ff01 107px,#00ff61 115px,#00ffc8 122px,#0ff 128px,#00a4ff 142px,#0031ff 172px,#002fff 211px)"></i><i style="height:2px;background:linear-gradient(90deg,#f00 0px,#f00 35px,#ff1500 56px,#ff7800 76px,#f6ff00 90px,#54ff00 100px,#00ff02 107px,#00ff63 115px,#00ffc9 122px,#00feff 128px,#00a3ff 142px,#0031ff 172px,#0031ff 211px)"></i><i style="height:2px;background:linear-gradient(90deg,#f00 0px,#f00 35px,#ff1600 56px,#ff7a00 76px,#fffd00 89px,#f3ff00 90px,#52ff00 100px,#00ff03 107px,#00ff64 115px,#00ffca 122px,#00fdff 128px,#00a3ff 142px,#0034ff 171px,#0032ff 211px)"></i><i style="height:2px;background:linear-gradient(90deg,#f00 0px,#f00 34px,#ff1500 55px,#ff3800 64px,#ff7c00 76px,#feff00 89px,#50ff00 100px,#00ff04 107px,#00ffcb 122px,#00fdff 128px,#00a3ff 142px,#0035ff 171px,#03f 211px)"></i><i style="height:2px;background:linear-gradient(90deg,#f00 0px,#f00 34px,#ff1600 55px,#ff7e00 76px,#fcff00 89px,#4eff00 100px,#00ff05 107px,#00ffcb 122px,#00fdff 128px,#00a3ff 142px,#0035ff 171px,#03f 211px)"></i><i style="height:2px;background:linear-gradient(90deg,#f00 0px,#f00 33px,#ff1700 55px,#ff7900 75px,#f9ff00 89px,#4cff00 100px,#00ff07 107px,#00ffcb 122px,#00fdff 128px,#00a3ff 142px,#03f 172px,#03f 211px)"></i><i style="height:2px;background:linear-gradient(90deg,#f00 0px,#f00 33px,#ff1500 54px,#ff7b00 75px,#f6ff00 89px,#4aff00 100px,#00ff08 107px,#0fc 122px,#00fdff 128px,#00a4ff 142px,#03f 172px,#03f 211px)"></i><i style="height:2px;background:linear-gradient(90deg,#f00 0px,#f00 32px,#ff1600 54px,#ff7d00 75px,#fffe00 88px,#f3ff00 89px,#56ff00 99px,#02ff00 106px,#00ff5c 114px,#0fc 122px,#00fdff 128px,#00a4ff 142px,#0034ff 172px,#03f 211px)"></i><i style="height:2px;background:linear-gradient(90deg,#f00 0px,#f00 32px,#ff1700 54px,#ff7f00 75px,#feff00 88px,#54ff00 99px,#01ff00 106px,#00ff5c 114px,#0fc 122px,#00fdff 128px,#00a4ff 142px,#0035ff 172px,#03f 211px)"></i><i style="height:2px;background:linear-gradient(90deg,#f00 0px,#f00 31px,#ff1600 53px,#ff7a00 74px,#fbff00 88px,#60ff00 98px,#0f0 106px,#00ff5d 114px,#0fc 122px,#00fdff 128px,#00a5ff 142px,#03f 173px,#03f 211px)"></i><i style="height:2px;background:linear-gradient(90deg,#f00 0px,#f00 31px,#ff1700 53px,#ff7c00 74px,#f8ff00 88px,#5eff00 98px,#00ff01 106px,#00ff5e 114px,#00ffc1 121px,#00fdff 128px,#00a5ff 142px,#03f 173px,#03f 211px)"></i><i style="height:2px;background:linear-gradient(90deg,#f00 0px,#f00 30px,#ff1800 53px,#ff7e00 74px,#f6ff00 88px,#5cff00 98px,#00ff02 106px,#00ff5f 114px,#00ffc2 121px,#00fdff 128px,#00a5ff 142px,#0034ff 173px,#03f 211px)"></i><i style="height:2px;background:linear-gradient(90deg,#f00 0px,#f00 30px,#ff1600 52px,#ff7900 73px,#fffe00 87px,#f3ff00 88px,#5aff00 98px,#00ff04 106px,#00ff60 114px,#00ffc2 121px,#00fdff 128px,#00a5ff 142px,#0034ff 173px,#03f 211px)"></i><i style="height:2px;background:linear-gradient(90deg,#f00 0px,#f00 29px,#ff1800 52px,#ff7b00 73px,#fdff00 87px,#58ff00 98px,#00ff05 106px,#00ff60 114px,#00ffc2 121px,#00fdff 128px,#00a6ff 142px,#0035ff 173px,#03f 211px)"></i></div>
<div class="cb" style="left:300px;top:914px;width:16px;height:202px;background:linear-gradient(180deg,#ff0b00 0%,#ff0b00 2.1%,#ff2000 2.1%,#ff2000 4.2%,#ff3500 4.2%,#ff3500 6.2%,#ff4a00 6.2%,#ff4a00 8.3%,#ff6000 8.3%,#ff6000 10.4%,#ff7500 10.4%,#ff7500 12.5%,#ff8a00 12.5%,#ff8a00 14.6%,#ff9f00 14.6%,#ff9f00 16.7%,#ffb500 16.7%,#ffb500 18.8%,#ffca00 18.8%,#ffca00 20.8%,#ffdf00 20.8%,#ffdf00 22.9%,#fff400 22.9%,#fff400 25%,#f4ff00 25%,#f4ff00 27.1%,#dfff00 27.1%,#dfff00 29.2%,#caff00 29.2%,#caff00 31.2%,#b5ff00 31.2%,#b5ff00 33.3%,#9fff00 33.3%,#9fff00 35.4%,#8aff00 35.4%,#8aff00 37.5%,#75ff00 37.5%,#75ff00 39.6%,#60ff00 39.6%,#60ff00 41.7%,#4aff00 41.7%,#4aff00 43.8%,#35ff00 43.8%,#35ff00 45.8%,#20ff00 45.8%,#20ff00 47.9%,#0bff00 47.9%,#0bff00 50%,#00ff0b 50%,#00ff0b 52.1%,#00ff20 52.1%,#00ff20 54.2%,#00ff35 54.2%,#00ff35 56.2%,#00ff4a 56.2%,#00ff4a 58.3%,#00ff60 58.3%,#00ff60 60.4%,#00ff75 60.4%,#00ff75 62.5%,#00ff8a 62.5%,#00ff8a 64.6%,#00ff9f 64.6%,#00ff9f 66.7%,#00ffb5 66.7%,#00ffb5 68.8%,#00ffca 68.8%,#00ffca 70.8%,#00ffdf 70.8%,#00ffdf 72.9%,#00fff4 72.9%,#00fff4 75%,#00f4ff 75%,#00f4ff 77.1%,#00dfff 77.1%,#00dfff 79.2%,#00caff 79.2%,#00caff 81.2%,#00b5ff 81.2%,#00b5ff 83.3%,#009fff 83.3%,#009fff 85.4%,#008aff 85.4%,#008aff 87.5%,#0075ff 87.5%,#0075ff 89.6%,#0060ff 89.6%,#0060ff 91.7%,#004aff 91.7%,#004aff 93.8%,#0035ff 93.8%,#0035ff 95.8%,#0020ff 95.8%,#0020ff 97.9%,#000bff 97.9%,#000bff 100%)"></div>
<div class="hm" style="left:413px;top:914px;width:211px;height:202px"><i style="height:2px;background:linear-gradient(90deg,#f30 0px,#ff3500 43px,#ff8300 60px,#fffe00 75px,#5dff00 88px,#03ff00 97px,#00ff56 105px,#00ffc4 113px,#00fffa 119px,#00a1ff 135px,#0004ff 178px,#00f 211px)"></i><i style="height:2px;background:linear-gradient(90deg,#ff3200 0px,#ff3400 43px,#ff8100 60px,#fffb00 75px,#54ff00 89px,#05ff00 97px,#00ff47 104px,#00ffcd 114px,#00fff8 119px,#00a2ff 135px,#0002ff 179px,#0001ff 211px)"></i><i style="height:2px;background:linear-gradient(90deg,#ff3200 0px,#f30 43px,#ff7f00 60px,#fff900 75px,#f1ff00 77px,#4bff00 90px,#00ff02 98px,#00ff69 107px,#00ffca 114px,#00fffe 120px,#00a3ff 135px,#0003ff 179px,#0002ff 211px)"></i><i style="height:2px;background:linear-gradient(90deg,#ff3100 0px,#ff3100 43px,#ff8400 61px,#feff00 76px,#59ff00 89px,#0f0 98px,#00ff67 107px,#00ffc8 114px,#00fffd 120px,#00a4ff 135px,#0003ff 179px,#0003ff 211px)"></i><i style="height:2px;background:linear-gradient(90deg,#ff3100 0px,#ff3100 43px,#ff8200 61px,#fffd00 76px,#5cff00 89px,#02ff00 98px,#00ff58 106px,#00ffc6 114px,#00fffb 120px,#00a0ff 136px,#0004ff 179px,#0004ff 211px)"></i><i style="height:2px;background:linear-gradient(90deg,#ff3100 0px,#f30 44px,#ff8000 61px,#fffb00 76px,#53ff00 90px,#04ff00 98px,#0f5 106px,#00ffc3 114px,#00fffa 120px,#00a1ff 136px,#0005ff 179px,#0005ff 211px)"></i><i style="height:2px;background:linear-gradient(90deg,#ff3000 0px,#ff3100 44px,#ff7e00 61px,#fff800 76px,#f1ff00 78px,#56ff00 90px,#06ff00 98px,#00ff47 105px,#0fc 115px,#00fff8 120px,#00a2ff 136px,#0006ff 179px,#0006ff 211px)"></i><i style="height:2px;background:linear-gradient(90deg,#ff3000 0px,#ff3000 44px,#ff8200 62px,#ff0 77px,#58ff00 90px,#00ff01 99px,#00ff69 108px,#00ffca 115px,#00fffe 121px,#00a3ff 136px,#0007ff 179px,#0007ff 211px)"></i><i style="height:2px;background:linear-gradient(90deg,#ff2f00 0px,#ff2f00 44px,#ff8100 62px,#fffd00 77px,#5bff00 90px,#01ff00 99px,#0f6 108px,#00ffc8 115px,#00fffc 121px,#00a4ff 136px,#0008ff 179px,#0008ff 211px)"></i><i style="height:2px;background:linear-gradient(90deg,#ff2f00 0px,#ff3100 45px,#ff7f00 62px,#fffa00 77px,#52ff00 91px,#02ff00 99px,#00ff57 107px,#00ffc5 115px,#00fffb 121px,#00a1ff 137px,#000bff 178px,#0009ff 211px)"></i><i style="height:2px;background:linear-gradient(90deg,#ff2e00 0px,#ff3000 45px,#ff8300 63px,#fdff00 78px,#60ff00 90px,#04ff00 99px,#0f5 107px,#00ffc3 115px,#00fff9 121px,#00a2ff 137px,#000cff 178px,#000aff 211px)"></i><i style="height:2px;background:linear-gradient(90deg,#ff2e00 0px,#ff2f00 45px,#ff8100 63px,#ff0 78px,#57ff00 91px,#06ff00 99px,#00ff46 106px,#0fc 116px,#00fff8 121px,#00a2ff 137px,#000aff 179px,#000aff 211px)"></i><i style="height:2px;background:linear-gradient(90deg,#ff2d00 0px,#ff2e00 45px,#ff7f00 63px,#fffc00 78px,#4eff00 92px,#00ff01 100px,#00ff68 109px,#00ffc9 116px,#00fffe 122px,#00a3ff 137px,#000bff 179px,#000bff 211px)"></i><i style="height:2px;background:linear-gradient(90deg,#ff2d00 0px,#ff2d00 45px,#ff7e00 63px,#fffa00 78px,#51ff00 92px,#01ff00 100px,#0f6 109px,#00ffc7 116px,#00fffc 122px,#00a4ff 137px,#000cff 179px,#000cff 211px)"></i><i style="height:2px;background:linear-gradient(90deg,#ff2c00 0px,#ff2f00 46px,#ff8200 64px,#fdff00 79px,#5fff00 91px,#03ff00 100px,#00ff57 108px,#00ffc5 116px,#00fffa 122px,#00a1ff 138px,#000dff 179px,#000dff 211px)"></i><i style="height:2px;background:linear-gradient(90deg,#ff2c00 0px,#ff2e00 46px,#ff8000 64px,#fffe00 79px,#56ff00 92px,#05ff00 100px,#00ff54 108px,#00ffc2 116px,#00fff9 122px,#00a2ff 138px,#000eff 179px,#000eff 211px)"></i><i style="height:2px;background:linear-gradient(90deg,#ff2c00 0px,#ff2c00 46px,#ff7e00 64px,#fffc00 79px,#59ff00 92px,#06ff00 100px,#00ff46 107px,#00ffcb 117px,#0ff 123px,#00a3ff 138px,#000fff 179px,#000fff 211px)"></i><i style="height:2px;background:linear-gradient(90deg,#ff2b00 0px,#ff2b00 46px,#ff8300 65px,#fff900 79px,#50ff00 93px,#00ff01 101px,#00ff68 110px,#00ffc9 117px,#00fffd 123px,#00a4ff 138px,#0010ff 179px,#0010ff 211px)"></i><i style="height:2px;background:linear-gradient(90deg,#ff2b00 0px,#ff2b00 46px,#ff8100 65px,#fdff00 80px,#5fff00 92px,#01ff00 101px,#00ff65 110px,#00ffc7 117px,#00fffc 123px,#00a4ff 138px,#01f 179px,#01f 211px)"></i><i style="height:2px;background:linear-gradient(90deg,#ff2a00 0px,#ff2c00 47px,#ff7f00 65px,#fffe00 80px,#5f0 93px,#03ff00 101px,#00ff56 109px,#00ffc4 117px,#00fffa 123px,#00a1ff 139px,#0012ff 179px,#0012ff 211px)"></i><i style="height:2px;background:linear-gradient(90deg,#ff2a00 0px,#ff2b00 47px,#ff7d00 65px,#fffb00 80px,#58ff00 93px,#05ff00 101px,#00ff54 109px,#00ffc2 117px,#00fff8 123px,#00a2ff 139px,#0013ff 179px,#0013ff 211px)"></i><i style="height:2px;background:linear-gradient(90deg,#ff2900 0px,#ff2a00 47px,#ff8100 66px,#fff900 80px,#efff00 82px,#4fff00 94px,#07ff00 101px,#00ff45 108px,#00ffcb 118px,#0ff 124px,#00a3ff 139px,#0014ff 179px,#0014ff 211px)"></i><i style="height:2px;background:linear-gradient(90deg,#ff2900 0px,#ff2900 47px,#ff7f00 66px,#feff00 81px,#5eff00 93px,#0f0 102px,#00ff67 111px,#00ffc8 118px,#00fffd 124px,#00a4ff 139px,#0014ff 179px,#0014ff 211px)"></i><i style="height:2px;background:linear-gradient(90deg,#ff2800 0px,#ff2900 48px,#ff8100 67px,#fffb00 81px,#56ff00 94px,#03ff00 102px,#00ff56 110px,#00ffc4 118px,#00fffa 124px,#00a2ff 140px,#0016ff 179px,#0015ff 211px)"></i><i style="height:2px;background:linear-gradient(90deg,#ff2700 0px,#ff2700 48px,#ff7d00 67px,#ff0 82px,#5bff00 94px,#06ff00 102px,#00ff46 109px,#00ffcb 119px,#00fffe 125px,#00a4ff 140px,#0016ff 180px,#0016ff 211px)"></i><i style="height:2px;background:linear-gradient(90deg,#ff2600 0px,#ff2600 49px,#ff7f00 68px,#fffa00 82px,#54ff00 95px,#00ff01 103px,#0f6 112px,#00ffc7 119px,#00fffb 125px,#00a1ff 141px,#0018ff 180px,#0017ff 211px)"></i><i style="height:2px;background:linear-gradient(90deg,#ff2500 0px,#ff2700 50px,#ff8100 69px,#ff0 83px,#59ff00 95px,#02ff00 103px,#00ff62 112px,#00ffc2 119px,#00fff8 125px,#00a4ff 141px,#001bff 180px,#0018ff 211px)"></i><i style="height:2px;background:linear-gradient(90deg,#ff2400 0px,#ff2400 50px,#ff7d00 69px,#fffa00 83px,#51ff00 96px,#05ff00 103px,#00ff52 111px,#00ffc9 120px,#00fffc 126px,#00a1ff 142px,#0019ff 181px,#0019ff 211px)"></i><i style="height:2px;background:linear-gradient(90deg,#ff2300 0px,#ff2400 51px,#ff7f00 70px,#fffe00 84px,#56ff00 96px,#00ff01 104px,#00ff65 113px,#00ffc5 120px,#00fff9 126px,#00a3ff 142px,#001cff 181px,#001aff 211px)"></i><i style="height:2px;background:linear-gradient(90deg,#f20 0px,#ff2500 52px,#ff8100 71px,#fff900 84px,#edff00 86px,#4fff00 97px,#02ff00 104px,#00ff61 113px,#00ffcb 121px,#00fffd 127px,#00a1ff 143px,#001bff 182px,#001bff 211px)"></i><i style="height:2px;background:linear-gradient(90deg,#ff2100 0px,#f20 52px,#ff7d00 71px,#fffe00 85px,#61ff00 96px,#05ff00 104px,#00ff51 112px,#00ffc7 121px,#00fffa 127px,#00a3ff 143px,#001dff 182px,#001cff 211px)"></i><i style="height:2px;background:linear-gradient(90deg,#ff2100 0px,#f20 53px,#ff7f00 72px,#fff800 85px,#edff00 87px,#4cff00 98px,#00ff02 105px,#00ff65 114px,#00ffc3 121px,#0ff 128px,#00a1ff 144px,#001fff 182px,#001dff 211px)"></i><i style="height:2px;background:linear-gradient(90deg,#ff2000 0px,#ff2000 53px,#ff7b00 72px,#fffd00 86px,#51ff00 98px,#01ff00 105px,#00ff60 114px,#00ffca 122px,#00fffc 128px,#00a3ff 144px,#001eff 183px,#001eff 211px)"></i><i style="height:2px;background:linear-gradient(90deg,#ff1f00 0px,#ff1f00 54px,#ff7d00 73px,#fff800 86px,#edff00 88px,#56ff00 98px,#04ff00 105px,#00ff51 113px,#00ffc5 122px,#00fff9 128px,#00a1ff 145px,#0020ff 183px,#001eff 211px)"></i><i style="height:2px;background:linear-gradient(90deg,#ff1e00 0px,#ff1e00 54px,#ff7f00 74px,#f6ff00 88px,#5eff00 98px,#0f0 106px,#00ff61 115px,#00ffc9 123px,#00fcff 130px,#00a4ff 145px,#0020ff 184px,#001fff 211px)"></i><i style="height:2px;background:linear-gradient(90deg,#ff1d00 0px,#ff1e00 55px,#ff7b00 74px,#feff00 88px,#59ff00 99px,#00ff03 107px,#00ff65 116px,#00ffc1 123px,#00fffd 130px,#00a3ff 146px,#0020ff 185px,#001fff 211px)"></i><i style="height:2px;background:linear-gradient(90deg,#ff1c00 0px,#ff1c00 55px,#ff7e00 75px,#f9ff00 89px,#47ff00 101px,#00ff07 108px,#00ff69 117px,#00ffc5 124px,#0ff 131px,#00a3ff 147px,#0020ff 186px,#001fff 211px)"></i><i style="height:2px;background:linear-gradient(90deg,#ff1b00 0px,#ff1d00 56px,#ff7a00 75px,#fffd00 89px,#f4ff00 90px,#5cff00 100px,#00ff01 108px,#00ff61 117px,#00ffc8 125px,#00fdff 132px,#00a2ff 148px,#0020ff 187px,#001fff 211px)"></i><i style="height:2px;background:linear-gradient(90deg,#ff1a00 0px,#ff1b00 56px,#ff7c00 76px,#fcff00 90px,#57ff00 101px,#00ff04 109px,#00ffcb 126px,#00fbff 133px,#00a1ff 149px,#0020ff 188px,#001fff 211px)"></i><i style="height:2px;background:linear-gradient(90deg,#ff1900 0px,#ff1900 56px,#ff7e00 77px,#f8ff00 91px,#60ff00 101px,#02ff00 109px,#00ff5d 118px,#00ffc4 126px,#00fffe 133px,#00a4ff 149px,#0020ff 189px,#001fff 211px)"></i><i style="height:2px;background:linear-gradient(90deg,#ff1800 0px,#ff1a00 57px,#ff7a00 77px,#ff0 91px,#f3ff00 92px,#5bff00 102px,#00ff02 110px,#00ff61 119px,#00ffc7 127px,#0ff 134px,#00a3ff 150px,#0020ff 190px,#001fff 211px)"></i><i style="height:2px;background:linear-gradient(90deg,#ff1700 0px,#ff1800 57px,#ff7d00 78px,#fbff00 92px,#56ff00 103px,#00ff06 111px,#00ffca 128px,#00fdff 135px,#00a3ff 151px,#001fff 191px,#001fff 211px)"></i><i style="height:2px;background:linear-gradient(90deg,#ff1700 0px,#ff1700 57px,#ff7900 78px,#f6ff00 93px,#5eff00 103px,#0f0 111px,#00ff5d 120px,#00ffcd 129px,#00fbff 136px,#00a2ff 152px,#001fff 192px,#001fff 211px)"></i><i style="height:2px;background:linear-gradient(90deg,#ff1600 0px,#ff1800 58px,#ff7b00 79px,#feff00 93px,#59ff00 104px,#00ff03 112px,#00ff61 121px,#00ffc6 129px,#00fffe 136px,#00a5ff 152px,#001fff 193px,#001fff 211px)"></i><i style="height:2px;background:linear-gradient(90deg,#ff1500 0px,#ff1600 58px,#ff7d00 80px,#f9ff00 94px,#54ff00 105px,#00ff07 113px,#00ffc9 130px,#00feff 137px,#00a4ff 153px,#001fff 194px,#001fff 211px)"></i><i style="height:2px;background:linear-gradient(90deg,#ff1300 0px,#ff1400 58px,#ff3800 68px,#ff7800 80px,#f6ff00 95px,#5eff00 105px,#0f0 113px,#00ff68 123px,#0fc 131px,#00fcff 138px,#00a3ff 154px,#001fff 195px,#001eff 211px)"></i><i style="height:2px;background:linear-gradient(90deg,#f10 0px,#ff1400 59px,#ff3800 69px,#ff7900 81px,#fffe00 95px,#f4ff00 96px,#5bff00 106px,#00ff03 114px,#00ff60 123px,#00ffc4 131px,#00fffd 138px,#00a6ff 154px,#0036ff 188px,#001eff 196px,#001dff 211px)"></i><i style="height:2px;background:linear-gradient(90deg,#ff1000 0px,#ff1300 60px,#ff3800 70px,#ff7900 82px,#ff0 96px,#4aff00 108px,#00ff05 115px,#00ff63 124px,#00ffc7 132px,#0ff 139px,#00a5ff 155px,#003fff 186px,#001dff 197px,#001cff 211px)"></i><i style="height:2px;background:linear-gradient(90deg,#ff0e00 0px,#ff1300 61px,#ff3900 71px,#ff7a00 83px,#fdff00 97px,#54ff00 108px,#02ff00 115px,#00ff5b 124px,#00ffca 133px,#00feff 140px,#00a4ff 156px,#0041ff 186px,#001cff 198px,#001bff 211px)"></i><i style="height:2px;background:linear-gradient(90deg,#ff0c00 0px,#ff1300 62px,#ff3900 72px,#ff7a00 84px,#faff00 98px,#51ff00 109px,#00ff01 116px,#00ff5e 125px,#0fc 134px,#00fcff 141px,#00a7ff 156px,#04f 186px,#001bff 199px,#001aff 211px)"></i><i style="height:2px;background:linear-gradient(90deg,#ff0a00 0px,#ff1300 63px,#ff3900 73px,#ff7b00 85px,#f8ff00 99px,#4eff00 110px,#00ff03 117px,#00ff61 126px,#00ffc5 134px,#00fffd 141px,#0097ff 161px,#001aff 200px,#001aff 211px)"></i><i style="height:2px;background:linear-gradient(90deg,#ff0800 0px,#ff0900 56px,#ff1300 64px,#ff3900 74px,#ff7c00 86px,#f6ff00 100px,#4bff00 111px,#00ff06 118px,#00ff64 127px,#00ffc8 135px,#0ff 142px,#009aff 161px,#0019ff 201px,#0019ff 211px)"></i><i style="height:2px;background:linear-gradient(90deg,#ff0700 0px,#ff0700 54px,#ff1300 65px,#ff3900 75px,#ff7c00 87px,#fffd00 100px,#f4ff00 101px,#56ff00 111px,#01ff00 118px,#00ff5b 127px,#00ffcb 136px,#00fdff 143px,#009cff 161px,#0018ff 202px,#0018ff 211px)"></i><i style="height:2px;background:linear-gradient(90deg,#ff0500 0px,#ff0500 53px,#ff1300 66px,#ff3900 76px,#ff7d00 88px,#ff0 101px,#52ff00 112px,#00ff02 119px,#00ff6a 129px,#00ffc3 136px,#00fbff 144px,#009bff 162px,#0017ff 203px,#0017ff 211px)"></i><i style="height:2px;background:linear-gradient(90deg,#ff0300 0px,#ff0300 52px,#ff1300 67px,#ff3900 77px,#ff7d00 89px,#fdff00 102px,#4fff00 113px,#00ff04 120px,#00ff61 129px,#00ffc6 137px,#00fffe 144px,#009eff 162px,#0016ff 204px,#0016ff 211px)"></i><i style="height:2px;background:linear-gradient(90deg,#ff0100 0px,#ff0100 50px,#ff1300 68px,#ff3400 77px,#f70 89px,#faff00 103px,#4cff00 114px,#00ff07 121px,#00ffc9 138px,#00feff 145px,#009dff 163px,#0015ff 205px,#0015ff 211px)"></i><i style="height:2px;background:linear-gradient(90deg,#f00 0px,#f00 49px,#ff1300 69px,#ff3500 78px,#ff7800 90px,#f8ff00 104px,#58ff00 114px,#01ff00 121px,#00ff5c 130px,#00ffcb 139px,#00fdff 146px,#009fff 163px,#0014ff 206px,#0014ff 211px)"></i><i style="height:2px;background:linear-gradient(90deg,#f00 0px,#f00 49px,#ff1400 70px,#ff3600 79px,#ff7a00 91px,#f6ff00 105px,#56ff00 115px,#0f0 122px,#00ff69 132px,#00ffc3 139px,#00fffc 146px,#009eff 164px,#0014ff 206px,#0012ff 211px)"></i><i style="height:2px;background:linear-gradient(90deg,#f00 0px,#f00 50px,#ff1200 70px,#ff3800 80px,#ff7c00 92px,#fffd00 105px,#f4ff00 106px,#5f0 116px,#0f0 123px,#00ff5f 132px,#00ffc5 140px,#00fffe 147px,#00a0ff 164px,#0010ff 207px,#0010ff 211px)"></i><i style="height:2px;background:linear-gradient(90deg,#f00 0px,#f00 50px,#ff1300 71px,#ff3a00 81px,#ff7d00 93px,#ff0 106px,#53ff00 117px,#00ff01 124px,#00ff60 133px,#00ffc7 141px,#00feff 148px,#009eff 165px,#01f 207px,#000eff 211px)"></i><i style="height:2px;background:linear-gradient(90deg,#f00 0px,#f00 51px,#ff1200 71px,#ff3600 81px,#ff7800 93px,#fdff00 107px,#52ff00 118px,#00ff01 125px,#00ff62 134px,#00ffca 142px,#00fcff 149px,#00a1ff 165px,#000cff 211px)"></i><i style="height:2px;background:linear-gradient(90deg,#f00 0px,#f00 51px,#ff1300 72px,#ff3800 82px,#ff7a00 94px,#fbff00 108px,#51ff00 119px,#00ff02 126px,#00ff64 135px,#00ffc1 142px,#00fffd 149px,#00a3ff 165px,#000bff 211px)"></i><i style="height:2px;background:linear-gradient(90deg,#f00 0px,#f00 52px,#ff1300 73px,#ff3900 83px,#ff7b00 95px,#f9ff00 109px,#4fff00 120px,#00ff02 127px,#00ff65 136px,#00ffc3 143px,#0ff 150px,#00a1ff 166px,#0009ff 211px)"></i><i style="height:2px;background:linear-gradient(90deg,#f00 0px,#f00 52px,#ff1200 73px,#ff3600 83px,#ff7d00 96px,#f7ff00 110px,#4eff00 121px,#00ff03 128px,#00ff67 137px,#00ffc6 144px,#00fdff 151px,#00a4ff 166px,#0007ff 211px)"></i><i style="height:2px;background:linear-gradient(90deg,#f00 0px,#f00 53px,#ff1300 74px,#ff3700 84px,#ff7800 96px,#fffd00 110px,#f4ff00 111px,#4dff00 122px,#00ff04 129px,#00ff69 138px,#00ffc8 145px,#00fbff 152px,#00a2ff 167px,#0005ff 211px)"></i><i style="height:2px;background:linear-gradient(90deg,#f00 0px,#f00 53px,#ff1400 75px,#ff3900 85px,#ff7a00 97px,#ff0 111px,#4bff00 123px,#00ff04 130px,#00ffca 146px,#00fffd 152px,#00a5ff 167px,#0006ff 211px)"></i><i style="height:2px;background:linear-gradient(90deg,#f00 0px,#f00 54px,#ff1200 75px,#ff3600 85px,#ff7b00 98px,#fdff00 112px,#4aff00 124px,#00ff05 131px,#00ff60 139px,#00ffc1 146px,#0ff 153px,#00a3ff 168px,#0007ff 211px)"></i><i style="height:2px;background:linear-gradient(90deg,#f00 0px,#f00 54px,#ff1300 76px,#ff3700 86px,#ff7d00 99px,#faff00 113px,#47ff00 125px,#00ff07 132px,#00ffc6 147px,#00fbff 154px,#00a5ff 168px,#0007ff 211px)"></i><i style="height:2px;background:linear-gradient(90deg,#f00 0px,#f00 55px,#ff1200 76px,#ff3500 86px,#ff7b00 99px,#fcff00 113px,#48ff00 125px,#00ff07 132px,#00ffc8 147px,#00fffd 153px,#00a2ff 168px,#0005ff 211px)"></i><i style="height:2px;background:linear-gradient(90deg,#f00 0px,#f00 56px,#ff1300 77px,#ff3700 87px,#ff7800 99px,#ff0 113px,#49ff00 125px,#00ff08 132px,#00ffcb 147px,#00feff 153px,#00a0ff 168px,#000aff 208px,#000aff 211px)"></i><i style="height:2px;background:linear-gradient(90deg,#f00 0px,#f00 57px,#f10 77px,#ff3500 87px,#ff7d00 100px,#fffd00 113px,#f5ff00 114px,#4aff00 125px,#00ff08 132px,#00ffcd 147px,#00fcff 153px,#009eff 168px,#000eff 206px,#000eff 211px)"></i><i style="height:2px;background:linear-gradient(90deg,#f00 0px,#f00 58px,#ff1200 78px,#ff3700 88px,#ff7a00 100px,#f7ff00 114px,#4bff00 125px,#00ff08 132px,#00ff6a 140px,#00ffc4 146px,#00fffd 152px,#009cff 168px,#0013ff 204px,#0013ff 211px)"></i><i style="height:2px;background:linear-gradient(90deg,#f00 0px,#f00 59px,#ff1300 79px,#ff3500 88px,#ff7800 100px,#faff00 114px,#4cff00 125px,#00ff08 132px,#00ffc7 146px,#0ff 152px,#09f 168px,#0017ff 202px,#0017ff 211px)"></i><i style="height:2px;background:linear-gradient(90deg,#f00 0px,#f00 59px,#f10 79px,#ff3700 89px,#ff7c00 101px,#fdff00 114px,#4dff00 125px,#00ff08 132px,#00ffca 146px,#00fcff 152px,#00a4ff 165px,#003dff 191px,#001cff 200px,#001cff 211px)"></i><i style="height:2px;background:linear-gradient(90deg,#f00 0px,#f00 60px,#ff1200 80px,#ff3500 89px,#ff7900 101px,#ff0 114px,#f2ff00 115px,#4eff00 125px,#00ff08 132px,#00ff62 139px,#00ffc0 145px,#00fffc 151px,#00a2ff 165px,#0023ff 197px,#0021ff 211px)"></i><i style="height:2px;background:linear-gradient(90deg,#f00 0px,#f00 61px,#f10 80px,#ff3700 90px,#f70 101px,#fffc00 114px,#f4ff00 115px,#4fff00 125px,#00ff08 132px,#00ff64 139px,#00ffc2 145px,#0ff 151px,#00a4ff 164px,#0026ff 195px,#0025ff 211px)"></i><i style="height:2px;background:linear-gradient(90deg,#f00 0px,#f00 62px,#ff1200 81px,#ff3400 90px,#ff7b00 102px,#f7ff00 115px,#50ff00 125px,#00ff08 132px,#00ffc5 145px,#00fcff 151px,#00a1ff 164px,#002aff 193px,#002aff 211px)"></i><i style="height:2px;background:linear-gradient(90deg,#f00 0px,#f00 63px,#ff1000 81px,#ff3700 91px,#ff7900 102px,#faff00 115px,#51ff00 125px,#00ff09 132px,#00ffc8 145px,#00f9ff 151px,#00a4ff 163px,#002eff 191px,#002eff 211px)"></i><i style="height:2px;background:linear-gradient(90deg,#f00 0px,#f00 64px,#f10 82px,#ff3400 91px,#ff7d00 103px,#fdff00 115px,#53ff00 125px,#00ff09 132px,#00ffcb 145px,#00fffe 150px,#00a6ff 162px,#03f 189px,#03f 211px)"></i><i style="height:2px;background:linear-gradient(90deg,#f00 0px,#f00 62px,#f10 81px,#ff3500 90px,#ff7d00 102px,#fffe00 114px,#f2ff00 115px,#58ff00 124px,#00ff04 131px,#00ff64 138px,#00ffc8 144px,#00fffd 149px,#00a7ff 161px,#0035ff 187px,#0035ff 211px)"></i><i style="height:2px;background:linear-gradient(90deg,#f00 0px,#f00 61px,#ff1200 80px,#ff3500 89px,#ff7d00 101px,#fffc00 113px,#f5ff00 114px,#5cff00 123px,#01ff00 130px,#00ff60 137px,#00ffc5 143px,#00faff 149px,#00a7ff 160px,#0038ff 185px,#0037ff 211px)"></i><i style="height:2px;background:linear-gradient(90deg,#f00 0px,#f00 59px,#ff1300 79px,#ff3600 88px,#ff7d00 100px,#f7ff00 113px,#51ff00 123px,#00ff07 130px,#00ff6b 137px,#00ffc2 142px,#00fbff 148px,#00a7ff 159px,#003bff 183px,#0038ff 211px)"></i><i style="height:2px;background:linear-gradient(90deg,#f00 0px,#f00 58px,#f10 77px,#ff3700 87px,#ff7c00 99px,#f9ff00 112px,#56ff00 122px,#00ff02 129px,#0fc 142px,#00fdff 147px,#00a7ff 158px,#003aff 182px,#003aff 211px)"></i><i style="height:2px;background:linear-gradient(90deg,#f00 0px,#f00 56px,#f10 76px,#ff3700 86px,#ff7c00 98px,#fcff00 111px,#5aff00 121px,#02ff00 128px,#00ff62 135px,#00ffc9 141px,#00feff 146px,#00a7ff 157px,#003eff 180px,#003cff 211px)"></i><i style="height:2px;background:linear-gradient(90deg,#f00 0px,#f00 55px,#ff1200 75px,#ff3800 85px,#ff7c00 97px,#feff00 110px,#50ff00 121px,#00ff06 128px,#00ff5d 134px,#00ffc6 140px,#00fffe 145px,#00a8ff 156px,#003eff 179px,#003eff 211px)"></i><i style="height:2px;background:linear-gradient(90deg,#f00 0px,#f00 53px,#ff1300 74px,#ff3900 84px,#ff7c00 96px,#fffe00 109px,#f3ff00 110px,#54ff00 120px,#00ff01 127px,#00ff68 134px,#00ffc3 139px,#00fffd 144px,#00a8ff 155px,#0040ff 177px,#0040ff 211px)"></i><i style="height:2px;background:linear-gradient(90deg,#f00 0px,#f00 52px,#ff1300 73px,#ff3900 83px,#ff7c00 95px,#fffc00 108px,#f5ff00 109px,#4aff00 120px,#00ff09 127px,#00ffce 139px,#00f9ff 144px,#00a8ff 154px,#04f 175px,#0041ff 211px)"></i><i style="height:2px;background:linear-gradient(90deg,#f00 0px,#f00 51px,#ff1400 72px,#ff3500 81px,#ff7c00 94px,#f7ff00 108px,#4eff00 119px,#00ff04 126px,#00ffcb 138px,#00fbff 143px,#00a2ff 154px,#0043ff 174px,#0043ff 211px)"></i><i style="height:2px;background:linear-gradient(90deg,#f00 0px,#f00 49px,#ff1200 70px,#ff3600 80px,#ff7c00 93px,#faff00 107px,#60ff00 117px,#01ff00 125px,#00ff5a 131px,#00ffc8 137px,#00fcff 142px,#00a8ff 152px,#0046ff 172px,#0045ff 211px)"></i><i style="height:2px;background:linear-gradient(90deg,#f00 0px,#f00 48px,#ff1300 69px,#ff3600 79px,#ff7c00 92px,#fcff00 106px,#49ff00 118px,#00ff08 125px,#0f6 131px,#00ffc4 136px,#00feff 141px,#00a2ff 152px,#0047ff 171px,#0047ff 211px)"></i><i style="height:2px;background:linear-gradient(90deg,#f00 0px,#f00 46px,#ff1300 68px,#ff3600 78px,#ff7a00 91px,#fffe00 105px,#f4ff00 106px,#5dff00 116px,#0f0 124px,#00ff5b 130px,#00ffc9 136px,#00fbff 141px,#00a7ff 151px,#0049ff 170px,#0048ff 211px)"></i><i style="height:2px;background:linear-gradient(90deg,#f00 0px,#f00 45px,#ff1500 68px,#ff7800 90px,#faff00 105px,#58ff00 116px,#00ff04 124px,#0fc 136px,#00faff 141px,#00a7ff 151px,#004bff 170px,#0049ff 211px)"></i><i style="height:2px;background:linear-gradient(90deg,#f00 0px,#f00 44px,#ff1500 67px,#ff3900 77px,#ff7d00 90px,#fffe00 104px,#f4ff00 105px,#53ff00 116px,#00ff08 124px,#00ffce 136px,#00f9ff 141px,#00a7ff 151px,#004cff 170px,#004aff 211px)"></i><i style="height:2px;background:linear-gradient(90deg,#f00 0px,#f00 43px,#ff1400 66px,#ff7b00 89px,#faff00 104px,#5aff00 115px,#01ff00 123px,#00ff67 130px,#00ffc2 135px,#00fffc 140px,#00a8ff 151px,#004dff 170px,#004bff 211px)"></i><i style="height:2px;background:linear-gradient(90deg,#f00 0px,#f00 42px,#ff1400 65px,#ff7900 88px,#ff0 103px,#f3ff00 104px,#5f0 115px,#00ff03 123px,#00ff6a 130px,#00ffc4 135px,#00fffd 140px,#00a8ff 151px,#004cff 171px,#004cff 211px)"></i><i style="height:2px;background:linear-gradient(90deg,#f00 0px,#f00 41px,#ff1400 64px,#ff3600 74px,#ff7d00 88px,#f9ff00 103px,#50ff00 115px,#00ff07 123px,#00ffc7 135px,#00fffe 140px,#00a8ff 151px,#004dff 171px,#004dff 211px)"></i><i style="height:2px;background:linear-gradient(90deg,#f00 0px,#f00 39px,#ff1600 64px,#ff7b00 87px,#ff0 102px,#58ff00 114px,#01ff00 122px,#00ff62 129px,#00ffc9 135px,#0ff 140px,#00a8ff 151px,#004eff 171px,#004eff 211px)"></i><i style="height:2px;background:linear-gradient(90deg,#f00 0px,#f00 38px,#ff1600 63px,#ff7900 86px,#f9ff00 102px,#53ff00 114px,#00ff02 122px,#00ff65 129px,#00ffcb 135px,#00feff 140px,#00a8ff 151px,#004eff 171px,#004eff 211px)"></i><i style="height:2px;background:linear-gradient(90deg,#f00 0px,#f00 37px,#ff1600 62px,#ff7d00 86px,#feff00 101px,#4eff00 114px,#00ff06 122px,#00ffcd 135px,#00fdff 140px,#00a8ff 151px,#004fff 171px,#004fff 211px)"></i><i style="height:2px;background:linear-gradient(90deg,#f00 0px,#f00 36px,#ff1600 61px,#ff7b00 85px,#f9ff00 101px,#56ff00 113px,#02ff00 121px,#00ff5d 128px,#00ffc2 134px,#00fcff 140px,#00a8ff 151px,#0050ff 171px,#0050ff 211px)"></i><i style="height:2px;background:linear-gradient(90deg,#f00 0px,#f00 35px,#ff1600 60px,#ff7900 84px,#feff00 100px,#5dff00 112px,#00ff01 121px,#00ff61 128px,#00ffc4 134px,#00fbff 140px,#00a9ff 151px,#0051ff 171px,#0051ff 211px)"></i></div>
<div class="cb" style="left:658px;top:914px;width:16px;height:202px;background:linear-gradient(180deg,#ff0b00 0%,#ff0b00 2.1%,#ff2000 2.1%,#ff2000 4.2%,#ff3500 4.2%,#ff3500 6.2%,#ff4a00 6.2%,#ff4a00 8.3%,#ff6000 8.3%,#ff6000 10.4%,#ff7500 10.4%,#ff7500 12.5%,#ff8a00 12.5%,#ff8a00 14.6%,#ff9f00 14.6%,#ff9f00 16.7%,#ffb500 16.7%,#ffb500 18.8%,#ffca00 18.8%,#ffca00 20.8%,#ffdf00 20.8%,#ffdf00 22.9%,#fff400 22.9%,#fff400 25%,#f4ff00 25%,#f4ff00 27.1%,#dfff00 27.1%,#dfff00 29.2%,#caff00 29.2%,#caff00 31.2%,#b5ff00 31.2%,#b5ff00 33.3%,#9fff00 33.3%,#9fff00 35.4%,#8aff00 35.4%,#8aff00 37.5%,#75ff00 37.5%,#75ff00 39.6%,#60ff00 39.6%,#60ff00 41.7%,#4aff00 41.7%,#4aff00 43.8%,#35ff00 43.8%,#35ff00 45.8%,#20ff00 45.8%,#20ff00 47.9%,#0bff00 47.9%,#0bff00 50%,#00ff0b 50%,#00ff0b 52.1%,#00ff20 52.1%,#00ff20 54.2%,#00ff35 54.2%,#00ff35 56.2%,#00ff4a 56.2%,#00ff4a 58.3%,#00ff60 58.3%,#00ff60 60.4%,#00ff75 60.4%,#00ff75 62.5%,#00ff8a 62.5%,#00ff8a 64.6%,#00ff9f 64.6%,#00ff9f 66.7%,#00ffb5 66.7%,#00ffb5 68.8%,#00ffca 68.8%,#00ffca 70.8%,#00ffdf 70.8%,#00ffdf 72.9%,#00fff4 72.9%,#00fff4 75%,#00f4ff 75%,#00f4ff 77.1%,#00dfff 77.1%,#00dfff 79.2%,#00caff 79.2%,#00caff 81.2%,#00b5ff 81.2%,#00b5ff 83.3%,#009fff 83.3%,#009fff 85.4%,#008aff 85.4%,#008aff 87.5%,#0075ff 87.5%,#0075ff 89.6%,#0060ff 89.6%,#0060ff 91.7%,#004aff 91.7%,#004aff 93.8%,#0035ff 93.8%,#0035ff 95.8%,#0020ff 95.8%,#0020ff 97.9%,#000bff 97.9%,#000bff 100%)"></div>
<div class="hm" style="left:771px;top:914px;width:211px;height:202px"><i style="height:2px;background:linear-gradient(90deg,#f30 0px,#ff3400 48px,#ff8100 64px,#fff900 78px,#efff00 80px,#4fff00 92px,#07ff00 99px,#00ff45 105px,#00ffc5 113px,#00fffa 118px,#00a3ff 131px,#0003ff 168px,#0001ff 211px)"></i><i style="height:2px;background:linear-gradient(90deg,#ff3200 0px,#ff3400 48px,#ff8000 64px,#fdff00 79px,#5dff00 91px,#00ff01 100px,#00ff5f 107px,#00ffc2 113px,#00fff8 118px,#00a0ff 132px,#0005ff 168px,#0003ff 211px)"></i><i style="height:2px;background:linear-gradient(90deg,#ff3200 0px,#f30 48px,#ff7e00 64px,#fffe00 79px,#54ff00 92px,#01ff00 100px,#00ff5c 107px,#0fc 114px,#0ff 119px,#00a1ff 132px,#0006ff 168px,#0005ff 211px)"></i><i style="height:2px;background:linear-gradient(90deg,#ff3100 0px,#ff3200 48px,#ff8400 65px,#fffc00 79px,#56ff00 92px,#03ff00 100px,#00ff58 107px,#00ffc9 114px,#00fffc 119px,#00a3ff 132px,#0008ff 168px,#0006ff 211px)"></i><i style="height:2px;background:linear-gradient(90deg,#ff3100 0px,#ff3100 48px,#ff8200 65px,#fffa00 79px,#59ff00 92px,#05ff00 100px,#00ff47 106px,#00ffc5 114px,#00fffa 119px,#00a4ff 132px,#000aff 168px,#0008ff 211px)"></i><i style="height:2px;background:linear-gradient(90deg,#ff3100 0px,#ff3100 48px,#ff8100 65px,#fff800 79px,#f0ff00 81px,#4fff00 93px,#07ff00 100px,#00ff1b 103px,#00ffc2 114px,#00fff8 119px,#00a1ff 133px,#000cff 168px,#000aff 211px)"></i><i style="height:2px;background:linear-gradient(90deg,#ff3000 0px,#ff3000 48px,#ff7f00 65px,#feff00 80px,#5eff00 92px,#0f0 101px,#00ff5d 108px,#0fc 115px,#00fffe 120px,#00a2ff 133px,#000eff 168px,#000cff 211px)"></i><i style="height:2px;background:linear-gradient(90deg,#ff3000 0px,#ff3000 48px,#ff7e00 65px,#fffe00 80px,#54ff00 93px,#02ff00 101px,#00ff5a 108px,#00ffc9 115px,#00fffc 120px,#00a4ff 133px,#0010ff 168px,#000eff 211px)"></i><i style="height:2px;background:linear-gradient(90deg,#ff2f00 0px,#ff2f00 48px,#ff7d00 65px,#fffc00 80px,#57ff00 93px,#04ff00 101px,#00ff56 108px,#00ffc6 115px,#00fffa 120px,#00a0ff 134px,#0012ff 168px,#000fff 211px)"></i><i style="height:2px;background:linear-gradient(90deg,#ff2f00 0px,#ff3100 49px,#ff8200 66px,#fffa00 80px,#4dff00 94px,#06ff00 101px,#00ff45 107px,#00ffc2 115px,#00fff7 120px,#00a2ff 134px,#01f 169px,#01f 211px)"></i><i style="height:2px;background:linear-gradient(90deg,#ff2e00 0px,#ff3000 49px,#ff8100 66px,#fff800 80px,#f0ff00 82px,#50ff00 94px,#00ff02 102px,#00ff5e 109px,#0fc 116px,#00fffe 121px,#00a3ff 134px,#0013ff 169px,#0013ff 211px)"></i><i style="height:2px;background:linear-gradient(90deg,#ff2e00 0px,#ff3000 49px,#ff7f00 66px,#feff00 81px,#5eff00 93px,#0f0 102px,#00ff5b 109px,#00ffc9 116px,#00fffb 121px,#00a0ff 135px,#0015ff 169px,#0015ff 211px)"></i><i style="height:2px;background:linear-gradient(90deg,#ff2d00 0px,#ff2f00 49px,#ff7e00 66px,#fffd00 81px,#5f0 94px,#02ff00 102px,#00ff58 109px,#00ffc6 116px,#00fff9 121px,#00a1ff 135px,#0017ff 169px,#0017ff 211px)"></i><i style="height:2px;background:linear-gradient(90deg,#ff2d00 0px,#ff2e00 49px,#ff8300 67px,#fffb00 81px,#57ff00 94px,#04ff00 102px,#00ff54 109px,#00ffc3 116px,#00fff7 121px,#00a3ff 135px,#0019ff 169px,#0019ff 211px)"></i><i style="height:2px;background:linear-gradient(90deg,#ff2c00 0px,#ff2d00 49px,#ff8200 67px,#fff900 81px,#4eff00 95px,#06ff00 102px,#00ff43 108px,#0fc 117px,#00fffd 122px,#00a4ff 135px,#001aff 169px,#001aff 211px)"></i><i style="height:2px;background:linear-gradient(90deg,#ff2c00 0px,#ff2d00 49px,#ff8000 67px,#fdff00 82px,#5cff00 94px,#00ff01 103px,#00ff5c 110px,#00ffc9 117px,#00fffb 122px,#00a1ff 136px,#001cff 169px,#001cff 211px)"></i><i style="height:2px;background:linear-gradient(90deg,#ff2c00 0px,#ff2c00 49px,#ff7f00 67px,#ff0 82px,#5fff00 94px,#01ff00 103px,#00ff67 111px,#00ffc6 117px,#00fff9 122px,#00a2ff 136px,#0020ff 168px,#001eff 211px)"></i><i style="height:2px;background:linear-gradient(90deg,#ff2b00 0px,#ff2b00 49px,#ff7e00 67px,#fffd00 82px,#5f0 95px,#03ff00 103px,#00ff56 110px,#00ffc3 117px,#00fff7 122px,#00a4ff 136px,#02f 168px,#0020ff 211px)"></i><i style="height:2px;background:linear-gradient(90deg,#ff2b00 0px,#ff2b00 49px,#ff7c00 67px,#fffb00 82px,#58ff00 95px,#04ff00 103px,#00ff53 110px,#0fc 118px,#00fffd 123px,#00a5ff 136px,#0023ff 168px,#02f 211px)"></i><i style="height:2px;background:linear-gradient(90deg,#ff2a00 0px,#ff2a00 49px,#ff8100 68px,#fff900 82px,#efff00 84px,#4eff00 96px,#06ff00 103px,#00ff42 109px,#00ffc9 118px,#00fffb 123px,#00a2ff 137px,#0025ff 168px,#0023ff 211px)"></i><i style="height:2px;background:linear-gradient(90deg,#ff2a00 0px,#ff2a00 49px,#ff8000 68px,#fdff00 83px,#5dff00 95px,#00ff01 104px,#00ff68 112px,#00ffc6 118px,#00fff9 123px,#00a3ff 137px,#0026ff 168px,#0025ff 211px)"></i><i style="height:2px;background:linear-gradient(90deg,#ff2900 0px,#ff2c00 50px,#ff7f00 68px,#ff0 83px,#5fff00 95px,#01ff00 104px,#00ff65 112px,#00ffc3 118px,#0ff 124px,#00a4ff 137px,#0028ff 168px,#0027ff 211px)"></i><i style="height:2px;background:linear-gradient(90deg,#ff2900 0px,#ff2b00 50px,#ff7d00 68px,#f7ff00 84px,#4aff00 97px,#00ff07 105px,#0fc 119px,#00f9ff 125px,#00a1ff 138px,#0029ff 168px,#0029ff 211px)"></i><i style="height:2px;background:linear-gradient(90deg,#ff2800 0px,#ff2900 50px,#ff8000 69px,#fdff00 84px,#5cff00 96px,#00ff01 105px,#00ff67 113px,#00ffc5 119px,#00feff 125px,#00a5ff 138px,#002aff 169px,#002aff 211px)"></i><i style="height:2px;background:linear-gradient(90deg,#ff2700 0px,#ff2700 50px,#ff7d00 69px,#f7ff00 85px,#4bff00 98px,#00ff07 106px,#00ffca 120px,#00fbff 126px,#00a3ff 139px,#002cff 169px,#002bff 211px)"></i><i style="height:2px;background:linear-gradient(90deg,#ff2600 0px,#ff2600 50px,#ff8000 70px,#fdff00 85px,#5dff00 97px,#00ff01 106px,#0f6 114px,#00ffc2 120px,#00fffe 126px,#00a2ff 140px,#002cff 170px,#002cff 211px)"></i><i style="height:2px;background:linear-gradient(90deg,#ff2500 0px,#ff2700 51px,#ff7d00 70px,#f8ff00 86px,#4bff00 99px,#00ff06 107px,#00ffc8 121px,#00fdff 127px,#00a5ff 140px,#002fff 170px,#002cff 211px)"></i><i style="height:2px;background:linear-gradient(90deg,#ff2400 0px,#ff2500 51px,#ff8000 71px,#feff00 86px,#5dff00 98px,#0f0 107px,#00ff64 115px,#0fc 122px,#00faff 128px,#00a3ff 141px,#002eff 171px,#002dff 211px)"></i><i style="height:2px;background:linear-gradient(90deg,#ff2300 0px,#ff2400 51px,#ff7c00 71px,#f8ff00 87px,#58ff00 99px,#00ff06 108px,#00ff6a 116px,#00ffc5 122px,#0ff 128px,#00a2ff 142px,#002eff 172px,#002eff 211px)"></i><i style="height:2px;background:linear-gradient(90deg,#f20 0px,#f20 51px,#ff7f00 72px,#feff00 87px,#5eff00 99px,#0f0 108px,#00ff62 116px,#00ffca 123px,#00fcff 129px,#00a5ff 142px,#0030ff 172px,#002fff 211px)"></i><i style="height:2px;background:linear-gradient(90deg,#ff2100 0px,#ff2300 52px,#ff7c00 72px,#f9ff00 88px,#58ff00 100px,#00ff05 109px,#00ff68 117px,#00ffc3 123px,#00f9ff 130px,#00a4ff 143px,#0030ff 173px,#0030ff 211px)"></i><i style="height:2px;background:linear-gradient(90deg,#ff2100 0px,#f20 52px,#ff7f00 73px,#ff0 88px,#5eff00 100px,#01ff00 109px,#00ff61 117px,#00ffc8 124px,#00feff 130px,#00a3ff 144px,#03f 173px,#0031ff 211px)"></i><i style="height:2px;background:linear-gradient(90deg,#ff2000 0px,#ff2000 52px,#ff7c00 73px,#f9ff00 89px,#59ff00 101px,#00ff05 110px,#0fc 125px,#00fbff 131px,#00a6ff 144px,#0032ff 174px,#0032ff 211px)"></i><i style="height:2px;background:linear-gradient(90deg,#ff1f00 0px,#ff1f00 52px,#ff7f00 74px,#ff0 89px,#5fff00 101px,#01ff00 110px,#00ff5f 118px,#00ffc5 125px,#00fffe 131px,#00a4ff 145px,#03f 175px,#03f 211px)"></i><i style="height:2px;background:linear-gradient(90deg,#ff1d00 0px,#ff1f00 53px,#ff8100 75px,#fcff00 90px,#5bff00 102px,#00ff02 111px,#00ff62 119px,#00ffc7 126px,#00fffe 132px,#00a5ff 146px,#0034ff 176px,#03f 211px)"></i><i style="height:2px;background:linear-gradient(90deg,#ff1b00 0px,#ff1d00 53px,#ff7c00 75px,#f9ff00 91px,#58ff00 103px,#00ff05 112px,#00ff63 120px,#00ffc7 127px,#00fffd 133px,#00a6ff 147px,#03f 178px,#03f 211px)"></i><i style="height:2px;background:linear-gradient(90deg,#ff1900 0px,#ff1b00 53px,#ff7e00 76px,#f6ff00 92px,#49ff00 105px,#00ff08 113px,#00ffc8 128px,#00fffd 134px,#00a3ff 149px,#0035ff 179px,#03f 211px)"></i><i style="height:2px;background:linear-gradient(90deg,#ff1800 0px,#ff1900 53px,#ff8000 77px,#feff00 92px,#5eff00 104px,#0f0 113px,#00ff67 122px,#00ffc8 129px,#00fffd 135px,#00a4ff 150px,#0034ff 181px,#03f 211px)"></i><i style="height:2px;background:linear-gradient(90deg,#ff1600 0px,#ff1700 53px,#ff7b00 77px,#fbff00 93px,#5aff00 105px,#00ff03 114px,#00ff69 123px,#00ffc9 130px,#00fffc 136px,#00a5ff 151px,#03f 183px,#03f 211px)"></i><i style="height:2px;background:linear-gradient(90deg,#ff1400 0px,#ff1700 54px,#ff7d00 78px,#f8ff00 94px,#4bff00 107px,#00ff05 115px,#00ffc9 131px,#00faff 138px,#00a6ff 152px,#0035ff 184px,#03f 211px)"></i><i style="height:2px;background:linear-gradient(90deg,#ff1200 0px,#ff1600 54px,#ff7900 78px,#fffe00 94px,#f5ff00 95px,#60ff00 106px,#02ff00 115px,#00ff60 124px,#00ffca 132px,#00fbff 139px,#00a3ff 154px,#0034ff 186px,#03f 211px)"></i><i style="height:2px;background:linear-gradient(90deg,#ff1000 0px,#ff1600 55px,#ff7a00 79px,#fdff00 95px,#5dff00 107px,#00ff01 116px,#00ff62 125px,#00ffca 133px,#00fbff 140px,#00a4ff 155px,#03f 188px,#03f 211px)"></i><i style="height:2px;background:linear-gradient(90deg,#ff0f00 0px,#ff1700 56px,#ff7c00 80px,#faff00 96px,#59ff00 108px,#00ff03 117px,#00ff64 126px,#00ffcb 134px,#00fcff 141px,#00a5ff 156px,#0035ff 189px,#03f 211px)"></i><i style="height:2px;background:linear-gradient(90deg,#ff0d00 0px,#ff1500 56px,#ff7d00 81px,#f7ff00 97px,#4aff00 110px,#00ff06 118px,#00ffcb 135px,#00fcff 142px,#00a6ff 157px,#0034ff 191px,#03f 211px)"></i><i style="height:2px;background:linear-gradient(90deg,#ff0b00 0px,#ff0b00 49px,#ff1600 57px,#ff7f00 82px,#ff0 97px,#5fff00 109px,#01ff00 118px,#00ff5c 127px,#00ffcb 136px,#00fcff 143px,#00a3ff 159px,#03f 193px,#03f 211px)"></i><i style="height:2px;background:linear-gradient(90deg,#ff0a00 0px,#ff0a00 48px,#ff1700 58px,#ff7a00 82px,#feff00 98px,#5eff00 110px,#01ff00 119px,#0f6 129px,#00ffca 137px,#00feff 144px,#00a5ff 160px,#0036ff 194px,#03f 211px)"></i><i style="height:2px;background:linear-gradient(90deg,#ff0900 0px,#ff0900 48px,#ff1500 58px,#ff7c00 83px,#fdff00 99px,#5fff00 111px,#02ff00 120px,#00ff58 129px,#00ffc7 138px,#00fffe 145px,#00a7ff 161px,#003bff 194px,#03f 211px)"></i><i style="height:2px;background:linear-gradient(90deg,#ff0800 0px,#ff0800 47px,#ff1700 59px,#ff7d00 84px,#fcff00 100px,#54ff00 113px,#00ff06 122px,#00ff61 131px,#00ffc4 139px,#00fcff 147px,#00a4ff 163px,#04f 193px,#03f 199px,#03f 211px)"></i><i style="height:2px;background:linear-gradient(90deg,#ff0700 0px,#ff0700 46px,#ff1800 60px,#ff7e00 85px,#fcff00 101px,#5f0 114px,#00ff04 123px,#00ffcb 141px,#00feff 148px,#009cff 167px,#0034ff 200px,#03f 211px)"></i><i style="height:2px;background:linear-gradient(90deg,#ff0600 0px,#ff0600 45px,#ff1600 60px,#ff7a00 85px,#fbff00 102px,#5f0 115px,#00ff03 124px,#00ff67 134px,#00ffc8 142px,#00fffd 149px,#009dff 168px,#03f 202px,#03f 211px)"></i><i style="height:2px;background:linear-gradient(90deg,#ff0500 0px,#ff0500 44px,#ff1700 61px,#ff7b00 86px,#fbff00 103px,#56ff00 116px,#00ff01 125px,#00ff64 135px,#00ffc5 143px,#00fdff 151px,#009fff 169px,#0035ff 203px,#03f 211px)"></i><i style="height:2px;background:linear-gradient(90deg,#ff0400 0px,#ff0400 42px,#ff1600 61px,#ff7c00 87px,#faff00 104px,#57ff00 117px,#0f0 126px,#00ff62 136px,#00ffc2 144px,#0ff 152px,#00a1ff 170px,#0035ff 205px,#03f 211px)"></i><i style="height:2px;background:linear-gradient(90deg,#ff0300 0px,#ff0300 41px,#ff1700 62px,#ff7d00 88px,#f9ff00 105px,#58ff00 118px,#01ff00 127px,#00ff5f 137px,#00ffc9 146px,#00fffd 153px,#00a3ff 171px,#0034ff 207px,#03f 211px)"></i><i style="height:2px;background:linear-gradient(90deg,#ff0200 0px,#ff0300 40px,#ff1800 63px,#ff7e00 89px,#f9ff00 106px,#58ff00 119px,#02ff00 128px,#00ff5d 138px,#00ffc6 147px,#00fdff 155px,#00a4ff 172px,#03f 211px)"></i><i style="height:2px;background:linear-gradient(90deg,#ff0100 0px,#ff0100 38px,#ff1700 63px,#ff7a00 89px,#f8ff00 107px,#4eff00 121px,#00ff05 130px,#00ff65 140px,#00ffc3 148px,#0ff 156px,#00a6ff 173px,#03f 211px)"></i><i style="height:2px;background:linear-gradient(90deg,#ff0100 0px,#ff0100 37px,#ff1800 64px,#ff7b00 90px,#f8ff00 108px,#4fff00 122px,#00ff04 131px,#00ff63 141px,#00ffca 150px,#00fffc 157px,#00a4ff 175px,#0038ff 211px)"></i><i style="height:2px;background:linear-gradient(90deg,#f00 0px,#f00 36px,#ff1700 64px,#ff7c00 91px,#f7ff00 109px,#5bff00 122px,#00ff02 132px,#00ff61 142px,#00ffc8 151px,#00fdff 159px,#00a5ff 176px,#003cff 211px)"></i><i style="height:2px;background:linear-gradient(90deg,#f00 0px,#f00 36px,#ff1800 65px,#ff7e00 92px,#f7ff00 110px,#5cff00 123px,#0f0 133px,#00ff5f 143px,#00ffc7 152px,#00fdff 160px,#00a5ff 177px,#003eff 211px)"></i><i style="height:2px;background:linear-gradient(90deg,#f00 0px,#f00 36px,#ff1800 65px,#ff7a00 92px,#f6ff00 111px,#5dff00 124px,#02ff00 134px,#00ff5d 144px,#00ffc6 153px,#00fdff 161px,#00a5ff 178px,#0040ff 211px)"></i><i style="height:2px;background:linear-gradient(90deg,#f00 0px,#ff0100 37px,#ff1900 66px,#ff7c00 93px,#ff0 111px,#54ff00 126px,#00ff04 136px,#0f6 146px,#00ffc5 154px,#00feff 162px,#00a4ff 179px,#0041ff 211px)"></i><i style="height:2px;background:linear-gradient(90deg,#f00 0px,#ff0100 37px,#ff1800 66px,#ff7d00 94px,#ff0 112px,#5f0 127px,#00ff02 137px,#00ff64 147px,#00ffc3 155px,#00feff 163px,#00a4ff 180px,#0043ff 211px)"></i><i style="height:2px;background:linear-gradient(90deg,#f00 0px,#f00 36px,#ff1700 66px,#ff7f00 95px,#feff00 113px,#57ff00 128px,#0f0 138px,#00ff62 148px,#00ffc2 156px,#00feff 164px,#00a7ff 180px,#0045ff 211px)"></i><i style="height:2px;background:linear-gradient(90deg,#f00 0px,#ff0100 37px,#ff1900 67px,#ff7b00 95px,#feff00 114px,#58ff00 129px,#02ff00 139px,#0f5 148px,#00ffcb 158px,#00feff 165px,#00a7ff 181px,#0048ff 211px)"></i><i style="height:2px;background:linear-gradient(90deg,#f00 0px,#ff0100 37px,#ff1800 67px,#ff7c00 96px,#fdff00 115px,#50ff00 131px,#00ff04 141px,#00ffca 159px,#0ff 166px,#00a7ff 182px,#004aff 211px)"></i><i style="height:2px;background:linear-gradient(90deg,#f00 0px,#ff0100 38px,#ff1900 68px,#ff7e00 97px,#fdff00 116px,#5bff00 131px,#00ff02 142px,#00ff67 152px,#00ffc9 160px,#0ff 167px,#00a6ff 183px,#004cff 211px)"></i><i style="height:2px;background:linear-gradient(90deg,#f00 0px,#ff0100 38px,#ff1900 68px,#ff7b00 97px,#fcff00 117px,#5cff00 132px,#0f0 143px,#00ff65 153px,#00ffc8 161px,#0ff 168px,#00a6ff 184px,#004eff 211px)"></i><i style="height:2px;background:linear-gradient(90deg,#f00 0px,#ff0100 37px,#ff1800 68px,#ff7c00 98px,#fcff00 118px,#5dff00 133px,#02ff00 144px,#00ff58 153px,#00ffc7 162px,#00fffe 169px,#00a6ff 185px,#0050ff 211px)"></i><i style="height:2px;background:linear-gradient(90deg,#f00 0px,#ff0100 38px,#ff1900 69px,#ff7d00 99px,#faff00 119px,#5dff00 134px,#02ff00 145px,#00ff59 154px,#00ffc9 163px,#00feff 170px,#00a8ff 185px,#0051ff 211px)"></i><i style="height:2px;background:linear-gradient(90deg,#f00 0px,#ff0100 39px,#ff1900 70px,#ff7b00 99px,#fdff00 119px,#5eff00 134px,#02ff00 145px,#00ff5c 154px,#00ffc4 162px,#00fffe 169px,#00a7ff 184px,#004aff 211px)"></i><i style="height:2px;background:linear-gradient(90deg,#f00 0px,#ff0100 39px,#ff1700 70px,#ff7d00 100px,#f7ff00 120px,#5fff00 134px,#03ff00 145px,#00ff53 153px,#00ffc9 162px,#00fffc 168px,#00a6ff 183px,#0043ff 211px)"></i><i style="height:2px;background:linear-gradient(90deg,#f00 0px,#ff0100 40px,#ff1800 71px,#ff7a00 100px,#faff00 120px,#60ff00 134px,#03ff00 145px,#00ff56 153px,#00ffc4 161px,#00fcff 168px,#00a6ff 182px,#003cff 211px)"></i><i style="height:2px;background:linear-gradient(90deg,#f00 0px,#f00 41px,#ff1800 72px,#ff7d00 101px,#fcff00 120px,#58ff00 135px,#03ff00 145px,#00ff59 153px,#00ffca 161px,#00feff 167px,#00a0ff 182px,#003fff 208px,#003eff 211px)"></i><i style="height:2px;background:linear-gradient(90deg,#f00 0px,#f00 41px,#ff1600 72px,#ff7a00 101px,#ff0 120px,#59ff00 135px,#03ff00 145px,#00ff50 152px,#00ffc4 160px,#00fffd 166px,#009fff 181px,#0042ff 205px,#0041ff 211px)"></i><i style="height:2px;background:linear-gradient(90deg,#f00 0px,#f00 43px,#ff1600 73px,#ff7c00 102px,#f9ff00 121px,#5aff00 135px,#03ff00 145px,#00ff53 152px,#00ffcb 160px,#00faff 166px,#009aff 181px,#0046ff 202px,#04f 211px)"></i><i style="height:2px;background:linear-gradient(90deg,#f00 0px,#f00 44px,#ff1600 74px,#ff7a00 102px,#fcff00 121px,#5cff00 135px,#03ff00 145px,#00ff56 152px,#00ffc5 159px,#00fdff 165px,#00a7ff 177px,#004aff 199px,#0047ff 211px)"></i><i style="height:2px;background:linear-gradient(90deg,#f00 0px,#f00 45px,#ff1600 75px,#ff7c00 103px,#ff0 121px,#5dff00 135px,#03ff00 145px,#00ff4b 151px,#0fc 159px,#0ff 164px,#00a5ff 176px,#004aff 197px,#0049ff 211px)"></i><i style="height:2px;background:linear-gradient(90deg,#f00 0px,#f00 46px,#ff1500 75px,#ff7900 103px,#f8ff00 122px,#5fff00 135px,#03ff00 145px,#00ff4f 151px,#00ffc5 158px,#00fffc 163px,#00a4ff 175px,#004eff 194px,#004cff 211px)"></i><i style="height:2px;background:linear-gradient(90deg,#f00 0px,#f00 48px,#ff1500 76px,#ff7b00 104px,#fbff00 122px,#60ff00 135px,#03ff00 145px,#00ff52 151px,#00ffcd 158px,#00faff 163px,#00a3ff 174px,#004fff 192px,#004fff 211px)"></i><i style="height:2px;background:linear-gradient(90deg,#f00 0px,#f00 49px,#ff1500 77px,#ff3900 89px,#ff7e00 105px,#feff00 122px,#57ff00 136px,#03ff00 145px,#00ff56 151px,#00ffc6 157px,#00fdff 162px,#00a8ff 172px,#0054ff 189px,#0051ff 211px)"></i><i style="height:2px;background:linear-gradient(90deg,#f00 0px,#f00 50px,#ff1500 77px,#ff7a00 104px,#f7ff00 122px,#57ff00 135px,#02ff00 144px,#00ff59 150px,#00ffc9 156px,#00fbff 161px,#00a6ff 171px,#0051ff 188px,#0051ff 211px)"></i><i style="height:2px;background:linear-gradient(90deg,#f00 0px,#f00 50px,#ff1500 77px,#ff3600 88px,#ff7d00 104px,#faff00 121px,#58ff00 134px,#01ff00 143px,#00ff5c 149px,#0fc 155px,#00fffc 159px,#00a4ff 170px,#0050ff 187px,#0050ff 211px)"></i><i style="height:2px;background:linear-gradient(90deg,#f00 0px,#f00 51px,#ff1400 77px,#ff7900 103px,#fdff00 120px,#58ff00 133px,#0f0 142px,#00ff5f 148px,#00ffc0 153px,#00fffe 158px,#00a8ff 168px,#0052ff 185px,#004fff 211px)"></i><i style="height:2px;background:linear-gradient(90deg,#f00 0px,#f00 51px,#ff1400 77px,#ff3700 88px,#ff7c00 103px,#ff0 119px,#58ff00 132px,#00ff03 141px,#00ff62 147px,#00ffc3 152px,#00fdff 157px,#00a6ff 167px,#0050ff 184px,#004eff 211px)"></i><i style="height:2px;background:linear-gradient(90deg,#f00 0px,#f00 52px,#ff1400 77px,#ff7900 102px,#f7ff00 119px,#58ff00 131px,#00ff05 140px,#00ff65 146px,#00ffc7 151px,#00faff 156px,#00a4ff 166px,#004dff 183px,#004dff 211px)"></i><i style="height:2px;background:linear-gradient(90deg,#f00 0px,#f00 52px,#ff1400 77px,#ff3800 88px,#ff7b00 102px,#faff00 118px,#4dff00 131px,#00ff07 139px,#00ffca 150px,#00fffc 154px,#00a9ff 164px,#004cff 182px,#004cff 211px)"></i><i style="height:2px;background:linear-gradient(90deg,#f00 0px,#f00 53px,#ff1400 77px,#ff3900 88px,#ff7d00 102px,#fdff00 117px,#4dff00 130px,#00ff09 138px,#00ffbd 148px,#00fffe 153px,#00a6ff 163px,#004eff 180px,#004bff 211px)"></i><i style="height:2px;background:linear-gradient(90deg,#f00 0px,#f00 53px,#ff1400 77px,#ff3500 87px,#ff7a00 101px,#fffe00 116px,#f4ff00 117px,#59ff00 128px,#02ff00 136px,#00ff5e 142px,#00ffc1 147px,#00fdff 152px,#00a4ff 162px,#004cff 179px,#004aff 211px)"></i><i style="height:2px;background:linear-gradient(90deg,#f00 0px,#f00 54px,#ff1300 77px,#ff3500 87px,#ff7d00 101px,#f8ff00 116px,#59ff00 127px,#01ff00 135px,#00ff61 141px,#00ffc5 146px,#00faff 151px,#00a2ff 161px,#004aff 178px,#0049ff 211px)"></i><i style="height:2px;background:linear-gradient(90deg,#f00 0px,#f00 55px,#ff1300 77px,#ff3600 87px,#ff7900 100px,#fbff00 115px,#5aff00 126px,#00ff01 134px,#00ff65 140px,#00ffc9 145px,#00f7ff 150px,#00a7ff 159px,#0049ff 177px,#0049ff 211px)"></i><i style="height:2px;background:linear-gradient(90deg,#f00 0px,#f00 55px,#ff1300 77px,#ff3700 87px,#ff7c00 100px,#feff00 114px,#5aff00 125px,#00ff03 133px,#0fc 144px,#00fffe 148px,#00a5ff 158px,#004aff 175px,#0048ff 211px)"></i><i style="height:2px;background:linear-gradient(90deg,#f00 0px,#f00 55px,#ff1200 76px,#ff3400 86px,#ff7800 99px,#f7ff00 114px,#5fff00 124px,#01ff00 132px,#00ff62 138px,#00ffc7 143px,#00f8ff 148px,#00a7ff 157px,#0047ff 175px,#0047ff 211px)"></i><i style="height:2px;background:linear-gradient(90deg,#f00 0px,#f00 54px,#ff1300 76px,#ff3600 86px,#ff7c00 99px,#fdff00 113px,#58ff00 124px,#00ff07 132px,#00ffce 143px,#0ff 147px,#00a5ff 157px,#0047ff 175px,#0047ff 211px)"></i><i style="height:2px;background:linear-gradient(90deg,#f00 0px,#f00 54px,#ff1200 75px,#ff3400 85px,#ff7900 98px,#f6ff00 113px,#5eff00 123px,#0f0 131px,#00ff62 137px,#00ffc5 142px,#00faff 147px,#00a3ff 157px,#004aff 174px,#0047ff 211px)"></i><i style="height:2px;background:linear-gradient(90deg,#f00 0px,#f00 53px,#ff1300 75px,#ff3700 85px,#ff7c00 98px,#fcff00 112px,#57ff00 123px,#00ff07 131px,#0fc 142px,#00fffd 146px,#00a7ff 156px,#0049ff 174px,#0047ff 211px)"></i><i style="height:2px;background:linear-gradient(90deg,#f00 0px,#f00 53px,#ff1200 74px,#ff3400 84px,#ff7900 97px,#f6ff00 112px,#5eff00 122px,#0f0 130px,#00ff61 136px,#00ffc4 141px,#00fcff 146px,#00a5ff 156px,#0048ff 174px,#0047ff 211px)"></i><i style="height:2px;background:linear-gradient(90deg,#f00 0px,#f00 52px,#ff1300 74px,#ff3700 84px,#ff7c00 97px,#fcff00 111px,#56ff00 122px,#00ff08 130px,#00ffcb 141px,#00f8ff 146px,#00a2ff 156px,#0047ff 174px,#0047ff 211px)"></i><i style="height:2px;background:linear-gradient(90deg,#f00 0px,#f00 52px,#ff1200 73px,#ff3500 83px,#ff7900 96px,#fffd00 110px,#f5ff00 111px,#5dff00 121px,#00ff01 129px,#00ff60 135px,#00ffc2 140px,#00feff 145px,#00a6ff 155px,#0047ff 174px,#0047ff 211px)"></i><i style="height:2px;background:linear-gradient(90deg,#f00 0px,#f00 51px,#ff1300 73px,#ff3700 83px,#ff7d00 96px,#fbff00 110px,#56ff00 121px,#00ff08 129px,#00ffc9 140px,#00f9ff 145px,#00a4ff 155px,#0049ff 173px,#0047ff 211px)"></i><i style="height:2px;background:linear-gradient(90deg,#f00 0px,#f00 51px,#ff1200 72px,#ff3500 82px,#ff7900 95px,#fffd00 109px,#f4ff00 110px,#5cff00 120px,#00ff01 128px,#00ff60 134px,#00ffc0 139px,#00fffe 144px,#00a8ff 154px,#0048ff 173px,#0047ff 211px)"></i><i style="height:2px;background:linear-gradient(90deg,#f00 0px,#f00 50px,#ff1300 72px,#ff3700 82px,#ff7d00 95px,#fbff00 109px,#5f0 120px,#00ff09 128px,#00ffc7 139px,#00fbff 144px,#00a6ff 154px,#0047ff 173px,#0047ff 211px)"></i><i style="height:2px;background:linear-gradient(90deg,#f00 0px,#f00 50px,#ff1200 71px,#ff3500 81px,#ff7a00 94px,#fffe00 108px,#f4ff00 109px,#5cff00 119px,#00ff02 127px,#00ff5f 133px,#00ffbe 138px,#00fffd 143px,#00a4ff 154px,#0047ff 173px,#0047ff 211px)"></i></div>
<div class="cb" style="left:1016px;top:914px;width:16px;height:202px;background:linear-gradient(180deg,#ff0b00 0%,#ff0b00 2.1%,#ff2000 2.1%,#ff2000 4.2%,#ff3500 4.2%,#ff3500 6.2%,#ff4a00 6.2%,#ff4a00 8.3%,#ff6000 8.3%,#ff6000 10.4%,#ff7500 10.4%,#ff7500 12.5%,#ff8a00 12.5%,#ff8a00 14.6%,#ff9f00 14.6%,#ff9f00 16.7%,#ffb500 16.7%,#ffb500 18.8%,#ffca00 18.8%,#ffca00 20.8%,#ffdf00 20.8%,#ffdf00 22.9%,#fff400 22.9%,#fff400 25%,#f4ff00 25%,#f4ff00 27.1%,#dfff00 27.1%,#dfff00 29.2%,#caff00 29.2%,#caff00 31.2%,#b5ff00 31.2%,#b5ff00 33.3%,#9fff00 33.3%,#9fff00 35.4%,#8aff00 35.4%,#8aff00 37.5%,#75ff00 37.5%,#75ff00 39.6%,#60ff00 39.6%,#60ff00 41.7%,#4aff00 41.7%,#4aff00 43.8%,#35ff00 43.8%,#35ff00 45.8%,#20ff00 45.8%,#20ff00 47.9%,#0bff00 47.9%,#0bff00 50%,#00ff0b 50%,#00ff0b 52.1%,#00ff20 52.1%,#00ff20 54.2%,#00ff35 54.2%,#00ff35 56.2%,#00ff4a 56.2%,#00ff4a 58.3%,#00ff60 58.3%,#00ff60 60.4%,#00ff75 60.4%,#00ff75 62.5%,#00ff8a 62.5%,#00ff8a 64.6%,#00ff9f 64.6%,#00ff9f 66.7%,#00ffb5 66.7%,#00ffb5 68.8%,#00ffca 68.8%,#00ffca 70.8%,#00ffdf 70.8%,#00ffdf 72.9%,#00fff4 72.9%,#00fff4 75%,#00f4ff 75%,#00f4ff 77.1%,#00dfff 77.1%,#00dfff 79.2%,#00caff 79.2%,#00caff 81.2%,#00b5ff 81.2%,#00b5ff 83.3%,#009fff 83.3%,#009fff 85.4%,#008aff 85.4%,#008aff 87.5%,#0075ff 87.5%,#0075ff 89.6%,#0060ff 89.6%,#0060ff 91.7%,#004aff 91.7%,#004aff 93.8%,#0035ff 93.8%,#0035ff 95.8%,#0020ff 95.8%,#0020ff 97.9%,#000bff 97.9%,#000bff 100%)"></div>
<div class="hm" style="left:57px;top:1208px;width:210px;height:203px"><i style="height:56px;background:linear-gradient(90deg,#000bff 0px,#0016ff 13px,#003dff 23px,#008fff 35px,#00fffc 46px,#00ffa6 53px,#00ff02 64px,#2f0 67px,#67ff00 72px,#f8ff00 79px,#f50 91px,#f30 95px,#ff3400 116px,#ffb100 126px,#fff200 130px,#f8ff00 131px,#57ff00 139px,#00ff02 146px,#00ffa6 157px,#00fffc 164px,#008fff 175px,#003dff 187px,#0016ff 197px,#000bff 210px)"></i><i style="height:2px;background:linear-gradient(90deg,#000bff 0px,#0016ff 13px,#003dff 23px,#008fff 35px,#00fffc 46px,#00ffa6 53px,#00ff02 64px,#0aff00 65px,#67ff00 72px,#f8ff00 79px,#f50 91px,#f30 95px,#ff3400 116px,#ffb100 126px,#fff200 130px,#f8ff00 131px,#57ff00 139px,#00ff02 146px,#00ffa6 157px,#00fffc 164px,#008fff 175px,#003dff 187px,#0016ff 197px,#000bff 210px)"></i><i style="height:10px;background:linear-gradient(90deg,#000bff 0px,#0016ff 13px,#003dff 23px,#008fff 35px,#00fffc 46px,#00ffa6 53px,#00ff02 64px,#2f0 67px,#67ff00 72px,#f8ff00 79px,#f50 91px,#f30 95px,#ff3400 116px,#ffb100 126px,#fff200 130px,#f8ff00 131px,#57ff00 139px,#00ff02 146px,#00ffa6 157px,#00fffc 164px,#008fff 175px,#003dff 187px,#0016ff 197px,#000bff 210px)"></i><i style="height:2px;background:linear-gradient(90deg,#000bff 0px,#0016ff 13px,#003dff 23px,#008fff 35px,#00fffc 46px,#00ffa7 53px,#00ff03 64px,#56ff00 71px,#f7ff00 79px,#ff5600 91px,#f30 95px,#f30 116px,#ffb000 126px,#faff00 131px,#58ff00 139px,#00ff01 146px,#00ffb3 158px,#00fffb 164px,#0087ff 176px,#003dff 187px,#0017ff 197px,#000cff 210px)"></i><i style="height:2px;background:linear-gradient(90deg,#000bff 0px,#0017ff 13px,#003dff 23px,#008fff 35px,#00fffd 46px,#00ffa7 53px,#00ff04 64px,#15ff00 66px,#65ff00 72px,#f5ff00 79px,#fff500 80px,#ff5700 91px,#ff3200 95px,#ff3200 116px,#ffae00 126px,#fe0 130px,#fdff00 131px,#5aff00 139px,#01ff00 146px,#00ffb1 158px,#00f9ff 165px,#08f 176px,#0039ff 188px,#0017ff 197px,#000cff 210px)"></i><i style="height:2px;background:linear-gradient(90deg,#000cff 0px,#0017ff 13px,#003dff 23px,#008eff 35px,#00fffd 46px,#00ffa8 53px,#00ff04 64px,#45ff00 70px,#fff700 80px,#ffa800 85px,#ff3100 95px,#ff3100 116px,#ffba00 127px,#fffe00 131px,#5dff00 139px,#03ff00 146px,#00ffaf 158px,#00fbff 165px,#0089ff 176px,#0039ff 188px,#0017ff 197px,#000cff 210px)"></i><i style="height:2px;background:linear-gradient(90deg,#000cff 0px,#0017ff 13px,#003dff 23px,#008eff 35px,#00fffe 46px,#07ff00 65px,#62ff00 72px,#fff900 80px,#ffb600 84px,#ff3100 95px,#ff3100 116px,#ffb800 127px,#fffc00 131px,#5fff00 139px,#04ff00 146px,#00fff7 164px,#008bff 176px,#003aff 188px,#0018ff 197px,#000cff 210px)"></i><i style="height:2px;background:linear-gradient(90deg,#000cff 0px,#0017ff 13px,#003dff 23px,#008eff 35px,#00fffe 46px,#00ffa9 53px,#00ff06 64px,#13ff00 66px,#61ff00 72px,#fffb00 80px,#ffb800 84px,#ff3000 95px,#ff3000 116px,#ffb600 127px,#fff900 131px,#51ff00 140px,#00ff07 147px,#00ffab 158px,#00feff 165px,#008cff 176px,#003bff 188px,#0018ff 197px,#000cff 210px)"></i><i style="height:2px;background:linear-gradient(90deg,#000cff 0px,#0017ff 13px,#003dff 23px,#008eff 35px,#00fffe 46px,#0fa 53px,#00ff07 64px,#41ff00 70px,#96ff00 75px,#fffc00 80px,#ffb900 84px,#ff5d00 91px,#ff3000 96px,#ff3000 116px,#ffb400 127px,#fff600 131px,#53ff00 140px,#00ff05 147px,#00ffa9 158px,#0ff 165px,#008dff 176px,#003cff 188px,#0018ff 197px,#000cff 210px)"></i><i style="height:2px;background:linear-gradient(90deg,#000cff 0px,#0017ff 13px,#003dff 23px,#008eff 35px,#0ff 46px,#00ffab 53px,#00ff08 64px,#40ff00 70px,#95ff00 75px,#fffe00 80px,#ffba00 84px,#ff5f00 91px,#ff2f00 96px,#ff2f00 116px,#ff5600 120px,#fff400 131px,#f7ff00 132px,#5f0 140px,#00ff03 147px,#00ffa7 158px,#00fffd 165px,#008eff 176px,#003cff 188px,#0016ff 198px,#000cff 210px)"></i><i style="height:2px;background:linear-gradient(90deg,#000cff 0px,#0017ff 13px,#003dff 23px,#008eff 35px,#0ff 46px,#00ffab 53px,#04ff00 65px,#5dff00 72px,#feff00 80px,#ffae00 85px,#f30 95px,#ff3400 117px,#ffb000 127px,#fff100 131px,#faff00 132px,#58ff00 140px,#00ff01 147px,#00ffb3 159px,#00fffc 165px,#008fff 176px,#003dff 188px,#0017ff 198px,#000cff 210px)"></i><i style="height:2px;background:linear-gradient(90deg,#000cff 0px,#0017ff 13px,#003dff 23px,#008eff 35px,#0ff 46px,#00ffac 53px,#00ff0a 64px,#32ff00 69px,#7fff00 74px,#fcff00 80px,#ffb000 85px,#ff2e00 96px,#ff3200 117px,#ffaf00 127px,#ffef00 131px,#fcff00 132px,#5aff00 140px,#0f0 147px,#00ffb2 159px,#00f9ff 166px,#0091ff 176px,#003eff 188px,#0017ff 198px,#000cff 210px)"></i><i style="height:2px;background:linear-gradient(90deg,#000cff 0px,#0017ff 13px,#003dff 23px,#008eff 35px,#00feff 46px,#00ffac 53px,#00ff0a 64px,#3dff00 70px,#90ff00 75px,#fbff00 80px,#ffb100 85px,#ff2d00 96px,#ff3100 117px,#ffba00 128px,#ff0 132px,#5cff00 140px,#02ff00 147px,#00ffb0 159px,#00fbff 166px,#0089ff 177px,#003fff 188px,#0017ff 198px,#000cff 210px)"></i><i style="height:2px;background:linear-gradient(90deg,#000cff 0px,#0017ff 13px,#003dff 23px,#008eff 35px,#00feff 46px,#00ffad 53px,#02ff00 65px,#3cff00 70px,#8eff00 75px,#f9ff00 80px,#ff5800 92px,#ff2d00 97px,#ff2f00 117px,#ffb800 128px,#fffc00 132px,#4eff00 141px,#00ff09 148px,#00ffae 159px,#00fcff 166px,#008aff 177px,#003fff 188px,#0017ff 198px,#000cff 210px)"></i><i style="height:2px;background:linear-gradient(90deg,#000cff 0px,#0017ff 13px,#003dff 23px,#008dff 35px,#00feff 46px,#00ffae 53px,#00ff0c 64px,#0dff00 66px,#58ff00 72px,#f7ff00 80px,#fff400 81px,#ff5900 92px,#ff2c00 97px,#ff2e00 117px,#ffb700 128px,#fffa00 132px,#51ff00 141px,#00ff07 148px,#00ffac 159px,#00feff 166px,#008bff 177px,#003bff 189px,#0018ff 198px,#000cff 210px)"></i><i style="height:2px;background:linear-gradient(90deg,#000cff 0px,#0017ff 13px,#003dff 23px,#008dff 35px,#00fdff 46px,#00ffae 53px,#0f0 65px,#3bff00 70px,#79ff00 74px,#f5ff00 80px,#fff600 81px,#ff5a00 92px,#ff2b00 97px,#ff2d00 117px,#ffb500 128px,#fff700 132px,#53ff00 141px,#00ff06 148px,#0fa 159px,#0ff 166px,#008dff 177px,#003bff 189px,#0018ff 198px,#000cff 210px)"></i><i style="height:2px;background:linear-gradient(90deg,#000cff 0px,#0017ff 13px,#003dff 23px,#008dff 35px,#00fdff 46px,#00ffaf 53px,#00ff01 65px,#2dff00 69px,#7f0 74px,#fff700 81px,#ff5c00 92px,#ff2b00 97px,#ff2b00 117px,#ffb300 128px,#fff400 132px,#f6ff00 133px,#5f0 141px,#00ff04 148px,#00ffa8 159px,#00fffd 166px,#008eff 177px,#003cff 189px,#0018ff 198px,#000cff 210px)"></i><i style="height:2px;background:linear-gradient(90deg,#000cff 0px,#0017ff 13px,#003dff 23px,#008dff 35px,#00fdff 46px,#00ffb0 53px,#00ff02 65px,#39ff00 70px,#76ff00 74px,#fff900 81px,#fa0 86px,#ff2a00 97px,#ff2a00 117px,#ffb100 128px,#fff200 132px,#f9ff00 133px,#57ff00 141px,#00ff02 148px,#00ffb4 160px,#00fffc 166px,#008fff 177px,#003dff 189px,#0019ff 198px,#000cff 210px)"></i><i style="height:2px;background:linear-gradient(90deg,#000cff 0px,#0017ff 13px,#003dff 23px,#008dff 35px,#00fcff 46px,#00ffbd 52px,#00ff1d 63px,#0aff00 66px,#63ff00 73px,#fffb00 81px,#ffac00 86px,#ff2a00 97px,#ff2a00 117px,#ffaf00 128px,#ffef00 132px,#fcff00 133px,#59ff00 141px,#0f0 148px,#00ffb2 160px,#00f9ff 167px,#0090ff 177px,#003eff 189px,#0017ff 199px,#000dff 210px)"></i><i style="height:2px;background:linear-gradient(90deg,#000cff 0px,#0017ff 13px,#003dff 23px,#008dff 35px,#00fcff 46px,#00ffbe 52px,#00ff1d 63px,#09ff00 66px,#62ff00 73px,#fffd00 81px,#ffba00 85px,#ff5400 93px,#ff2900 98px,#ff2900 117px,#ff5e00 122px,#ffed00 132px,#feff00 133px,#5cff00 141px,#02ff00 148px,#00ffb0 160px,#00faff 167px,#0089ff 178px,#003eff 189px,#0017ff 199px,#000dff 210px)"></i><i style="height:2px;background:linear-gradient(90deg,#000cff 0px,#0018ff 13px,#003eff 23px,#008dff 35px,#00fcff 46px,#00ffbe 52px,#00ff2b 62px,#09ff00 66px,#61ff00 73px,#fffe00 81px,#ffbc00 85px,#f50 93px,#ff2800 98px,#ff2800 117px,#ffab00 128px,#fffd00 133px,#4eff00 142px,#00ff0a 149px,#00ffaf 160px,#00fbff 167px,#008aff 178px,#003fff 189px,#0017ff 199px,#000dff 210px)"></i><i style="height:2px;background:linear-gradient(90deg,#000cff 0px,#0018ff 13px,#003fff 23px,#008eff 35px,#00fdff 46px,#00ffb1 53px,#00ff04 65px,#2aff00 69px,#71ff00 74px,#feff00 81px,#ffbe00 85px,#ff5700 93px,#ff2800 98px,#ff2d00 118px,#ffb600 129px,#fffa00 133px,#50ff00 142px,#00ff08 149px,#00ffad 160px,#00fcff 167px,#008aff 178px,#003fff 189px,#0017ff 199px,#000dff 210px)"></i><i style="height:2px;background:linear-gradient(90deg,#000cff 0px,#0018ff 13px,#003fff 23px,#008fff 35px,#00fdff 46px,#00ffb0 53px,#00ff05 65px,#35ff00 70px,#81ff00 75px,#fcff00 81px,#ffb200 86px,#ff2700 98px,#ff2c00 118px,#ffb400 129px,#fff600 133px,#53ff00 142px,#00ff06 149px,#00ffab 160px,#00feff 167px,#008bff 178px,#0040ff 189px,#0017ff 199px,#000dff 210px)"></i><i style="height:2px;background:linear-gradient(90deg,#000cff 0px,#0017ff 12px,#003bff 22px,#008fff 35px,#00fdff 46px,#00ffb0 53px,#00ff2c 62px,#07ff00 66px,#5eff00 73px,#faff00 81px,#ff4f00 94px,#ff2700 99px,#ff2a00 118px,#ffb200 129px,#fff300 133px,#f7ff00 134px,#5f0 142px,#00ff04 149px,#0fa 160px,#0ff 167px,#008cff 178px,#0040ff 189px,#0018ff 199px,#000dff 210px)"></i><i style="height:2px;background:linear-gradient(90deg,#000cff 0px,#0017ff 12px,#003cff 22px,#0090ff 35px,#00feff 46px,#00ffb0 53px,#00ff06 65px,#3f0 70px,#7eff00 75px,#f8ff00 81px,#fff400 82px,#ff5100 94px,#ff2600 99px,#ff2800 118px,#ffaf00 129px,#fff000 133px,#faff00 134px,#57ff00 142px,#00ff03 149px,#00ffa8 160px,#00fffe 167px,#008cff 178px,#0040ff 189px,#0018ff 199px,#000dff 210px)"></i><i style="height:2px;background:linear-gradient(90deg,#000cff 0px,#0017ff 12px,#003cff 22px,#0089ff 34px,#00feff 46px,#00ffb0 53px,#00ff06 65px,#3f0 70px,#6cff00 74px,#f6ff00 81px,#fff500 82px,#ff5200 94px,#ff2500 99px,#ff2600 118px,#ff5d00 123px,#ffed00 133px,#feff00 134px,#5aff00 142px,#00ff01 149px,#00ffa6 160px,#00fffd 167px,#008dff 178px,#0041ff 189px,#0018ff 199px,#000dff 210px)"></i><i style="height:2px;background:linear-gradient(90deg,#000dff 0px,#0018ff 12px,#003dff 22px,#0089ff 34px,#0ff 46px,#00ffb0 53px,#00ff07 65px,#32ff00 70px,#7cff00 75px,#fff700 82px,#ff6000 93px,#ff2500 99px,#ff2500 118px,#ffab00 129px,#fffd00 134px,#5cff00 142px,#01ff00 149px,#00ffb3 161px,#00fffc 167px,#008eff 178px,#003bff 190px,#0018ff 199px,#000dff 210px)"></i><i style="height:2px;background:linear-gradient(90deg,#000dff 0px,#0018ff 12px,#003eff 22px,#008aff 34px,#0ff 46px,#00ffb0 53px,#00ff07 65px,#31ff00 70px,#7aff00 75px,#fff900 82px,#ffb900 86px,#ff5600 94px,#ff2400 100px,#ff2400 118px,#ffa900 129px,#fffa00 134px,#5fff00 142px,#03ff00 149px,#00ffb1 161px,#00f8ff 168px,#008fff 178px,#003cff 190px,#0018ff 199px,#000dff 210px)"></i><i style="height:2px;background:linear-gradient(90deg,#000dff 0px,#0018ff 12px,#003eff 22px,#008bff 34px,#0ff 46px,#00ffb0 53px,#05ff00 66px,#58ff00 73px,#fffb00 82px,#fb0 86px,#ff5800 94px,#ff2400 100px,#ff2400 118px,#ff5600 123px,#fff700 134px,#51ff00 143px,#00ff09 150px,#00ffb0 161px,#00f9ff 168px,#008fff 178px,#003cff 190px,#0018ff 199px,#000dff 210px)"></i><i style="height:2px;background:linear-gradient(90deg,#000dff 0px,#0019ff 12px,#003fff 22px,#008bff 34px,#00fffe 46px,#00ffaf 53px,#00ff08 65px,#10ff00 67px,#67ff00 74px,#fffd00 82px,#ffbd00 86px,#ff5900 94px,#ff2300 100px,#ff2900 119px,#ffb100 130px,#fff400 134px,#f6ff00 135px,#53ff00 143px,#00ff07 150px,#00ffae 161px,#00faff 168px,#0090ff 178px,#003cff 190px,#0018ff 199px,#000dff 210px)"></i><i style="height:2px;background:linear-gradient(90deg,#000dff 0px,#0019ff 12px,#0040ff 22px,#008cff 34px,#00fffe 46px,#00ffaf 53px,#00ff08 65px,#30ff00 70px,#76ff00 75px,#ff0 82px,#ffbe00 86px,#ff5b00 94px,#f20 100px,#ff2700 119px,#ffaf00 130px,#fff100 134px,#faff00 135px,#5f0 143px,#00ff05 150px,#00ffad 161px,#00fcff 168px,#08f 179px,#003dff 190px,#0018ff 199px,#000dff 210px)"></i><i style="height:2px;background:linear-gradient(90deg,#000dff 0px,#001aff 12px,#0040ff 22px,#008dff 34px,#00fffd 46px,#00ffaf 53px,#03ff00 66px,#65ff00 74px,#feff00 82px,#ffc000 86px,#ff5100 95px,#f20 100px,#ff2500 119px,#ffad00 130px,#fdff00 135px,#58ff00 143px,#00ff03 150px,#00ffab 161px,#00fff6 167px,#0089ff 179px,#003dff 190px,#0018ff 199px,#000dff 210px)"></i><i style="height:2px;background:linear-gradient(90deg,#000dff 0px,#0018ff 11px,#0041ff 22px,#008dff 34px,#00fffd 46px,#00ffaf 53px,#00ff09 65px,#2eff00 70px,#85ff00 76px,#fcff00 82px,#ff5300 95px,#ff2100 101px,#ff2300 119px,#fa0 130px,#fffe00 135px,#5aff00 143px,#00ff02 150px,#00ffa9 161px,#00feff 168px,#0089ff 179px,#003dff 190px,#0018ff 199px,#000dff 210px)"></i><i style="height:2px;background:linear-gradient(90deg,#000dff 0px,#0018ff 11px,#0042ff 22px,#008eff 34px,#00fffd 46px,#00ffaf 53px,#00ff0a 65px,#2eff00 70px,#84ff00 76px,#faff00 82px,#f50 95px,#ff2100 101px,#f20 119px,#ffa800 130px,#fffb00 135px,#5dff00 143px,#0f0 150px,#00ffa8 161px,#0ff 168px,#008aff 179px,#003eff 190px,#0019ff 199px,#000dff 210px)"></i><i style="height:2px;background:linear-gradient(90deg,#000eff 0px,#0018ff 11px,#0042ff 22px,#008fff 34px,#00fffc 46px,#00ffaf 53px,#02ff00 66px,#61ff00 74px,#f8ff00 82px,#ff5600 95px,#ff2000 101px,#ff2000 119px,#f50 124px,#fff800 135px,#5fff00 143px,#02ff00 150px,#00ffb4 162px,#00fffe 168px,#008bff 179px,#003eff 190px,#0019ff 199px,#000dff 210px)"></i><i style="height:2px;background:linear-gradient(90deg,#000eff 0px,#0019ff 11px,#003eff 21px,#008fff 34px,#00fffc 46px,#00ffaf 53px,#02ff00 66px,#2dff00 70px,#70ff00 75px,#f6ff00 82px,#fff600 83px,#ff5800 95px,#ff1f00 101px,#ff1f00 119px,#ff5200 124px,#fff400 135px,#f6ff00 136px,#51ff00 144px,#00ff0a 151px,#00ffb3 162px,#00fffd 168px,#008cff 179px,#003fff 190px,#0019ff 199px,#000dff 210px)"></i><i style="height:2px;background:linear-gradient(90deg,#000eff 0px,#0019ff 11px,#003fff 21px,#08f 33px,#00fffc 46px,#00ffae 53px,#01ff00 66px,#2cff00 70px,#6fff00 75px,#fff800 83px,#ff5a00 95px,#ff1f00 102px,#ff1f00 119px,#ff5d00 125px,#fff100 135px,#f9ff00 136px,#53ff00 144px,#00ff08 151px,#00ffb1 162px,#00fffc 168px,#008cff 179px,#003fff 190px,#0019ff 199px,#000dff 210px)"></i><i style="height:2px;background:linear-gradient(90deg,#000eff 0px,#0019ff 11px,#003eff 21px,#08f 33px,#00fffc 46px,#00ffae 53px,#01ff00 66px,#2cff00 70px,#70ff00 75px,#fff700 83px,#ff5900 95px,#ff1c00 102px,#ff1d00 119px,#ff5e00 125px,#fff200 135px,#f8ff00 136px,#53ff00 144px,#00ff08 151px,#00ffb1 162px,#00fffc 168px,#008cff 179px,#003fff 190px,#0019ff 199px,#000dff 210px)"></i><i style="height:2px;background:linear-gradient(90deg,#000eff 0px,#0019ff 11px,#003eff 21px,#08f 33px,#00fffc 46px,#00ffae 53px,#00ff0a 65px,#2dff00 70px,#70ff00 75px,#fff600 83px,#ff5800 95px,#ff1a00 102px,#ff1e00 119px,#ff5f00 125px,#fff400 135px,#f6ff00 136px,#51ff00 144px,#00ff09 151px,#00ffb2 162px,#00fffd 168px,#008cff 179px,#003fff 190px,#0019ff 199px,#000dff 210px)"></i><i style="height:2px;background:linear-gradient(90deg,#000eff 0px,#0019ff 11px,#003eff 21px,#08f 33px,#00fffc 46px,#00ffae 53px,#00ff0a 65px,#2dff00 70px,#71ff00 75px,#f7ff00 82px,#fff500 83px,#ffb800 87px,#ff4c00 96px,#ff1700 103px,#ff1800 118px,#ff5300 124px,#fff500 135px,#f5ff00 136px,#61ff00 143px,#03ff00 150px,#00ffb3 162px,#00fffd 168px,#008bff 179px,#003eff 190px,#0019ff 199px,#000dff 210px)"></i><i style="height:2px;background:linear-gradient(90deg,#000eff 0px,#0019ff 11px,#003eff 21px,#08f 33px,#00fffc 46px,#00ffae 53px,#02ff00 66px,#62ff00 74px,#f8ff00 82px,#ff6300 94px,#ff1400 103px,#ff1400 117px,#ff5400 124px,#fff700 135px,#60ff00 143px,#02ff00 150px,#00ffb4 162px,#00fffe 168px,#008bff 179px,#003eff 190px,#0019ff 199px,#000dff 210px)"></i><i style="height:2px;background:linear-gradient(90deg,#000eff 0px,#0019ff 11px,#003eff 21px,#008fff 34px,#00fffc 46px,#00ffae 53px,#00ff09 65px,#2eff00 70px,#83ff00 76px,#f9ff00 82px,#ff4b00 96px,#ff1e00 101px,#f10 104px,#f10 116px,#ff2000 119px,#f50 124px,#fff800 135px,#5eff00 143px,#02ff00 150px,#00ffb5 162px,#00fffe 168px,#008bff 179px,#003eff 190px,#0019ff 199px,#000dff 210px)"></i><i style="height:2px;background:linear-gradient(90deg,#000eff 0px,#0019ff 11px,#0043ff 22px,#008fff 34px,#00fffc 46px,#00ffae 53px,#00ff09 65px,#2eff00 70px,#84ff00 76px,#faff00 82px,#f50 95px,#ff2500 100px,#ff0f00 104px,#ff1000 116px,#ff2100 119px,#ffa800 130px,#fffa00 135px,#5dff00 143px,#01ff00 150px,#00ffa7 161px,#0ff 168px,#008aff 179px,#003eff 190px,#0019ff 199px,#000dff 210px)"></i><i style="height:2px;background:linear-gradient(90deg,#000eff 0px,#0018ff 11px,#0042ff 22px,#008fff 34px,#00fffc 46px,#00ffae 53px,#00ff09 65px,#2fff00 70px,#85ff00 76px,#fbff00 82px,#ffb500 87px,#ff4900 96px,#ff1d00 101px,#ff0c00 105px,#ff0c00 115px,#f20 119px,#ffa900 130px,#fffb00 135px,#5cff00 143px,#0f0 150px,#00ffa8 161px,#0ff 168px,#008aff 179px,#003eff 190px,#0019ff 199px,#000dff 210px)"></i><i style="height:2px;background:linear-gradient(90deg,#000dff 0px,#0018ff 11px,#0042ff 22px,#008fff 34px,#00fffc 46px,#00ffad 53px,#00ff08 65px,#2fff00 70px,#86ff00 76px,#fcff00 82px,#ffb400 87px,#ff4800 96px,#ff1c00 101px,#ff0900 106px,#ff0900 114px,#ff2300 119px,#fa0 130px,#fffd00 135px,#5bff00 143px,#00ff01 150px,#00ffa9 161px,#00feff 168px,#008aff 179px,#003eff 190px,#0019ff 199px,#000dff 210px)"></i><i style="height:2px;background:linear-gradient(90deg,#000dff 0px,#0018ff 11px,#0042ff 22px,#008fff 34px,#00fffc 46px,#00ffad 53px,#00ff08 65px,#30ff00 70px,#87ff00 76px,#fdff00 82px,#ffb300 87px,#ff4700 96px,#ff1b00 101px,#ff0700 107px,#ff0900 114px,#ff2400 119px,#ffab00 130px,#ff0 135px,#59ff00 143px,#00ff02 150px,#0fa 161px,#00fdff 168px,#0089ff 179px,#003dff 190px,#0018ff 199px,#000dff 210px)"></i><i style="height:2px;background:linear-gradient(90deg,#000dff 0px,#0018ff 11px,#0042ff 22px,#008fff 34px,#00fffc 46px,#00ffad 53px,#05ff00 66px,#6f0 74px,#feff00 82px,#ffbf00 86px,#ff5100 95px,#f20 100px,#ff0a00 105px,#ff0d00 115px,#ff2500 119px,#ff4f00 123px,#ffba00 131px,#feff00 135px,#58ff00 143px,#00ff03 150px,#00ffab 161px,#00fff6 167px,#0089ff 179px,#003dff 190px,#0018ff 199px,#000dff 210px)"></i><i style="height:2px;background:linear-gradient(90deg,#000dff 0px,#0018ff 11px,#0042ff 22px,#008eff 34px,#00fffc 46px,#00ffad 53px,#00ff07 65px,#25ff00 69px,#7f0 75px,#ff0 82px,#ffb100 87px,#ff3c00 97px,#ff1a00 101px,#ff0100 108px,#ff0600 113px,#ff2500 119px,#ff5d00 124px,#fe0 134px,#fcff00 135px,#57ff00 143px,#00ff04 150px,#00ffab 161px,#00fcff 168px,#0089ff 179px,#003dff 190px,#0018ff 199px,#000dff 210px)"></i><i style="height:2px;background:linear-gradient(90deg,#000dff 0px,#0018ff 11px,#0041ff 22px,#008eff 34px,#00fffb 46px,#00ffac 53px,#00ff06 65px,#31ff00 70px,#79ff00 75px,#fffd00 82px,#ffb000 87px,#ff3100 98px,#ff1400 102px,#f00 109px,#ff0a00 114px,#ff2700 119px,#ffaf00 130px,#fff100 134px,#faff00 135px,#5f0 143px,#00ff05 150px,#00ffad 161px,#00fbff 168px,#08f 179px,#003dff 190px,#0018ff 199px,#000dff 210px)"></i><i style="height:2px;background:linear-gradient(90deg,#000dff 0px,#0018ff 11px,#0041ff 22px,#008fff 34px,#00f9ff 45px,#00ffb8 52px,#00ff05 65px,#3f0 70px,#7bff00 75px,#fffa00 82px,#ffae00 87px,#ff3000 98px,#ff1400 102px,#f00 109px,#ff0b00 114px,#ff2900 119px,#ffb100 130px,#fff400 134px,#f6ff00 135px,#53ff00 143px,#00ff07 150px,#00ffae 161px,#00faff 168px,#0090ff 178px,#003cff 190px,#0018ff 199px,#000dff 210px)"></i><i style="height:2px;background:linear-gradient(90deg,#000dff 0px,#0018ff 11px,#0041ff 22px,#008fff 34px,#00faff 45px,#00ffb7 52px,#00ff04 65px,#34ff00 70px,#7dff00 75px,#fff800 82px,#ffac00 87px,#ff2e00 98px,#ff1300 102px,#f00 109px,#ff1000 115px,#ff2a00 119px,#ffb400 130px,#fff700 134px,#50ff00 143px,#00ff09 150px,#00ffb0 161px,#00f9ff 168px,#008fff 178px,#003cff 190px,#0018ff 199px,#000dff 210px)"></i><i style="height:2px;background:linear-gradient(90deg,#000dff 0px,#0018ff 11px,#0041ff 22px,#008fff 34px,#00faff 45px,#00ffb7 52px,#00ff03 65px,#35ff00 70px,#6eff00 74px,#f7ff00 81px,#fff500 82px,#fa0 87px,#ff2c00 98px,#ff0e00 103px,#f00 109px,#f10 115px,#ff2c00 119px,#ffb600 130px,#fffa00 134px,#5eff00 142px,#03ff00 149px,#00ffb1 161px,#00fffb 167px,#008fff 178px,#003cff 190px,#0018ff 199px,#000dff 210px)"></i><i style="height:2px;background:linear-gradient(90deg,#000dff 0px,#0017ff 11px,#0041ff 22px,#008fff 34px,#00faff 45px,#00ffb6 52px,#00ff01 65px,#2bff00 69px,#70ff00 74px,#f9ff00 81px,#fff300 82px,#ffb500 86px,#ff2b00 98px,#ff0d00 103px,#f00 109px,#ff1200 115px,#ff2e00 119px,#ffb900 130px,#fffd00 134px,#5cff00 142px,#01ff00 149px,#00ffb3 161px,#00fffc 167px,#008eff 178px,#003bff 190px,#0018ff 199px,#000dff 210px)"></i><i style="height:2px;background:linear-gradient(90deg,#000dff 0px,#001aff 12px,#0041ff 22px,#008fff 34px,#00fff9 46px,#00ffa8 53px,#0f0 65px,#62ff00 73px,#fcff00 81px,#ff5000 94px,#ff1a00 100px,#ff0600 105px,#ff0100 110px,#ff1200 115px,#ff5000 122px,#fb0 130px,#fdff00 134px,#5aff00 142px,#00ff01 149px,#00ffa6 160px,#00fffd 167px,#008dff 178px,#0041ff 189px,#0018ff 199px,#000dff 210px)"></i><i style="height:2px;background:linear-gradient(90deg,#000dff 0px,#001aff 12px,#0041ff 22px,#008fff 34px,#00fbff 45px,#00ffb4 52px,#01ff00 65px,#39ff00 70px,#86ff00 75px,#feff00 81px,#ffb100 86px,#ff3000 97px,#ff1400 101px,#f00 108px,#ff0b00 113px,#ff2800 118px,#ffaf00 129px,#fff000 133px,#faff00 134px,#57ff00 142px,#00ff03 149px,#00ffa8 160px,#00fffe 167px,#008cff 178px,#0040ff 189px,#0018ff 199px,#000dff 210px)"></i><i style="height:2px;background:linear-gradient(90deg,#000dff 0px,#001aff 12px,#0041ff 22px,#0090ff 34px,#00fcff 45px,#00ffb3 52px,#02ff00 65px,#3aff00 70px,#8f0 75px,#fffd00 81px,#ffaf00 86px,#ff2f00 97px,#ff1300 101px,#f00 108px,#ff0c00 113px,#ff2a00 118px,#ffb200 129px,#fff300 133px,#f7ff00 134px,#5f0 142px,#00ff04 149px,#0fa 160px,#0ff 167px,#008cff 178px,#0040ff 189px,#0018ff 199px,#000dff 210px)"></i><i style="height:2px;background:linear-gradient(90deg,#000dff 0px,#0019ff 12px,#0041ff 22px,#0090ff 34px,#00fcff 45px,#00ffb2 52px,#00ff09 64px,#3cff00 70px,#8aff00 75px,#fffb00 81px,#ffad00 86px,#ff2d00 97px,#ff1200 101px,#f00 108px,#f10 114px,#ff2c00 118px,#ffb400 129px,#fff700 133px,#52ff00 142px,#00ff06 149px,#00ffab 160px,#00feff 167px,#008bff 178px,#0040ff 189px,#0017ff 199px,#000dff 210px)"></i><i style="height:2px;background:linear-gradient(90deg,#000dff 0px,#0019ff 12px,#0041ff 22px,#0090ff 34px,#00fdff 45px,#00ffb2 52px,#00ff08 64px,#10ff00 66px,#59ff00 72px,#fff800 81px,#ffab00 86px,#ff2c00 97px,#ff0d00 102px,#f00 108px,#f10 114px,#ff2e00 118px,#ffb600 129px,#fffa00 133px,#50ff00 142px,#00ff08 149px,#00ffad 160px,#00fcff 167px,#008aff 178px,#003fff 189px,#0017ff 199px,#000dff 210px)"></i><i style="height:2px;background:linear-gradient(90deg,#000dff 0px,#0019ff 12px,#0041ff 22px,#0090ff 34px,#00fdff 45px,#00ffb1 52px,#00ff07 64px,#3fff00 70px,#fff600 81px,#ffb600 85px,#f30 96px,#ff1500 100px,#f00 107px,#ff0e00 113px,#ff2f00 118px,#ffb900 129px,#fffd00 133px,#4eff00 142px,#00ff0a 149px,#00ffaf 160px,#00fbff 167px,#008aff 178px,#003fff 189px,#0017ff 199px,#000dff 210px)"></i><i style="height:2px;background:linear-gradient(90deg,#000dff 0px,#0019ff 12px,#0041ff 22px,#0090ff 34px,#00feff 45px,#00ffb0 52px,#00ff06 64px,#40ff00 70px,#90ff00 75px,#f8ff00 80px,#fff300 81px,#ffb500 85px,#ff3200 96px,#ff1400 100px,#f00 107px,#ff1300 114px,#ff3100 118px,#fb0 129px,#ff0 133px,#5cff00 141px,#02ff00 148px,#00ffb0 160px,#00fbff 167px,#0089ff 178px,#003fff 189px,#0017ff 199px,#000dff 210px)"></i><i style="height:2px;background:linear-gradient(90deg,#000dff 0px,#0019ff 12px,#0041ff 22px,#0090ff 34px,#00feff 45px,#00ffb0 52px,#00ff05 64px,#12ff00 66px,#5dff00 72px,#f9ff00 80px,#fff200 81px,#ffb400 85px,#ff3100 96px,#ff1400 100px,#f00 107px,#ff0b00 112px,#ff2800 117px,#ffae00 128px,#ffed00 132px,#feff00 133px,#5cff00 141px,#02ff00 148px,#00ffaf 160px,#00fbff 167px,#008aff 178px,#003fff 189px,#0018ff 199px,#000dff 210px)"></i><i style="height:2px;background:linear-gradient(90deg,#000dff 0px,#0019ff 12px,#0040ff 22px,#0090ff 34px,#00feff 45px,#00ffb0 52px,#00ff05 64px,#13ff00 66px,#6fff00 73px,#faff00 80px,#ffb300 85px,#ff3000 96px,#ff1300 100px,#f00 107px,#ff0b00 112px,#ff2900 117px,#ffae00 128px,#fe0 132px,#fdff00 133px,#5cff00 141px,#02ff00 148px,#00ffaf 160px,#00fcff 167px,#008bff 178px,#0040ff 189px,#0018ff 199px,#000dff 210px)"></i><i style="height:2px;background:linear-gradient(90deg,#000dff 0px,#0019ff 12px,#0040ff 22px,#0090ff 34px,#00feff 45px,#00ffb0 52px,#00ff04 64px,#35ff00 69px,#81ff00 74px,#fbff00 80px,#ffb200 85px,#ff2f00 96px,#ff1300 100px,#f00 107px,#ff1000 113px,#ff2900 117px,#ffaf00 128px,#fe0 132px,#fdff00 133px,#5bff00 141px,#02ff00 148px,#00ffae 160px,#00fcff 167px,#008bff 178px,#0041ff 189px,#0018ff 199px,#000dff 210px)"></i><i style="height:2px;background:linear-gradient(90deg,#000dff 0px,#0019ff 12px,#0040ff 22px,#008fff 34px,#00feff 45px,#00ffbc 51px,#00ff2b 61px,#08ff00 65px,#5fff00 72px,#fcff00 80px,#ffb100 85px,#ff2f00 96px,#ff1300 100px,#f00 107px,#ff1000 113px,#ff2a00 117px,#ffaf00 128px,#ffef00 132px,#fcff00 133px,#5bff00 141px,#02ff00 148px,#00ffae 160px,#00fdff 167px,#008cff 178px,#0041ff 189px,#0019ff 199px,#000dff 210px)"></i><i style="height:2px;background:linear-gradient(90deg,#000dff 0px,#0019ff 12px,#0040ff 22px,#008fff 34px,#00feff 45px,#00ffaf 52px,#00ff04 64px,#42ff00 70px,#95ff00 75px,#feff00 80px,#ffb000 85px,#ff2e00 96px,#ff1200 100px,#f00 107px,#f10 113px,#ff2b00 117px,#ffb000 128px,#fff000 132px,#fbff00 133px,#5bff00 141px,#02ff00 148px,#00ffad 160px,#00feff 167px,#008dff 178px,#0042ff 189px,#0019ff 199px,#000dff 210px)"></i><i style="height:2px;background:linear-gradient(90deg,#000dff 0px,#0018ff 12px,#003fff 22px,#008fff 34px,#00feff 45px,#00ffbc 51px,#00ff2b 61px,#09ff00 65px,#61ff00 72px,#ff0 80px,#ffaf00 85px,#ff3700 95px,#ff1600 99px,#f00 106px,#ff0d00 112px,#ff2c00 117px,#ffb100 128px,#fff000 132px,#fbff00 133px,#5bff00 141px,#03ff00 148px,#00ffad 160px,#00feff 167px,#008eff 178px,#003dff 190px,#0019ff 199px,#000dff 210px)"></i><i style="height:2px;background:linear-gradient(90deg,#000dff 0px,#0018ff 12px,#003fff 22px,#0087ff 33px,#00fff6 46px,#00ffaf 52px,#00ff03 64px,#62ff00 72px,#fffe00 80px,#ffbc00 84px,#ff3600 95px,#ff1600 99px,#ff0100 105px,#ff1600 114px,#ff5700 121px,#fff100 132px,#faff00 133px,#5bff00 141px,#03ff00 148px,#00ffac 160px,#0ff 167px,#008eff 178px,#003eff 190px,#0017ff 200px,#000dff 210px)"></i><i style="height:2px;background:linear-gradient(90deg,#000dff 0px,#0018ff 12px,#003fff 22px,#008fff 34px,#00feff 45px,#00ffaf 52px,#00ff03 64px,#4f0 70px,#98ff00 75px,#fffd00 80px,#fb0 84px,#ff3500 95px,#ff1500 99px,#f00 106px,#ff0d00 112px,#ff2d00 117px,#ffb200 128px,#fff200 132px,#f9ff00 133px,#5aff00 141px,#03ff00 148px,#00ffac 160px,#0ff 167px,#008fff 178px,#003eff 190px,#0017ff 200px,#000dff 210px)"></i><i style="height:2px;background:linear-gradient(90deg,#000cff 0px,#0018ff 12px,#003fff 22px,#008fff 34px,#00feff 45px,#00ffaf 52px,#00ff02 64px,#16ff00 66px,#63ff00 72px,#fffc00 80px,#ffba00 84px,#ff3400 95px,#ff1500 99px,#f00 106px,#ff0e00 112px,#ff2e00 117px,#ffb300 128px,#fff200 132px,#f9ff00 133px,#5aff00 141px,#03ff00 148px,#00ffab 160px,#00fffe 167px,#0090ff 178px,#003fff 190px,#0018ff 200px,#000eff 210px)"></i><i style="height:2px;background:linear-gradient(90deg,#000cff 0px,#0018ff 12px,#003fff 22px,#0086ff 33px,#00fff6 46px,#00ffaf 52px,#00ff02 64px,#54ff00 71px,#fffb00 80px,#ffb900 84px,#f30 95px,#ff1500 99px,#ff0100 105px,#ff1700 114px,#ff5900 121px,#fff300 132px,#f8ff00 133px,#5aff00 141px,#03ff00 148px,#00ffab 160px,#00fffd 167px,#0090ff 178px,#0040ff 190px,#0018ff 200px,#000eff 210px)"></i><i style="height:1px;background:linear-gradient(90deg,#000cff 0px,#0018ff 12px,#003eff 22px,#008eff 34px,#00feff 45px,#00ffaf 52px,#00ff01 64px,#16ff00 66px,#64ff00 72px,#fffa00 80px,#ffb900 84px,#f30 95px,#ff1400 99px,#f00 106px,#ff1300 113px,#ff2f00 117px,#ffb400 128px,#fff400 132px,#f8ff00 133px,#5aff00 141px,#03ff00 148px,#0fa 160px,#00fffd 167px,#0091ff 178px,#0040ff 190px,#0018ff 200px,#000eff 210px)"></i></div>
<div class="cb" style="left:301px;top:1208px;width:16px;height:203px;background:linear-gradient(180deg,#ff0b00 0%,#ff0b00 2.1%,#ff2000 2.1%,#ff2000 4.2%,#ff3500 4.2%,#ff3500 6.2%,#ff4a00 6.2%,#ff4a00 8.3%,#ff6000 8.3%,#ff6000 10.4%,#ff7500 10.4%,#ff7500 12.5%,#ff8a00 12.5%,#ff8a00 14.6%,#ff9f00 14.6%,#ff9f00 16.7%,#ffb500 16.7%,#ffb500 18.8%,#ffca00 18.8%,#ffca00 20.8%,#ffdf00 20.8%,#ffdf00 22.9%,#fff400 22.9%,#fff400 25%,#f4ff00 25%,#f4ff00 27.1%,#dfff00 27.1%,#dfff00 29.2%,#caff00 29.2%,#caff00 31.2%,#b5ff00 31.2%,#b5ff00 33.3%,#9fff00 33.3%,#9fff00 35.4%,#8aff00 35.4%,#8aff00 37.5%,#75ff00 37.5%,#75ff00 39.6%,#60ff00 39.6%,#60ff00 41.7%,#4aff00 41.7%,#4aff00 43.8%,#35ff00 43.8%,#35ff00 45.8%,#20ff00 45.8%,#20ff00 47.9%,#0bff00 47.9%,#0bff00 50%,#00ff0b 50%,#00ff0b 52.1%,#00ff20 52.1%,#00ff20 54.2%,#00ff35 54.2%,#00ff35 56.2%,#00ff4a 56.2%,#00ff4a 58.3%,#00ff60 58.3%,#00ff60 60.4%,#00ff75 60.4%,#00ff75 62.5%,#00ff8a 62.5%,#00ff8a 64.6%,#00ff9f 64.6%,#00ff9f 66.7%,#00ffb5 66.7%,#00ffb5 68.8%,#00ffca 68.8%,#00ffca 70.8%,#00ffdf 70.8%,#00ffdf 72.9%,#00fff4 72.9%,#00fff4 75%,#00f4ff 75%,#00f4ff 77.1%,#00dfff 77.1%,#00dfff 79.2%,#00caff 79.2%,#00caff 81.2%,#00b5ff 81.2%,#00b5ff 83.3%,#009fff 83.3%,#009fff 85.4%,#008aff 85.4%,#008aff 87.5%,#0075ff 87.5%,#0075ff 89.6%,#0060ff 89.6%,#0060ff 91.7%,#004aff 91.7%,#004aff 93.8%,#0035ff 93.8%,#0035ff 95.8%,#0020ff 95.8%,#0020ff 97.9%,#000bff 97.9%,#000bff 100%)"></div>
<div class="hm" style="left:414px;top:1208px;width:210px;height:203px"><i style="height:2px;background:linear-gradient(90deg,#0014ff 0px,#0034ff 12px,#005fff 21px,#00a8ff 32px,#00fffd 41px,#00ffad 49px,#00ff08 62px,#10ff00 64px,#4eff00 68px,#dcff00 74px,#fffc00 76px,#ffb900 81px,#f80 86px,#ff2a00 101px,#ff3200 106px,#ff5000 112px,#fff000 124px,#fdff00 125px,#64ff00 132px,#0f0 140px,#00ffbd 151px,#00fcff 156px,#0af 165px,#007dff 173px,#0038ff 193px,#0014ff 210px)"></i><i style="height:2px;background:linear-gradient(90deg,#0014ff 0px,#0034ff 12px,#005fff 21px,#00a8ff 32px,#00fffd 41px,#00ffad 49px,#00ff08 62px,#10ff00 64px,#4dff00 68px,#dcff00 74px,#fffc00 76px,#ffb900 81px,#f80 86px,#ff2c00 101px,#f30 106px,#ff5000 112px,#fe0 124px,#ff0 125px,#67ff00 132px,#01ff00 140px,#00ffbc 151px,#00feff 156px,#00abff 165px,#007dff 173px,#003bff 192px,#0014ff 210px)"></i><i style="height:2px;background:linear-gradient(90deg,#0014ff 0px,#0034ff 12px,#005fff 21px,#00a8ff 32px,#00fffd 41px,#00ffa1 50px,#00ff08 62px,#0fff00 64px,#4cff00 68px,#dcff00 74px,#fffc00 76px,#ffb900 81px,#ff8900 86px,#ff3d00 97px,#ff2d00 102px,#ff5100 112px,#fffe00 125px,#69ff00 132px,#02ff00 140px,#00ffba 151px,#0ff 156px,#00acff 165px,#007dff 173px,#003bff 192px,#0014ff 210px)"></i><i style="height:2px;background:linear-gradient(90deg,#0014ff 0px,#0034ff 12px,#005fff 21px,#00a8ff 32px,#00fffd 41px,#00ffa1 50px,#00ff08 62px,#0fff00 64px,#4bff00 68px,#dcff00 74px,#fffc00 76px,#ffb900 81px,#ff8100 87px,#ff3900 98px,#ff2f00 102px,#ff5100 112px,#fffc00 125px,#6bff00 132px,#03ff00 140px,#00ffb9 151px,#00fffd 156px,#00a5ff 166px,#007eff 173px,#003bff 192px,#0014ff 210px)"></i><i style="height:2px;background:linear-gradient(90deg,#0014ff 0px,#0034ff 12px,#005fff 21px,#00a8ff 32px,#00fffd 41px,#00ffa0 50px,#00ff08 62px,#0fff00 64px,#4aff00 68px,#dcff00 74px,#fffc00 76px,#ffba00 81px,#ff8200 87px,#ff3b00 98px,#ff3000 102px,#ff5100 112px,#ffb000 120px,#fffa00 125px,#5dff00 133px,#03ff00 140px,#00ff0c 141px,#00ffb7 151px,#00fffc 156px,#00a6ff 166px,#007eff 173px,#003bff 192px,#0014ff 210px)"></i><i style="height:2px;background:linear-gradient(90deg,#0014ff 0px,#0034ff 12px,#005fff 21px,#00a8ff 32px,#00fffd 41px,#00ffa0 50px,#00ff08 62px,#0fff00 64px,#49ff00 68px,#dbff00 74px,#fffc00 76px,#ffba00 81px,#ff8200 87px,#ff4200 97px,#ff3200 102px,#ff5200 112px,#ffaf00 120px,#fff800 125px,#5eff00 133px,#04ff00 140px,#00ff0b 141px,#00ffc5 152px,#00f9ff 157px,#00a6ff 166px,#007aff 174px,#003bff 192px,#0014ff 210px)"></i><i style="height:2px;background:linear-gradient(90deg,#0014ff 0px,#0034ff 12px,#005fff 21px,#00a8ff 32px,#00fffd 41px,#00ffa0 50px,#00ff13 61px,#0fff00 64px,#48ff00 68px,#dbff00 74px,#fffc00 76px,#ffba00 81px,#ff8300 87px,#ff4300 97px,#f30 102px,#ff5200 112px,#ffae00 120px,#fff700 125px,#f4ff00 126px,#60ff00 133px,#05ff00 140px,#00ff0a 141px,#00ffc4 152px,#00faff 157px,#00a7ff 166px,#007aff 174px,#003bff 192px,#0014ff 210px)"></i><i style="height:2px;background:linear-gradient(90deg,#0014ff 0px,#0034ff 12px,#005fff 21px,#00a8ff 32px,#00fffd 41px,#00ff9f 50px,#00ff12 61px,#0eff00 64px,#47ff00 68px,#dbff00 74px,#fffc00 76px,#ffba00 81px,#ff8300 87px,#ff4500 97px,#ff3500 102px,#ff5200 112px,#ffac00 120px,#fff500 125px,#f6ff00 126px,#62ff00 133px,#00ff09 141px,#00ffb3 151px,#00fcff 157px,#00a8ff 166px,#007aff 174px,#003bff 192px,#0014ff 210px)"></i><i style="height:2px;background:linear-gradient(90deg,#0014ff 0px,#0034ff 12px,#005fff 21px,#00a8ff 32px,#00fffd 41px,#00ff9f 50px,#00ff12 61px,#0eff00 64px,#46ff00 68px,#dbff00 74px,#fffc00 76px,#fb0 81px,#ff8400 87px,#ff4600 97px,#ff3700 102px,#ff5300 112px,#ff9f00 119px,#fff300 125px,#f8ff00 126px,#64ff00 133px,#00ff09 141px,#00ffb1 151px,#00fdff 157px,#00a8ff 166px,#007aff 174px,#003bff 192px,#0014ff 210px)"></i><i style="height:2px;background:linear-gradient(90deg,#0014ff 0px,#0034ff 12px,#005fff 21px,#00a8ff 32px,#00fffd 41px,#00ff9f 50px,#00ff12 61px,#0eff00 64px,#45ff00 68px,#dbff00 74px,#fffc00 76px,#ffb000 82px,#ff7d00 88px,#ff4300 98px,#ff3800 103px,#ff5300 112px,#ff9e00 119px,#fff100 125px,#faff00 126px,#6f0 133px,#00ff08 141px,#00ffb0 151px,#0ff 157px,#00a9ff 166px,#007bff 174px,#003bff 192px,#0014ff 210px)"></i><i style="height:2px;background:linear-gradient(90deg,#0014ff 0px,#0034ff 12px,#005fff 21px,#00a8ff 32px,#00fffd 41px,#00ff9f 50px,#00ff12 61px,#0eff00 64px,#4f0 68px,#dbff00 74px,#fffc00 76px,#fb0 81px,#ff7d00 88px,#f40 98px,#ff3900 103px,#ff5400 112px,#ff9d00 119px,#fff000 125px,#fcff00 126px,#57ff00 134px,#00ff07 141px,#00ffaf 151px,#00fffe 157px,#0af 166px,#007bff 174px,#003bff 192px,#0014ff 210px)"></i><i style="height:2px;background:linear-gradient(90deg,#0014ff 0px,#0034ff 12px,#005fff 21px,#00a8ff 32px,#00fffd 41px,#00ff9e 50px,#00ff12 61px,#0dff00 64px,#43ff00 68px,#daff00 74px,#fffc00 76px,#fb0 81px,#ff7e00 88px,#ff4600 98px,#ff3b00 103px,#ff5400 112px,#ff9b00 119px,#fe0 125px,#feff00 126px,#59ff00 134px,#00ff06 141px,#00ffad 151px,#00fffc 157px,#00a3ff 167px,#007bff 174px,#003bff 192px,#0014ff 210px)"></i><i style="height:2px;background:linear-gradient(90deg,#0014ff 0px,#0034ff 12px,#005fff 21px,#00a8ff 32px,#00fffd 41px,#00ff9e 50px,#00ff12 61px,#0dff00 64px,#42ff00 68px,#daff00 74px,#fffc00 76px,#ffb100 82px,#f70 89px,#ff4700 98px,#ff3c00 104px,#ff4500 109px,#ff5d00 113px,#ffa600 120px,#fffe00 126px,#6bff00 133px,#00ff05 141px,#00ffba 152px,#00f8ff 158px,#00a3ff 167px,#07f 175px,#003bff 192px,#0014ff 210px)"></i><i style="height:2px;background:linear-gradient(90deg,#0014ff 0px,#0034ff 12px,#005fff 21px,#00a8ff 32px,#00fffd 41px,#00ff9e 50px,#00ff12 61px,#0dff00 64px,#41ff00 68px,#daff00 74px,#fffc00 76px,#ffb100 82px,#ff7800 89px,#ff4900 98px,#ff3e00 104px,#ff4500 109px,#ff5d00 113px,#ffa500 120px,#fffc00 126px,#6dff00 133px,#00ff05 141px,#00ffb9 152px,#00faff 158px,#00a4ff 167px,#07f 175px,#003bff 192px,#0014ff 210px)"></i><i style="height:2px;background:linear-gradient(90deg,#0014ff 0px,#0034ff 12px,#005fff 21px,#00a8ff 32px,#00fffd 41px,#00ff9d 50px,#00ff12 61px,#0dff00 64px,#40ff00 68px,#daff00 74px,#fffc00 76px,#ffb200 82px,#ff7800 89px,#ff4a00 98px,#ff3f00 104px,#ff4600 109px,#ff5d00 113px,#ffa400 120px,#fffa00 126px,#5dff00 134px,#00ff04 141px,#00ffa9 151px,#00fbff 158px,#00a4ff 167px,#07f 175px,#003bff 192px,#0014ff 210px)"></i><i style="height:2px;background:linear-gradient(90deg,#0014ff 0px,#0034ff 12px,#005fff 21px,#00a8ff 32px,#00fffd 41px,#00ff9d 50px,#00ff12 61px,#0dff00 64px,#3fff00 68px,#daff00 74px,#fffc00 76px,#ffb200 82px,#ff7900 89px,#ff4c00 98px,#ff4000 104px,#ff4600 109px,#ff5d00 113px,#ffa200 120px,#fff800 126px,#5fff00 134px,#00ff03 141px,#00ffa7 151px,#00fdff 158px,#00a5ff 167px,#0078ff 175px,#003bff 192px,#0014ff 210px)"></i><i style="height:2px;background:linear-gradient(90deg,#0014ff 0px,#0034ff 12px,#005fff 21px,#00a8ff 32px,#00fffd 41px,#00ff9d 50px,#0f1 61px,#0cff00 64px,#3eff00 68px,#d9ff00 74px,#fffc00 76px,#ffb200 82px,#ff7300 90px,#ff4a00 99px,#ff4100 105px,#ff4b00 110px,#f60 114px,#ffa100 120px,#fff600 126px,#f5ff00 127px,#60ff00 134px,#00ff02 141px,#00ffa6 151px,#00feff 158px,#00a6ff 167px,#0078ff 175px,#003bff 192px,#0014ff 210px)"></i><i style="height:2px;background:linear-gradient(90deg,#0014ff 0px,#0034ff 12px,#005fff 21px,#00a8ff 32px,#00fffd 41px,#00ff9c 50px,#0f1 61px,#0cff00 64px,#3dff00 68px,#d9ff00 74px,#fffc00 76px,#ffb300 82px,#ff7300 90px,#ff4c00 99px,#ff4300 105px,#ff4b00 110px,#f60 114px,#ffa000 120px,#fff500 126px,#f7ff00 127px,#62ff00 134px,#00ff02 141px,#00ff95 150px,#0ff 158px,#00a6ff 167px,#0078ff 175px,#003bff 192px,#0014ff 210px)"></i><i style="height:2px;background:linear-gradient(90deg,#0014ff 0px,#0034ff 12px,#005fff 21px,#00a8ff 32px,#00fffd 41px,#00ff9c 50px,#0f1 61px,#0cff00 64px,#3cff00 68px,#d9ff00 74px,#fffc00 76px,#ffb300 82px,#ff7400 90px,#ff4d00 99px,#f40 105px,#ff4800 109px,#f60 114px,#ff9f00 120px,#fff300 126px,#f9ff00 127px,#63ff00 134px,#00ff01 141px,#00ff94 150px,#00fffd 158px,#00a7ff 167px,#0078ff 175px,#003bff 192px,#0014ff 210px)"></i><i style="height:2px;background:linear-gradient(90deg,#0014ff 0px,#0034ff 12px,#005fff 21px,#00a8ff 32px,#00fffd 41px,#02ff00 63px,#2cff00 67px,#68ff00 70px,#d9ff00 74px,#fffc00 76px,#ffb300 82px,#ff7400 90px,#ff4500 105px,#ff4800 109px,#f60 114px,#ff9e00 120px,#fff100 126px,#fbff00 127px,#64ff00 134px,#0f0 141px,#00ff92 150px,#00fffc 158px,#00a7ff 167px,#0078ff 175px,#003bff 192px,#0014ff 210px)"></i><i style="height:2px;background:linear-gradient(90deg,#0014ff 0px,#0034ff 12px,#005fff 21px,#00a8ff 32px,#00fffd 41px,#0f1 61px,#0cff00 64px,#4eff00 69px,#d9ff00 74px,#fffc00 76px,#ffb400 82px,#ff7500 90px,#ff5100 99px,#ff4600 106px,#ff5100 111px,#ff7e00 117px,#ffef00 126px,#feff00 127px,#6f0 134px,#01ff00 141px,#00ffae 152px,#00f9ff 159px,#00a8ff 167px,#0074ff 176px,#003bff 192px,#0014ff 210px)"></i><i style="height:2px;background:linear-gradient(90deg,#0014ff 0px,#0034ff 12px,#005fff 21px,#00a8ff 32px,#00fffd 41px,#0f1 61px,#0bff00 64px,#4dff00 69px,#d9ff00 74px,#fffc00 76px,#ffb400 82px,#ff7600 90px,#ff5200 99px,#ff4700 107px,#ff5200 111px,#ff8600 118px,#ffc000 123px,#fffe00 127px,#67ff00 134px,#02ff00 141px,#00ff9e 151px,#00faff 159px,#00a8ff 167px,#0074ff 176px,#003bff 192px,#0014ff 210px)"></i><i style="height:2px;background:linear-gradient(90deg,#0014ff 0px,#0034ff 12px,#005fff 21px,#00a0ff 31px,#00fffd 41px,#0f1 61px,#0bff00 64px,#4cff00 69px,#d8ff00 74px,#fffc00 76px,#ffb400 82px,#ff7600 90px,#ff5400 99px,#ff4700 107px,#ff5200 111px,#ff8500 118px,#ffbe00 123px,#fffc00 127px,#69ff00 134px,#02ff00 141px,#00ff9d 151px,#00fbff 159px,#00a9ff 167px,#0074ff 176px,#003bff 192px,#0014ff 210px)"></i><i style="height:2px;background:linear-gradient(90deg,#0014ff 0px,#0034ff 12px,#005eff 21px,#00a7ff 32px,#00feff 41px,#00ff9f 50px,#00ff14 61px,#08ff00 64px,#35ff00 68px,#e5ff00 75px,#fff700 77px,#ffb100 83px,#ff7600 91px,#ff4a00 107px,#f50 111px,#ff8700 118px,#ffbf00 123px,#fffc00 127px,#69ff00 134px,#04ff00 141px,#00ff0c 142px,#00ff8b 150px,#00feff 159px,#00abff 167px,#0075ff 176px,#003aff 192px,#0014ff 210px)"></i><i style="height:2px;background:linear-gradient(90deg,#0014ff 0px,#0034ff 12px,#005eff 21px,#00a6ff 32px,#00fbff 41px,#05ff00 64px,#43ff00 69px,#c3ff00 74px,#fdff00 77px,#ffc100 82px,#ff8300 90px,#ff5d00 99px,#ff4d00 107px,#ff5700 111px,#ff8900 118px,#ffbf00 123px,#fffc00 127px,#69ff00 134px,#00ff0a 142px,#00ff89 150px,#00fffe 159px,#00a5ff 168px,#0071ff 177px,#003aff 192px,#0014ff 210px)"></i><i style="height:2px;background:linear-gradient(90deg,#0014ff 0px,#0034ff 12px,#005eff 21px,#00a5ff 32px,#00fffb 42px,#02ff00 64px,#3fff00 69px,#ceff00 75px,#fffb00 78px,#ffbd00 83px,#ff8300 91px,#ff5e00 100px,#ff5000 108px,#ff5f00 112px,#ff9400 119px,#fffc00 127px,#69ff00 134px,#00ff09 142px,#00ff86 150px,#00fffc 159px,#00a7ff 168px,#006dff 178px,#003aff 192px,#0014ff 210px)"></i><i style="height:2px;background:linear-gradient(90deg,#0014ff 0px,#0034ff 12px,#005eff 21px,#00a4ff 32px,#00fffe 42px,#00ff15 62px,#00ff01 64px,#13ff00 66px,#3aff00 69px,#d7ff00 76px,#fff300 79px,#fb0 84px,#ff8400 92px,#ff5200 108px,#ff6100 112px,#ff9500 119px,#fffc00 127px,#69ff00 134px,#00ff07 142px,#00ff9f 152px,#00f9ff 160px,#00a1ff 169px,#0068ff 179px,#0038ff 193px,#0014ff 210px)"></i><i style="height:2px;background:linear-gradient(90deg,#0014ff 0px,#0034ff 12px,#005eff 21px,#00a3ff 32px,#00fdff 42px,#00ffa2 51px,#00ff0e 63px,#10ff00 66px,#48ff00 70px,#cf0 76px,#fffb00 79px,#ffc100 84px,#ff8a00 92px,#ff6300 101px,#f50 108px,#ff6300 112px,#ff9700 119px,#fffc00 127px,#69ff00 134px,#00ff05 142px,#00ff9c 152px,#00fcff 160px,#00a3ff 169px,#0069ff 179px,#003aff 192px,#0014ff 210px)"></i><i style="height:2px;background:linear-gradient(90deg,#0014ff 0px,#0034ff 12px,#005eff 21px,#00a2ff 32px,#00f9ff 42px,#00ffb1 50px,#0f1 63px,#0dff00 66px,#42ff00 70px,#e9ff00 78px,#fff300 80px,#ffbf00 85px,#ff8a00 93px,#ff5800 108px,#ff6500 112px,#f90 119px,#fffc00 127px,#69ff00 134px,#00ff04 142px,#00ff8b 151px,#00feff 160px,#00a5ff 169px,#0069ff 179px,#003aff 192px,#0014ff 210px)"></i><i style="height:2px;background:linear-gradient(90deg,#0014ff 0px,#0034ff 12px,#005eff 21px,#00a9ff 33px,#00fffe 43px,#00ff9e 52px,#00ff14 63px,#0bff00 66px,#4dff00 71px,#fffa00 80px,#ffc500 85px,#ff9000 93px,#ff5a00 108px,#ff6700 112px,#ff9a00 119px,#ffce00 124px,#fffc00 127px,#69ff00 134px,#00ff02 142px,#00fffe 160px,#00a6ff 169px,#0064ff 180px,#0038ff 193px,#0014ff 210px)"></i><i style="height:2px;background:linear-gradient(90deg,#0014ff 0px,#0034ff 12px,#005dff 21px,#00a8ff 33px,#00fdff 43px,#00ffa2 52px,#00ff17 63px,#08ff00 66px,#57ff00 72px,#fdff00 80px,#ffcb00 85px,#ff9000 94px,#ff5d00 108px,#ff6900 112px,#ff9c00 119px,#ffcf00 124px,#fffc00 127px,#69ff00 134px,#00ff01 142px,#00fffb 160px,#00a8ff 169px,#0065ff 180px,#0038ff 193px,#0014ff 210px)"></i><i style="height:2px;background:linear-gradient(90deg,#0014ff 0px,#0058ff 20px,#00a7ff 33px,#00faff 43px,#00ffbd 50px,#05ff00 66px,#4eff00 72px,#e3ff00 79px,#fff800 81px,#ffca00 86px,#ff8a00 96px,#ff6000 108px,#ff6c00 112px,#ff9e00 119px,#ffcf00 124px,#fffc00 127px,#69ff00 134px,#01ff00 142px,#00ffc7 156px,#00faff 161px,#0af 169px,#0065ff 180px,#003aff 192px,#0014ff 210px)"></i><i style="height:2px;background:linear-gradient(90deg,#0014ff 0px,#0034ff 12px,#005dff 21px,#00a6ff 33px,#00fffe 44px,#02ff00 66px,#5f0 73px,#ff0 81px,#ffd000 86px,#ff8f00 96px,#ff6300 108px,#ff6e00 112px,#ff9f00 119px,#ffcf00 124px,#fffc00 127px,#69ff00 134px,#02ff00 142px,#00fcff 161px,#00acff 169px,#0065ff 180px,#003aff 192px,#0014ff 210px)"></i><i style="height:2px;background:linear-gradient(90deg,#0014ff 0px,#0058ff 20px,#00a4ff 33px,#00fdff 44px,#00ff97 54px,#00ff0b 65px,#1bff00 69px,#4bff00 73px,#e8ff00 80px,#fff900 82px,#ff8e00 97px,#ff6500 108px,#ff7000 112px,#ffa900 120px,#fffc00 127px,#69ff00 134px,#00ff0a 143px,#00feff 161px,#00a5ff 170px,#0065ff 180px,#003aff 192px,#0014ff 210px)"></i><i style="height:2px;background:linear-gradient(90deg,#0014ff 0px,#0057ff 20px,#00a3ff 33px,#00faff 44px,#00ffa9 53px,#00ff10 65px,#15ff00 69px,#43ff00 73px,#df0 80px,#fffa00 83px,#ff9400 97px,#ff6900 109px,#ffa900 120px,#fffb00 127px,#6aff00 134px,#00ff07 143px,#00fffc 161px,#00a8ff 170px,#0062ff 181px,#0038ff 193px,#0014ff 210px)"></i><i style="height:2px;background:linear-gradient(90deg,#0014ff 0px,#0034ff 12px,#005cff 21px,#00a8ff 34px,#0ff 45px,#00ffa4 54px,#00ff16 65px,#10ff00 69px,#3eff00 73px,#cfff00 80px,#fffc00 84px,#ff9a00 97px,#ff6d00 109px,#ff7a00 113px,#fa0 120px,#fffa00 127px,#5cff00 135px,#00ff05 143px,#00ffd3 158px,#00faff 162px,#0af 170px,#0064ff 181px,#0036ff 194px,#0014ff 210px)"></i><i style="height:2px;background:linear-gradient(90deg,#0014ff 0px,#005cff 21px,#00a0ff 33px,#00fbff 45px,#00ffb6 53px,#00ff1d 65px,#0aff00 69px,#38ff00 73px,#d2ff00 81px,#fffc00 85px,#ffa600 96px,#ff7100 109px,#ff7c00 113px,#ffab00 120px,#fff900 127px,#f4ff00 128px,#5eff00 135px,#00ff03 143px,#00feff 162px,#00adff 170px,#06f 181px,#0036ff 194px,#0014ff 210px)"></i><i style="height:2px;background:linear-gradient(90deg,#0014ff 0px,#0035ff 12px,#0061ff 22px,#009fff 33px,#00fffe 46px,#00ffbd 53px,#00ff2e 64px,#05ff00 69px,#42ff00 74px,#c4ff00 81px,#fffa00 86px,#ffac00 96px,#ff7500 109px,#ff7f00 113px,#ffa400 119px,#ffcf00 124px,#fff700 127px,#e2ff00 129px,#5fff00 135px,#0f0 143px,#00fffd 162px,#00a8ff 171px,#0068ff 181px,#0037ff 194px,#0014ff 210px)"></i><i style="height:2px;background:linear-gradient(90deg,#0014ff 0px,#0060ff 22px,#009dff 33px,#00fcff 46px,#00ffc3 53px,#00ff41 63px,#00ff01 69px,#2dff00 73px,#b7ff00 81px,#fff700 87px,#ffb200 96px,#ff7900 110px,#ffac00 120px,#fff600 127px,#e5ff00 129px,#61ff00 135px,#02ff00 143px,#00f9ff 163px,#0af 171px,#006aff 181px,#0037ff 194px,#0014ff 210px)"></i><i style="height:2px;background:linear-gradient(90deg,#0014ff 0px,#0065ff 23px,#009cff 33px,#0ff 47px,#00ffca 53px,#00ff07 69px,#27ff00 73px,#ff0 87px,#ffbe00 95px,#ff7d00 110px,#ffac00 120px,#fff500 127px,#e7ff00 129px,#62ff00 135px,#00ff08 144px,#00fdff 163px,#00adff 171px,#006cff 181px,#0037ff 194px,#0014ff 210px)"></i><i style="height:2px;background:linear-gradient(90deg,#0014ff 0px,#0064ff 23px,#00fffc 48px,#00ffc5 54px,#00ff4e 63px,#00ff02 70px,#21ff00 73px,#fff800 88px,#ffc400 95px,#ff8100 110px,#ffa600 119px,#fff300 127px,#e9ff00 129px,#64ff00 135px,#00ff05 144px,#00fffe 163px,#00a7ff 172px,#0069ff 182px,#0035ff 195px,#0014ff 210px)"></i><i style="height:2px;background:linear-gradient(90deg,#0014ff 0px,#0063ff 23px,#00fcff 48px,#00ffd8 53px,#00ff07 70px,#1cff00 73px,#ff0 88px,#ffcf00 94px,#ff8400 110px,#ffa700 119px,#fff200 127px,#ecff00 129px,#6f0 135px,#00ff02 144px,#00f8ff 164px,#0af 172px,#006bff 182px,#0035ff 195px,#0014ff 210px)"></i><i style="height:2px;background:linear-gradient(90deg,#0014ff 0px,#0063ff 23px,#00feff 49px,#00ffd3 54px,#00ff01 71px,#16ff00 73px,#8eff00 82px,#f8ff00 88px,#fff900 89px,#ff9500 106px,#ff8700 111px,#ffb500 121px,#ff0 128px,#67ff00 135px,#01ff00 144px,#00fcff 164px,#00acff 172px,#006dff 182px,#0035ff 195px,#0014ff 210px)"></i><i style="height:2px;background:linear-gradient(90deg,#0014ff 0px,#0067ff 24px,#0ff 50px,#00ffda 54px,#00ff07 71px,#10ff00 73px,#81ff00 82px,#ff0 89px,#ff9b00 106px,#ff8a00 111px,#ff9200 115px,#ffb500 121px,#fffd00 128px,#69ff00 135px,#00ff09 145px,#0ff 164px,#00afff 172px,#006aff 183px,#0036ff 195px,#0014ff 210px)"></i><i style="height:2px;background:linear-gradient(90deg,#0014ff 0px,#06f 24px,#00fffe 51px,#00ff39 67px,#0f0 72px,#0bff00 73px,#73ff00 82px,#eaff00 88px,#fffa00 90px,#ff9a00 107px,#ff8d00 112px,#ffbc00 122px,#fffc00 128px,#deff00 130px,#6aff00 135px,#00ff06 145px,#00fffb 164px,#00a9ff 173px,#0067ff 184px,#0036ff 195px,#0014ff 210px)"></i><i style="height:2px;background:linear-gradient(90deg,#0014ff 0px,#06f 24px,#00fcff 51px,#00ffe6 54px,#00ff7b 62px,#04ff00 73px,#67ff00 82px,#dfff00 88px,#fffd00 91px,#ffa300 107px,#ff9300 112px,#ff9b00 116px,#ffbe00 122px,#fffc00 128px,#dfff00 130px,#6cff00 135px,#00ff04 145px,#00faff 165px,#00acff 173px,#0063ff 185px,#03f 196px,#0014ff 210px)"></i><i style="height:2px;background:linear-gradient(90deg,#0014ff 0px,#0065ff 24px,#00fffe 52px,#00ff05 73px,#43ff00 80px,#6cff00 83px,#dcff00 89px,#ff0 94px,#ffad00 108px,#ff9e00 113px,#ffc200 122px,#fffe00 128px,#6eff00 135px,#00ff04 145px,#00fdff 165px,#00adff 173px,#0069ff 184px,#0037ff 195px,#0014ff 210px)"></i><i style="height:2px;background:linear-gradient(90deg,#0014ff 0px,#0069ff 25px,#00feff 52px,#00ff04 74px,#39ff00 80px,#c9ff00 89px,#fbff00 97px,#ffb600 109px,#ffa600 114px,#ffc100 121px,#fff500 127px,#ef0 129px,#61ff00 136px,#00ff04 145px,#0ff 165px,#00afff 173px,#006aff 184px,#0038ff 195px,#0014ff 210px)"></i><i style="height:2px;background:linear-gradient(90deg,#0014ff 0px,#0069ff 25px,#00fbff 52px,#00ffe8 55px,#00ff03 75px,#2fff00 80px,#b6ff00 89px,#fffd00 101px,#ffc400 109px,#ffae00 115px,#fc0 122px,#fff800 127px,#ebff00 129px,#63ff00 136px,#00ff04 145px,#00fffd 165px,#00a9ff 174px,#006bff 184px,#0035ff 196px,#0014ff 210px)"></i><i style="height:2px;background:linear-gradient(90deg,#0014ff 0px,#006dff 26px,#0ff 53px,#00ff02 76px,#25ff00 80px,#a3ff00 89px,#ff0 103px,#ffcb00 110px,#ffb500 116px,#ffd000 122px,#fffb00 127px,#e9ff00 129px,#73ff00 135px,#00ff04 145px,#00f8ff 166px,#0af 174px,#0067ff 185px,#0036ff 196px,#0014ff 210px)"></i><i style="height:2px;background:linear-gradient(90deg,#0014ff 0px,#006cff 26px,#00fcff 53px,#00ff15 75px,#00ff02 77px,#1bff00 80px,#91ff00 89px,#ff0 105px,#ffbc00 116px,#ffd500 122px,#fffe00 127px,#d5ff00 130px,#75ff00 135px,#00ff04 145px,#00fbff 166px,#00acff 174px,#006eff 184px,#0037ff 196px,#0014ff 210px)"></i><i style="height:2px;background:linear-gradient(90deg,#0014ff 0px,#006bff 26px,#00fffe 54px,#00ff02 78px,#26ff00 82px,#7eff00 89px,#fffe00 107px,#ffc200 116px,#fff800 126px,#e3ff00 129px,#68ff00 136px,#00ff04 145px,#00fdff 166px,#00aeff 174px,#006fff 184px,#0038ff 196px,#0014ff 210px)"></i><i style="height:2px;background:linear-gradient(90deg,#0014ff 0px,#006fff 27px,#00fcff 54px,#00ff02 79px,#1bff00 82px,#6bff00 89px,#b3ff00 100px,#faff00 108px,#ffc900 116px,#ffd900 121px,#fffb00 126px,#e1ff00 129px,#6aff00 136px,#00ff04 145px,#0ff 166px,#00afff 174px,#0070ff 184px,#0038ff 196px,#0014ff 210px)"></i><i style="height:2px;background:linear-gradient(90deg,#0014ff 0px,#006fff 27px,#0ff 55px,#00ff39 74px,#00ff03 80px,#10ff00 82px,#58ff00 89px,#a1ff00 100px,#feff00 110px,#ffcf00 116px,#ffd900 120px,#ff0 126px,#deff00 129px,#6cff00 136px,#00ff04 145px,#00fffd 166px,#00b1ff 174px,#0071ff 184px,#0039ff 196px,#0014ff 210px)"></i><i style="height:2px;background:linear-gradient(90deg,#0014ff 0px,#006eff 27px,#00fffc 56px,#00ff5f 71px,#05ff00 82px,#45ff00 89px,#8fff00 100px,#faff00 111px,#ffd500 117px,#fffb00 125px,#dcff00 129px,#7cff00 135px,#00ff04 145px,#00f9ff 167px,#00abff 175px,#0072ff 184px,#003aff 196px,#0014ff 210px)"></i><i style="height:2px;background:linear-gradient(90deg,#0014ff 0px,#0071ff 28px,#00fcff 56px,#00ff06 82px,#58ff00 95px,#86ff00 101px,#fff900 113px,#ffdb00 117px,#ff0 125px,#d9ff00 129px,#7dff00 135px,#00ff04 145px,#00fbff 167px,#00acff 175px,#0073ff 184px,#0037ff 197px,#0014ff 210px)"></i><i style="height:2px;background:linear-gradient(90deg,#0014ff 0px,#0071ff 28px,#00feff 57px,#00ff6f 71px,#0f0 84px,#40ff00 94px,#7fff00 102px,#faff00 113px,#ffe300 117px,#fffe00 124px,#d5ff00 129px,#00ff04 145px,#00fdff 167px,#00adff 175px,#0074ff 184px,#0038ff 197px,#0014ff 210px)"></i><i style="height:2px;background:linear-gradient(90deg,#0014ff 0px,#0071ff 28px,#00fdff 57px,#00ff54 74px,#00ff03 84px,#39ff00 94px,#74ff00 102px,#feff00 115px,#fffe00 120px,#d1ff00 128px,#00ff07 145px,#00fcff 167px,#00adff 175px,#0074ff 184px,#0038ff 197px,#0014ff 210px)"></i><i style="height:2px;background:linear-gradient(90deg,#0014ff 0px,#006dff 27px,#00fbff 57px,#00ffea 60px,#00ff4b 75px,#00ff0d 83px,#01ff00 85px,#3f0 94px,#61ff00 101px,#e9ff00 115px,#f1ff00 117px,#e5ff00 122px,#c1ff00 128px,#02ff00 144px,#00fbff 167px,#00adff 175px,#0074ff 184px,#0038ff 197px,#0014ff 210px)"></i><i style="height:2px;background:linear-gradient(90deg,#0014ff 0px,#006dff 27px,#00fffd 58px,#0f5 74px,#00ff23 80px,#00ff02 85px,#2cff00 94px,#57ff00 101px,#d4ff00 115px,#dbff00 117px,#d1ff00 122px,#b0ff00 128px,#00ff01 144px,#00faff 167px,#00adff 175px,#006fff 185px,#0038ff 197px,#0014ff 210px)"></i><i style="height:2px;background:linear-gradient(90deg,#0014ff 0px,#006dff 27px,#00fffe 58px,#00ff32 78px,#0f0 86px,#25ff00 94px,#54ff00 102px,#bfff00 115px,#c6ff00 118px,#a0ff00 128px,#00ff04 144px,#00f9ff 167px,#00adff 175px,#006fff 185px,#0038ff 197px,#0014ff 210px)"></i><i style="height:2px;background:linear-gradient(90deg,#0014ff 0px,#006dff 27px,#00feff 58px,#00ff32 78px,#01ff00 87px,#1fff00 94px,#49ff00 102px,#abff00 115px,#b1ff00 118px,#90ff00 128px,#00ff07 144px,#00fffc 166px,#00adff 175px,#006fff 185px,#0038ff 197px,#0014ff 210px)"></i><i style="height:2px;background:linear-gradient(90deg,#0014ff 0px,#0069ff 26px,#00fdff 58px,#00ff32 78px,#00ff03 87px,#18ff00 94px,#3fff00 102px,#96ff00 115px,#9cff00 119px,#80ff00 128px,#0f0 143px,#00fffd 166px,#00adff 175px,#006fff 185px,#0038ff 197px,#0014ff 210px)"></i><i style="height:2px;background:linear-gradient(90deg,#0014ff 0px,#0069ff 26px,#00fbff 58px,#00ffe1 62px,#00ff3a 77px,#00ff03 88px,#1f0 94px,#81ff00 115px,#87ff00 119px,#70ff00 128px,#00ff03 143px,#00fffe 166px,#00adff 175px,#006fff 185px,#0038ff 197px,#0014ff 210px)"></i><i style="height:2px;background:linear-gradient(90deg,#0014ff 0px,#0069ff 26px,#00fffd 59px,#00ff3a 77px,#00ff0b 87px,#0bff00 94px,#6cff00 115px,#72ff00 119px,#60ff00 128px,#02ff00 142px,#00ff80 155px,#0ff 166px,#00adff 175px,#006fff 185px,#0038ff 197px,#0014ff 210px)"></i><i style="height:2px;background:linear-gradient(90deg,#0014ff 0px,#0069ff 26px,#0ff 59px,#00ff3a 77px,#00ff15 85px,#04ff00 94px,#57ff00 115px,#5eff00 120px,#4fff00 128px,#00ff02 142px,#00ff82 155px,#00feff 166px,#00adff 175px,#006fff 185px,#0038ff 197px,#0014ff 210px)"></i><i style="height:2px;background:linear-gradient(90deg,#0014ff 0px,#0065ff 25px,#00feff 59px,#00ffd3 64px,#00ff3a 77px,#02ff00 96px,#43ff00 115px,#4aff00 121px,#3cff00 129px,#0f0 141px,#00ff45 149px,#00fdff 166px,#00adff 175px,#006fff 185px,#0038ff 197px,#0014ff 210px)"></i><i style="height:2px;background:linear-gradient(90deg,#0014ff 0px,#0062ff 24px,#00fcff 59px,#00ffd5 64px,#00ff4d 75px,#00ff34 78px,#00ff01 98px,#15ff00 106px,#36ff00 124px,#00ff04 141px,#00ff47 149px,#00fff8 165px,#00a6ff 176px,#0069ff 186px,#0038ff 197px,#0014ff 210px)"></i><i style="height:2px;background:linear-gradient(90deg,#0014ff 0px,#0062ff 24px,#00fbff 59px,#00ffe0 63px,#00ff51 75px,#00ff38 78px,#0f0 101px,#0eff00 106px,#2eff00 124px,#00ff02 140px,#00ff48 149px,#00fffa 165px,#00acff 175px,#0069ff 186px,#0038ff 197px,#0014ff 210px)"></i><i style="height:2px;background:linear-gradient(90deg,#0014ff 0px,#0062ff 24px,#00fffd 60px,#0f4 77px,#02ff00 104px,#29ff00 123px,#1eff00 131px,#0f0 139px,#00ff40 148px,#00fffc 165px,#00abff 175px,#006dff 185px,#0038ff 197px,#0014ff 210px)"></i><i style="height:2px;background:linear-gradient(90deg,#0014ff 0px,#0062ff 24px,#00fffe 60px,#00ff49 77px,#02ff00 106px,#24ff00 124px,#00ff03 139px,#00ff4b 149px,#00fffe 165px,#00b1ff 174px,#006cff 185px,#0037ff 197px,#0014ff 210px)"></i><i style="height:2px;background:linear-gradient(90deg,#0014ff 0px,#0062ff 24px,#00fffe 60px,#00ff4e 77px,#02ff00 108px,#1fff00 125px,#00ff01 138px,#00ff4c 149px,#00feff 165px,#00afff 174px,#0070ff 184px,#003bff 196px,#0014ff 210px)"></i><i style="height:2px;background:linear-gradient(90deg,#0014ff 0px,#0062ff 24px,#0ff 60px,#00ffab 67px,#00ff4f 78px,#00ff01 109px,#0eff00 115px,#1aff00 127px,#01ff00 137px,#00ff12 141px,#00ff7f 154px,#00fff8 164px,#00a6ff 175px,#006fff 184px,#003bff 196px,#0014ff 210px)"></i><i style="height:2px;background:linear-gradient(90deg,#0014ff 0px,#005eff 23px,#00feff 60px,#00ffa9 67px,#00ff59 77px,#08ff00 115px,#15ff00 127px,#03ff00 136px,#00ff14 141px,#00ff80 154px,#00fffa 164px,#00acff 174px,#006eff 184px,#003bff 196px,#0014ff 210px)"></i><i style="height:2px;background:linear-gradient(90deg,#0014ff 0px,#005eff 23px,#00feff 60px,#00ffa7 67px,#00ff5e 77px,#02ff00 115px,#1f0 127px,#0f0 136px,#00ff17 141px,#00ff81 154px,#00fffc 164px,#00abff 174px,#006dff 184px,#003bff 196px,#0014ff 210px)"></i><i style="height:2px;background:linear-gradient(90deg,#0014ff 0px,#005eff 23px,#00fdff 60px,#0fe 62px,#00ffa5 67px,#00ff63 77px,#00ff06 114px,#09ff00 122px,#01ff00 135px,#00ff24 143px,#00ff81 154px,#00fffe 164px,#00b0ff 173px,#0071ff 183px,#003eff 195px,#0014ff 210px)"></i><i style="height:2px;background:linear-gradient(90deg,#0014ff 0px,#005eff 23px,#00fcff 60px,#00ffef 62px,#00ffa3 67px,#00ff6c 76px,#03ff00 122px,#00ff01 135px,#00ff2c 144px,#00ff82 154px,#00fdff 164px,#00afff 173px,#006fff 183px,#003eff 195px,#0014ff 210px)"></i><i style="height:2px;background:linear-gradient(90deg,#0014ff 0px,#005aff 22px,#00fffb 61px,#00ffa1 67px,#00ff71 76px,#00ff0f 115px,#05ff00 131px,#00ff0c 137px,#0f4 147px,#00ff8e 155px,#00fbff 164px,#00b5ff 172px,#006eff 183px,#0014ff 210px)"></i><i style="height:2px;background:linear-gradient(90deg,#0014ff 0px,#005aff 22px,#00fffc 61px,#00ff9f 67px,#00ff7d 74px,#00ff17 114px,#01ff00 131px,#00ff0e 137px,#00ff45 147px,#00ff8f 155px,#00f9ff 164px,#00b3ff 172px,#006dff 183px,#0014ff 210px)"></i><i style="height:2px;background:linear-gradient(90deg,#0014ff 0px,#005eff 23px,#00feff 60px,#00ffed 62px,#00ff9d 67px,#00ff83 72px,#0f0 122px,#00ff02 135px,#00ff2f 144px,#00ff84 154px,#00fffd 163px,#00b1ff 172px,#006cff 183px,#0014ff 210px)"></i><i style="height:2px;background:linear-gradient(90deg,#0014ff 0px,#0062ff 24px,#00fdff 59px,#00ffe7 62px,#00ff9a 67px,#00ff7e 72px,#05ff00 114px,#16ff00 128px,#0f0 137px,#00ff64 151px,#00ff8f 155px,#0ff 163px,#00b0ff 172px,#006bff 183px,#0014ff 210px)"></i><i style="height:2px;background:linear-gradient(90deg,#0014ff 0px,#06f 25px,#00fdff 58px,#00ffe1 62px,#00ff97 67px,#00ff7f 71px,#01ff00 106px,#27ff00 125px,#1fff00 132px,#00ff02 139px,#00ff6d 152px,#00fff6 162px,#00a7ff 173px,#006aff 183px,#0014ff 210px)"></i><i style="height:2px;background:linear-gradient(90deg,#0014ff 0px,#06f 25px,#00fcff 57px,#00ffe6 61px,#00ff95 67px,#00ff6b 74px,#00ff03 100px,#17ff00 107px,#31ff00 116px,#38ff00 125px,#28ff00 133px,#00ff01 140px,#00ff76 153px,#00fff8 162px,#00a6ff 173px,#0069ff 183px,#0014ff 210px)"></i><i style="height:2px;background:linear-gradient(90deg,#0014ff 0px,#006aff 26px,#00fbff 56px,#00ffe0 61px,#00ff92 67px,#0f5 77px,#00ff02 96px,#29ff00 107px,#46ff00 117px,#48ff00 125px,#2fff00 134px,#00ff01 141px,#00ff74 153px,#00fffa 162px,#00acff 172px,#0068ff 183px,#0014ff 210px)"></i><i style="height:2px;background:linear-gradient(90deg,#0014ff 0px,#006fff 27px,#00fffe 56px,#00ffd9 61px,#00ff8f 67px,#00ff79 70px,#05ff00 94px,#4bff00 111px,#5dff00 121px,#4f0 132px,#00ff03 142px,#00ff80 154px,#00fffd 162px,#00b1ff 171px,#006cff 182px,#003dff 194px,#0014ff 210px)"></i><i style="height:2px;background:linear-gradient(90deg,#0014ff 0px,#006fff 27px,#00feff 55px,#00ffd3 61px,#00ff8d 67px,#00ff5a 74px,#0f0 90px,#14ff00 94px,#5eff00 111px,#70ff00 121px,#4bff00 133px,#03ff00 142px,#00ff72 153px,#0ff 162px,#00b0ff 171px,#006bff 182px,#003cff 194px,#0014ff 210px)"></i><i style="height:2px;background:linear-gradient(90deg,#0014ff 0px,#006fff 27px,#00fcff 54px,#00ffcd 61px,#00ff82 68px,#0f3 79px,#02ff00 88px,#23ff00 94px,#71ff00 111px,#83ff00 121px,#51ff00 134px,#0f0 143px,#00ff7e 154px,#00fff6 161px,#00a7ff 172px,#006aff 182px,#003bff 194px,#0014ff 210px)"></i><i style="height:2px;background:linear-gradient(90deg,#0014ff 0px,#006fff 27px,#00fffe 54px,#0f7 69px,#00ff04 85px,#32ff00 94px,#84ff00 111px,#96ff00 121px,#5dff00 134px,#05ff00 143px,#00ff6f 153px,#00fff8 161px,#00a6ff 172px,#0069ff 182px,#003bff 194px,#0014ff 210px)"></i><i style="height:2px;background:linear-gradient(90deg,#0014ff 0px,#0070ff 27px,#00fdff 53px,#0f0 84px,#41ff00 94px,#98ff00 111px,#a9ff00 121px,#94ff00 127px,#61ff00 135px,#00ff01 144px,#00ff7c 154px,#00fffb 161px,#00abff 171px,#0068ff 182px,#003aff 194px,#0014ff 210px)"></i><i style="height:2px;background:linear-gradient(90deg,#0014ff 0px,#0074ff 28px,#00fffe 53px,#03ff00 83px,#57ff00 95px,#98ff00 107px,#beff00 119px,#aeff00 125px,#73ff00 134px,#00ff07 145px,#00ff7b 154px,#00fffd 161px,#0af 171px,#0067ff 182px,#0039ff 194px,#0014ff 210px)"></i><i style="height:2px;background:linear-gradient(90deg,#0014ff 0px,#0070ff 27px,#00fcff 52px,#04ff00 82px,#79ff00 98px,#bdff00 111px,#cfff00 119px,#c2ff00 124px,#95ff00 131px,#60ff00 137px,#00ff04 145px,#00ff7b 154px,#0ff 161px,#00beff 168px,#006bff 181px,#0039ff 194px,#0014ff 210px)"></i><i style="height:2px;background:linear-gradient(90deg,#0014ff 0px,#0070ff 27px,#00feff 52px,#07ff00 82px,#83ff00 97px,#cdff00 111px,#dbff00 118px,#cbff00 124px,#a5ff00 130px,#00ff04 145px,#00ff7d 154px,#0ff 161px,#00beff 168px,#006bff 181px,#0039ff 194px,#0014ff 210px)"></i><i style="height:2px;background:linear-gradient(90deg,#0014ff 0px,#0071ff 27px,#0ff 52px,#02ff00 81px,#87ff00 95px,#d5ff00 109px,#e9ff00 116px,#deff00 122px,#b5ff00 129px,#00ff04 145px,#00ff7e 154px,#0ff 161px,#00beff 168px,#006bff 181px,#0039ff 194px,#0014ff 210px)"></i><i style="height:2px;background:linear-gradient(90deg,#0014ff 0px,#0071ff 27px,#00fffd 52px,#05ff00 81px,#98ff00 95px,#e5ff00 109px,#f7ff00 116px,#e7ff00 122px,#beff00 129px,#00ff04 145px,#00ff80 154px,#0ff 161px,#00beff 168px,#006bff 181px,#0039ff 194px,#0014ff 210px)"></i><i style="height:2px;background:linear-gradient(90deg,#0014ff 0px,#0072ff 27px,#00fbff 51px,#08ff00 81px,#46ff00 87px,#90ff00 92px,#afff00 96px,#fdff00 111px,#fffd00 118px,#beff00 130px,#00ff04 145px,#00ff72 153px,#0ff 161px,#00beff 168px,#006bff 181px,#0039ff 194px,#0014ff 210px)"></i><i style="height:2px;background:linear-gradient(90deg,#0014ff 0px,#006dff 26px,#00fdff 51px,#02ff00 80px,#3fff00 86px,#a0ff00 92px,#c6ff00 97px,#fffe00 108px,#ffea00 114px,#fffe00 121px,#c6ff00 130px,#5fff00 137px,#00ff04 145px,#00ff74 153px,#0ff 161px,#00beff 168px,#006bff 181px,#0039ff 194px,#0014ff 210px)"></i><i style="height:2px;background:linear-gradient(90deg,#0014ff 0px,#006eff 26px,#00feff 51px,#05ff00 80px,#45ff00 86px,#afff00 92px,#dcff00 98px,#fffd00 105px,#ffdb00 114px,#ff0 123px,#cfff00 130px,#5fff00 137px,#00ff04 145px,#00ff75 153px,#0ff 161px,#00b7ff 169px,#006bff 181px,#0039ff 194px,#0014ff 210px)"></i><i style="height:2px;background:linear-gradient(90deg,#0014ff 0px,#006eff 26px,#00fffe 51px,#08ff00 80px,#59ff00 87px,#bfff00 92px,#edff00 98px,#fffd00 102px,#fc0 114px,#fffb00 124px,#d7ff00 130px,#5fff00 137px,#00ff04 145px,#0f7 153px,#0ff 161px,#00b7ff 169px,#006bff 181px,#0039ff 194px,#0014ff 210px)"></i><i style="height:2px;background:linear-gradient(90deg,#0014ff 0px,#006fff 26px,#00fffd 51px,#00ff09 78px,#0bff00 80px,#60ff00 87px,#ceff00 92px,#fdff00 98px,#ffc900 109px,#ffbd00 114px,#fffd00 126px,#dfff00 130px,#6eff00 136px,#00ff04 145px,#00ff78 153px,#0ff 161px,#00b7ff 169px,#006bff 181px,#0039ff 194px,#0014ff 210px)"></i><i style="height:2px;background:linear-gradient(90deg,#0014ff 0px,#006aff 25px,#00b2ff 39px,#00fbff 50px,#00ff07 78px,#0dff00 80px,#67ff00 87px,#deff00 92px,#fffd00 96px,#ffae00 113px,#ffb900 117px,#fffb00 127px,#e8ff00 130px,#6eff00 136px,#00ff04 145px,#0ff 161px,#00b7ff 169px,#006bff 181px,#0039ff 194px,#0014ff 210px)"></i><i style="height:2px;background:linear-gradient(90deg,#0014ff 0px,#006bff 25px,#00b2ff 39px,#00fcff 50px,#00ff04 78px,#10ff00 80px,#5bff00 86px,#dbff00 91px,#fffc00 94px,#ffb100 107px,#ff9e00 113px,#ffac00 117px,#fffa00 128px,#dfff00 131px,#5eff00 137px,#00ff05 145px,#0ff 161px,#00b7ff 169px,#006bff 181px,#0039ff 194px,#0014ff 210px)"></i><i style="height:1px;background:linear-gradient(90deg,#0014ff 0px,#006bff 25px,#00b8ff 40px,#00fdff 50px,#00ff02 78px,#12ff00 80px,#5fff00 86px,#e6ff00 91px,#fffa00 93px,#ffce00 99px,#ff9300 113px,#ffa200 117px,#fffc00 129px,#e5ff00 131px,#5eff00 137px,#00ff05 145px,#0ff 161px,#00b7ff 169px,#006bff 181px,#0039ff 194px,#0014ff 210px)"></i></div>
<div class="cb" style="left:658px;top:1208px;width:16px;height:203px;background:linear-gradient(180deg,#ff0b00 0%,#ff0b00 2.1%,#ff2000 2.1%,#ff2000 4.2%,#ff3500 4.2%,#ff3500 6.2%,#ff4a00 6.2%,#ff4a00 8.3%,#ff6000 8.3%,#ff6000 10.4%,#ff7500 10.4%,#ff7500 12.5%,#ff8a00 12.5%,#ff8a00 14.6%,#ff9f00 14.6%,#ff9f00 16.7%,#ffb500 16.7%,#ffb500 18.8%,#ffca00 18.8%,#ffca00 20.8%,#ffdf00 20.8%,#ffdf00 22.9%,#fff400 22.9%,#fff400 25%,#f4ff00 25%,#f4ff00 27.1%,#dfff00 27.1%,#dfff00 29.2%,#caff00 29.2%,#caff00 31.2%,#b5ff00 31.2%,#b5ff00 33.3%,#9fff00 33.3%,#9fff00 35.4%,#8aff00 35.4%,#8aff00 37.5%,#75ff00 37.5%,#75ff00 39.6%,#60ff00 39.6%,#60ff00 41.7%,#4aff00 41.7%,#4aff00 43.8%,#35ff00 43.8%,#35ff00 45.8%,#20ff00 45.8%,#20ff00 47.9%,#0bff00 47.9%,#0bff00 50%,#00ff0b 50%,#00ff0b 52.1%,#00ff20 52.1%,#00ff20 54.2%,#00ff35 54.2%,#00ff35 56.2%,#00ff4a 56.2%,#00ff4a 58.3%,#00ff60 58.3%,#00ff60 60.4%,#00ff75 60.4%,#00ff75 62.5%,#00ff8a 62.5%,#00ff8a 64.6%,#00ff9f 64.6%,#00ff9f 66.7%,#00ffb5 66.7%,#00ffb5 68.8%,#00ffca 68.8%,#00ffca 70.8%,#00ffdf 70.8%,#00ffdf 72.9%,#00fff4 72.9%,#00fff4 75%,#00f4ff 75%,#00f4ff 77.1%,#00dfff 77.1%,#00dfff 79.2%,#00caff 79.2%,#00caff 81.2%,#00b5ff 81.2%,#00b5ff 83.3%,#009fff 83.3%,#009fff 85.4%,#008aff 85.4%,#008aff 87.5%,#0075ff 87.5%,#0075ff 89.6%,#0060ff 89.6%,#0060ff 91.7%,#004aff 91.7%,#004aff 93.8%,#0035ff 93.8%,#0035ff 95.8%,#0020ff 95.8%,#0020ff 97.9%,#000bff 97.9%,#000bff 100%)"></div>
<div class="hm" style="left:772px;top:1208px;width:209px;height:203px"><i style="height:2px;background:linear-gradient(90deg,#0029ff 0px,#0046ff 16px,#0bf 34px,#00fffc 41px,#00ff52 57px,#05ff00 68px,#6eff00 77px,#fffe00 86px,#ff9c00 95px,#ff7200 101px,#ff6800 105px,#ff8a00 112px,#ffca00 117px,#fffe00 123px,#00ff03 142px,#00ff54 157px,#00ffca 167px,#0ff 173px,#0068ff 189px,#004aff 198px,#003dff 209px)"></i><i style="height:2px;background:linear-gradient(90deg,#0029ff 0px,#0046ff 16px,#0bf 34px,#00fffe 41px,#00ff54 57px,#04ff00 68px,#6bff00 77px,#fdff00 86px,#ffa000 95px,#f70 101px,#ff6c00 105px,#ff8d00 112px,#ffcb00 117px,#ff0 123px,#00ff03 142px,#00ff54 157px,#00ffca 167px,#00feff 173px,#0068ff 189px,#004bff 198px,#003dff 209px)"></i><i style="height:2px;background:linear-gradient(90deg,#0029ff 0px,#0046ff 16px,#00baff 34px,#00feff 41px,#00ff56 57px,#02ff00 68px,#5bff00 76px,#deff00 84px,#fff800 87px,#ffa400 95px,#ff7b00 101px,#ff7000 105px,#ff8f00 112px,#fc0 117px,#fff600 122px,#dcff00 126px,#20ff00 139px,#00ff02 142px,#0f5 157px,#00ffc9 167px,#00feff 173px,#0069ff 189px,#004bff 198px,#003cff 209px)"></i><i style="height:2px;background:linear-gradient(90deg,#0029ff 0px,#0045ff 16px,#00b9ff 34px,#00fcff 41px,#00ff58 57px,#0f0 68px,#58ff00 76px,#cf0 83px,#fffb00 87px,#ffa800 95px,#ff7f00 101px,#ff7400 105px,#ff9200 112px,#ffcd00 117px,#fff700 122px,#dcff00 126px,#1fff00 139px,#00ff02 142px,#0f5 157px,#00ffc9 167px,#00fdff 173px,#0069ff 189px,#004bff 198px,#003cff 209px)"></i><i style="height:2px;background:linear-gradient(90deg,#0029ff 0px,#0045ff 16px,#00b9ff 34px,#00faff 41px,#00ffcb 47px,#00ff51 58px,#00ff01 68px,#1f0 70px,#63ff00 77px,#fffe00 87px,#ffac00 95px,#ff8400 101px,#ff7800 105px,#ff9400 112px,#ffcf00 117px,#fff700 122px,#dbff00 126px,#1fff00 139px,#00ff02 142px,#00ff56 157px,#00ffc9 167px,#00fdff 173px,#006aff 189px,#004bff 198px,#003bff 209px)"></i><i style="height:2px;background:linear-gradient(90deg,#0029ff 0px,#0045ff 16px,#00b1ff 33px,#00fffc 42px,#00ff53 58px,#00ff03 68px,#0fff00 70px,#52ff00 76px,#fcff00 87px,#ffb000 95px,#f80 101px,#ff7c00 105px,#ff9700 112px,#fff800 122px,#dbff00 126px,#1eff00 139px,#00ff02 142px,#00ff56 157px,#00fcff 173px,#006aff 189px,#004bff 198px,#003bff 209px)"></i><i style="height:2px;background:linear-gradient(90deg,#0029ff 0px,#0045ff 16px,#00b7ff 34px,#00fffe 42px,#0f5 58px,#00ff05 68px,#0dff00 70px,#4fff00 76px,#d1ff00 84px,#fff900 88px,#ffb300 95px,#ff8000 105px,#f90 112px,#fff800 122px,#dbff00 126px,#1eff00 139px,#00ff02 142px,#00ff57 157px,#00fcff 173px,#006bff 189px,#004bff 198px,#003aff 209px)"></i><i style="height:2px;background:linear-gradient(90deg,#0029ff 0px,#0045ff 16px,#00b7ff 34px,#00feff 42px,#00ff56 58px,#0aff00 70px,#4cff00 76px,#c0ff00 83px,#fffc00 88px,#ffb700 95px,#ff8400 105px,#ff9c00 112px,#fff900 122px,#daff00 126px,#1eff00 139px,#00ff02 142px,#00ff57 157px,#00fbff 173px,#006cff 189px,#004bff 198px,#003aff 209px)"></i><i style="height:2px;background:linear-gradient(90deg,#0029ff 0px,#0045ff 16px,#00b6ff 34px,#00fcff 42px,#00ffd6 47px,#00ff58 58px,#08ff00 70px,#4aff00 76px,#bdff00 83px,#feff00 88px,#ffa600 98px,#f80 106px,#ff9f00 112px,#fff900 122px,#daff00 126px,#1dff00 139px,#00ff02 142px,#00ff58 157px,#00fbff 173px,#006cff 189px,#004bff 198px,#0039ff 209px)"></i><i style="height:2px;background:linear-gradient(90deg,#0029ff 0px,#0045ff 16px,#00aeff 33px,#00fffc 43px,#00ff5a 58px,#06ff00 70px,#47ff00 76px,#baff00 83px,#fbff00 88px,#fa0 98px,#ff8c00 106px,#ffa100 112px,#fffa00 122px,#d9ff00 126px,#2aff00 138px,#00ff02 142px,#00ff58 157px,#00faff 173px,#006dff 189px,#004bff 198px,#0039ff 209px)"></i><i style="height:2px;background:linear-gradient(90deg,#0029ff 0px,#0045ff 16px,#00b5ff 34px,#00fffe 43px,#00ff5c 58px,#04ff00 70px,#37ff00 75px,#b6ff00 83px,#fffb00 89px,#ffae00 98px,#ff9000 106px,#ffa400 112px,#fffb00 122px,#d9ff00 126px,#2aff00 138px,#00ff01 142px,#00ff59 157px,#00faff 173px,#006dff 189px,#004bff 198px,#0038ff 209px)"></i><i style="height:2px;background:linear-gradient(90deg,#0029ff 0px,#0049ff 17px,#00b4ff 34px,#00feff 43px,#00ffd3 48px,#00ff5e 58px,#02ff00 70px,#34ff00 75px,#b3ff00 83px,#fffe00 89px,#ffb200 98px,#ff9400 106px,#ffa000 111px,#fffb00 122px,#d8ff00 126px,#29ff00 138px,#00ff01 142px,#00ff59 157px,#00fffb 172px,#006eff 189px,#004bff 198px,#0038ff 209px)"></i><i style="height:2px;background:linear-gradient(90deg,#0029ff 0px,#0049ff 17px,#00b3ff 34px,#00fcff 43px,#00ffd5 48px,#00ff60 58px,#0f0 70px,#3eff00 76px,#b0ff00 83px,#fcff00 89px,#ffb000 99px,#ff9700 107px,#ffa900 112px,#fffc00 122px,#d8ff00 126px,#28ff00 138px,#00ff01 142px,#00ff62 158px,#00fffc 172px,#006eff 189px,#004cff 198px,#0038ff 209px)"></i><i style="height:2px;background:linear-gradient(90deg,#0029ff 0px,#0049ff 17px,#0083ff 27px,#00fffd 44px,#00ff62 58px,#00ff02 70px,#2eff00 75px,#adff00 83px,#fffa00 90px,#ffb400 99px,#ff9b00 107px,#ffab00 112px,#fffc00 122px,#e4ff00 125px,#28ff00 138px,#00ff01 142px,#00ff63 158px,#00fffc 172px,#006fff 189px,#004cff 198px,#0037ff 209px)"></i><i style="height:2px;background:linear-gradient(90deg,#0029ff 0px,#0049ff 17px,#0082ff 27px,#0ff 44px,#00ff49 61px,#00ff04 70px,#15ff00 73px,#47ff00 77px,#af0 83px,#fffd00 90px,#ffb900 99px,#ff9e00 107px,#ffa800 111px,#fffd00 122px,#d7ff00 126px,#27ff00 138px,#00ff01 142px,#00ff63 158px,#00fffd 172px,#0070ff 189px,#004cff 198px,#0037ff 209px)"></i><i style="height:2px;background:linear-gradient(90deg,#0029ff 0px,#0049ff 17px,#0082ff 27px,#00fdff 44px,#00ff4a 61px,#01ff00 71px,#12ff00 73px,#a7ff00 83px,#fdff00 90px,#ffbd00 99px,#ffa200 107px,#fa0 111px,#fffd00 122px,#d7ff00 126px,#27ff00 138px,#00ff01 142px,#00ff64 158px,#00fffd 172px,#006bff 190px,#0036ff 209px)"></i><i style="height:2px;background:linear-gradient(90deg,#0029ff 0px,#0048ff 17px,#00fffc 45px,#00ff4c 61px,#00ff02 71px,#0fff00 73px,#b1ff00 84px,#fffa00 91px,#ffbc00 100px,#ffa500 108px,#ffb300 112px,#fffe00 122px,#d6ff00 126px,#26ff00 138px,#00ff01 142px,#00ff64 158px,#00fffe 172px,#006bff 190px,#0036ff 209px)"></i><i style="height:2px;background:linear-gradient(90deg,#0029ff 0px,#0048ff 17px,#007aff 26px,#00fffe 45px,#00ff4d 61px,#00ff04 71px,#0cff00 73px,#a1ff00 83px,#fffd00 91px,#ffc000 100px,#ffa800 108px,#ffaf00 111px,#fffe00 122px,#d6ff00 126px,#25ff00 138px,#0f0 142px,#00ff64 158px,#00fffe 172px,#006cff 190px,#0035ff 209px)"></i><i style="height:2px;background:linear-gradient(90deg,#0029ff 0px,#0048ff 17px,#0079ff 26px,#00fdff 45px,#00ff4f 61px,#0aff00 73px,#9eff00 83px,#fdff00 91px,#ffc400 100px,#ffab00 108px,#ffb200 111px,#ff0 122px,#d5ff00 126px,#25ff00 138px,#0f0 142px,#00ff65 158px,#0ff 172px,#006cff 190px,#0035ff 209px)"></i><i style="height:2px;background:linear-gradient(90deg,#0029ff 0px,#004cff 18px,#00fbff 45px,#00ff51 61px,#07ff00 73px,#a8ff00 84px,#fffb00 92px,#ffc800 100px,#ffaf00 108px,#ffb500 111px,#fff900 121px,#e2ff00 125px,#31ff00 137px,#0f0 142px,#00ff6e 159px,#0ff 172px,#006dff 190px,#0034ff 209px)"></i><i style="height:2px;background:linear-gradient(90deg,#0029ff 0px,#004cff 18px,#00fffe 46px,#00ff52 61px,#04ff00 73px,#98ff00 83px,#ff0 92px,#fc0 100px,#ffb200 109px,#fff900 121px,#e2ff00 125px,#30ff00 137px,#0f0 142px,#00ff6e 159px,#00feff 172px,#006dff 190px,#0034ff 209px)"></i><i style="height:2px;background:linear-gradient(90deg,#0029ff 0px,#004cff 18px,#00feff 46px,#00ff54 61px,#02ff00 73px,#94ff00 83px,#fcff00 92px,#fc0 101px,#ffb400 109px,#fffa00 121px,#e1ff00 125px,#30ff00 137px,#0f0 142px,#00ff6f 159px,#00feff 172px,#006eff 190px,#03f 209px)"></i><i style="height:2px;background:linear-gradient(90deg,#0029ff 0px,#004bff 18px,#00fbff 46px,#00ff56 61px,#00ff01 73px,#41ff00 78px,#9eff00 84px,#fffe00 93px,#ffd500 100px,#ffb700 109px,#fffb00 121px,#e1ff00 125px,#2fff00 137px,#0f0 142px,#0f7 160px,#00fdff 172px,#006eff 190px,#03f 209px)"></i><i style="height:2px;background:linear-gradient(90deg,#0029ff 0px,#004bff 18px,#00fffd 47px,#00ff5c 61px,#00ff06 73px,#3bff00 78px,#c8ff00 88px,#fffd00 94px,#ffd500 101px,#ffbc00 109px,#fffb00 121px,#e1ff00 125px,#27ff00 138px,#00ff02 143px,#00ff74 160px,#00fffd 172px,#0069ff 191px,#0032ff 209px)"></i><i style="height:2px;background:linear-gradient(90deg,#0029ff 0px,#0050ff 19px,#00feff 47px,#00ff59 62px,#00ff01 74px,#35ff00 78px,#c0ff00 88px,#fcff00 94px,#ffc000 109px,#fffc00 121px,#d5ff00 126px,#2cff00 138px,#03ff00 143px,#00ff68 159px,#00faff 173px,#0069ff 191px,#0032ff 209px)"></i><i style="height:2px;background:linear-gradient(90deg,#0029ff 0px,#004fff 19px,#00fbff 47px,#00ff5f 62px,#00ff06 74px,#7f0 83px,#dcff00 91px,#fdff00 95px,#ffc400 109px,#fffc00 121px,#d5ff00 126px,#31ff00 138px,#01ff00 144px,#00ff6d 160px,#00feff 173px,#0069ff 191px,#0031ff 209px)"></i><i style="height:2px;background:linear-gradient(90deg,#0029ff 0px,#004fff 19px,#00fffd 48px,#00ff65 62px,#0f0 75px,#c9ff00 90px,#ff0 96px,#ffc800 109px,#fffd00 121px,#d6ff00 126px,#36ff00 138px,#00ff01 145px,#00ff72 161px,#00fffd 173px,#006aff 191px,#0047ff 199px,#0031ff 209px)"></i><i style="height:2px;background:linear-gradient(90deg,#0029ff 0px,#004fff 19px,#00feff 48px,#00ff62 63px,#00ff05 75px,#2f0 78px,#ceff00 91px,#fffe00 97px,#fc0 109px,#fffd00 121px,#d6ff00 126px,#31ff00 139px,#00ff03 146px,#00ff6e 161px,#00faff 174px,#006aff 191px,#0047ff 199px,#0030ff 209px)"></i><i style="height:2px;background:linear-gradient(90deg,#0029ff 0px,#004fff 19px,#00faff 48px,#00ff68 63px,#00ff0a 75px,#1cff00 78px,#c8ff00 91px,#fbff00 97px,#ffd000 109px,#fffe00 121px,#d7ff00 126px,#36ff00 139px,#01ff00 146px,#00ff6b 161px,#00fdff 174px,#006aff 191px,#0046ff 199px,#002fff 209px)"></i><i style="height:2px;background:linear-gradient(90deg,#0029ff 0px,#004eff 19px,#00fffd 49px,#00ff6f 63px,#00ff03 76px,#53ff00 83px,#cf0 92px,#fdff00 98px,#ffd400 110px,#ff0 121px,#d7ff00 126px,#3bff00 139px,#00ff01 147px,#00ff70 162px,#00fffe 174px,#009fff 184px,#0064ff 192px,#002fff 209px)"></i><i style="height:2px;background:linear-gradient(90deg,#0029ff 0px,#004eff 19px,#00fdff 49px,#00ff6c 64px,#03ff00 77px,#c6ff00 92px,#ff0 99px,#ffd800 110px,#fffa00 120px,#e2ff00 125px,#41ff00 139px,#03ff00 147px,#00ff64 161px,#00f8ff 175px,#00a0ff 184px,#0064ff 192px,#0042ff 200px,#002eff 209px)"></i><i style="height:2px;background:linear-gradient(90deg,#0029ff 0px,#004eff 19px,#00f9ff 49px,#00ff72 64px,#09ff00 78px,#5aff00 85px,#c0ff00 92px,#faff00 99px,#ffdc00 110px,#fffa00 120px,#e2ff00 125px,#46ff00 139px,#0f0 148px,#00ff69 162px,#00fbff 175px,#00a1ff 184px,#0064ff 192px,#0041ff 200px,#002eff 209px)"></i><i style="height:2px;background:linear-gradient(90deg,#0029ff 0px,#0052ff 20px,#00d8ff 45px,#00feff 50px,#03ff00 78px,#51ff00 85px,#baff00 92px,#fcff00 100px,#ffe000 110px,#fffb00 120px,#d9ff00 126px,#41ff00 140px,#00ff03 149px,#00ff6f 163px,#00feff 175px,#00a2ff 184px,#0064ff 192px,#0041ff 200px,#002dff 209px)"></i><i style="height:2px;background:linear-gradient(90deg,#0029ff 0px,#0051ff 20px,#00faff 50px,#00ff04 78px,#30ff00 83px,#b3ff00 92px,#feff00 101px,#ffe400 110px,#fffb00 120px,#daff00 126px,#3dff00 141px,#01ff00 149px,#00ff6c 163px,#00fffd 175px,#00a3ff 184px,#0064ff 192px,#0040ff 200px,#002cff 209px)"></i><i style="height:2px;background:linear-gradient(90deg,#0029ff 0px,#0051ff 20px,#00d3ff 45px,#00feff 51px,#09ff00 80px,#3eff00 85px,#adff00 92px,#f9ff00 101px,#ffe800 111px,#fffc00 120px,#daff00 126px,#39ff00 142px,#00ff02 150px,#00ff68 163px,#00f8ff 176px,#009bff 185px,#005eff 193px,#002cff 209px)"></i><i style="height:2px;background:linear-gradient(90deg,#0029ff 0px,#0051ff 20px,#00d0ff 45px,#00fffd 52px,#00ff07 79px,#1eff00 83px,#a7ff00 92px,#f5ff00 101px,#ffeb00 111px,#fffd00 120px,#d3ff00 127px,#3dff00 142px,#02ff00 150px,#00ff64 163px,#00faff 176px,#009cff 185px,#005eff 193px,#003cff 201px,#002bff 209px)"></i><i style="height:2px;background:linear-gradient(90deg,#0029ff 0px,#05f 21px,#00d2ff 46px,#00fcff 52px,#00ff06 80px,#15ff00 83px,#a1ff00 92px,#f1ff00 101px,#fffe00 104px,#ffef00 112px,#fffd00 120px,#d4ff00 127px,#39ff00 143px,#00ff01 151px,#00ff6b 164px,#00fdff 176px,#00a7ff 184px,#005eff 193px,#003bff 201px,#002bff 209px)"></i><i style="height:2px;background:linear-gradient(90deg,#0029ff 0px,#0054ff 21px,#00cfff 46px,#0ff 53px,#00ff25 77px,#0cff00 83px,#9aff00 92px,#ecff00 101px,#feff00 105px,#fff100 113px,#fffe00 120px,#cdff00 128px,#34ff00 144px,#03ff00 151px,#00ff67 164px,#00fffe 176px,#00a8ff 184px,#005eff 193px,#003aff 201px,#002aff 209px)"></i><i style="height:2px;background:linear-gradient(90deg,#0029ff 0px,#0054ff 21px,#00fffe 54px,#00ff5e 71px,#03ff00 83px,#2aff00 86px,#94ff00 92px,#e8ff00 101px,#fffe00 107px,#fff300 115px,#fffe00 120px,#c6ff00 129px,#39ff00 144px,#0f0 152px,#00ff6e 165px,#00fffb 176px,#009fff 185px,#005eff 193px,#003aff 201px,#0029ff 209px)"></i><i style="height:2px;background:linear-gradient(90deg,#0029ff 0px,#0053ff 21px,#00fbff 54px,#00ff51 73px,#00ff06 83px,#21ff00 86px,#8eff00 92px,#e3ff00 101px,#feff00 108px,#fffb00 119px,#c8ff00 129px,#34ff00 145px,#00ff03 153px,#00ff6a 165px,#00f9ff 177px,#00a0ff 185px,#005eff 193px,#0039ff 201px,#0029ff 209px)"></i><i style="height:2px;background:linear-gradient(90deg,#0029ff 0px,#0053ff 21px,#00c6ff 46px,#00fdff 55px,#00ff07 84px,#16ff00 86px,#82ff00 92px,#c8ff00 99px,#e5ff00 104px,#fcff00 116px,#f4ff00 120px,#c4ff00 129px,#02ff00 153px,#00ff67 165px,#00faff 177px,#00a0ff 185px,#005dff 193px,#0038ff 201px,#0028ff 209px)"></i><i style="height:2px;background:linear-gradient(90deg,#0029ff 0px,#0053ff 21px,#00c8ff 47px,#0ff 56px,#00ff04 85px,#0bff00 86px,#76ff00 92px,#bf0 99px,#d7ff00 104px,#efff00 117px,#b3ff00 131px,#0f0 154px,#00ff6f 166px,#00fbff 177px,#00a0ff 185px,#005dff 193px,#0038ff 201px,#0028ff 209px)"></i><i style="height:2px;background:linear-gradient(90deg,#0029ff 0px,#0053ff 21px,#00c5ff 47px,#00fffc 57px,#00ff31 82px,#0f0 86px,#6bff00 92px,#aeff00 99px,#c8ff00 104px,#e3ff00 117px,#caff00 126px,#9fff00 134px,#00ff03 155px,#00ff78 167px,#00fff5 176px,#005cff 193px,#0037ff 201px,#0027ff 209px)"></i><i style="height:2px;background:linear-gradient(90deg,#0029ff 0px,#0052ff 21px,#00c6ff 48px,#00fcff 57px,#00ff45 81px,#00ff0b 86px,#07ff00 87px,#50ff00 91px,#81ff00 95px,#b2ff00 102px,#d6ff00 119px,#94ff00 136px,#01ff00 155px,#00ff76 167px,#00fff4 176px,#00fdff 177px,#00a0ff 185px,#005bff 193px,#0037ff 201px,#0026ff 209px)"></i><i style="height:2px;background:linear-gradient(90deg,#0029ff 0px,#0056ff 22px,#00c3ff 48px,#00fdff 58px,#00ff51 81px,#00ff05 87px,#4f0 91px,#75ff00 95px,#a5ff00 102px,#c9ff00 120px,#91ff00 137px,#00ff03 156px,#00ff7f 168px,#00fdff 177px,#00abff 184px,#005bff 193px,#0039ff 200px,#0026ff 209px)"></i><i style="height:2px;background:linear-gradient(90deg,#0029ff 0px,#05f 22px,#00c4ff 49px,#00feff 59px,#00ff65 80px,#00ff10 87px,#02ff00 88px,#39ff00 91px,#69ff00 95px,#97ff00 102px,#bfff00 120px,#8eff00 138px,#02ff00 156px,#00ff71 167px,#00feff 177px,#00abff 184px,#005aff 193px,#0039ff 200px,#0025ff 209px)"></i><i style="height:2px;background:linear-gradient(90deg,#0029ff 0px,#05f 22px,#00c4ff 50px,#0ff 60px,#00ff72 80px,#00ff48 84px,#00ff09 88px,#2dff00 91px,#5eff00 95px,#89ff00 102px,#b3ff00 122px,#8dff00 139px,#06ff00 156px,#00ff6f 167px,#0ff 177px,#00a1ff 185px,#005aff 193px,#0038ff 200px,#0025ff 209px)"></i><i style="height:2px;background:linear-gradient(90deg,#0029ff 0px,#05f 22px,#00c1ff 50px,#00feff 61px,#00ff7e 80px,#00ff45 85px,#00ff02 89px,#2f0 91px,#52ff00 95px,#7bff00 102px,#a7ff00 118px,#af0 126px,#8cff00 140px,#01ff00 157px,#00ff79 168px,#00fffe 177px,#00a1ff 185px,#0059ff 193px,#0037ff 200px,#0024ff 209px)"></i><i style="height:2px;background:linear-gradient(90deg,#0029ff 0px,#0054ff 22px,#00c1ff 51px,#00fdff 62px,#00ff8a 80px,#00ff50 85px,#00ff0d 89px,#16ff00 91px,#46ff00 95px,#6dff00 102px,#9bff00 118px,#a3ff00 127px,#9dff00 136px,#8cff00 141px,#05ff00 157px,#00ff76 168px,#00fffd 177px,#00a1ff 185px,#0059ff 193px,#0037ff 200px,#0023ff 209px)"></i><i style="height:2px;background:linear-gradient(90deg,#0029ff 0px,#0054ff 22px,#00bdff 51px,#00fffe 64px,#00ff96 80px,#00ff5b 85px,#00ff07 90px,#0aff00 91px,#3bff00 95px,#60ff00 102px,#94ff00 120px,#a0ff00 135px,#85ff00 143px,#00ff01 158px,#00ff74 168px,#00fffc 177px,#00a1ff 185px,#0058ff 193px,#0036ff 200px,#0023ff 209px)"></i><i style="height:2px;background:linear-gradient(90deg,#0029ff 0px,#0050ff 21px,#00b8ff 51px,#00fffd 66px,#00ffa2 80px,#00ff57 86px,#00ff01 91px,#36ff00 96px,#89ff00 120px,#a1ff00 137px,#8bff00 143px,#03ff00 158px,#00ff72 168px,#00fffb 177px,#00a1ff 185px,#0058ff 193px,#0036ff 200px,#02f 209px)"></i><i style="height:2px;background:linear-gradient(90deg,#0029ff 0px,#0050ff 21px,#00b8ff 52px,#00fdff 67px,#00ffae 80px,#00ff62 86px,#03ff00 92px,#2aff00 96px,#8f0 123px,#a3ff00 138px,#8aff00 144px,#07ff00 158px,#00ff70 168px,#00fffa 177px,#00a1ff 185px,#0057ff 193px,#0035ff 200px,#02f 209px)"></i><i style="height:2px;background:linear-gradient(90deg,#0029ff 0px,#004dff 20px,#0bf 54px,#00fffd 70px,#00ffc4 79px,#00ff6d 86px,#00ff09 92px,#1eff00 96px,#8aff00 126px,#a6ff00 139px,#8f0 145px,#0f0 159px,#00ff7b 169px,#00fff9 177px,#00a1ff 185px,#0057ff 193px,#0034ff 200px,#0021ff 209px)"></i><i style="height:2px;background:linear-gradient(90deg,#0029ff 0px,#004dff 20px,#00bcff 56px,#00fffe 72px,#00ffc7 80px,#00ff78 86px,#00ff07 93px,#12ff00 96px,#af0 139px,#8fff00 145px,#04ff00 159px,#00ff6b 168px,#00fff8 177px,#00a1ff 185px,#0056ff 193px,#0034ff 200px,#0020ff 209px)"></i><i style="height:2px;background:linear-gradient(90deg,#0029ff 0px,#004cff 20px,#00bdff 58px,#0ff 74px,#00ffd3 80px,#00ff83 86px,#00ff12 93px,#06ff00 96px,#32ff00 111px,#a1ff00 134px,#aeff00 140px,#95ff00 145px,#00ff04 160px,#00ff69 168px,#00f9ff 178px,#00a1ff 185px,#0056ff 193px,#03f 200px,#0020ff 209px)"></i><i style="height:2px;background:linear-gradient(90deg,#0029ff 0px,#0049ff 19px,#00c3ff 62px,#00feff 76px,#00ffc6 82px,#00ff1e 93px,#02ff00 98px,#28ff00 112px,#a1ff00 134px,#b3ff00 140px,#9cff00 145px,#0f0 160px,#00ff75 169px,#00f9ff 178px,#00a1ff 185px,#05f 193px,#03f 200px,#001fff 209px)"></i><i style="height:2px;background:linear-gradient(90deg,#0029ff 0px,#0041ff 16px,#00bdff 63px,#0ff 78px,#00ffd3 82px,#00ff21 94px,#02ff00 104px,#1fff00 113px,#a6ff00 135px,#b7ff00 140px,#a1ff00 145px,#00ff09 161px,#00ff72 169px,#00fbff 178px,#00a2ff 185px,#05f 193px,#0032ff 200px,#001eff 209px)"></i><i style="height:2px;background:linear-gradient(90deg,#0029ff 0px,#0040ff 16px,#00b6ff 65px,#00d6ff 74px,#0ff 80px,#00ff40 94px,#0f0 109px,#9fff00 135px,#b2ff00 141px,#95ff00 146px,#00ff07 161px,#00ff7c 170px,#00fffc 178px,#009bff 186px,#004fff 194px,#002eff 201px,#001eff 209px)"></i><i style="height:2px;background:linear-gradient(90deg,#0029ff 0px,#003dff 15px,#00acff 66px,#00d0ff 76px,#00fffd 82px,#00ff5f 94px,#05ff00 112px,#9eff00 136px,#aeff00 141px,#93ff00 146px,#00ff05 161px,#0f7 170px,#00fff5 178px,#00faff 179px,#00a0ff 186px,#0051ff 194px,#002dff 201px,#001dff 209px)"></i><i style="height:2px;background:linear-gradient(90deg,#0029ff 0px,#00a1ff 67px,#00c4ff 77px,#00f7ff 83px,#00ffe5 86px,#00ff7d 94px,#03ff00 113px,#98ff00 136px,#a9ff00 141px,#8f0 147px,#00ff02 161px,#00ff72 170px,#00fffd 179px,#0098ff 187px,#0052ff 194px,#0028ff 202px,#001cff 209px)"></i><i style="height:2px;background:linear-gradient(90deg,#0029ff 0px,#003cff 16px,#0074ff 41px,#0098ff 69px,#00beff 79px,#00fffe 86px,#00ff9c 94px,#03ff00 114px,#39ff00 121px,#a5ff00 141px,#95ff00 145px,#5eff00 152px,#0f0 161px,#00ff6d 170px,#00fff7 179px,#0085ff 189px,#004cff 195px,#0027ff 202px,#001bff 209px)"></i><i style="height:2px;background:linear-gradient(90deg,#0029ff 0px,#003bff 16px,#006eff 40px,#008fff 71px,#00b2ff 80px,#00fdff 88px,#0fb 94px,#00ff6c 104px,#05ff00 115px,#2dff00 120px,#a0ff00 141px,#92ff00 145px,#5eff00 152px,#02ff00 161px,#00ff68 170px,#00feff 180px,#0094ff 188px,#004dff 195px,#0026ff 202px,#001aff 209px)"></i><i style="height:2px;background:linear-gradient(90deg,#0029ff 0px,#003aff 16px,#0068ff 39px,#0082ff 72px,#00a5ff 81px,#00f9ff 90px,#00ff82 104px,#08ff00 116px,#9cff00 141px,#8fff00 145px,#5eff00 152px,#04ff00 161px,#00ff63 170px,#00fff9 180px,#004dff 195px,#0021ff 203px,#0019ff 209px)"></i><i style="height:2px;background:linear-gradient(90deg,#0029ff 0px,#0038ff 16px,#0062ff 37px,#0075ff 73px,#0097ff 82px,#00fbff 93px,#00ff98 104px,#02ff00 116px,#97ff00 141px,#8cff00 145px,#5fff00 152px,#06ff00 161px,#00ff6b 171px,#00fff3 180px,#00fbff 181px,#008fff 189px,#0046ff 196px,#0020ff 203px,#0018ff 209px)"></i><i style="height:2px;background:linear-gradient(90deg,#0029ff 0px,#0038ff 17px,#005bff 33px,#0069ff 53px,#005dff 66px,#006aff 75px,#008eff 84px,#00f8ff 96px,#00ffae 104px,#00ff1f 114px,#06ff00 117px,#92ff00 141px,#5fff00 152px,#00ff02 162px,#00ff72 172px,#00fffd 181px,#0092ff 189px,#0047ff 196px,#001eff 203px,#0017ff 209px)"></i><i style="height:2px;background:linear-gradient(90deg,#0029ff 0px,#0037ff 17px,#0057ff 32px,#0061ff 53px,#0050ff 67px,#005dff 77px,#008aff 87px,#00fbff 99px,#00ffc4 104px,#00ff19 115px,#09ff00 118px,#43ff00 130px,#87ff00 139px,#8eff00 142px,#60ff00 152px,#0f0 162px,#00ff79 173px,#00fff7 181px,#0047ff 196px,#001dff 203px,#0016ff 209px)"></i><i style="height:2px;background:linear-gradient(90deg,#0029ff 0px,#0035ff 17px,#05f 32px,#005aff 53px,#0043ff 67px,#0050ff 79px,#007fff 89px,#00b1ff 95px,#00f9ff 101px,#00ffdb 104px,#00ff20 115px,#03ff00 118px,#3cff00 130px,#7cff00 138px,#8aff00 142px,#60ff00 152px,#03ff00 162px,#00ff73 173px,#00fdff 182px,#09f 189px,#0048ff 196px,#001cff 203px,#0015ff 209px)"></i><i style="height:2px;background:linear-gradient(90deg,#0029ff 0px,#0034ff 17px,#0052ff 32px,#0053ff 53px,#0035ff 67px,#0042ff 82px,#0089ff 94px,#00feff 103px,#00ff28 115px,#05ff00 119px,#34ff00 130px,#7f0 138px,#85ff00 142px,#60ff00 152px,#05ff00 162px,#00ff6d 173px,#00fffb 182px,#0048ff 196px,#001aff 203px,#0015ff 209px)"></i><i style="height:2px;background:linear-gradient(90deg,#0029ff 0px,#0034ff 17px,#0052ff 32px,#0050ff 53px,#0032ff 67px,#003dff 82px,#0084ff 94px,#00f9ff 103px,#00ff2c 115px,#0f0 119px,#2fff00 130px,#7cff00 141px,#5fff00 151px,#34ff00 157px,#03ff00 162px,#00ff36 168px,#00ff8b 175px,#00feff 182px,#09f 189px,#0047ff 196px,#001aff 203px,#0014ff 209px)"></i><i style="height:2px;background:linear-gradient(90deg,#0029ff 0px,#0034ff 17px,#0052ff 32px,#004eff 53px,#0030ff 67px,#003bff 82px,#0084ff 94px,#00f7ff 103px,#00fff7 104px,#00ff30 115px,#02ff00 120px,#2bff00 130px,#6f0 138px,#72ff00 142px,#52ff00 152px,#0f0 162px,#00ff67 172px,#00fff6 181px,#0046ff 196px,#0019ff 203px,#0014ff 209px)"></i><i style="height:2px;background:linear-gradient(90deg,#0029ff 0px,#0034ff 17px,#0052ff 32px,#004cff 53px,#002eff 67px,#0039ff 82px,#0084ff 94px,#00f6ff 103px,#00fff9 104px,#00ff84 110px,#0f3 115px,#00ff03 120px,#27ff00 130px,#68ff00 141px,#53ff00 150px,#2aff00 157px,#00ff02 162px,#00ff45 169px,#0f8 174px,#00fffc 181px,#0091ff 189px,#04f 196px,#0019ff 203px,#0014ff 209px)"></i><i style="height:2px;background:linear-gradient(90deg,#0029ff 0px,#0034ff 17px,#0052ff 32px,#004aff 53px,#002dff 67px,#0038ff 82px,#0084ff 94px,#00f4ff 103px,#00fffa 104px,#00ff86 110px,#00ff37 115px,#00ff02 121px,#5eff00 141px,#4aff00 150px,#25ff00 157px,#00ff05 162px,#00ff48 169px,#00fbff 181px,#09f 188px,#0043ff 196px,#0018ff 203px,#0014ff 209px)"></i><i style="height:2px;background:linear-gradient(90deg,#0029ff 0px,#0034ff 17px,#0052ff 32px,#0048ff 53px,#002bff 67px,#0036ff 82px,#0084ff 94px,#00f3ff 103px,#00fffc 104px,#00ff87 110px,#00ff3b 115px,#00ff07 121px,#54ff00 141px,#45ff00 149px,#20ff00 157px,#01ff00 161px,#00ff3f 168px,#00ff73 172px,#00fff9 180px,#00f5ff 181px,#0094ff 188px,#0041ff 196px,#001bff 202px,#0014ff 209px)"></i><i style="height:2px;background:linear-gradient(90deg,#0029ff 0px,#0034ff 17px,#0052ff 32px,#0046ff 53px,#0029ff 67px,#0034ff 82px,#0084ff 94px,#00fffe 104px,#00ff5a 113px,#00ff27 117px,#00ff0b 121px,#02ff00 124px,#4aff00 141px,#3dff00 149px,#1bff00 157px,#00ff02 161px,#00ff4c 169px,#0ff 180px,#0090ff 188px,#003fff 196px,#001aff 202px,#0014ff 209px)"></i><i style="height:2px;background:linear-gradient(90deg,#0029ff 0px,#0034ff 17px,#0052ff 32px,#0045ff 53px,#0028ff 67px,#0032ff 82px,#0085ff 94px,#0ff 104px,#00ff5d 113px,#00ff2c 117px,#00ff0f 121px,#02ff00 125px,#40ff00 141px,#34ff00 149px,#16ff00 157px,#00ff05 161px,#00ff4f 169px,#00f8ff 180px,#0097ff 187px,#0046ff 195px,#0019ff 202px,#0014ff 209px)"></i><i style="height:2px;background:linear-gradient(90deg,#0029ff 0px,#0034ff 17px,#0052ff 32px,#0043ff 53px,#0026ff 67px,#0031ff 82px,#007bff 93px,#00fdff 104px,#00ff5f 113px,#00ff30 117px,#00ff0f 122px,#02ff00 126px,#36ff00 141px,#1f0 157px,#00ff01 160px,#00ff51 169px,#00fffd 179px,#0092ff 187px,#04f 195px,#0019ff 202px,#0014ff 209px)"></i><i style="height:2px;background:linear-gradient(90deg,#0029ff 0px,#0034ff 17px,#0052ff 32px,#0041ff 53px,#0024ff 67px,#002fff 82px,#007bff 93px,#00fcff 104px,#00ff6f 112px,#00ff35 117px,#00ff13 122px,#02ff00 127px,#2cff00 141px,#0cff00 157px,#00ff0b 161px,#00ff53 169px,#00faff 179px,#09f 186px,#004aff 194px,#0018ff 202px,#0014ff 209px)"></i><i style="height:2px;background:linear-gradient(90deg,#0029ff 0px,#0034ff 17px,#0052ff 33px,#02f 68px,#002dff 82px,#007bff 93px,#00faff 104px,#00ff71 112px,#00ff39 117px,#00ff18 122px,#01ff00 128px,#23ff00 141px,#07ff00 157px,#00ff15 162px,#00ff56 169px,#00fffa 178px,#0094ff 186px,#0048ff 194px,#0017ff 202px,#0014ff 209px)"></i><i style="height:2px;background:linear-gradient(90deg,#0029ff 0px,#0034ff 17px,#0052ff 33px,#0020ff 68px,#0029ff 81px,#003aff 85px,#0072ff 92px,#00f8ff 104px,#00ff73 112px,#00ff3e 117px,#00ff1c 122px,#01ff00 129px,#19ff00 140px,#02ff00 157px,#00ff18 162px,#00ff58 169px,#00fdff 178px,#009aff 185px,#004dff 193px,#0019ff 201px,#0014ff 209px)"></i><i style="height:2px;background:linear-gradient(90deg,#0029ff 0px,#0034ff 17px,#0052ff 33px,#0024ff 68px,#002eff 81px,#0040ff 85px,#0079ff 92px,#00fffe 104px,#00ff7c 111px,#00ff4f 115px,#00ff20 121px,#02ff00 129px,#18ff00 139px,#0f0 156px,#00ff0f 160px,#00ff5d 169px,#00fff6 177px,#0097ff 185px,#004cff 193px,#001bff 201px,#0016ff 209px)"></i><i style="height:2px;background:linear-gradient(90deg,#0029ff 0px,#0035ff 17px,#0054ff 33px,#002dff 68px,#0039ff 81px,#004bff 85px,#0084ff 92px,#00fffd 103px,#00ff82 110px,#00ff51 114px,#00ff21 120px,#03ff00 128px,#1fff00 138px,#01ff00 155px,#00ff0d 159px,#00ff63 169px,#00fffb 177px,#0096ff 185px,#004dff 193px,#001eff 201px,#0019ff 209px)"></i><i style="height:2px;background:linear-gradient(90deg,#0029ff 0px,#0036ff 17px,#05f 33px,#0036ff 68px,#04f 81px,#0087ff 91px,#00f6ff 101px,#00ffe1 104px,#0f7 110px,#00ff49 114px,#00ff1b 120px,#04ff00 127px,#26ff00 138px,#02ff00 154px,#0f1 159px,#00ff6a 169px,#0ff 177px,#0095ff 185px,#004eff 193px,#0021ff 201px,#001bff 209px)"></i><i style="height:2px;background:linear-gradient(90deg,#0029ff 0px,#0037ff 17px,#0057ff 33px,#003fff 68px,#004dff 80px,#0079ff 88px,#00f8ff 100px,#00ffd3 104px,#0f5 112px,#0f2 118px,#01ff00 125px,#2dff00 137px,#01ff00 154px,#00ff0f 158px,#00ff32 163px,#00ff70 169px,#00fff2 176px,#00fbff 177px,#0094ff 185px,#004fff 193px,#0024ff 201px,#001eff 209px)"></i><i style="height:2px;background:linear-gradient(90deg,#0029ff 0px,#0059ff 34px,#0048ff 68px,#05f 79px,#007bff 87px,#00bcff 94px,#00faff 99px,#00ffc4 104px,#00ff4c 112px,#00ff1c 118px,#01ff00 124px,#34ff00 137px,#0f0 154px,#00ff0e 157px,#00ff2f 162px,#00ff6a 168px,#00fff7 176px,#0092ff 185px,#0056ff 192px,#0027ff 201px,#0021ff 209px)"></i><i style="height:2px;background:linear-gradient(90deg,#0029ff 0px,#005bff 34px,#0052ff 68px,#0060ff 79px,#0087ff 87px,#00faff 98px,#00ffb6 104px,#00ff4d 111px,#00ff1c 117px,#02ff00 123px,#3bff00 137px,#00ff01 154px,#00ff2b 161px,#00ff65 167px,#00ff8d 170px,#00fffc 176px,#009cff 184px,#0057ff 192px,#002aff 201px,#0023ff 209px)"></i><i style="height:2px;background:linear-gradient(90deg,#0029ff 0px,#005dff 34px,#005bff 68px,#0068ff 78px,#008aff 86px,#00faff 97px,#0f4 111px,#03ff00 122px,#43ff00 136px,#00ff03 154px,#00ff30 161px,#00ff6b 167px,#00fdff 176px,#00a5ff 183px,#005eff 191px,#0030ff 200px,#0026ff 209px)"></i><i style="height:2px;background:linear-gradient(90deg,#0029ff 0px,#005fff 35px,#0070ff 77px,#008eff 85px,#00f9ff 96px,#00ff3a 111px,#04ff00 121px,#4aff00 136px,#00ff04 154px,#00ff34 161px,#00ff71 167px,#00fff6 175px,#09f 184px,#005eff 191px,#0032ff 200px,#0029ff 209px)"></i><i style="height:2px;background:linear-gradient(90deg,#0029ff 0px,#0061ff 35px,#0078ff 76px,#09f 85px,#00f8ff 95px,#00ff3b 110px,#0f0 119px,#52ff00 136px,#01ff00 153px,#00ff30 160px,#00ff6b 166px,#00ff91 169px,#00fffc 175px,#00a1ff 183px,#005eff 191px,#0038ff 199px,#002cff 209px)"></i><i style="height:2px;background:linear-gradient(90deg,#0029ff 0px,#0064ff 36px,#0082ff 76px,#009dff 84px,#00f7ff 94px,#00ff31 110px,#02ff00 118px,#59ff00 136px,#0f0 153px,#00ff71 166px,#00ff97 169px,#00fdff 175px,#0af 182px,#005eff 191px,#003aff 199px,#002eff 209px)"></i><i style="height:2px;background:linear-gradient(90deg,#0029ff 0px,#0068ff 37px,#008aff 75px,#00a8ff 84px,#00f8ff 93px,#00ff31 109px,#03ff00 117px,#61ff00 136px,#00ff01 153px,#0f7 166px,#00ff9e 169px,#00fff8 174px,#009eff 183px,#005fff 191px,#003dff 199px,#0031ff 209px)"></i><i style="height:2px;background:linear-gradient(90deg,#0029ff 0px,#006bff 38px,#0092ff 74px,#00afff 83px,#00fbff 92px,#00ff32 108px,#04ff00 116px,#2fff00 127px,#64ff00 136px,#00ff02 153px,#00ff7c 166px,#00fffd 174px,#00a5ff 182px,#005fff 191px,#003fff 199px,#03f 209px)"></i><i style="height:2px;background:linear-gradient(90deg,#0029ff 0px,#0094ff 71px,#00baff 82px,#00f8ff 90px,#0fd 94px,#00ff2f 108px,#03ff00 116px,#5eff00 136px,#00ff04 153px,#00ff74 165px,#00ffa8 169px,#00feff 174px,#00adff 181px,#0064ff 190px,#0041ff 198px,#03f 209px)"></i><i style="height:2px;background:linear-gradient(90deg,#0029ff 0px,#0097ff 69px,#00c4ff 81px,#0ff 89px,#00ff35 107px,#03ff00 116px,#58ff00 136px,#0f0 152px,#00ff6c 164px,#00ffad 169px,#00fff3 173px,#00fbff 174px,#00a2ff 182px,#005fff 191px,#003fff 199px,#03f 209px)"></i><i style="height:2px;background:linear-gradient(90deg,#0029ff 0px,#0098ff 67px,#00bcff 77px,#00feff 87px,#00ff31 107px,#03ff00 116px,#52ff00 135px,#48ff00 139px,#00ff03 152px,#00ff64 163px,#00ffb2 169px,#00fff6 173px,#00a9ff 181px,#0064ff 190px,#0041ff 198px,#03f 209px)"></i><i style="height:2px;background:linear-gradient(90deg,#0029ff 0px,#09f 65px,#00bdff 75px,#00feff 85px,#00ff3d 105px,#00ff18 110px,#02ff00 116px,#4cff00 135px,#01ff00 151px,#00ff50 161px,#00ffa7 168px,#00fff9 173px,#00a8ff 181px,#0064ff 190px,#0041ff 198px,#03f 209px)"></i><i style="height:2px;background:linear-gradient(90deg,#0029ff 0px,#003fff 18px,#009bff 64px,#00c2ff 74px,#0ff 83px,#00ff4d 102px,#00ff16 110px,#02ff00 116px,#46ff00 135px,#00ff02 151px,#00ff47 160px,#00ff9e 167px,#00fffc 173px,#00afff 180px,#0064ff 190px,#0041ff 198px,#03f 209px)"></i><i style="height:2px;background:linear-gradient(90deg,#0029ff 0px,#003fff 18px,#009bff 62px,#00c1ff 72px,#0ff 81px,#00ff4b 101px,#00ff19 109px,#02ff00 116px,#2eff00 126px,#41ff00 134px,#0f0 150px,#00ff49 160px,#0ff 173px,#00adff 180px,#0069ff 189px,#0041ff 198px,#03f 209px)"></i><i style="height:2px;background:linear-gradient(90deg,#0029ff 0px,#0041ff 19px,#009cff 61px,#00c4ff 71px,#00fcff 79px,#00ff48 100px,#01ff00 116px,#2eff00 126px,#3bff00 134px,#00ff03 150px,#00ff40 159px,#00fff3 172px,#00fcff 173px,#00a2ff 181px,#0063ff 190px,#0041ff 198px,#03f 209px)"></i><i style="height:2px;background:linear-gradient(90deg,#0029ff 0px,#0041ff 19px,#009aff 59px,#00c1ff 69px,#00fffe 78px,#00ff49 98px,#01ff00 116px,#2fff00 126px,#37ff00 132px,#00ff01 149px,#00ff42 159px,#00fff7 172px,#00a9ff 180px,#0068ff 189px,#0041ff 198px,#03f 209px)"></i><i style="height:2px;background:linear-gradient(90deg,#0029ff 0px,#0042ff 20px,#0097ff 57px,#00bdff 67px,#00f9ff 76px,#00ff42 97px,#0f0 116px,#2cff00 125px,#34ff00 130px,#00ff05 149px,#0f4 159px,#00fffa 172px,#00a7ff 180px,#0068ff 189px,#0041ff 198px,#03f 209px)"></i><i style="height:2px;background:linear-gradient(90deg,#0029ff 0px,#0042ff 20px,#0094ff 55px,#00bdff 66px,#00fbff 75px,#00ff3a 96px,#0f0 116px,#2dff00 125px,#3f0 129px,#0f0 147px,#0f1 151px,#00ff46 159px,#00fffe 172px,#00aeff 179px,#006dff 188px,#0041ff 198px,#03f 209px)"></i><i style="height:1px;background:linear-gradient(90deg,#0029ff 0px,#0042ff 20px,#0090ff 53px,#00bcff 65px,#00faff 74px,#00ff2e 96px,#03ff00 117px,#3f0 128px,#0f0 146px,#00ff18 152px,#00ff47 159px,#00feff 172px,#00acff 179px,#006dff 188px,#0041ff 198px,#03f 209px)"></i></div>
<div class="cb" style="left:1015px;top:1208px;width:16px;height:203px;background:linear-gradient(180deg,#ff0b00 0%,#ff0b00 2.1%,#ff2000 2.1%,#ff2000 4.2%,#ff3500 4.2%,#ff3500 6.2%,#ff4a00 6.2%,#ff4a00 8.3%,#ff6000 8.3%,#ff6000 10.4%,#ff7500 10.4%,#ff7500 12.5%,#ff8a00 12.5%,#ff8a00 14.6%,#ff9f00 14.6%,#ff9f00 16.7%,#ffb500 16.7%,#ffb500 18.8%,#ffca00 18.8%,#ffca00 20.8%,#ffdf00 20.8%,#ffdf00 22.9%,#fff400 22.9%,#fff400 25%,#f4ff00 25%,#f4ff00 27.1%,#dfff00 27.1%,#dfff00 29.2%,#caff00 29.2%,#caff00 31.2%,#b5ff00 31.2%,#b5ff00 33.3%,#9fff00 33.3%,#9fff00 35.4%,#8aff00 35.4%,#8aff00 37.5%,#75ff00 37.5%,#75ff00 39.6%,#60ff00 39.6%,#60ff00 41.7%,#4aff00 41.7%,#4aff00 43.8%,#35ff00 43.8%,#35ff00 45.8%,#20ff00 45.8%,#20ff00 47.9%,#0bff00 47.9%,#0bff00 50%,#00ff0b 50%,#00ff0b 52.1%,#00ff20 52.1%,#00ff20 54.2%,#00ff35 54.2%,#00ff35 56.2%,#00ff4a 56.2%,#00ff4a 58.3%,#00ff60 58.3%,#00ff60 60.4%,#00ff75 60.4%,#00ff75 62.5%,#00ff8a 62.5%,#00ff8a 64.6%,#00ff9f 64.6%,#00ff9f 66.7%,#00ffb5 66.7%,#00ffb5 68.8%,#00ffca 68.8%,#00ffca 70.8%,#00ffdf 70.8%,#00ffdf 72.9%,#00fff4 72.9%,#00fff4 75%,#00f4ff 75%,#00f4ff 77.1%,#00dfff 77.1%,#00dfff 79.2%,#00caff 79.2%,#00caff 81.2%,#00b5ff 81.2%,#00b5ff 83.3%,#009fff 83.3%,#009fff 85.4%,#008aff 85.4%,#008aff 87.5%,#0075ff 87.5%,#0075ff 89.6%,#0060ff 89.6%,#0060ff 91.7%,#004aff 91.7%,#004aff 93.8%,#0035ff 93.8%,#0035ff 95.8%,#0020ff 95.8%,#0020ff 97.9%,#000bff 97.9%,#000bff 100%)"></div>
<svg width="1080" height="1467" viewBox="0 0 1080 1467">
<rect class="fr" x="55.5" y="31.5" width="211" height="202"/>
<line x1="51" y1="31.50" x2="55.5" y2="31.50"/>
<line x1="53" y1="42.72" x2="55.5" y2="42.72"/>
<line x1="51" y1="53.94" x2="55.5" y2="53.94"/>
<line x1="53" y1="65.17" x2="55.5" y2="65.17"/>
<line x1="51" y1="76.39" x2="55.5" y2="76.39"/>
<line x1="53" y1="87.61" x2="55.5" y2="87.61"/>
<line x1="51" y1="98.83" x2="55.5" y2="98.83"/>
<line x1="53" y1="110.06" x2="55.5" y2="110.06"/>
<line x1="51" y1="121.28" x2="55.5" y2="121.28"/>
<line x1="53" y1="132.50" x2="55.5" y2="132.50"/>
<line x1="51" y1="143.72" x2="55.5" y2="143.72"/>
<line x1="53" y1="154.94" x2="55.5" y2="154.94"/>
<line x1="51" y1="166.17" x2="55.5" y2="166.17"/>
<line x1="53" y1="177.39" x2="55.5" y2="177.39"/>
<line x1="51" y1="188.61" x2="55.5" y2="188.61"/>
<line x1="53" y1="199.83" x2="55.5" y2="199.83"/>
<line x1="51" y1="211.06" x2="55.5" y2="211.06"/>
<line x1="53" y1="222.28" x2="55.5" y2="222.28"/>
<line x1="51" y1="233.50" x2="55.5" y2="233.50"/>
<text x="48.7" y="35.5" font-size="12.4" text-anchor="end">8</text>
<text x="48.7" y="57.9" font-size="12.4" text-anchor="end">7</text>
<text x="48.7" y="80.4" font-size="12.4" text-anchor="end">6</text>
<text x="48.7" y="102.8" font-size="12.4" text-anchor="end">5</text>
<text x="48.7" y="125.3" font-size="12.4" text-anchor="end">4</text>
<text x="48.7" y="147.7" font-size="12.4" text-anchor="end">3</text>
<text x="48.7" y="170.2" font-size="12.4" text-anchor="end">2</text>
<text x="48.7" y="192.6" font-size="12.4" text-anchor="end">1/2</text>
<text x="48.7" y="215.1" font-size="12.4" text-anchor="end">1/3</text>
<text x="48.7" y="237.5" font-size="12.4" text-anchor="end">1/4</text>
<line x1="55.50" y1="233.5" x2="55.50" y2="238"/>
<line x1="73.08" y1="233.5" x2="73.08" y2="236"/>
<line x1="90.67" y1="233.5" x2="90.67" y2="238"/>
<line x1="108.25" y1="233.5" x2="108.25" y2="236"/>
<line x1="125.83" y1="233.5" x2="125.83" y2="238"/>
<line x1="143.42" y1="233.5" x2="143.42" y2="236"/>
<line x1="161.00" y1="233.5" x2="161.00" y2="238"/>
<line x1="178.58" y1="233.5" x2="178.58" y2="236"/>
<line x1="196.17" y1="233.5" x2="196.17" y2="238"/>
<line x1="213.75" y1="233.5" x2="213.75" y2="236"/>
<line x1="231.33" y1="233.5" x2="231.33" y2="238"/>
<line x1="248.92" y1="233.5" x2="248.92" y2="236"/>
<line x1="266.50" y1="233.5" x2="266.50" y2="238"/>
<text x="55.5" y="250.8" font-size="12.4" text-anchor="middle">0</text>
<text x="90.7" y="250.8" font-size="12.4" text-anchor="middle">30</text>
<text x="125.8" y="250.8" font-size="12.4" text-anchor="middle">60</text>
<text x="161.0" y="250.8" font-size="12.4" text-anchor="middle">90</text>
<text x="196.2" y="250.8" font-size="12.4" text-anchor="middle">120</text>
<text x="231.3" y="250.8" font-size="12.4" text-anchor="middle">150</text>
<text x="266.5" y="250.8" font-size="12.4" text-anchor="middle">180</text>
<text x="161.0" y="275.3" font-size="17" text-anchor="middle">Scattering angle (°)</text>
<text transform="translate(23.5,132.5) rotate(-90)" font-size="17.3" text-anchor="middle">Aspect Ratio</text>
<rect class="cf" x="299.5" y="31.5" width="16" height="202"/>
<line x1="315.5" y1="31.50" x2="320" y2="31.50"/>
<text x="324.3" y="35.5" font-size="12.4" text-anchor="start">12.00</text>
<line x1="315.5" y1="56.75" x2="320" y2="56.75"/>
<text x="324.3" y="60.8" font-size="12.4" text-anchor="start">10.50</text>
<line x1="315.5" y1="82.00" x2="320" y2="82.00"/>
<text x="324.3" y="86.0" font-size="12.4" text-anchor="start">9.00</text>
<line x1="315.5" y1="107.25" x2="320" y2="107.25"/>
<text x="324.3" y="111.2" font-size="12.4" text-anchor="start">7.50</text>
<line x1="315.5" y1="132.50" x2="320" y2="132.50"/>
<text x="324.3" y="136.5" font-size="12.4" text-anchor="start">6.00</text>
<line x1="315.5" y1="157.75" x2="320" y2="157.75"/>
<text x="324.3" y="161.8" font-size="12.4" text-anchor="start">4.50</text>
<line x1="315.5" y1="183.00" x2="320" y2="183.00"/>
<text x="324.3" y="187.0" font-size="12.4" text-anchor="start">3.00</text>
<line x1="315.5" y1="208.25" x2="320" y2="208.25"/>
<text x="324.3" y="212.2" font-size="12.4" text-anchor="start">1.50</text>
<line x1="315.5" y1="233.50" x2="320" y2="233.50"/>
<text x="324.3" y="237.5" font-size="12.4" text-anchor="start">0.00</text>
<text x="307.5" y="19.6" font-size="17.5" text-anchor="middle">P<tspan font-size="12" dy="4.5">11</tspan><tspan dy="-4.5">(θ)</tspan></text>
<rect class="fr" x="413.5" y="31.5" width="211" height="202"/>
<line x1="409" y1="31.50" x2="413.5" y2="31.50"/>
<line x1="411" y1="42.72" x2="413.5" y2="42.72"/>
<line x1="409" y1="53.94" x2="413.5" y2="53.94"/>
<line x1="411" y1="65.17" x2="413.5" y2="65.17"/>
<line x1="409" y1="76.39" x2="413.5" y2="76.39"/>
<line x1="411" y1="87.61" x2="413.5" y2="87.61"/>
<line x1="409" y1="98.83" x2="413.5" y2="98.83"/>
<line x1="411" y1="110.06" x2="413.5" y2="110.06"/>
<line x1="409" y1="121.28" x2="413.5" y2="121.28"/>
<line x1="411" y1="132.50" x2="413.5" y2="132.50"/>
<line x1="409" y1="143.72" x2="413.5" y2="143.72"/>
<line x1="411" y1="154.94" x2="413.5" y2="154.94"/>
<line x1="409" y1="166.17" x2="413.5" y2="166.17"/>
<line x1="411" y1="177.39" x2="413.5" y2="177.39"/>
<line x1="409" y1="188.61" x2="413.5" y2="188.61"/>
<line x1="411" y1="199.83" x2="413.5" y2="199.83"/>
<line x1="409" y1="211.06" x2="413.5" y2="211.06"/>
<line x1="411" y1="222.28" x2="413.5" y2="222.28"/>
<line x1="409" y1="233.50" x2="413.5" y2="233.50"/>
<text x="406.7" y="35.5" font-size="12.4" text-anchor="end">8</text>
<text x="406.7" y="57.9" font-size="12.4" text-anchor="end">7</text>
<text x="406.7" y="80.4" font-size="12.4" text-anchor="end">6</text>
<text x="406.7" y="102.8" font-size="12.4" text-anchor="end">5</text>
<text x="406.7" y="125.3" font-size="12.4" text-anchor="end">4</text>
<text x="406.7" y="147.7" font-size="12.4" text-anchor="end">3</text>
<text x="406.7" y="170.2" font-size="12.4" text-anchor="end">2</text>
<text x="406.7" y="192.6" font-size="12.4" text-anchor="end">1/2</text>
<text x="406.7" y="215.1" font-size="12.4" text-anchor="end">1/3</text>
<text x="406.7" y="237.5" font-size="12.4" text-anchor="end">1/4</text>
<line x1="413.50" y1="233.5" x2="413.50" y2="238"/>
<line x1="431.08" y1="233.5" x2="431.08" y2="236"/>
<line x1="448.67" y1="233.5" x2="448.67" y2="238"/>
<line x1="466.25" y1="233.5" x2="466.25" y2="236"/>
<line x1="483.83" y1="233.5" x2="483.83" y2="238"/>
<line x1="501.42" y1="233.5" x2="501.42" y2="236"/>
<line x1="519.00" y1="233.5" x2="519.00" y2="238"/>
<line x1="536.58" y1="233.5" x2="536.58" y2="236"/>
<line x1="554.17" y1="233.5" x2="554.17" y2="238"/>
<line x1="571.75" y1="233.5" x2="571.75" y2="236"/>
<line x1="589.33" y1="233.5" x2="589.33" y2="238"/>
<line x1="606.92" y1="233.5" x2="606.92" y2="236"/>
<line x1="624.50" y1="233.5" x2="624.50" y2="238"/>
<text x="413.5" y="250.8" font-size="12.4" text-anchor="middle">0</text>
<text x="448.7" y="250.8" font-size="12.4" text-anchor="middle">30</text>
<text x="483.8" y="250.8" font-size="12.4" text-anchor="middle">60</text>
<text x="519.0" y="250.8" font-size="12.4" text-anchor="middle">90</text>
<text x="554.2" y="250.8" font-size="12.4" text-anchor="middle">120</text>
<text x="589.3" y="250.8" font-size="12.4" text-anchor="middle">150</text>
<text x="624.5" y="250.8" font-size="12.4" text-anchor="middle">180</text>
<text x="519.0" y="275.3" font-size="17" text-anchor="middle">Scattering angle (°)</text>
<text transform="translate(381.5,132.5) rotate(-90)" font-size="17.3" text-anchor="middle">Aspect Ratio</text>
<rect class="cf" x="657.5" y="31.5" width="16" height="202"/>
<line x1="673.5" y1="31.50" x2="678" y2="31.50"/>
<text x="682.3" y="35.5" font-size="12.4" text-anchor="start">12.00</text>
<line x1="673.5" y1="56.75" x2="678" y2="56.75"/>
<text x="682.3" y="60.8" font-size="12.4" text-anchor="start">10.50</text>
<line x1="673.5" y1="82.00" x2="678" y2="82.00"/>
<text x="682.3" y="86.0" font-size="12.4" text-anchor="start">9.00</text>
<line x1="673.5" y1="107.25" x2="678" y2="107.25"/>
<text x="682.3" y="111.2" font-size="12.4" text-anchor="start">7.50</text>
<line x1="673.5" y1="132.50" x2="678" y2="132.50"/>
<text x="682.3" y="136.5" font-size="12.4" text-anchor="start">6.00</text>
<line x1="673.5" y1="157.75" x2="678" y2="157.75"/>
<text x="682.3" y="161.8" font-size="12.4" text-anchor="start">4.50</text>
<line x1="673.5" y1="183.00" x2="678" y2="183.00"/>
<text x="682.3" y="187.0" font-size="12.4" text-anchor="start">3.00</text>
<line x1="673.5" y1="208.25" x2="678" y2="208.25"/>
<text x="682.3" y="212.2" font-size="12.4" text-anchor="start">1.50</text>
<line x1="673.5" y1="233.50" x2="678" y2="233.50"/>
<text x="682.3" y="237.5" font-size="12.4" text-anchor="start">0.00</text>
<text x="665.5" y="19.6" font-size="17.5" text-anchor="middle">P<tspan font-size="12" dy="4.5">11</tspan><tspan dy="-4.5">(θ)</tspan></text>
<rect class="fr" x="771.5" y="31.5" width="211" height="202"/>
<line x1="767" y1="31.50" x2="771.5" y2="31.50"/>
<line x1="769" y1="42.72" x2="771.5" y2="42.72"/>
<line x1="767" y1="53.94" x2="771.5" y2="53.94"/>
<line x1="769" y1="65.17" x2="771.5" y2="65.17"/>
<line x1="767" y1="76.39" x2="771.5" y2="76.39"/>
<line x1="769" y1="87.61" x2="771.5" y2="87.61"/>
<line x1="767" y1="98.83" x2="771.5" y2="98.83"/>
<line x1="769" y1="110.06" x2="771.5" y2="110.06"/>
<line x1="767" y1="121.28" x2="771.5" y2="121.28"/>
<line x1="769" y1="132.50" x2="771.5" y2="132.50"/>
<line x1="767" y1="143.72" x2="771.5" y2="143.72"/>
<line x1="769" y1="154.94" x2="771.5" y2="154.94"/>
<line x1="767" y1="166.17" x2="771.5" y2="166.17"/>
<line x1="769" y1="177.39" x2="771.5" y2="177.39"/>
<line x1="767" y1="188.61" x2="771.5" y2="188.61"/>
<line x1="769" y1="199.83" x2="771.5" y2="199.83"/>
<line x1="767" y1="211.06" x2="771.5" y2="211.06"/>
<line x1="769" y1="222.28" x2="771.5" y2="222.28"/>
<line x1="767" y1="233.50" x2="771.5" y2="233.50"/>
<text x="764.7" y="35.5" font-size="12.4" text-anchor="end">8</text>
<text x="764.7" y="57.9" font-size="12.4" text-anchor="end">7</text>
<text x="764.7" y="80.4" font-size="12.4" text-anchor="end">6</text>
<text x="764.7" y="102.8" font-size="12.4" text-anchor="end">5</text>
<text x="764.7" y="125.3" font-size="12.4" text-anchor="end">4</text>
<text x="764.7" y="147.7" font-size="12.4" text-anchor="end">3</text>
<text x="764.7" y="170.2" font-size="12.4" text-anchor="end">2</text>
<text x="764.7" y="192.6" font-size="12.4" text-anchor="end">1/2</text>
<text x="764.7" y="215.1" font-size="12.4" text-anchor="end">1/3</text>
<text x="764.7" y="237.5" font-size="12.4" text-anchor="end">1/4</text>
<line x1="771.50" y1="233.5" x2="771.50" y2="238"/>
<line x1="789.08" y1="233.5" x2="789.08" y2="236"/>
<line x1="806.67" y1="233.5" x2="806.67" y2="238"/>
<line x1="824.25" y1="233.5" x2="824.25" y2="236"/>
<line x1="841.83" y1="233.5" x2="841.83" y2="238"/>
<line x1="859.42" y1="233.5" x2="859.42" y2="236"/>
<line x1="877.00" y1="233.5" x2="877.00" y2="238"/>
<line x1="894.58" y1="233.5" x2="894.58" y2="236"/>
<line x1="912.17" y1="233.5" x2="912.17" y2="238"/>
<line x1="929.75" y1="233.5" x2="929.75" y2="236"/>
<line x1="947.33" y1="233.5" x2="947.33" y2="238"/>
<line x1="964.92" y1="233.5" x2="964.92" y2="236"/>
<line x1="982.50" y1="233.5" x2="982.50" y2="238"/>
<text x="771.5" y="250.8" font-size="12.4" text-anchor="middle">0</text>
<text x="806.7" y="250.8" font-size="12.4" text-anchor="middle">30</text>
<text x="841.8" y="250.8" font-size="12.4" text-anchor="middle">60</text>
<text x="877.0" y="250.8" font-size="12.4" text-anchor="middle">90</text>
<text x="912.2" y="250.8" font-size="12.4" text-anchor="middle">120</text>
<text x="947.3" y="250.8" font-size="12.4" text-anchor="middle">150</text>
<text x="982.5" y="250.8" font-size="12.4" text-anchor="middle">180</text>
<text x="877.0" y="275.3" font-size="17" text-anchor="middle">Scattering angle (°)</text>
<text transform="translate(739.5,132.5) rotate(-90)" font-size="17.3" text-anchor="middle">Aspect Ratio</text>
<rect class="cf" x="1015.5" y="31.5" width="16" height="202"/>
<line x1="1031.5" y1="31.50" x2="1036" y2="31.50"/>
<text x="1040.3" y="35.5" font-size="12.4" text-anchor="start">22.00</text>
<line x1="1031.5" y1="56.75" x2="1036" y2="56.75"/>
<text x="1040.3" y="60.8" font-size="12.4" text-anchor="start">19.25</text>
<line x1="1031.5" y1="82.00" x2="1036" y2="82.00"/>
<text x="1040.3" y="86.0" font-size="12.4" text-anchor="start">16.50</text>
<line x1="1031.5" y1="107.25" x2="1036" y2="107.25"/>
<text x="1040.3" y="111.2" font-size="12.4" text-anchor="start">13.75</text>
<line x1="1031.5" y1="132.50" x2="1036" y2="132.50"/>
<text x="1040.3" y="136.5" font-size="12.4" text-anchor="start">11.00</text>
<line x1="1031.5" y1="157.75" x2="1036" y2="157.75"/>
<text x="1040.3" y="161.8" font-size="12.4" text-anchor="start">8.25</text>
<line x1="1031.5" y1="183.00" x2="1036" y2="183.00"/>
<text x="1040.3" y="187.0" font-size="12.4" text-anchor="start">5.50</text>
<line x1="1031.5" y1="208.25" x2="1036" y2="208.25"/>
<text x="1040.3" y="212.2" font-size="12.4" text-anchor="start">2.75</text>
<line x1="1031.5" y1="233.50" x2="1036" y2="233.50"/>
<text x="1040.3" y="237.5" font-size="12.4" text-anchor="start">0.00</text>
<text x="1023.5" y="19.6" font-size="17.5" text-anchor="middle">P<tspan font-size="12" dy="4.5">11</tspan><tspan dy="-4.5">(θ)</tspan></text>
<text x="174.5" y="21.6" font-size="17" text-anchor="middle">RH=50%</text>
<text x="532.5" y="21.6" font-size="17" text-anchor="middle">RH=80%</text>
<text x="890.5" y="21.6" font-size="17" text-anchor="middle">RH=95%</text>
<rect class="fr" x="56.5" y="324.5" width="214" height="206"/>
<line x1="52" y1="324.50" x2="56.5" y2="324.50"/>
<line x1="54" y1="335.94" x2="56.5" y2="335.94"/>
<line x1="52" y1="347.39" x2="56.5" y2="347.39"/>
<line x1="54" y1="358.83" x2="56.5" y2="358.83"/>
<line x1="52" y1="370.28" x2="56.5" y2="370.28"/>
<line x1="54" y1="381.72" x2="56.5" y2="381.72"/>
<line x1="52" y1="393.17" x2="56.5" y2="393.17"/>
<line x1="54" y1="404.61" x2="56.5" y2="404.61"/>
<line x1="52" y1="416.06" x2="56.5" y2="416.06"/>
<line x1="54" y1="427.50" x2="56.5" y2="427.50"/>
<line x1="52" y1="438.94" x2="56.5" y2="438.94"/>
<line x1="54" y1="450.39" x2="56.5" y2="450.39"/>
<line x1="52" y1="461.83" x2="56.5" y2="461.83"/>
<line x1="54" y1="473.28" x2="56.5" y2="473.28"/>
<line x1="52" y1="484.72" x2="56.5" y2="484.72"/>
<line x1="54" y1="496.17" x2="56.5" y2="496.17"/>
<line x1="52" y1="507.61" x2="56.5" y2="507.61"/>
<line x1="54" y1="519.06" x2="56.5" y2="519.06"/>
<line x1="52" y1="530.50" x2="56.5" y2="530.50"/>
<text x="49.7" y="328.5" font-size="12.4" text-anchor="end">8</text>
<text x="49.7" y="351.4" font-size="12.4" text-anchor="end">7</text>
<text x="49.7" y="374.3" font-size="12.4" text-anchor="end">6</text>
<text x="49.7" y="397.2" font-size="12.4" text-anchor="end">5</text>
<text x="49.7" y="420.1" font-size="12.4" text-anchor="end">4</text>
<text x="49.7" y="442.9" font-size="12.4" text-anchor="end">3</text>
<text x="49.7" y="465.8" font-size="12.4" text-anchor="end">2</text>
<text x="49.7" y="488.7" font-size="12.4" text-anchor="end">1/2</text>
<text x="49.7" y="511.6" font-size="12.4" text-anchor="end">1/3</text>
<text x="49.7" y="534.5" font-size="12.4" text-anchor="end">1/4</text>
<line x1="56.50" y1="530.5" x2="56.50" y2="535"/>
<line x1="74.33" y1="530.5" x2="74.33" y2="533"/>
<line x1="92.17" y1="530.5" x2="92.17" y2="535"/>
<line x1="110.00" y1="530.5" x2="110.00" y2="533"/>
<line x1="127.83" y1="530.5" x2="127.83" y2="535"/>
<line x1="145.67" y1="530.5" x2="145.67" y2="533"/>
<line x1="163.50" y1="530.5" x2="163.50" y2="535"/>
<line x1="181.33" y1="530.5" x2="181.33" y2="533"/>
<line x1="199.17" y1="530.5" x2="199.17" y2="535"/>
<line x1="217.00" y1="530.5" x2="217.00" y2="533"/>
<line x1="234.83" y1="530.5" x2="234.83" y2="535"/>
<line x1="252.67" y1="530.5" x2="252.67" y2="533"/>
<line x1="270.50" y1="530.5" x2="270.50" y2="535"/>
<text x="56.5" y="547.8" font-size="12.4" text-anchor="middle">0</text>
<text x="92.2" y="547.8" font-size="12.4" text-anchor="middle">30</text>
<text x="127.8" y="547.8" font-size="12.4" text-anchor="middle">60</text>
<text x="163.5" y="547.8" font-size="12.4" text-anchor="middle">90</text>
<text x="199.2" y="547.8" font-size="12.4" text-anchor="middle">120</text>
<text x="234.8" y="547.8" font-size="12.4" text-anchor="middle">150</text>
<text x="270.5" y="547.8" font-size="12.4" text-anchor="middle">180</text>
<text x="163.5" y="572.3" font-size="17" text-anchor="middle">Scattering angle (°)</text>
<text transform="translate(24.5,427.5) rotate(-90)" font-size="17.3" text-anchor="middle">Aspect Ratio</text>
<rect class="cf" x="303.5" y="324.5" width="17" height="206"/>
<line x1="320.5" y1="324.50" x2="325" y2="324.50"/>
<text x="329.3" y="328.5" font-size="12.4" text-anchor="start">1.00</text>
<line x1="320.5" y1="347.39" x2="325" y2="347.39"/>
<text x="329.3" y="351.4" font-size="12.4" text-anchor="start">0.97</text>
<line x1="320.5" y1="370.28" x2="325" y2="370.28"/>
<text x="329.3" y="374.3" font-size="12.4" text-anchor="start">0.94</text>
<line x1="320.5" y1="393.17" x2="325" y2="393.17"/>
<text x="329.3" y="397.2" font-size="12.4" text-anchor="start">0.91</text>
<line x1="320.5" y1="416.06" x2="325" y2="416.06"/>
<text x="329.3" y="420.1" font-size="12.4" text-anchor="start">0.88</text>
<line x1="320.5" y1="438.94" x2="325" y2="438.94"/>
<text x="329.3" y="442.9" font-size="12.4" text-anchor="start">0.86</text>
<line x1="320.5" y1="461.83" x2="325" y2="461.83"/>
<text x="329.3" y="465.8" font-size="12.4" text-anchor="start">0.83</text>
<line x1="320.5" y1="484.72" x2="325" y2="484.72"/>
<text x="329.3" y="488.7" font-size="12.4" text-anchor="start">0.80</text>
<line x1="320.5" y1="507.61" x2="325" y2="507.61"/>
<text x="329.3" y="511.6" font-size="12.4" text-anchor="start">0.77</text>
<line x1="320.5" y1="530.50" x2="325" y2="530.50"/>
<text x="329.3" y="534.5" font-size="12.4" text-anchor="start">0.74</text>
<text x="312.0" y="312.6" font-size="17.5" text-anchor="middle">P<tspan font-size="12" dy="4.5">22</tspan><tspan dy="-4.5">(θ)/P</tspan><tspan font-size="12" dy="4.5">11</tspan><tspan dy="-4.5">(θ)</tspan></text>
<rect class="fr" x="414.5" y="324.5" width="214" height="206"/>
<line x1="410" y1="324.50" x2="414.5" y2="324.50"/>
<line x1="412" y1="335.94" x2="414.5" y2="335.94"/>
<line x1="410" y1="347.39" x2="414.5" y2="347.39"/>
<line x1="412" y1="358.83" x2="414.5" y2="358.83"/>
<line x1="410" y1="370.28" x2="414.5" y2="370.28"/>
<line x1="412" y1="381.72" x2="414.5" y2="381.72"/>
<line x1="410" y1="393.17" x2="414.5" y2="393.17"/>
<line x1="412" y1="404.61" x2="414.5" y2="404.61"/>
<line x1="410" y1="416.06" x2="414.5" y2="416.06"/>
<line x1="412" y1="427.50" x2="414.5" y2="427.50"/>
<line x1="410" y1="438.94" x2="414.5" y2="438.94"/>
<line x1="412" y1="450.39" x2="414.5" y2="450.39"/>
<line x1="410" y1="461.83" x2="414.5" y2="461.83"/>
<line x1="412" y1="473.28" x2="414.5" y2="473.28"/>
<line x1="410" y1="484.72" x2="414.5" y2="484.72"/>
<line x1="412" y1="496.17" x2="414.5" y2="496.17"/>
<line x1="410" y1="507.61" x2="414.5" y2="507.61"/>
<line x1="412" y1="519.06" x2="414.5" y2="519.06"/>
<line x1="410" y1="530.50" x2="414.5" y2="530.50"/>
<text x="407.7" y="328.5" font-size="12.4" text-anchor="end">8</text>
<text x="407.7" y="351.4" font-size="12.4" text-anchor="end">7</text>
<text x="407.7" y="374.3" font-size="12.4" text-anchor="end">6</text>
<text x="407.7" y="397.2" font-size="12.4" text-anchor="end">5</text>
<text x="407.7" y="420.1" font-size="12.4" text-anchor="end">4</text>
<text x="407.7" y="442.9" font-size="12.4" text-anchor="end">3</text>
<text x="407.7" y="465.8" font-size="12.4" text-anchor="end">2</text>
<text x="407.7" y="488.7" font-size="12.4" text-anchor="end">1/2</text>
<text x="407.7" y="511.6" font-size="12.4" text-anchor="end">1/3</text>
<text x="407.7" y="534.5" font-size="12.4" text-anchor="end">1/4</text>
<line x1="414.50" y1="530.5" x2="414.50" y2="535"/>
<line x1="432.33" y1="530.5" x2="432.33" y2="533"/>
<line x1="450.17" y1="530.5" x2="450.17" y2="535"/>
<line x1="468.00" y1="530.5" x2="468.00" y2="533"/>
<line x1="485.83" y1="530.5" x2="485.83" y2="535"/>
<line x1="503.67" y1="530.5" x2="503.67" y2="533"/>
<line x1="521.50" y1="530.5" x2="521.50" y2="535"/>
<line x1="539.33" y1="530.5" x2="539.33" y2="533"/>
<line x1="557.17" y1="530.5" x2="557.17" y2="535"/>
<line x1="575.00" y1="530.5" x2="575.00" y2="533"/>
<line x1="592.83" y1="530.5" x2="592.83" y2="535"/>
<line x1="610.67" y1="530.5" x2="610.67" y2="533"/>
<line x1="628.50" y1="530.5" x2="628.50" y2="535"/>
<text x="414.5" y="547.8" font-size="12.4" text-anchor="middle">0</text>
<text x="450.2" y="547.8" font-size="12.4" text-anchor="middle">30</text>
<text x="485.8" y="547.8" font-size="12.4" text-anchor="middle">60</text>
<text x="521.5" y="547.8" font-size="12.4" text-anchor="middle">90</text>
<text x="557.2" y="547.8" font-size="12.4" text-anchor="middle">120</text>
<text x="592.8" y="547.8" font-size="12.4" text-anchor="middle">150</text>
<text x="628.5" y="547.8" font-size="12.4" text-anchor="middle">180</text>
<text x="521.5" y="572.3" font-size="17" text-anchor="middle">Scattering angle (°)</text>
<text transform="translate(382.5,427.5) rotate(-90)" font-size="17.3" text-anchor="middle">Aspect Ratio</text>
<rect class="cf" x="661.5" y="324.5" width="17" height="206"/>
<line x1="678.5" y1="324.50" x2="683" y2="324.50"/>
<text x="687.3" y="328.5" font-size="12.4" text-anchor="start">1.00</text>
<line x1="678.5" y1="350.25" x2="683" y2="350.25"/>
<text x="687.3" y="354.2" font-size="12.4" text-anchor="start">0.98</text>
<line x1="678.5" y1="376.00" x2="683" y2="376.00"/>
<text x="687.3" y="380.0" font-size="12.4" text-anchor="start">0.96</text>
<line x1="678.5" y1="401.75" x2="683" y2="401.75"/>
<text x="687.3" y="405.8" font-size="12.4" text-anchor="start">0.94</text>
<line x1="678.5" y1="427.50" x2="683" y2="427.50"/>
<text x="687.3" y="431.5" font-size="12.4" text-anchor="start">0.92</text>
<line x1="678.5" y1="453.25" x2="683" y2="453.25"/>
<text x="687.3" y="457.2" font-size="12.4" text-anchor="start">0.90</text>
<line x1="678.5" y1="479.00" x2="683" y2="479.00"/>
<text x="687.3" y="483.0" font-size="12.4" text-anchor="start">0.88</text>
<line x1="678.5" y1="504.75" x2="683" y2="504.75"/>
<text x="687.3" y="508.8" font-size="12.4" text-anchor="start">0.86</text>
<line x1="678.5" y1="530.50" x2="683" y2="530.50"/>
<text x="687.3" y="534.5" font-size="12.4" text-anchor="start">0.84</text>
<text x="670.0" y="312.6" font-size="17.5" text-anchor="middle">P<tspan font-size="12" dy="4.5">22</tspan><tspan dy="-4.5">(θ)/P</tspan><tspan font-size="12" dy="4.5">11</tspan><tspan dy="-4.5">(θ)</tspan></text>
<rect class="fr" x="772.5" y="324.5" width="214" height="206"/>
<line x1="768" y1="324.50" x2="772.5" y2="324.50"/>
<line x1="770" y1="335.94" x2="772.5" y2="335.94"/>
<line x1="768" y1="347.39" x2="772.5" y2="347.39"/>
<line x1="770" y1="358.83" x2="772.5" y2="358.83"/>
<line x1="768" y1="370.28" x2="772.5" y2="370.28"/>
<line x1="770" y1="381.72" x2="772.5" y2="381.72"/>
<line x1="768" y1="393.17" x2="772.5" y2="393.17"/>
<line x1="770" y1="404.61" x2="772.5" y2="404.61"/>
<line x1="768" y1="416.06" x2="772.5" y2="416.06"/>
<line x1="770" y1="427.50" x2="772.5" y2="427.50"/>
<line x1="768" y1="438.94" x2="772.5" y2="438.94"/>
<line x1="770" y1="450.39" x2="772.5" y2="450.39"/>
<line x1="768" y1="461.83" x2="772.5" y2="461.83"/>
<line x1="770" y1="473.28" x2="772.5" y2="473.28"/>
<line x1="768" y1="484.72" x2="772.5" y2="484.72"/>
<line x1="770" y1="496.17" x2="772.5" y2="496.17"/>
<line x1="768" y1="507.61" x2="772.5" y2="507.61"/>
<line x1="770" y1="519.06" x2="772.5" y2="519.06"/>
<line x1="768" y1="530.50" x2="772.5" y2="530.50"/>
<text x="765.7" y="328.5" font-size="12.4" text-anchor="end">8</text>
<text x="765.7" y="351.4" font-size="12.4" text-anchor="end">7</text>
<text x="765.7" y="374.3" font-size="12.4" text-anchor="end">6</text>
<text x="765.7" y="397.2" font-size="12.4" text-anchor="end">5</text>
<text x="765.7" y="420.1" font-size="12.4" text-anchor="end">4</text>
<text x="765.7" y="442.9" font-size="12.4" text-anchor="end">3</text>
<text x="765.7" y="465.8" font-size="12.4" text-anchor="end">2</text>
<text x="765.7" y="488.7" font-size="12.4" text-anchor="end">1/2</text>
<text x="765.7" y="511.6" font-size="12.4" text-anchor="end">1/3</text>
<text x="765.7" y="534.5" font-size="12.4" text-anchor="end">1/4</text>
<line x1="772.50" y1="530.5" x2="772.50" y2="535"/>
<line x1="790.33" y1="530.5" x2="790.33" y2="533"/>
<line x1="808.17" y1="530.5" x2="808.17" y2="535"/>
<line x1="826.00" y1="530.5" x2="826.00" y2="533"/>
<line x1="843.83" y1="530.5" x2="843.83" y2="535"/>
<line x1="861.67" y1="530.5" x2="861.67" y2="533"/>
<line x1="879.50" y1="530.5" x2="879.50" y2="535"/>
<line x1="897.33" y1="530.5" x2="897.33" y2="533"/>
<line x1="915.17" y1="530.5" x2="915.17" y2="535"/>
<line x1="933.00" y1="530.5" x2="933.00" y2="533"/>
<line x1="950.83" y1="530.5" x2="950.83" y2="535"/>
<line x1="968.67" y1="530.5" x2="968.67" y2="533"/>
<line x1="986.50" y1="530.5" x2="986.50" y2="535"/>
<text x="772.5" y="547.8" font-size="12.4" text-anchor="middle">0</text>
<text x="808.2" y="547.8" font-size="12.4" text-anchor="middle">30</text>
<text x="843.8" y="547.8" font-size="12.4" text-anchor="middle">60</text>
<text x="879.5" y="547.8" font-size="12.4" text-anchor="middle">90</text>
<text x="915.2" y="547.8" font-size="12.4" text-anchor="middle">120</text>
<text x="950.8" y="547.8" font-size="12.4" text-anchor="middle">150</text>
<text x="986.5" y="547.8" font-size="12.4" text-anchor="middle">180</text>
<text x="879.5" y="572.3" font-size="17" text-anchor="middle">Scattering angle (°)</text>
<text transform="translate(740.5,427.5) rotate(-90)" font-size="17.3" text-anchor="middle">Aspect Ratio</text>
<rect class="cf" x="1019.5" y="324.5" width="17" height="206"/>
<line x1="1036.5" y1="324.50" x2="1041" y2="324.50"/>
<text x="1045.3" y="328.5" font-size="12.4" text-anchor="start">1.00</text>
<line x1="1036.5" y1="350.25" x2="1041" y2="350.25"/>
<text x="1045.3" y="354.2" font-size="12.4" text-anchor="start">0.97</text>
<line x1="1036.5" y1="376.00" x2="1041" y2="376.00"/>
<text x="1045.3" y="380.0" font-size="12.4" text-anchor="start">0.94</text>
<line x1="1036.5" y1="401.75" x2="1041" y2="401.75"/>
<text x="1045.3" y="405.8" font-size="12.4" text-anchor="start">0.90</text>
<line x1="1036.5" y1="427.50" x2="1041" y2="427.50"/>
<text x="1045.3" y="431.5" font-size="12.4" text-anchor="start">0.87</text>
<line x1="1036.5" y1="453.25" x2="1041" y2="453.25"/>
<text x="1045.3" y="457.2" font-size="12.4" text-anchor="start">0.84</text>
<line x1="1036.5" y1="479.00" x2="1041" y2="479.00"/>
<text x="1045.3" y="483.0" font-size="12.4" text-anchor="start">0.80</text>
<line x1="1036.5" y1="504.75" x2="1041" y2="504.75"/>
<text x="1045.3" y="508.8" font-size="12.4" text-anchor="start">0.77</text>
<line x1="1036.5" y1="530.50" x2="1041" y2="530.50"/>
<text x="1045.3" y="534.5" font-size="12.4" text-anchor="start">0.74</text>
<text x="1028.0" y="312.6" font-size="17.5" text-anchor="middle">P<tspan font-size="12" dy="4.5">22</tspan><tspan dy="-4.5">(θ)/P</tspan><tspan font-size="12" dy="4.5">11</tspan><tspan dy="-4.5">(θ)</tspan></text>
<rect class="fr" x="54.5" y="620.5" width="212" height="204"/>
<line x1="50" y1="620.50" x2="54.5" y2="620.50"/>
<line x1="52" y1="631.83" x2="54.5" y2="631.83"/>
<line x1="50" y1="643.17" x2="54.5" y2="643.17"/>
<line x1="52" y1="654.50" x2="54.5" y2="654.50"/>
<line x1="50" y1="665.83" x2="54.5" y2="665.83"/>
<line x1="52" y1="677.17" x2="54.5" y2="677.17"/>
<line x1="50" y1="688.50" x2="54.5" y2="688.50"/>
<line x1="52" y1="699.83" x2="54.5" y2="699.83"/>
<line x1="50" y1="711.17" x2="54.5" y2="711.17"/>
<line x1="52" y1="722.50" x2="54.5" y2="722.50"/>
<line x1="50" y1="733.83" x2="54.5" y2="733.83"/>
<line x1="52" y1="745.17" x2="54.5" y2="745.17"/>
<line x1="50" y1="756.50" x2="54.5" y2="756.50"/>
<line x1="52" y1="767.83" x2="54.5" y2="767.83"/>
<line x1="50" y1="779.17" x2="54.5" y2="779.17"/>
<line x1="52" y1="790.50" x2="54.5" y2="790.50"/>
<line x1="50" y1="801.83" x2="54.5" y2="801.83"/>
<line x1="52" y1="813.17" x2="54.5" y2="813.17"/>
<line x1="50" y1="824.50" x2="54.5" y2="824.50"/>
<text x="47.7" y="624.5" font-size="12.4" text-anchor="end">8</text>
<text x="47.7" y="647.2" font-size="12.4" text-anchor="end">7</text>
<text x="47.7" y="669.8" font-size="12.4" text-anchor="end">6</text>
<text x="47.7" y="692.5" font-size="12.4" text-anchor="end">5</text>
<text x="47.7" y="715.2" font-size="12.4" text-anchor="end">4</text>
<text x="47.7" y="737.8" font-size="12.4" text-anchor="end">3</text>
<text x="47.7" y="760.5" font-size="12.4" text-anchor="end">2</text>
<text x="47.7" y="783.2" font-size="12.4" text-anchor="end">1/2</text>
<text x="47.7" y="805.8" font-size="12.4" text-anchor="end">1/3</text>
<text x="47.7" y="828.5" font-size="12.4" text-anchor="end">1/4</text>
<line x1="54.50" y1="824.5" x2="54.50" y2="829"/>
<line x1="72.17" y1="824.5" x2="72.17" y2="827"/>
<line x1="89.83" y1="824.5" x2="89.83" y2="829"/>
<line x1="107.50" y1="824.5" x2="107.50" y2="827"/>
<line x1="125.17" y1="824.5" x2="125.17" y2="829"/>
<line x1="142.83" y1="824.5" x2="142.83" y2="827"/>
<line x1="160.50" y1="824.5" x2="160.50" y2="829"/>
<line x1="178.17" y1="824.5" x2="178.17" y2="827"/>
<line x1="195.83" y1="824.5" x2="195.83" y2="829"/>
<line x1="213.50" y1="824.5" x2="213.50" y2="827"/>
<line x1="231.17" y1="824.5" x2="231.17" y2="829"/>
<line x1="248.83" y1="824.5" x2="248.83" y2="827"/>
<line x1="266.50" y1="824.5" x2="266.50" y2="829"/>
<text x="54.5" y="841.8" font-size="12.4" text-anchor="middle">0</text>
<text x="89.8" y="841.8" font-size="12.4" text-anchor="middle">30</text>
<text x="125.2" y="841.8" font-size="12.4" text-anchor="middle">60</text>
<text x="160.5" y="841.8" font-size="12.4" text-anchor="middle">90</text>
<text x="195.8" y="841.8" font-size="12.4" text-anchor="middle">120</text>
<text x="231.2" y="841.8" font-size="12.4" text-anchor="middle">150</text>
<text x="266.5" y="841.8" font-size="12.4" text-anchor="middle">180</text>
<text x="160.5" y="866.3" font-size="17" text-anchor="middle">Scattering angle (°)</text>
<text transform="translate(22.5,722.5) rotate(-90)" font-size="17.3" text-anchor="middle">Aspect Ratio</text>
<rect class="cf" x="299.5" y="620.5" width="17" height="204"/>
<line x1="316.5" y1="620.50" x2="321" y2="620.50"/>
<text x="325.3" y="624.5" font-size="12.4" text-anchor="start">1.00</text>
<line x1="316.5" y1="646.00" x2="321" y2="646.00"/>
<text x="325.3" y="650.0" font-size="12.4" text-anchor="start">0.75</text>
<line x1="316.5" y1="671.50" x2="321" y2="671.50"/>
<text x="325.3" y="675.5" font-size="12.4" text-anchor="start">0.50</text>
<line x1="316.5" y1="697.00" x2="321" y2="697.00"/>
<text x="325.3" y="701.0" font-size="12.4" text-anchor="start">0.25</text>
<line x1="316.5" y1="722.50" x2="321" y2="722.50"/>
<text x="325.3" y="726.5" font-size="12.4" text-anchor="start">0.00</text>
<line x1="316.5" y1="748.00" x2="321" y2="748.00"/>
<text x="325.3" y="752.0" font-size="12.4" text-anchor="start">−0.25</text>
<line x1="316.5" y1="773.50" x2="321" y2="773.50"/>
<text x="325.3" y="777.5" font-size="12.4" text-anchor="start">−0.50</text>
<line x1="316.5" y1="799.00" x2="321" y2="799.00"/>
<text x="325.3" y="803.0" font-size="12.4" text-anchor="start">−0.75</text>
<line x1="316.5" y1="824.50" x2="321" y2="824.50"/>
<text x="325.3" y="828.5" font-size="12.4" text-anchor="start">−1.00</text>
<text x="308.0" y="608.6" font-size="17.5" text-anchor="middle">P<tspan font-size="12" dy="4.5">33</tspan><tspan dy="-4.5">(θ)/P</tspan><tspan font-size="12" dy="4.5">11</tspan><tspan dy="-4.5">(θ)</tspan></text>
<rect class="fr" x="412.5" y="620.5" width="212" height="204"/>
<line x1="408" y1="620.50" x2="412.5" y2="620.50"/>
<line x1="410" y1="631.83" x2="412.5" y2="631.83"/>
<line x1="408" y1="643.17" x2="412.5" y2="643.17"/>
<line x1="410" y1="654.50" x2="412.5" y2="654.50"/>
<line x1="408" y1="665.83" x2="412.5" y2="665.83"/>
<line x1="410" y1="677.17" x2="412.5" y2="677.17"/>
<line x1="408" y1="688.50" x2="412.5" y2="688.50"/>
<line x1="410" y1="699.83" x2="412.5" y2="699.83"/>
<line x1="408" y1="711.17" x2="412.5" y2="711.17"/>
<line x1="410" y1="722.50" x2="412.5" y2="722.50"/>
<line x1="408" y1="733.83" x2="412.5" y2="733.83"/>
<line x1="410" y1="745.17" x2="412.5" y2="745.17"/>
<line x1="408" y1="756.50" x2="412.5" y2="756.50"/>
<line x1="410" y1="767.83" x2="412.5" y2="767.83"/>
<line x1="408" y1="779.17" x2="412.5" y2="779.17"/>
<line x1="410" y1="790.50" x2="412.5" y2="790.50"/>
<line x1="408" y1="801.83" x2="412.5" y2="801.83"/>
<line x1="410" y1="813.17" x2="412.5" y2="813.17"/>
<line x1="408" y1="824.50" x2="412.5" y2="824.50"/>
<text x="405.7" y="624.5" font-size="12.4" text-anchor="end">8</text>
<text x="405.7" y="647.2" font-size="12.4" text-anchor="end">7</text>
<text x="405.7" y="669.8" font-size="12.4" text-anchor="end">6</text>
<text x="405.7" y="692.5" font-size="12.4" text-anchor="end">5</text>
<text x="405.7" y="715.2" font-size="12.4" text-anchor="end">4</text>
<text x="405.7" y="737.8" font-size="12.4" text-anchor="end">3</text>
<text x="405.7" y="760.5" font-size="12.4" text-anchor="end">2</text>
<text x="405.7" y="783.2" font-size="12.4" text-anchor="end">1/2</text>
<text x="405.7" y="805.8" font-size="12.4" text-anchor="end">1/3</text>
<text x="405.7" y="828.5" font-size="12.4" text-anchor="end">1/4</text>
<line x1="412.50" y1="824.5" x2="412.50" y2="829"/>
<line x1="430.17" y1="824.5" x2="430.17" y2="827"/>
<line x1="447.83" y1="824.5" x2="447.83" y2="829"/>
<line x1="465.50" y1="824.5" x2="465.50" y2="827"/>
<line x1="483.17" y1="824.5" x2="483.17" y2="829"/>
<line x1="500.83" y1="824.5" x2="500.83" y2="827"/>
<line x1="518.50" y1="824.5" x2="518.50" y2="829"/>
<line x1="536.17" y1="824.5" x2="536.17" y2="827"/>
<line x1="553.83" y1="824.5" x2="553.83" y2="829"/>
<line x1="571.50" y1="824.5" x2="571.50" y2="827"/>
<line x1="589.17" y1="824.5" x2="589.17" y2="829"/>
<line x1="606.83" y1="824.5" x2="606.83" y2="827"/>
<line x1="624.50" y1="824.5" x2="624.50" y2="829"/>
<text x="412.5" y="841.8" font-size="12.4" text-anchor="middle">0</text>
<text x="447.8" y="841.8" font-size="12.4" text-anchor="middle">30</text>
<text x="483.2" y="841.8" font-size="12.4" text-anchor="middle">60</text>
<text x="518.5" y="841.8" font-size="12.4" text-anchor="middle">90</text>
<text x="553.8" y="841.8" font-size="12.4" text-anchor="middle">120</text>
<text x="589.2" y="841.8" font-size="12.4" text-anchor="middle">150</text>
<text x="624.5" y="841.8" font-size="12.4" text-anchor="middle">180</text>
<text x="518.5" y="866.3" font-size="17" text-anchor="middle">Scattering angle (°)</text>
<text transform="translate(380.5,722.5) rotate(-90)" font-size="17.3" text-anchor="middle">Aspect Ratio</text>
<rect class="cf" x="657.5" y="620.5" width="17" height="204"/>
<line x1="674.5" y1="620.50" x2="679" y2="620.50"/>
<text x="683.3" y="624.5" font-size="12.4" text-anchor="start">1.00</text>
<line x1="674.5" y1="646.00" x2="679" y2="646.00"/>
<text x="683.3" y="650.0" font-size="12.4" text-anchor="start">0.75</text>
<line x1="674.5" y1="671.50" x2="679" y2="671.50"/>
<text x="683.3" y="675.5" font-size="12.4" text-anchor="start">0.50</text>
<line x1="674.5" y1="697.00" x2="679" y2="697.00"/>
<text x="683.3" y="701.0" font-size="12.4" text-anchor="start">0.25</text>
<line x1="674.5" y1="722.50" x2="679" y2="722.50"/>
<text x="683.3" y="726.5" font-size="12.4" text-anchor="start">0.00</text>
<line x1="674.5" y1="748.00" x2="679" y2="748.00"/>
<text x="683.3" y="752.0" font-size="12.4" text-anchor="start">−0.25</text>
<line x1="674.5" y1="773.50" x2="679" y2="773.50"/>
<text x="683.3" y="777.5" font-size="12.4" text-anchor="start">−0.50</text>
<line x1="674.5" y1="799.00" x2="679" y2="799.00"/>
<text x="683.3" y="803.0" font-size="12.4" text-anchor="start">−0.75</text>
<line x1="674.5" y1="824.50" x2="679" y2="824.50"/>
<text x="683.3" y="828.5" font-size="12.4" text-anchor="start">−1.00</text>
<text x="666.0" y="608.6" font-size="17.5" text-anchor="middle">P<tspan font-size="12" dy="4.5">33</tspan><tspan dy="-4.5">(θ)/P</tspan><tspan font-size="12" dy="4.5">11</tspan><tspan dy="-4.5">(θ)</tspan></text>
<rect class="fr" x="770.5" y="620.5" width="212" height="204"/>
<line x1="766" y1="620.50" x2="770.5" y2="620.50"/>
<line x1="768" y1="631.83" x2="770.5" y2="631.83"/>
<line x1="766" y1="643.17" x2="770.5" y2="643.17"/>
<line x1="768" y1="654.50" x2="770.5" y2="654.50"/>
<line x1="766" y1="665.83" x2="770.5" y2="665.83"/>
<line x1="768" y1="677.17" x2="770.5" y2="677.17"/>
<line x1="766" y1="688.50" x2="770.5" y2="688.50"/>
<line x1="768" y1="699.83" x2="770.5" y2="699.83"/>
<line x1="766" y1="711.17" x2="770.5" y2="711.17"/>
<line x1="768" y1="722.50" x2="770.5" y2="722.50"/>
<line x1="766" y1="733.83" x2="770.5" y2="733.83"/>
<line x1="768" y1="745.17" x2="770.5" y2="745.17"/>
<line x1="766" y1="756.50" x2="770.5" y2="756.50"/>
<line x1="768" y1="767.83" x2="770.5" y2="767.83"/>
<line x1="766" y1="779.17" x2="770.5" y2="779.17"/>
<line x1="768" y1="790.50" x2="770.5" y2="790.50"/>
<line x1="766" y1="801.83" x2="770.5" y2="801.83"/>
<line x1="768" y1="813.17" x2="770.5" y2="813.17"/>
<line x1="766" y1="824.50" x2="770.5" y2="824.50"/>
<text x="763.7" y="624.5" font-size="12.4" text-anchor="end">8</text>
<text x="763.7" y="647.2" font-size="12.4" text-anchor="end">7</text>
<text x="763.7" y="669.8" font-size="12.4" text-anchor="end">6</text>
<text x="763.7" y="692.5" font-size="12.4" text-anchor="end">5</text>
<text x="763.7" y="715.2" font-size="12.4" text-anchor="end">4</text>
<text x="763.7" y="737.8" font-size="12.4" text-anchor="end">3</text>
<text x="763.7" y="760.5" font-size="12.4" text-anchor="end">2</text>
<text x="763.7" y="783.2" font-size="12.4" text-anchor="end">1/2</text>
<text x="763.7" y="805.8" font-size="12.4" text-anchor="end">1/3</text>
<text x="763.7" y="828.5" font-size="12.4" text-anchor="end">1/4</text>
<line x1="770.50" y1="824.5" x2="770.50" y2="829"/>
<line x1="788.17" y1="824.5" x2="788.17" y2="827"/>
<line x1="805.83" y1="824.5" x2="805.83" y2="829"/>
<line x1="823.50" y1="824.5" x2="823.50" y2="827"/>
<line x1="841.17" y1="824.5" x2="841.17" y2="829"/>
<line x1="858.83" y1="824.5" x2="858.83" y2="827"/>
<line x1="876.50" y1="824.5" x2="876.50" y2="829"/>
<line x1="894.17" y1="824.5" x2="894.17" y2="827"/>
<line x1="911.83" y1="824.5" x2="911.83" y2="829"/>
<line x1="929.50" y1="824.5" x2="929.50" y2="827"/>
<line x1="947.17" y1="824.5" x2="947.17" y2="829"/>
<line x1="964.83" y1="824.5" x2="964.83" y2="827"/>
<line x1="982.50" y1="824.5" x2="982.50" y2="829"/>
<text x="770.5" y="841.8" font-size="12.4" text-anchor="middle">0</text>
<text x="805.8" y="841.8" font-size="12.4" text-anchor="middle">30</text>
<text x="841.2" y="841.8" font-size="12.4" text-anchor="middle">60</text>
<text x="876.5" y="841.8" font-size="12.4" text-anchor="middle">90</text>
<text x="911.8" y="841.8" font-size="12.4" text-anchor="middle">120</text>
<text x="947.2" y="841.8" font-size="12.4" text-anchor="middle">150</text>
<text x="982.5" y="841.8" font-size="12.4" text-anchor="middle">180</text>
<text x="876.5" y="866.3" font-size="17" text-anchor="middle">Scattering angle (°)</text>
<text transform="translate(738.5,722.5) rotate(-90)" font-size="17.3" text-anchor="middle">Aspect Ratio</text>
<rect class="cf" x="1015.5" y="620.5" width="17" height="204"/>
<line x1="1032.5" y1="620.50" x2="1037" y2="620.50"/>
<text x="1041.3" y="624.5" font-size="12.4" text-anchor="start">1.00</text>
<line x1="1032.5" y1="646.00" x2="1037" y2="646.00"/>
<text x="1041.3" y="650.0" font-size="12.4" text-anchor="start">0.75</text>
<line x1="1032.5" y1="671.50" x2="1037" y2="671.50"/>
<text x="1041.3" y="675.5" font-size="12.4" text-anchor="start">0.50</text>
<line x1="1032.5" y1="697.00" x2="1037" y2="697.00"/>
<text x="1041.3" y="701.0" font-size="12.4" text-anchor="start">0.25</text>
<line x1="1032.5" y1="722.50" x2="1037" y2="722.50"/>
<text x="1041.3" y="726.5" font-size="12.4" text-anchor="start">0.00</text>
<line x1="1032.5" y1="748.00" x2="1037" y2="748.00"/>
<text x="1041.3" y="752.0" font-size="12.4" text-anchor="start">−0.25</text>
<line x1="1032.5" y1="773.50" x2="1037" y2="773.50"/>
<text x="1041.3" y="777.5" font-size="12.4" text-anchor="start">−0.50</text>
<line x1="1032.5" y1="799.00" x2="1037" y2="799.00"/>
<text x="1041.3" y="803.0" font-size="12.4" text-anchor="start">−0.75</text>
<line x1="1032.5" y1="824.50" x2="1037" y2="824.50"/>
<text x="1041.3" y="828.5" font-size="12.4" text-anchor="start">−1.00</text>
<text x="1024.0" y="608.6" font-size="17.5" text-anchor="middle">P<tspan font-size="12" dy="4.5">33</tspan><tspan dy="-4.5">(θ)/P</tspan><tspan font-size="12" dy="4.5">11</tspan><tspan dy="-4.5">(θ)</tspan></text>
<rect class="fr" x="54.5" y="913.5" width="212" height="203"/>
<line x1="50" y1="913.50" x2="54.5" y2="913.50"/>
<line x1="52" y1="924.78" x2="54.5" y2="924.78"/>
<line x1="50" y1="936.06" x2="54.5" y2="936.06"/>
<line x1="52" y1="947.33" x2="54.5" y2="947.33"/>
<line x1="50" y1="958.61" x2="54.5" y2="958.61"/>
<line x1="52" y1="969.89" x2="54.5" y2="969.89"/>
<line x1="50" y1="981.17" x2="54.5" y2="981.17"/>
<line x1="52" y1="992.44" x2="54.5" y2="992.44"/>
<line x1="50" y1="1003.72" x2="54.5" y2="1003.72"/>
<line x1="52" y1="1015.00" x2="54.5" y2="1015.00"/>
<line x1="50" y1="1026.28" x2="54.5" y2="1026.28"/>
<line x1="52" y1="1037.56" x2="54.5" y2="1037.56"/>
<line x1="50" y1="1048.83" x2="54.5" y2="1048.83"/>
<line x1="52" y1="1060.11" x2="54.5" y2="1060.11"/>
<line x1="50" y1="1071.39" x2="54.5" y2="1071.39"/>
<line x1="52" y1="1082.67" x2="54.5" y2="1082.67"/>
<line x1="50" y1="1093.94" x2="54.5" y2="1093.94"/>
<line x1="52" y1="1105.22" x2="54.5" y2="1105.22"/>
<line x1="50" y1="1116.50" x2="54.5" y2="1116.50"/>
<text x="47.7" y="917.5" font-size="12.4" text-anchor="end">8</text>
<text x="47.7" y="940.1" font-size="12.4" text-anchor="end">7</text>
<text x="47.7" y="962.6" font-size="12.4" text-anchor="end">6</text>
<text x="47.7" y="985.2" font-size="12.4" text-anchor="end">5</text>
<text x="47.7" y="1007.7" font-size="12.4" text-anchor="end">4</text>
<text x="47.7" y="1030.3" font-size="12.4" text-anchor="end">3</text>
<text x="47.7" y="1052.8" font-size="12.4" text-anchor="end">2</text>
<text x="47.7" y="1075.4" font-size="12.4" text-anchor="end">1/2</text>
<text x="47.7" y="1097.9" font-size="12.4" text-anchor="end">1/3</text>
<text x="47.7" y="1120.5" font-size="12.4" text-anchor="end">1/4</text>
<line x1="54.50" y1="1116.5" x2="54.50" y2="1121"/>
<line x1="72.17" y1="1116.5" x2="72.17" y2="1119"/>
<line x1="89.83" y1="1116.5" x2="89.83" y2="1121"/>
<line x1="107.50" y1="1116.5" x2="107.50" y2="1119"/>
<line x1="125.17" y1="1116.5" x2="125.17" y2="1121"/>
<line x1="142.83" y1="1116.5" x2="142.83" y2="1119"/>
<line x1="160.50" y1="1116.5" x2="160.50" y2="1121"/>
<line x1="178.17" y1="1116.5" x2="178.17" y2="1119"/>
<line x1="195.83" y1="1116.5" x2="195.83" y2="1121"/>
<line x1="213.50" y1="1116.5" x2="213.50" y2="1119"/>
<line x1="231.17" y1="1116.5" x2="231.17" y2="1121"/>
<line x1="248.83" y1="1116.5" x2="248.83" y2="1119"/>
<line x1="266.50" y1="1116.5" x2="266.50" y2="1121"/>
<text x="54.5" y="1133.8" font-size="12.4" text-anchor="middle">0</text>
<text x="89.8" y="1133.8" font-size="12.4" text-anchor="middle">30</text>
<text x="125.2" y="1133.8" font-size="12.4" text-anchor="middle">60</text>
<text x="160.5" y="1133.8" font-size="12.4" text-anchor="middle">90</text>
<text x="195.8" y="1133.8" font-size="12.4" text-anchor="middle">120</text>
<text x="231.2" y="1133.8" font-size="12.4" text-anchor="middle">150</text>
<text x="266.5" y="1133.8" font-size="12.4" text-anchor="middle">180</text>
<text x="160.5" y="1158.3" font-size="17" text-anchor="middle">Scattering angle (°)</text>
<text transform="translate(22.5,1015.0) rotate(-90)" font-size="17.3" text-anchor="middle">Aspect Ratio</text>
<rect class="cf" x="299.5" y="913.5" width="17" height="203"/>
<line x1="316.5" y1="913.50" x2="321" y2="913.50"/>
<text x="325.3" y="917.5" font-size="12.4" text-anchor="start">1.00</text>
<line x1="316.5" y1="938.88" x2="321" y2="938.88"/>
<text x="325.3" y="942.9" font-size="12.4" text-anchor="start">0.75</text>
<line x1="316.5" y1="964.25" x2="321" y2="964.25"/>
<text x="325.3" y="968.2" font-size="12.4" text-anchor="start">0.50</text>
<line x1="316.5" y1="989.62" x2="321" y2="989.62"/>
<text x="325.3" y="993.6" font-size="12.4" text-anchor="start">0.25</text>
<line x1="316.5" y1="1015.00" x2="321" y2="1015.00"/>
<text x="325.3" y="1019.0" font-size="12.4" text-anchor="start">0.00</text>
<line x1="316.5" y1="1040.38" x2="321" y2="1040.38"/>
<text x="325.3" y="1044.4" font-size="12.4" text-anchor="start">−0.25</text>
<line x1="316.5" y1="1065.75" x2="321" y2="1065.75"/>
<text x="325.3" y="1069.8" font-size="12.4" text-anchor="start">−0.50</text>
<line x1="316.5" y1="1091.12" x2="321" y2="1091.12"/>
<text x="325.3" y="1095.1" font-size="12.4" text-anchor="start">−0.75</text>
<line x1="316.5" y1="1116.50" x2="321" y2="1116.50"/>
<text x="325.3" y="1120.5" font-size="12.4" text-anchor="start">−1.00</text>
<text x="308.0" y="901.6" font-size="17.5" text-anchor="middle">P<tspan font-size="12" dy="4.5">44</tspan><tspan dy="-4.5">(θ)/P</tspan><tspan font-size="12" dy="4.5">11</tspan><tspan dy="-4.5">(θ)</tspan></text>
<rect class="fr" x="412.5" y="913.5" width="212" height="203"/>
<line x1="408" y1="913.50" x2="412.5" y2="913.50"/>
<line x1="410" y1="924.78" x2="412.5" y2="924.78"/>
<line x1="408" y1="936.06" x2="412.5" y2="936.06"/>
<line x1="410" y1="947.33" x2="412.5" y2="947.33"/>
<line x1="408" y1="958.61" x2="412.5" y2="958.61"/>
<line x1="410" y1="969.89" x2="412.5" y2="969.89"/>
<line x1="408" y1="981.17" x2="412.5" y2="981.17"/>
<line x1="410" y1="992.44" x2="412.5" y2="992.44"/>
<line x1="408" y1="1003.72" x2="412.5" y2="1003.72"/>
<line x1="410" y1="1015.00" x2="412.5" y2="1015.00"/>
<line x1="408" y1="1026.28" x2="412.5" y2="1026.28"/>
<line x1="410" y1="1037.56" x2="412.5" y2="1037.56"/>
<line x1="408" y1="1048.83" x2="412.5" y2="1048.83"/>
<line x1="410" y1="1060.11" x2="412.5" y2="1060.11"/>
<line x1="408" y1="1071.39" x2="412.5" y2="1071.39"/>
<line x1="410" y1="1082.67" x2="412.5" y2="1082.67"/>
<line x1="408" y1="1093.94" x2="412.5" y2="1093.94"/>
<line x1="410" y1="1105.22" x2="412.5" y2="1105.22"/>
<line x1="408" y1="1116.50" x2="412.5" y2="1116.50"/>
<text x="405.7" y="917.5" font-size="12.4" text-anchor="end">8</text>
<text x="405.7" y="940.1" font-size="12.4" text-anchor="end">7</text>
<text x="405.7" y="962.6" font-size="12.4" text-anchor="end">6</text>
<text x="405.7" y="985.2" font-size="12.4" text-anchor="end">5</text>
<text x="405.7" y="1007.7" font-size="12.4" text-anchor="end">4</text>
<text x="405.7" y="1030.3" font-size="12.4" text-anchor="end">3</text>
<text x="405.7" y="1052.8" font-size="12.4" text-anchor="end">2</text>
<text x="405.7" y="1075.4" font-size="12.4" text-anchor="end">1/2</text>
<text x="405.7" y="1097.9" font-size="12.4" text-anchor="end">1/3</text>
<text x="405.7" y="1120.5" font-size="12.4" text-anchor="end">1/4</text>
<line x1="412.50" y1="1116.5" x2="412.50" y2="1121"/>
<line x1="430.17" y1="1116.5" x2="430.17" y2="1119"/>
<line x1="447.83" y1="1116.5" x2="447.83" y2="1121"/>
<line x1="465.50" y1="1116.5" x2="465.50" y2="1119"/>
<line x1="483.17" y1="1116.5" x2="483.17" y2="1121"/>
<line x1="500.83" y1="1116.5" x2="500.83" y2="1119"/>
<line x1="518.50" y1="1116.5" x2="518.50" y2="1121"/>
<line x1="536.17" y1="1116.5" x2="536.17" y2="1119"/>
<line x1="553.83" y1="1116.5" x2="553.83" y2="1121"/>
<line x1="571.50" y1="1116.5" x2="571.50" y2="1119"/>
<line x1="589.17" y1="1116.5" x2="589.17" y2="1121"/>
<line x1="606.83" y1="1116.5" x2="606.83" y2="1119"/>
<line x1="624.50" y1="1116.5" x2="624.50" y2="1121"/>
<text x="412.5" y="1133.8" font-size="12.4" text-anchor="middle">0</text>
<text x="447.8" y="1133.8" font-size="12.4" text-anchor="middle">30</text>
<text x="483.2" y="1133.8" font-size="12.4" text-anchor="middle">60</text>
<text x="518.5" y="1133.8" font-size="12.4" text-anchor="middle">90</text>
<text x="553.8" y="1133.8" font-size="12.4" text-anchor="middle">120</text>
<text x="589.2" y="1133.8" font-size="12.4" text-anchor="middle">150</text>
<text x="624.5" y="1133.8" font-size="12.4" text-anchor="middle">180</text>
<text x="518.5" y="1158.3" font-size="17" text-anchor="middle">Scattering angle (°)</text>
<text transform="translate(380.5,1015.0) rotate(-90)" font-size="17.3" text-anchor="middle">Aspect Ratio</text>
<rect class="cf" x="657.5" y="913.5" width="17" height="203"/>
<line x1="674.5" y1="913.50" x2="679" y2="913.50"/>
<text x="683.3" y="917.5" font-size="12.4" text-anchor="start">1.00</text>
<line x1="674.5" y1="938.88" x2="679" y2="938.88"/>
<text x="683.3" y="942.9" font-size="12.4" text-anchor="start">0.75</text>
<line x1="674.5" y1="964.25" x2="679" y2="964.25"/>
<text x="683.3" y="968.2" font-size="12.4" text-anchor="start">0.50</text>
<line x1="674.5" y1="989.62" x2="679" y2="989.62"/>
<text x="683.3" y="993.6" font-size="12.4" text-anchor="start">0.25</text>
<line x1="674.5" y1="1015.00" x2="679" y2="1015.00"/>
<text x="683.3" y="1019.0" font-size="12.4" text-anchor="start">0.00</text>
<line x1="674.5" y1="1040.38" x2="679" y2="1040.38"/>
<text x="683.3" y="1044.4" font-size="12.4" text-anchor="start">−0.25</text>
<line x1="674.5" y1="1065.75" x2="679" y2="1065.75"/>
<text x="683.3" y="1069.8" font-size="12.4" text-anchor="start">−0.50</text>
<line x1="674.5" y1="1091.12" x2="679" y2="1091.12"/>
<text x="683.3" y="1095.1" font-size="12.4" text-anchor="start">−0.75</text>
<line x1="674.5" y1="1116.50" x2="679" y2="1116.50"/>
<text x="683.3" y="1120.5" font-size="12.4" text-anchor="start">−1.00</text>
<text x="666.0" y="901.6" font-size="17.5" text-anchor="middle">P<tspan font-size="12" dy="4.5">44</tspan><tspan dy="-4.5">(θ)/P</tspan><tspan font-size="12" dy="4.5">11</tspan><tspan dy="-4.5">(θ)</tspan></text>
<rect class="fr" x="770.5" y="913.5" width="212" height="203"/>
<line x1="766" y1="913.50" x2="770.5" y2="913.50"/>
<line x1="768" y1="924.78" x2="770.5" y2="924.78"/>
<line x1="766" y1="936.06" x2="770.5" y2="936.06"/>
<line x1="768" y1="947.33" x2="770.5" y2="947.33"/>
<line x1="766" y1="958.61" x2="770.5" y2="958.61"/>
<line x1="768" y1="969.89" x2="770.5" y2="969.89"/>
<line x1="766" y1="981.17" x2="770.5" y2="981.17"/>
<line x1="768" y1="992.44" x2="770.5" y2="992.44"/>
<line x1="766" y1="1003.72" x2="770.5" y2="1003.72"/>
<line x1="768" y1="1015.00" x2="770.5" y2="1015.00"/>
<line x1="766" y1="1026.28" x2="770.5" y2="1026.28"/>
<line x1="768" y1="1037.56" x2="770.5" y2="1037.56"/>
<line x1="766" y1="1048.83" x2="770.5" y2="1048.83"/>
<line x1="768" y1="1060.11" x2="770.5" y2="1060.11"/>
<line x1="766" y1="1071.39" x2="770.5" y2="1071.39"/>
<line x1="768" y1="1082.67" x2="770.5" y2="1082.67"/>
<line x1="766" y1="1093.94" x2="770.5" y2="1093.94"/>
<line x1="768" y1="1105.22" x2="770.5" y2="1105.22"/>
<line x1="766" y1="1116.50" x2="770.5" y2="1116.50"/>
<text x="763.7" y="917.5" font-size="12.4" text-anchor="end">8</text>
<text x="763.7" y="940.1" font-size="12.4" text-anchor="end">7</text>
<text x="763.7" y="962.6" font-size="12.4" text-anchor="end">6</text>
<text x="763.7" y="985.2" font-size="12.4" text-anchor="end">5</text>
<text x="763.7" y="1007.7" font-size="12.4" text-anchor="end">4</text>
<text x="763.7" y="1030.3" font-size="12.4" text-anchor="end">3</text>
<text x="763.7" y="1052.8" font-size="12.4" text-anchor="end">2</text>
<text x="763.7" y="1075.4" font-size="12.4" text-anchor="end">1/2</text>
<text x="763.7" y="1097.9" font-size="12.4" text-anchor="end">1/3</text>
<text x="763.7" y="1120.5" font-size="12.4" text-anchor="end">1/4</text>
<line x1="770.50" y1="1116.5" x2="770.50" y2="1121"/>
<line x1="788.17" y1="1116.5" x2="788.17" y2="1119"/>
<line x1="805.83" y1="1116.5" x2="805.83" y2="1121"/>
<line x1="823.50" y1="1116.5" x2="823.50" y2="1119"/>
<line x1="841.17" y1="1116.5" x2="841.17" y2="1121"/>
<line x1="858.83" y1="1116.5" x2="858.83" y2="1119"/>
<line x1="876.50" y1="1116.5" x2="876.50" y2="1121"/>
<line x1="894.17" y1="1116.5" x2="894.17" y2="1119"/>
<line x1="911.83" y1="1116.5" x2="911.83" y2="1121"/>
<line x1="929.50" y1="1116.5" x2="929.50" y2="1119"/>
<line x1="947.17" y1="1116.5" x2="947.17" y2="1121"/>
<line x1="964.83" y1="1116.5" x2="964.83" y2="1119"/>
<line x1="982.50" y1="1116.5" x2="982.50" y2="1121"/>
<text x="770.5" y="1133.8" font-size="12.4" text-anchor="middle">0</text>
<text x="805.8" y="1133.8" font-size="12.4" text-anchor="middle">30</text>
<text x="841.2" y="1133.8" font-size="12.4" text-anchor="middle">60</text>
<text x="876.5" y="1133.8" font-size="12.4" text-anchor="middle">90</text>
<text x="911.8" y="1133.8" font-size="12.4" text-anchor="middle">120</text>
<text x="947.2" y="1133.8" font-size="12.4" text-anchor="middle">150</text>
<text x="982.5" y="1133.8" font-size="12.4" text-anchor="middle">180</text>
<text x="876.5" y="1158.3" font-size="17" text-anchor="middle">Scattering angle (°)</text>
<text transform="translate(738.5,1015.0) rotate(-90)" font-size="17.3" text-anchor="middle">Aspect Ratio</text>
<rect class="cf" x="1015.5" y="913.5" width="17" height="203"/>
<line x1="1032.5" y1="913.50" x2="1037" y2="913.50"/>
<text x="1041.3" y="917.5" font-size="12.4" text-anchor="start">1.00</text>
<line x1="1032.5" y1="938.88" x2="1037" y2="938.88"/>
<text x="1041.3" y="942.9" font-size="12.4" text-anchor="start">0.75</text>
<line x1="1032.5" y1="964.25" x2="1037" y2="964.25"/>
<text x="1041.3" y="968.2" font-size="12.4" text-anchor="start">0.50</text>
<line x1="1032.5" y1="989.62" x2="1037" y2="989.62"/>
<text x="1041.3" y="993.6" font-size="12.4" text-anchor="start">0.25</text>
<line x1="1032.5" y1="1015.00" x2="1037" y2="1015.00"/>
<text x="1041.3" y="1019.0" font-size="12.4" text-anchor="start">0.00</text>
<line x1="1032.5" y1="1040.38" x2="1037" y2="1040.38"/>
<text x="1041.3" y="1044.4" font-size="12.4" text-anchor="start">−0.25</text>
<line x1="1032.5" y1="1065.75" x2="1037" y2="1065.75"/>
<text x="1041.3" y="1069.8" font-size="12.4" text-anchor="start">−0.50</text>
<line x1="1032.5" y1="1091.12" x2="1037" y2="1091.12"/>
<text x="1041.3" y="1095.1" font-size="12.4" text-anchor="start">−0.75</text>
<line x1="1032.5" y1="1116.50" x2="1037" y2="1116.50"/>
<text x="1041.3" y="1120.5" font-size="12.4" text-anchor="start">−1.00</text>
<text x="1024.0" y="901.6" font-size="17.5" text-anchor="middle">P<tspan font-size="12" dy="4.5">44</tspan><tspan dy="-4.5">(θ)/P</tspan><tspan font-size="12" dy="4.5">11</tspan><tspan dy="-4.5">(θ)</tspan></text>
<rect class="fr" x="56.5" y="1207.5" width="211" height="204"/>
<line x1="52" y1="1207.50" x2="56.5" y2="1207.50"/>
<line x1="54" y1="1218.83" x2="56.5" y2="1218.83"/>
<line x1="52" y1="1230.17" x2="56.5" y2="1230.17"/>
<line x1="54" y1="1241.50" x2="56.5" y2="1241.50"/>
<line x1="52" y1="1252.83" x2="56.5" y2="1252.83"/>
<line x1="54" y1="1264.17" x2="56.5" y2="1264.17"/>
<line x1="52" y1="1275.50" x2="56.5" y2="1275.50"/>
<line x1="54" y1="1286.83" x2="56.5" y2="1286.83"/>
<line x1="52" y1="1298.17" x2="56.5" y2="1298.17"/>
<line x1="54" y1="1309.50" x2="56.5" y2="1309.50"/>
<line x1="52" y1="1320.83" x2="56.5" y2="1320.83"/>
<line x1="54" y1="1332.17" x2="56.5" y2="1332.17"/>
<line x1="52" y1="1343.50" x2="56.5" y2="1343.50"/>
<line x1="54" y1="1354.83" x2="56.5" y2="1354.83"/>
<line x1="52" y1="1366.17" x2="56.5" y2="1366.17"/>
<line x1="54" y1="1377.50" x2="56.5" y2="1377.50"/>
<line x1="52" y1="1388.83" x2="56.5" y2="1388.83"/>
<line x1="54" y1="1400.17" x2="56.5" y2="1400.17"/>
<line x1="52" y1="1411.50" x2="56.5" y2="1411.50"/>
<text x="49.7" y="1211.5" font-size="12.4" text-anchor="end">8</text>
<text x="49.7" y="1234.2" font-size="12.4" text-anchor="end">7</text>
<text x="49.7" y="1256.8" font-size="12.4" text-anchor="end">6</text>
<text x="49.7" y="1279.5" font-size="12.4" text-anchor="end">5</text>
<text x="49.7" y="1302.2" font-size="12.4" text-anchor="end">4</text>
<text x="49.7" y="1324.8" font-size="12.4" text-anchor="end">3</text>
<text x="49.7" y="1347.5" font-size="12.4" text-anchor="end">2</text>
<text x="49.7" y="1370.2" font-size="12.4" text-anchor="end">1/2</text>
<text x="49.7" y="1392.8" font-size="12.4" text-anchor="end">1/3</text>
<text x="49.7" y="1415.5" font-size="12.4" text-anchor="end">1/4</text>
<line x1="56.50" y1="1411.5" x2="56.50" y2="1416"/>
<line x1="74.08" y1="1411.5" x2="74.08" y2="1414"/>
<line x1="91.67" y1="1411.5" x2="91.67" y2="1416"/>
<line x1="109.25" y1="1411.5" x2="109.25" y2="1414"/>
<line x1="126.83" y1="1411.5" x2="126.83" y2="1416"/>
<line x1="144.42" y1="1411.5" x2="144.42" y2="1414"/>
<line x1="162.00" y1="1411.5" x2="162.00" y2="1416"/>
<line x1="179.58" y1="1411.5" x2="179.58" y2="1414"/>
<line x1="197.17" y1="1411.5" x2="197.17" y2="1416"/>
<line x1="214.75" y1="1411.5" x2="214.75" y2="1414"/>
<line x1="232.33" y1="1411.5" x2="232.33" y2="1416"/>
<line x1="249.92" y1="1411.5" x2="249.92" y2="1414"/>
<line x1="267.50" y1="1411.5" x2="267.50" y2="1416"/>
<text x="56.5" y="1428.8" font-size="12.4" text-anchor="middle">0</text>
<text x="91.7" y="1428.8" font-size="12.4" text-anchor="middle">30</text>
<text x="126.8" y="1428.8" font-size="12.4" text-anchor="middle">60</text>
<text x="162.0" y="1428.8" font-size="12.4" text-anchor="middle">90</text>
<text x="197.2" y="1428.8" font-size="12.4" text-anchor="middle">120</text>
<text x="232.3" y="1428.8" font-size="12.4" text-anchor="middle">150</text>
<text x="267.5" y="1428.8" font-size="12.4" text-anchor="middle">180</text>
<text x="162.0" y="1453.3" font-size="17" text-anchor="middle">Scattering angle (°)</text>
<text transform="translate(24.5,1309.5) rotate(-90)" font-size="17.3" text-anchor="middle">Aspect Ratio</text>
<rect class="cf" x="300.5" y="1207.5" width="17" height="204"/>
<line x1="317.5" y1="1207.50" x2="322" y2="1207.50"/>
<text x="326.3" y="1211.5" font-size="12.4" text-anchor="start">0.98</text>
<line x1="317.5" y1="1233.00" x2="322" y2="1233.00"/>
<text x="326.3" y="1237.0" font-size="12.4" text-anchor="start">0.86</text>
<line x1="317.5" y1="1258.50" x2="322" y2="1258.50"/>
<text x="326.3" y="1262.5" font-size="12.4" text-anchor="start">0.74</text>
<line x1="317.5" y1="1284.00" x2="322" y2="1284.00"/>
<text x="326.3" y="1288.0" font-size="12.4" text-anchor="start">0.61</text>
<line x1="317.5" y1="1309.50" x2="322" y2="1309.50"/>
<text x="326.3" y="1313.5" font-size="12.4" text-anchor="start">0.49</text>
<line x1="317.5" y1="1335.00" x2="322" y2="1335.00"/>
<text x="326.3" y="1339.0" font-size="12.4" text-anchor="start">0.37</text>
<line x1="317.5" y1="1360.50" x2="322" y2="1360.50"/>
<text x="326.3" y="1364.5" font-size="12.4" text-anchor="start">0.25</text>
<line x1="317.5" y1="1386.00" x2="322" y2="1386.00"/>
<text x="326.3" y="1390.0" font-size="12.4" text-anchor="start">0.12</text>
<line x1="317.5" y1="1411.50" x2="322" y2="1411.50"/>
<text x="326.3" y="1415.5" font-size="12.4" text-anchor="start">0.00</text>
<text x="309.0" y="1195.6" font-size="17.5" text-anchor="middle">-P<tspan font-size="12" dy="4.5">12</tspan><tspan dy="-4.5">(θ)/P</tspan><tspan font-size="12" dy="4.5">11</tspan><tspan dy="-4.5">(θ)</tspan></text>
<rect class="fr" x="413.5" y="1207.5" width="211" height="204"/>
<line x1="409" y1="1207.50" x2="413.5" y2="1207.50"/>
<line x1="411" y1="1218.83" x2="413.5" y2="1218.83"/>
<line x1="409" y1="1230.17" x2="413.5" y2="1230.17"/>
<line x1="411" y1="1241.50" x2="413.5" y2="1241.50"/>
<line x1="409" y1="1252.83" x2="413.5" y2="1252.83"/>
<line x1="411" y1="1264.17" x2="413.5" y2="1264.17"/>
<line x1="409" y1="1275.50" x2="413.5" y2="1275.50"/>
<line x1="411" y1="1286.83" x2="413.5" y2="1286.83"/>
<line x1="409" y1="1298.17" x2="413.5" y2="1298.17"/>
<line x1="411" y1="1309.50" x2="413.5" y2="1309.50"/>
<line x1="409" y1="1320.83" x2="413.5" y2="1320.83"/>
<line x1="411" y1="1332.17" x2="413.5" y2="1332.17"/>
<line x1="409" y1="1343.50" x2="413.5" y2="1343.50"/>
<line x1="411" y1="1354.83" x2="413.5" y2="1354.83"/>
<line x1="409" y1="1366.17" x2="413.5" y2="1366.17"/>
<line x1="411" y1="1377.50" x2="413.5" y2="1377.50"/>
<line x1="409" y1="1388.83" x2="413.5" y2="1388.83"/>
<line x1="411" y1="1400.17" x2="413.5" y2="1400.17"/>
<line x1="409" y1="1411.50" x2="413.5" y2="1411.50"/>
<text x="406.7" y="1211.5" font-size="12.4" text-anchor="end">8</text>
<text x="406.7" y="1234.2" font-size="12.4" text-anchor="end">7</text>
<text x="406.7" y="1256.8" font-size="12.4" text-anchor="end">6</text>
<text x="406.7" y="1279.5" font-size="12.4" text-anchor="end">5</text>
<text x="406.7" y="1302.2" font-size="12.4" text-anchor="end">4</text>
<text x="406.7" y="1324.8" font-size="12.4" text-anchor="end">3</text>
<text x="406.7" y="1347.5" font-size="12.4" text-anchor="end">2</text>
<text x="406.7" y="1370.2" font-size="12.4" text-anchor="end">1/2</text>
<text x="406.7" y="1392.8" font-size="12.4" text-anchor="end">1/3</text>
<text x="406.7" y="1415.5" font-size="12.4" text-anchor="end">1/4</text>
<line x1="413.50" y1="1411.5" x2="413.50" y2="1416"/>
<line x1="431.08" y1="1411.5" x2="431.08" y2="1414"/>
<line x1="448.67" y1="1411.5" x2="448.67" y2="1416"/>
<line x1="466.25" y1="1411.5" x2="466.25" y2="1414"/>
<line x1="483.83" y1="1411.5" x2="483.83" y2="1416"/>
<line x1="501.42" y1="1411.5" x2="501.42" y2="1414"/>
<line x1="519.00" y1="1411.5" x2="519.00" y2="1416"/>
<line x1="536.58" y1="1411.5" x2="536.58" y2="1414"/>
<line x1="554.17" y1="1411.5" x2="554.17" y2="1416"/>
<line x1="571.75" y1="1411.5" x2="571.75" y2="1414"/>
<line x1="589.33" y1="1411.5" x2="589.33" y2="1416"/>
<line x1="606.92" y1="1411.5" x2="606.92" y2="1414"/>
<line x1="624.50" y1="1411.5" x2="624.50" y2="1416"/>
<text x="413.5" y="1428.8" font-size="12.4" text-anchor="middle">0</text>
<text x="448.7" y="1428.8" font-size="12.4" text-anchor="middle">30</text>
<text x="483.8" y="1428.8" font-size="12.4" text-anchor="middle">60</text>
<text x="519.0" y="1428.8" font-size="12.4" text-anchor="middle">90</text>
<text x="554.2" y="1428.8" font-size="12.4" text-anchor="middle">120</text>
<text x="589.3" y="1428.8" font-size="12.4" text-anchor="middle">150</text>
<text x="624.5" y="1428.8" font-size="12.4" text-anchor="middle">180</text>
<text x="519.0" y="1453.3" font-size="17" text-anchor="middle">Scattering angle (°)</text>
<text transform="translate(381.5,1309.5) rotate(-90)" font-size="17.3" text-anchor="middle">Aspect Ratio</text>
<rect class="cf" x="657.5" y="1207.5" width="17" height="204"/>
<line x1="674.5" y1="1207.50" x2="679" y2="1207.50"/>
<text x="683.3" y="1211.5" font-size="12.4" text-anchor="start">0.98</text>
<line x1="674.5" y1="1233.00" x2="679" y2="1233.00"/>
<text x="683.3" y="1237.0" font-size="12.4" text-anchor="start">0.86</text>
<line x1="674.5" y1="1258.50" x2="679" y2="1258.50"/>
<text x="683.3" y="1262.5" font-size="12.4" text-anchor="start">0.74</text>
<line x1="674.5" y1="1284.00" x2="679" y2="1284.00"/>
<text x="683.3" y="1288.0" font-size="12.4" text-anchor="start">0.61</text>
<line x1="674.5" y1="1309.50" x2="679" y2="1309.50"/>
<text x="683.3" y="1313.5" font-size="12.4" text-anchor="start">0.49</text>
<line x1="674.5" y1="1335.00" x2="679" y2="1335.00"/>
<text x="683.3" y="1339.0" font-size="12.4" text-anchor="start">0.37</text>
<line x1="674.5" y1="1360.50" x2="679" y2="1360.50"/>
<text x="683.3" y="1364.5" font-size="12.4" text-anchor="start">0.25</text>
<line x1="674.5" y1="1386.00" x2="679" y2="1386.00"/>
<text x="683.3" y="1390.0" font-size="12.4" text-anchor="start">0.12</text>
<line x1="674.5" y1="1411.50" x2="679" y2="1411.50"/>
<text x="683.3" y="1415.5" font-size="12.4" text-anchor="start">0.00</text>
<text x="666.0" y="1195.6" font-size="17.5" text-anchor="middle">-P<tspan font-size="12" dy="4.5">12</tspan><tspan dy="-4.5">(θ)/P</tspan><tspan font-size="12" dy="4.5">11</tspan><tspan dy="-4.5">(θ)</tspan></text>
<rect class="fr" x="771.5" y="1207.5" width="210" height="204"/>
<line x1="767" y1="1207.50" x2="771.5" y2="1207.50"/>
<line x1="769" y1="1218.83" x2="771.5" y2="1218.83"/>
<line x1="767" y1="1230.17" x2="771.5" y2="1230.17"/>
<line x1="769" y1="1241.50" x2="771.5" y2="1241.50"/>
<line x1="767" y1="1252.83" x2="771.5" y2="1252.83"/>
<line x1="769" y1="1264.17" x2="771.5" y2="1264.17"/>
<line x1="767" y1="1275.50" x2="771.5" y2="1275.50"/>
<line x1="769" y1="1286.83" x2="771.5" y2="1286.83"/>
<line x1="767" y1="1298.17" x2="771.5" y2="1298.17"/>
<line x1="769" y1="1309.50" x2="771.5" y2="1309.50"/>
<line x1="767" y1="1320.83" x2="771.5" y2="1320.83"/>
<line x1="769" y1="1332.17" x2="771.5" y2="1332.17"/>
<line x1="767" y1="1343.50" x2="771.5" y2="1343.50"/>
<line x1="769" y1="1354.83" x2="771.5" y2="1354.83"/>
<line x1="767" y1="1366.17" x2="771.5" y2="1366.17"/>
<line x1="769" y1="1377.50" x2="771.5" y2="1377.50"/>
<line x1="767" y1="1388.83" x2="771.5" y2="1388.83"/>
<line x1="769" y1="1400.17" x2="771.5" y2="1400.17"/>
<line x1="767" y1="1411.50" x2="771.5" y2="1411.50"/>
<text x="764.7" y="1211.5" font-size="12.4" text-anchor="end">8</text>
<text x="764.7" y="1234.2" font-size="12.4" text-anchor="end">7</text>
<text x="764.7" y="1256.8" font-size="12.4" text-anchor="end">6</text>
<text x="764.7" y="1279.5" font-size="12.4" text-anchor="end">5</text>
<text x="764.7" y="1302.2" font-size="12.4" text-anchor="end">4</text>
<text x="764.7" y="1324.8" font-size="12.4" text-anchor="end">3</text>
<text x="764.7" y="1347.5" font-size="12.4" text-anchor="end">2</text>
<text x="764.7" y="1370.2" font-size="12.4" text-anchor="end">1/2</text>
<text x="764.7" y="1392.8" font-size="12.4" text-anchor="end">1/3</text>
<text x="764.7" y="1415.5" font-size="12.4" text-anchor="end">1/4</text>
<line x1="771.50" y1="1411.5" x2="771.50" y2="1416"/>
<line x1="789.00" y1="1411.5" x2="789.00" y2="1414"/>
<line x1="806.50" y1="1411.5" x2="806.50" y2="1416"/>
<line x1="824.00" y1="1411.5" x2="824.00" y2="1414"/>
<line x1="841.50" y1="1411.5" x2="841.50" y2="1416"/>
<line x1="859.00" y1="1411.5" x2="859.00" y2="1414"/>
<line x1="876.50" y1="1411.5" x2="876.50" y2="1416"/>
<line x1="894.00" y1="1411.5" x2="894.00" y2="1414"/>
<line x1="911.50" y1="1411.5" x2="911.50" y2="1416"/>
<line x1="929.00" y1="1411.5" x2="929.00" y2="1414"/>
<line x1="946.50" y1="1411.5" x2="946.50" y2="1416"/>
<line x1="964.00" y1="1411.5" x2="964.00" y2="1414"/>
<line x1="981.50" y1="1411.5" x2="981.50" y2="1416"/>
<text x="785.5" y="1428.8" font-size="12.4" text-anchor="middle">0</text>
<text x="820.5" y="1428.8" font-size="12.4" text-anchor="middle">30</text>
<text x="855.5" y="1428.8" font-size="12.4" text-anchor="middle">60</text>
<text x="890.5" y="1428.8" font-size="12.4" text-anchor="middle">90</text>
<text x="925.5" y="1428.8" font-size="12.4" text-anchor="middle">120</text>
<text x="960.5" y="1428.8" font-size="12.4" text-anchor="middle">150</text>
<text x="995.5" y="1428.8" font-size="12.4" text-anchor="middle">180</text>
<text x="876.5" y="1453.3" font-size="17" text-anchor="middle">Scattering angle (°)</text>
<text transform="translate(739.5,1309.5) rotate(-90)" font-size="17.3" text-anchor="middle">Aspect Ratio</text>
<rect class="cf" x="1014.5" y="1207.5" width="17" height="204"/>
<line x1="1031.5" y1="1207.50" x2="1036" y2="1207.50"/>
<text x="1040.3" y="1211.5" font-size="12.4" text-anchor="start">0.98</text>
<line x1="1031.5" y1="1233.00" x2="1036" y2="1233.00"/>
<text x="1040.3" y="1237.0" font-size="12.4" text-anchor="start">0.86</text>
<line x1="1031.5" y1="1258.50" x2="1036" y2="1258.50"/>
<text x="1040.3" y="1262.5" font-size="12.4" text-anchor="start">0.73</text>
<line x1="1031.5" y1="1284.00" x2="1036" y2="1284.00"/>
<text x="1040.3" y="1288.0" font-size="12.4" text-anchor="start">0.61</text>
<line x1="1031.5" y1="1309.50" x2="1036" y2="1309.50"/>
<text x="1040.3" y="1313.5" font-size="12.4" text-anchor="start">0.48</text>
<line x1="1031.5" y1="1335.00" x2="1036" y2="1335.00"/>
<text x="1040.3" y="1339.0" font-size="12.4" text-anchor="start">0.36</text>
<line x1="1031.5" y1="1360.50" x2="1036" y2="1360.50"/>
<text x="1040.3" y="1364.5" font-size="12.4" text-anchor="start">0.23</text>
<line x1="1031.5" y1="1386.00" x2="1036" y2="1386.00"/>
<text x="1040.3" y="1390.0" font-size="12.4" text-anchor="start">0.11</text>
<line x1="1031.5" y1="1411.50" x2="1036" y2="1411.50"/>
<text x="1040.3" y="1415.5" font-size="12.4" text-anchor="start">−0.02</text>
<text x="1023.0" y="1195.6" font-size="17.5" text-anchor="middle">-P<tspan font-size="12" dy="4.5">12</tspan><tspan dy="-4.5">(θ)/P</tspan><tspan font-size="12" dy="4.5">11</tspan><tspan dy="-4.5">(θ)</tspan></text>
</svg>
</body></html>
